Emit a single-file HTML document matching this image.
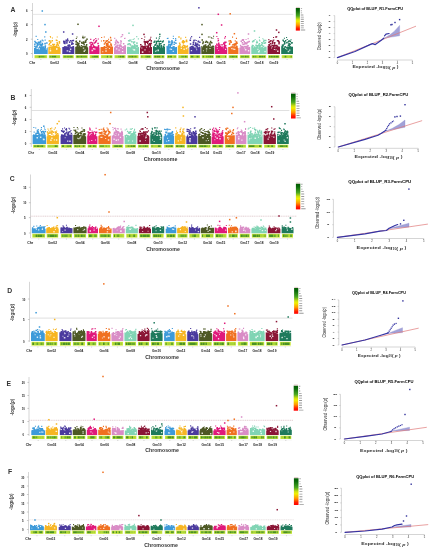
<!DOCTYPE html><html><head><meta charset="utf-8"><style>html,body{margin:0;padding:0;background:#fff;width:432px;height:550px;overflow:hidden}svg{display:block;filter:blur(0.35px)}</style></head><body>
<svg width="432" height="550" viewBox="0 0 432 550" font-family='"Liberation Sans", sans-serif'>
<defs><linearGradient id="leg" x1="0" y1="0" x2="0" y2="1"><stop offset="0" stop-color="#005a00"/><stop offset="0.12" stop-color="#0a6a0a"/><stop offset="0.35" stop-color="#4aa820"/><stop offset="0.5" stop-color="#d0e010"/><stop offset="0.58" stop-color="#f0f000"/><stop offset="0.75" stop-color="#ff9a00"/><stop offset="0.9" stop-color="#ff2000"/><stop offset="1" stop-color="#ff0000"/></linearGradient><linearGradient id="dens" x1="0" y1="0" x2="1" y2="0"><stop offset="0" stop-color="#b0dc30"/><stop offset="0.15" stop-color="#5aa020"/><stop offset="0.5" stop-color="#6aac28"/><stop offset="0.85" stop-color="#4a9420"/><stop offset="1" stop-color="#b8e030"/></linearGradient></defs>
<rect width="432" height="550" fill="#fff"/>
<text x="12.90" y="9.20" font-size="6.8" fill="#333" text-anchor="middle" font-weight="bold" dominant-baseline="central">A</text>
<text x="14.7" y="29.5" font-size="5.8" fill="#333" font-weight="bold" text-anchor="middle" dominant-baseline="central" textLength="14.8" lengthAdjust="spacingAndGlyphs" transform="rotate(-90 14.7 29.5)">-log<tspan font-size="3.2" dy="1">10</tspan><tspan dy="-1">(</tspan><tspan font-style="italic">p</tspan>)</text>
<line x1="32.5" y1="3" x2="32.5" y2="58" stroke="#bbb" stroke-width="0.6"/>
<line x1="30.9" y1="10.5" x2="32.5" y2="10.5" stroke="#999" stroke-width="0.5"/>
<text x="26.70" y="11.20" font-size="2.8" fill="#222" text-anchor="middle" font-weight="bold" dominant-baseline="central">6</text>
<line x1="30.9" y1="24.6" x2="32.5" y2="24.6" stroke="#999" stroke-width="0.5"/>
<text x="26.70" y="25.30" font-size="2.8" fill="#222" text-anchor="middle" font-weight="bold" dominant-baseline="central">4</text>
<line x1="30.9" y1="39.2" x2="32.5" y2="39.2" stroke="#999" stroke-width="0.5"/>
<text x="26.70" y="39.90" font-size="2.8" fill="#222" text-anchor="middle" font-weight="bold" dominant-baseline="central">2</text>
<line x1="30.9" y1="53.5" x2="32.5" y2="53.5" stroke="#999" stroke-width="0.5"/>
<text x="26.70" y="54.20" font-size="2.8" fill="#222" text-anchor="middle" font-weight="bold" dominant-baseline="central">0</text>
<line x1="32.5" y1="14.4" x2="293.2" y2="14.4" stroke="#e0e0e0" stroke-width="0.8" />
<path d="M34.0 54.1V47.9H35.0V47.9H36.0V46.9H37.0V46.8H38.0V47.6H39.0V46.2H40.0V47.1H41.0V47.4H42.0V46.8H43.0V47.2H44.0V47.5H45.0V46.4H46.0V47.9H47.0V47.5H47.7V54.1ZM36.4 44.4h1.5v1.5h-1.5zM34.2 40.7h1.5v1.5h-1.5zM42.0 47.4h1.5v1.5h-1.5zM41.5 42.8h1.5v1.5h-1.5zM38.0 42.0h1.5v1.5h-1.5zM44.3 42.9h1.5v1.5h-1.5zM46.1 42.3h1.5v1.5h-1.5zM37.4 44.0h1.5v1.5h-1.5zM38.8 41.6h1.5v1.5h-1.5zM43.1 46.2h1.5v1.5h-1.5zM38.2 42.3h1.5v1.5h-1.5zM36.8 43.1h1.5v1.5h-1.5zM34.8 47.2h1.5v1.5h-1.5zM44.6 45.3h1.5v1.5h-1.5zM34.1 45.5h1.5v1.5h-1.5zM41.2 46.2h1.5v1.5h-1.5zM36.2 46.0h1.5v1.5h-1.5zM38.1 47.5h1.5v1.5h-1.5zM40.3 43.9h1.5v1.5h-1.5zM39.9 40.4h1.5v1.5h-1.5zM42.7 47.5h1.5v1.5h-1.5zM43.2 47.3h1.5v1.5h-1.5zM41.8 43.4h1.5v1.5h-1.5zM35.6 46.2h1.5v1.5h-1.5zM41.2 44.8h1.5v1.5h-1.5zM39.6 46.7h1.5v1.5h-1.5zM43.0 46.3h1.5v1.5h-1.5zM44.4 42.7h1.5v1.5h-1.5zM41.0 46.9h1.5v1.5h-1.5zM39.9 41.2h1.5v1.5h-1.5zM40.6 47.0h1.5v1.5h-1.5zM41.1 47.4h1.5v1.5h-1.5zM34.1 43.5h1.5v1.5h-1.5zM37.7 41.5h1.5v1.5h-1.5zM35.9 42.2h1.5v1.5h-1.5zM37.0 44.2h1.5v1.5h-1.5zM39.1 44.0h1.5v1.5h-1.5zM39.4 43.3h1.5v1.5h-1.5zM40.1 44.9h1.5v1.5h-1.5zM34.9 41.7h1.5v1.5h-1.5zM35.9 46.9h1.5v1.5h-1.5zM37.2 39.0h1.1v1.1h-1.1zM44.6 39.6h1.1v1.1h-1.1zM41.7 39.6h1.1v1.1h-1.1zM42.5 40.3h1.1v1.1h-1.1zM35.6 35.8h1.1v1.1h-1.1zM44.2 36.3h1.1v1.1h-1.1z" fill="#3d9ad9"/>
<path d="M38.5 48.0h1.0v1.0h-1.0zM45.8 48.3h1.1v1.1h-1.1zM38.7 48.3h1.2v1.2h-1.2zM36.5 47.6h1.5v1.5h-1.5z" fill="#fff" fill-opacity="0.8"/>
<rect x="34.50" y="55.2" width="12.70" height="3.00" fill="#cce838"/>
<path d="M35.3 55.8h1.1v1.8h-1.1zM36.7 55.8h1.8v1.8h-1.8zM45.3 55.8h1.1v1.8h-1.1z" fill="#a8d43a"/>
<path d="M38.6 55.8h1.5v1.8h-1.5z" fill="#4a9226"/>
<path d="M40.1 55.8h1.3v1.8h-1.3zM41.4 55.8h2.6v1.8h-2.6zM44.3 55.8h1.0v1.8h-1.0z" fill="#66aa30"/>
<line x1="40.85" y1="59" x2="40.85" y2="60" stroke="#888" stroke-width="0.4"/>
<path d="M48.3 54.1V46.8H49.3V46.5H50.3V46.9H51.3V46.4H52.3V46.1H53.3V46.5H54.3V47.0H55.3V47.3H56.3V46.0H57.3V46.6H58.3V46.8H59.3V47.9H60.3V48.0H60.6V54.1ZM58.7 41.2h1.5v1.5h-1.5zM49.1 40.0h1.5v1.5h-1.5zM56.3 47.0h1.5v1.5h-1.5zM52.0 43.8h1.5v1.5h-1.5zM50.2 44.9h1.5v1.5h-1.5zM50.0 47.2h1.5v1.5h-1.5zM53.1 47.1h1.5v1.5h-1.5zM58.4 46.4h1.5v1.5h-1.5zM55.8 47.5h1.5v1.5h-1.5zM57.6 44.6h1.5v1.5h-1.5zM53.6 43.8h1.5v1.5h-1.5zM58.6 41.0h1.5v1.5h-1.5zM52.5 46.8h1.5v1.5h-1.5zM57.8 47.4h1.5v1.5h-1.5zM49.0 42.8h1.5v1.5h-1.5zM50.0 41.5h1.5v1.5h-1.5zM48.5 40.3h1.5v1.5h-1.5zM53.0 45.4h1.5v1.5h-1.5zM56.7 46.6h1.5v1.5h-1.5zM55.3 47.3h1.5v1.5h-1.5zM48.6 47.2h1.5v1.5h-1.5zM55.7 39.5h1.5v1.5h-1.5zM51.5 40.1h1.5v1.5h-1.5zM51.7 47.4h1.5v1.5h-1.5zM55.9 44.2h1.5v1.5h-1.5zM56.4 42.1h1.5v1.5h-1.5zM55.4 47.4h1.5v1.5h-1.5zM54.2 45.9h1.5v1.5h-1.5zM52.3 44.0h1.5v1.5h-1.5zM54.4 47.4h1.5v1.5h-1.5zM55.3 45.7h1.5v1.5h-1.5zM48.4 44.0h1.5v1.5h-1.5zM58.7 42.2h1.5v1.5h-1.5zM49.1 40.1h1.5v1.5h-1.5zM49.7 47.4h1.5v1.5h-1.5zM56.9 43.5h1.5v1.5h-1.5zM50.0 36.7h1.1v1.1h-1.1zM51.5 40.5h1.1v1.1h-1.1zM49.8 36.0h1.1v1.1h-1.1zM51.9 37.4h1.1v1.1h-1.1zM56.7 36.5h1.1v1.1h-1.1zM56.6 40.1h1.1v1.1h-1.1z" fill="#f7b522"/>
<path d="M56.1 48.8h1.3v1.3h-1.3zM49.9 48.5h1.0v1.0h-1.0zM49.7 49.9h1.5v1.5h-1.5zM56.1 47.9h1.4v1.4h-1.4z" fill="#fff" fill-opacity="0.8"/>
<rect x="48.80" y="55.2" width="11.30" height="3.00" fill="#cce838"/>
<path d="M49.6 55.8h1.8v1.8h-1.8zM58.7 55.8h0.6v1.8h-0.6z" fill="#66aa30"/>
<path d="M51.7 55.8h2.1v1.8h-2.1zM53.9 55.8h2.5v1.8h-2.5z" fill="#4a9226"/>
<path d="M56.4 55.8h2.3v1.8h-2.3z" fill="#a8d43a"/>
<line x1="54.45" y1="59" x2="54.45" y2="60" stroke="#888" stroke-width="0.4"/>
<text x="54.45" y="63.00" font-size="2.8" fill="#222" text-anchor="middle" font-weight="bold" dominant-baseline="central" textLength="9" lengthAdjust="spacingAndGlyphs">Gm02</text>
<path d="M62.3 54.1V47.0H63.3V47.6H64.3V46.0H65.3V46.8H66.3V47.5H67.3V47.9H68.3V46.0H69.3V47.2H70.3V46.2H71.3V47.1H72.3V46.0H73.3V47.6H74.3V54.1ZM65.5 39.4h1.5v1.5h-1.5zM72.3 43.1h1.5v1.5h-1.5zM62.6 46.9h1.5v1.5h-1.5zM67.2 39.8h1.5v1.5h-1.5zM65.3 46.3h1.5v1.5h-1.5zM71.3 41.9h1.5v1.5h-1.5zM64.7 47.4h1.5v1.5h-1.5zM65.4 46.6h1.5v1.5h-1.5zM67.3 44.7h1.5v1.5h-1.5zM69.2 44.7h1.5v1.5h-1.5zM64.7 47.5h1.5v1.5h-1.5zM66.2 47.2h1.5v1.5h-1.5zM64.2 42.8h1.5v1.5h-1.5zM66.8 46.5h1.5v1.5h-1.5zM63.5 47.5h1.5v1.5h-1.5zM68.4 45.4h1.5v1.5h-1.5zM70.1 47.3h1.5v1.5h-1.5zM63.1 40.6h1.5v1.5h-1.5zM63.5 42.4h1.5v1.5h-1.5zM66.2 40.8h1.5v1.5h-1.5zM71.1 46.9h1.5v1.5h-1.5zM71.0 43.5h1.5v1.5h-1.5zM72.6 46.0h1.5v1.5h-1.5zM64.3 40.9h1.5v1.5h-1.5zM62.3 47.4h1.5v1.5h-1.5zM69.8 47.5h1.5v1.5h-1.5zM71.8 39.9h1.5v1.5h-1.5zM72.6 39.7h1.5v1.5h-1.5zM68.9 47.3h1.5v1.5h-1.5zM68.9 41.5h1.5v1.5h-1.5zM64.1 42.0h1.5v1.5h-1.5zM67.7 47.4h1.5v1.5h-1.5zM66.1 42.2h1.5v1.5h-1.5zM63.8 46.6h1.5v1.5h-1.5zM63.0 41.1h1.5v1.5h-1.5zM68.4 44.3h1.5v1.5h-1.5zM67.0 39.2h1.1v1.1h-1.1zM67.1 38.3h1.1v1.1h-1.1zM69.6 40.5h1.1v1.1h-1.1zM70.0 40.0h1.1v1.1h-1.1zM65.4 39.8h1.1v1.1h-1.1zM71.0 40.6h1.1v1.1h-1.1z" fill="#4a3a9e"/>
<path d="M67.2 50.3h1.1v1.1h-1.1zM68.9 50.7h1.6v1.6h-1.6zM66.6 50.3h1.3v1.3h-1.3zM69.9 48.5h1.4v1.4h-1.4z" fill="#fff" fill-opacity="0.8"/>
<rect x="62.80" y="55.2" width="11.00" height="3.00" fill="#cce838"/>
<path d="M63.6 55.8h1.5v1.8h-1.5zM65.1 55.8h1.3v1.8h-1.3zM66.7 55.8h2.4v1.8h-2.4zM69.2 55.8h1.1v1.8h-1.1zM72.2 55.8h0.8v1.8h-0.8z" fill="#66aa30"/>
<path d="M70.2 55.8h1.7v1.8h-1.7z" fill="#4a9226"/>
<line x1="68.30" y1="59" x2="68.30" y2="60" stroke="#888" stroke-width="0.4"/>
<path d="M75.2 54.1V46.8H76.2V46.3H77.2V46.8H78.2V47.8H79.2V46.9H80.2V46.6H81.2V46.9H82.2V46.1H83.2V46.5H84.2V46.7H85.2V46.2H86.2V46.7H87.2V47.5H88.2V54.1ZM75.3 43.5h1.5v1.5h-1.5zM85.3 39.8h1.5v1.5h-1.5zM81.5 47.3h1.5v1.5h-1.5zM77.7 43.2h1.5v1.5h-1.5zM84.9 41.5h1.5v1.5h-1.5zM81.4 42.6h1.5v1.5h-1.5zM80.6 47.0h1.5v1.5h-1.5zM85.3 45.5h1.5v1.5h-1.5zM83.3 46.1h1.5v1.5h-1.5zM76.5 42.0h1.5v1.5h-1.5zM83.4 44.0h1.5v1.5h-1.5zM80.8 44.9h1.5v1.5h-1.5zM77.2 43.0h1.5v1.5h-1.5zM76.5 44.1h1.5v1.5h-1.5zM83.2 42.1h1.5v1.5h-1.5zM78.6 45.4h1.5v1.5h-1.5zM77.0 47.2h1.5v1.5h-1.5zM80.9 41.8h1.5v1.5h-1.5zM85.9 44.0h1.5v1.5h-1.5zM82.1 46.1h1.5v1.5h-1.5zM75.3 40.9h1.5v1.5h-1.5zM77.9 44.3h1.5v1.5h-1.5zM78.2 42.6h1.5v1.5h-1.5zM76.9 47.0h1.5v1.5h-1.5zM77.7 46.4h1.5v1.5h-1.5zM83.0 42.4h1.5v1.5h-1.5zM75.6 40.4h1.5v1.5h-1.5zM83.5 46.7h1.5v1.5h-1.5zM76.6 44.1h1.5v1.5h-1.5zM76.8 45.5h1.5v1.5h-1.5zM84.1 46.0h1.5v1.5h-1.5zM79.0 40.6h1.5v1.5h-1.5zM84.6 40.6h1.5v1.5h-1.5zM75.3 43.5h1.5v1.5h-1.5zM86.1 46.5h1.5v1.5h-1.5zM80.1 47.1h1.5v1.5h-1.5zM82.9 47.4h1.5v1.5h-1.5zM82.7 41.2h1.5v1.5h-1.5zM84.8 41.4h1.5v1.5h-1.5zM84.4 36.5h1.1v1.1h-1.1zM82.4 35.7h1.1v1.1h-1.1zM83.1 37.5h1.1v1.1h-1.1zM76.4 36.5h1.1v1.1h-1.1zM83.4 37.2h1.1v1.1h-1.1zM75.8 38.0h1.1v1.1h-1.1z" fill="#4d5824"/>
<path d="M84.5 49.4h1.3v1.3h-1.3zM82.8 47.4h1.4v1.4h-1.4zM83.5 50.6h1.5v1.5h-1.5zM83.2 47.4h1.0v1.0h-1.0z" fill="#fff" fill-opacity="0.8"/>
<rect x="75.70" y="55.2" width="12.00" height="3.00" fill="#cce838"/>
<path d="M76.5 55.8h2.3v1.8h-2.3zM80.4 55.8h2.2v1.8h-2.2z" fill="#4a9226"/>
<path d="M79.1 55.8h1.3v1.8h-1.3zM82.6 55.8h1.5v1.8h-1.5zM84.1 55.8h1.0v1.8h-1.0zM85.1 55.8h1.8v1.8h-1.8z" fill="#66aa30"/>
<line x1="81.70" y1="59" x2="81.70" y2="60" stroke="#888" stroke-width="0.4"/>
<text x="81.70" y="63.00" font-size="2.8" fill="#222" text-anchor="middle" font-weight="bold" dominant-baseline="central" textLength="9" lengthAdjust="spacingAndGlyphs">Gm04</text>
<path d="M89.2 54.1V46.5H90.2V46.7H91.2V46.2H92.2V47.2H93.2V46.1H94.2V46.5H95.2V46.8H96.2V47.6H97.2V47.1H98.2V47.4H99.5V54.1ZM89.3 42.2h1.5v1.5h-1.5zM93.4 47.4h1.5v1.5h-1.5zM95.7 39.8h1.5v1.5h-1.5zM95.9 47.3h1.5v1.5h-1.5zM94.9 47.2h1.5v1.5h-1.5zM95.8 46.6h1.5v1.5h-1.5zM91.9 43.5h1.5v1.5h-1.5zM90.1 46.6h1.5v1.5h-1.5zM90.3 44.2h1.5v1.5h-1.5zM92.7 44.7h1.5v1.5h-1.5zM90.6 46.8h1.5v1.5h-1.5zM95.1 40.8h1.5v1.5h-1.5zM97.3 42.8h1.5v1.5h-1.5zM94.5 47.1h1.5v1.5h-1.5zM91.0 46.8h1.5v1.5h-1.5zM91.1 46.4h1.5v1.5h-1.5zM93.0 45.8h1.5v1.5h-1.5zM93.8 42.3h1.5v1.5h-1.5zM94.7 41.6h1.5v1.5h-1.5zM97.7 46.2h1.5v1.5h-1.5zM90.4 41.7h1.5v1.5h-1.5zM97.8 44.9h1.5v1.5h-1.5zM90.3 45.6h1.5v1.5h-1.5zM92.7 47.0h1.5v1.5h-1.5zM91.8 42.3h1.5v1.5h-1.5zM92.5 47.1h1.5v1.5h-1.5zM89.3 45.9h1.5v1.5h-1.5zM96.4 46.6h1.5v1.5h-1.5zM94.0 46.1h1.5v1.5h-1.5zM90.6 43.9h1.5v1.5h-1.5zM93.0 40.2h1.1v1.1h-1.1zM97.8 38.4h1.1v1.1h-1.1zM93.6 39.1h1.1v1.1h-1.1zM90.2 38.8h1.1v1.1h-1.1zM95.2 38.0h1.1v1.1h-1.1z" fill="#e0197b"/>
<path d="M92.9 47.9h1.5v1.5h-1.5zM94.4 48.6h1.1v1.1h-1.1zM91.5 49.7h1.6v1.6h-1.6z" fill="#fff" fill-opacity="0.8"/>
<rect x="89.70" y="55.2" width="9.30" height="3.00" fill="#cce838"/>
<path d="M90.5 55.8h1.3v1.8h-1.3z" fill="#a8d43a"/>
<path d="M91.8 55.8h2.1v1.8h-2.1z" fill="#66aa30"/>
<path d="M93.8 55.8h1.4v1.8h-1.4zM95.2 55.8h2.1v1.8h-2.1zM97.3 55.8h0.9v1.8h-0.9z" fill="#4a9226"/>
<line x1="94.35" y1="59" x2="94.35" y2="60" stroke="#888" stroke-width="0.4"/>
<path d="M100.5 54.1V47.2H101.5V47.8H102.5V47.7H103.5V47.2H104.5V46.7H105.5V46.6H106.5V46.2H107.5V47.8H108.5V46.2H109.5V47.2H110.5V47.2H111.5V47.1H112.5V46.6H113.0V54.1ZM106.5 43.3h1.5v1.5h-1.5zM104.4 47.3h1.5v1.5h-1.5zM110.1 43.3h1.5v1.5h-1.5zM103.7 43.3h1.5v1.5h-1.5zM104.2 47.2h1.5v1.5h-1.5zM107.3 45.7h1.5v1.5h-1.5zM108.2 46.9h1.5v1.5h-1.5zM110.8 46.2h1.5v1.5h-1.5zM110.7 47.2h1.5v1.5h-1.5zM108.8 45.5h1.5v1.5h-1.5zM107.2 45.7h1.5v1.5h-1.5zM107.1 42.6h1.5v1.5h-1.5zM105.4 40.5h1.5v1.5h-1.5zM107.2 44.1h1.5v1.5h-1.5zM104.6 42.0h1.5v1.5h-1.5zM105.7 40.3h1.5v1.5h-1.5zM106.0 43.2h1.5v1.5h-1.5zM104.6 47.4h1.5v1.5h-1.5zM105.8 47.1h1.5v1.5h-1.5zM110.3 39.5h1.5v1.5h-1.5zM105.9 42.7h1.5v1.5h-1.5zM103.0 40.0h1.5v1.5h-1.5zM100.8 46.9h1.5v1.5h-1.5zM107.9 41.3h1.5v1.5h-1.5zM109.0 41.5h1.5v1.5h-1.5zM104.8 47.5h1.5v1.5h-1.5zM110.2 43.7h1.5v1.5h-1.5zM105.8 44.5h1.5v1.5h-1.5zM109.6 46.5h1.5v1.5h-1.5zM102.0 47.0h1.5v1.5h-1.5zM106.6 45.6h1.5v1.5h-1.5zM108.4 45.6h1.5v1.5h-1.5zM106.7 40.1h1.5v1.5h-1.5zM103.6 46.0h1.5v1.5h-1.5zM103.7 46.1h1.5v1.5h-1.5zM111.2 47.5h1.5v1.5h-1.5zM110.6 44.5h1.5v1.5h-1.5zM100.9 40.5h1.1v1.1h-1.1zM109.9 36.8h1.1v1.1h-1.1zM101.1 36.9h1.1v1.1h-1.1zM103.8 36.5h1.1v1.1h-1.1zM110.2 37.3h1.1v1.1h-1.1zM108.0 38.7h1.1v1.1h-1.1z" fill="#f07020"/>
<path d="M105.4 48.1h1.2v1.2h-1.2zM108.9 48.0h1.1v1.1h-1.1zM105.3 50.3h1.5v1.5h-1.5zM102.2 51.2h1.1v1.1h-1.1z" fill="#fff" fill-opacity="0.8"/>
<rect x="101.00" y="55.2" width="11.50" height="3.00" fill="#cce838"/>
<path d="M101.8 55.8h2.0v1.8h-2.0zM104.1 55.8h2.3v1.8h-2.3zM108.2 55.8h2.1v1.8h-2.1z" fill="#a8d43a"/>
<path d="M106.7 55.8h1.4v1.8h-1.4zM110.3 55.8h1.4v1.8h-1.4z" fill="#4a9226"/>
<line x1="106.75" y1="59" x2="106.75" y2="60" stroke="#888" stroke-width="0.4"/>
<text x="106.75" y="63.00" font-size="2.8" fill="#222" text-anchor="middle" font-weight="bold" dominant-baseline="central" textLength="9" lengthAdjust="spacingAndGlyphs">Gm06</text>
<path d="M114.0 54.1V47.6H115.0V46.1H116.0V47.5H117.0V47.1H118.0V47.9H119.0V46.4H120.0V48.0H121.0V47.7H122.0V47.1H123.0V47.0H124.0V47.5H125.0V46.3H126.0V54.1ZM115.5 47.4h1.5v1.5h-1.5zM114.5 46.8h1.5v1.5h-1.5zM120.8 47.5h1.5v1.5h-1.5zM115.7 40.0h1.5v1.5h-1.5zM120.4 40.6h1.5v1.5h-1.5zM115.5 39.5h1.5v1.5h-1.5zM124.3 45.1h1.5v1.5h-1.5zM118.4 44.4h1.5v1.5h-1.5zM115.4 46.1h1.5v1.5h-1.5zM116.8 41.1h1.5v1.5h-1.5zM116.0 45.7h1.5v1.5h-1.5zM119.6 45.2h1.5v1.5h-1.5zM118.0 46.7h1.5v1.5h-1.5zM115.1 42.7h1.5v1.5h-1.5zM116.4 44.9h1.5v1.5h-1.5zM117.7 41.9h1.5v1.5h-1.5zM114.8 41.4h1.5v1.5h-1.5zM120.2 42.3h1.5v1.5h-1.5zM119.2 45.3h1.5v1.5h-1.5zM115.5 47.4h1.5v1.5h-1.5zM114.2 44.1h1.5v1.5h-1.5zM123.3 45.9h1.5v1.5h-1.5zM116.8 41.8h1.5v1.5h-1.5zM120.3 47.5h1.5v1.5h-1.5zM122.9 43.1h1.5v1.5h-1.5zM120.5 45.4h1.5v1.5h-1.5zM116.4 47.3h1.5v1.5h-1.5zM115.8 46.2h1.5v1.5h-1.5zM115.5 46.7h1.5v1.5h-1.5zM120.6 47.3h1.5v1.5h-1.5zM122.0 46.6h1.5v1.5h-1.5zM119.9 44.6h1.5v1.5h-1.5zM120.3 45.6h1.5v1.5h-1.5zM119.6 44.3h1.5v1.5h-1.5zM116.6 44.4h1.5v1.5h-1.5zM116.7 45.2h1.5v1.5h-1.5zM124.5 37.7h1.1v1.1h-1.1zM124.0 37.9h1.1v1.1h-1.1zM114.2 37.8h1.1v1.1h-1.1zM120.4 36.4h1.1v1.1h-1.1zM121.3 36.0h1.1v1.1h-1.1zM119.9 40.2h1.1v1.1h-1.1z" fill="#d98cc6"/>
<path d="M121.9 50.9h1.4v1.4h-1.4zM118.4 49.4h1.4v1.4h-1.4zM122.0 48.1h0.9v0.9h-0.9zM115.9 48.2h1.4v1.4h-1.4z" fill="#fff" fill-opacity="0.8"/>
<rect x="114.50" y="55.2" width="11.00" height="3.00" fill="#cce838"/>
<path d="M115.3 55.8h2.6v1.8h-2.6z" fill="#a8d43a"/>
<path d="M118.2 55.8h1.6v1.8h-1.6zM124.3 55.8h0.4v1.8h-0.4z" fill="#66aa30"/>
<path d="M120.0 55.8h1.4v1.8h-1.4zM121.7 55.8h2.3v1.8h-2.3z" fill="#4a9226"/>
<line x1="120.00" y1="59" x2="120.00" y2="60" stroke="#888" stroke-width="0.4"/>
<path d="M127.0 54.1V46.7H128.0V47.1H129.0V47.1H130.0V47.4H131.0V47.4H132.0V46.8H133.0V47.8H134.0V46.1H135.0V47.9H136.0V48.0H137.0V47.8H138.0V47.1H139.0V54.1ZM129.1 39.4h1.5v1.5h-1.5zM133.5 44.8h1.5v1.5h-1.5zM132.5 46.3h1.5v1.5h-1.5zM127.4 46.8h1.5v1.5h-1.5zM133.8 41.2h1.5v1.5h-1.5zM131.1 40.9h1.5v1.5h-1.5zM129.7 44.1h1.5v1.5h-1.5zM136.2 42.3h1.5v1.5h-1.5zM131.2 45.5h1.5v1.5h-1.5zM129.6 44.2h1.5v1.5h-1.5zM131.4 45.5h1.5v1.5h-1.5zM135.2 45.1h1.5v1.5h-1.5zM137.0 47.2h1.5v1.5h-1.5zM133.3 46.0h1.5v1.5h-1.5zM132.6 47.2h1.5v1.5h-1.5zM136.6 45.5h1.5v1.5h-1.5zM131.6 45.3h1.5v1.5h-1.5zM127.9 46.7h1.5v1.5h-1.5zM134.9 46.9h1.5v1.5h-1.5zM130.4 46.6h1.5v1.5h-1.5zM134.0 43.9h1.5v1.5h-1.5zM136.2 42.8h1.5v1.5h-1.5zM132.9 42.2h1.5v1.5h-1.5zM132.2 46.1h1.5v1.5h-1.5zM127.2 43.7h1.5v1.5h-1.5zM136.6 44.9h1.5v1.5h-1.5zM128.9 42.9h1.5v1.5h-1.5zM132.2 47.4h1.5v1.5h-1.5zM135.7 45.9h1.5v1.5h-1.5zM132.9 41.6h1.5v1.5h-1.5zM132.3 46.7h1.5v1.5h-1.5zM130.8 46.9h1.5v1.5h-1.5zM134.6 46.6h1.5v1.5h-1.5zM131.8 47.1h1.5v1.5h-1.5zM127.8 43.3h1.5v1.5h-1.5zM127.9 39.9h1.5v1.5h-1.5zM130.5 39.5h1.1v1.1h-1.1zM133.7 38.2h1.1v1.1h-1.1zM132.6 39.0h1.1v1.1h-1.1zM137.8 38.3h1.1v1.1h-1.1zM129.4 40.6h1.1v1.1h-1.1zM136.2 36.1h1.1v1.1h-1.1z" fill="#80d4b4"/>
<path d="M133.8 49.4h1.4v1.4h-1.4zM132.5 48.7h0.8v0.8h-0.8zM133.5 49.1h1.6v1.6h-1.6zM133.3 49.1h1.2v1.2h-1.2z" fill="#fff" fill-opacity="0.8"/>
<rect x="127.50" y="55.2" width="11.00" height="3.00" fill="#cce838"/>
<path d="M128.3 55.8h1.4v1.8h-1.4zM129.7 55.8h1.7v1.8h-1.7zM133.6 55.8h1.3v1.8h-1.3z" fill="#66aa30"/>
<path d="M131.4 55.8h2.0v1.8h-2.0zM135.2 55.8h1.4v1.8h-1.4z" fill="#4a9226"/>
<path d="M136.9 55.8h0.8v1.8h-0.8z" fill="#a8d43a"/>
<line x1="133.00" y1="59" x2="133.00" y2="60" stroke="#888" stroke-width="0.4"/>
<text x="133.00" y="63.00" font-size="2.8" fill="#222" text-anchor="middle" font-weight="bold" dominant-baseline="central" textLength="9" lengthAdjust="spacingAndGlyphs">Gm08</text>
<path d="M140.0 54.1V47.9H141.0V47.6H142.0V46.9H143.0V47.6H144.0V46.8H145.0V46.7H146.0V47.6H147.0V46.3H148.0V46.8H149.0V47.2H150.0V46.2H151.0V47.1H152.0V54.1ZM141.4 45.7h1.5v1.5h-1.5zM144.4 45.3h1.5v1.5h-1.5zM142.7 46.1h1.5v1.5h-1.5zM142.6 46.1h1.5v1.5h-1.5zM142.4 47.5h1.5v1.5h-1.5zM148.7 39.4h1.5v1.5h-1.5zM144.3 42.4h1.5v1.5h-1.5zM149.7 44.8h1.5v1.5h-1.5zM149.8 43.8h1.5v1.5h-1.5zM140.4 47.0h1.5v1.5h-1.5zM150.4 42.5h1.5v1.5h-1.5zM148.2 44.0h1.5v1.5h-1.5zM147.0 42.7h1.5v1.5h-1.5zM147.6 40.7h1.5v1.5h-1.5zM140.5 46.1h1.5v1.5h-1.5zM142.6 47.4h1.5v1.5h-1.5zM146.4 40.8h1.5v1.5h-1.5zM146.2 45.5h1.5v1.5h-1.5zM145.6 41.5h1.5v1.5h-1.5zM140.0 44.0h1.5v1.5h-1.5zM143.0 46.1h1.5v1.5h-1.5zM149.0 43.1h1.5v1.5h-1.5zM144.3 41.0h1.5v1.5h-1.5zM141.0 45.7h1.5v1.5h-1.5zM150.5 40.3h1.5v1.5h-1.5zM146.9 45.9h1.5v1.5h-1.5zM145.1 41.3h1.5v1.5h-1.5zM141.4 47.4h1.5v1.5h-1.5zM140.3 46.9h1.5v1.5h-1.5zM147.2 45.4h1.5v1.5h-1.5zM146.7 41.6h1.5v1.5h-1.5zM150.3 47.2h1.5v1.5h-1.5zM144.4 43.6h1.5v1.5h-1.5zM143.6 41.1h1.5v1.5h-1.5zM147.8 45.2h1.5v1.5h-1.5zM141.6 45.6h1.5v1.5h-1.5zM141.3 38.0h1.1v1.1h-1.1zM144.2 36.4h1.1v1.1h-1.1zM143.8 39.3h1.1v1.1h-1.1zM150.6 40.1h1.1v1.1h-1.1zM149.9 38.6h1.1v1.1h-1.1zM150.3 36.7h1.1v1.1h-1.1z" fill="#8a1535"/>
<path d="M148.8 51.4h0.8v0.8h-0.8zM141.8 51.3h1.6v1.6h-1.6zM141.3 47.4h1.1v1.1h-1.1zM144.4 49.2h1.2v1.2h-1.2z" fill="#fff" fill-opacity="0.8"/>
<rect x="140.50" y="55.2" width="11.00" height="3.00" fill="#cce838"/>
<path d="M141.3 55.8h1.3v1.8h-1.3zM145.2 55.8h1.5v1.8h-1.5zM150.5 55.8h0.2v1.8h-0.2z" fill="#66aa30"/>
<path d="M142.9 55.8h2.2v1.8h-2.2z" fill="#a8d43a"/>
<path d="M146.6 55.8h2.0v1.8h-2.0zM148.7 55.8h1.5v1.8h-1.5z" fill="#4a9226"/>
<line x1="146.00" y1="59" x2="146.00" y2="60" stroke="#888" stroke-width="0.4"/>
<path d="M153.0 54.1V46.2H154.0V46.2H155.0V47.1H156.0V47.8H157.0V46.6H158.0V46.5H159.0V46.9H160.0V47.5H161.0V47.2H162.0V47.6H163.0V46.5H164.0V46.7H165.0V54.1ZM160.8 46.6h1.5v1.5h-1.5zM159.0 43.0h1.5v1.5h-1.5zM159.9 40.6h1.5v1.5h-1.5zM156.4 45.8h1.5v1.5h-1.5zM156.1 47.3h1.5v1.5h-1.5zM158.7 45.2h1.5v1.5h-1.5zM155.7 42.7h1.5v1.5h-1.5zM162.1 40.8h1.5v1.5h-1.5zM157.3 46.4h1.5v1.5h-1.5zM158.6 43.1h1.5v1.5h-1.5zM156.0 40.7h1.5v1.5h-1.5zM157.1 40.6h1.5v1.5h-1.5zM153.4 41.5h1.5v1.5h-1.5zM154.1 40.4h1.5v1.5h-1.5zM161.7 41.3h1.5v1.5h-1.5zM163.3 47.4h1.5v1.5h-1.5zM155.6 42.0h1.5v1.5h-1.5zM157.9 45.5h1.5v1.5h-1.5zM160.4 45.8h1.5v1.5h-1.5zM162.7 45.8h1.5v1.5h-1.5zM163.1 46.4h1.5v1.5h-1.5zM160.4 46.2h1.5v1.5h-1.5zM160.6 45.0h1.5v1.5h-1.5zM156.6 44.8h1.5v1.5h-1.5zM157.9 47.3h1.5v1.5h-1.5zM154.2 44.5h1.5v1.5h-1.5zM153.0 47.4h1.5v1.5h-1.5zM160.2 42.9h1.5v1.5h-1.5zM158.5 41.1h1.5v1.5h-1.5zM157.8 45.7h1.5v1.5h-1.5zM156.4 45.5h1.5v1.5h-1.5zM163.4 44.1h1.5v1.5h-1.5zM160.0 47.4h1.5v1.5h-1.5zM158.7 43.9h1.5v1.5h-1.5zM155.4 47.4h1.5v1.5h-1.5zM154.8 44.1h1.5v1.5h-1.5zM158.9 37.7h1.1v1.1h-1.1zM162.9 40.3h1.1v1.1h-1.1zM155.9 37.6h1.1v1.1h-1.1zM158.6 37.4h1.1v1.1h-1.1zM158.1 39.5h1.1v1.1h-1.1zM159.3 35.9h1.1v1.1h-1.1z" fill="#1f7a5c"/>
<path d="M155.6 50.4h1.0v1.0h-1.0zM157.4 49.6h1.6v1.6h-1.6zM155.8 50.3h0.9v0.9h-0.9zM155.1 51.2h0.9v0.9h-0.9z" fill="#fff" fill-opacity="0.8"/>
<rect x="153.50" y="55.2" width="11.00" height="3.00" fill="#cce838"/>
<path d="M154.3 55.8h1.7v1.8h-1.7zM156.3 55.8h2.5v1.8h-2.5zM158.9 55.8h1.6v1.8h-1.6zM162.0 55.8h1.7v1.8h-1.7z" fill="#4a9226"/>
<path d="M160.8 55.8h1.1v1.8h-1.1z" fill="#a8d43a"/>
<line x1="159.00" y1="59" x2="159.00" y2="60" stroke="#888" stroke-width="0.4"/>
<text x="159.00" y="63.00" font-size="2.8" fill="#222" text-anchor="middle" font-weight="bold" dominant-baseline="central" textLength="9" lengthAdjust="spacingAndGlyphs">Gm10</text>
<path d="M166.5 54.1V46.1H167.5V46.4H168.5V46.5H169.5V47.7H170.5V47.2H171.5V47.3H172.5V47.2H173.5V46.7H174.5V47.2H175.5V46.9H176.5V48.0H177.0V54.1ZM175.2 42.4h1.5v1.5h-1.5zM168.1 43.7h1.5v1.5h-1.5zM167.8 46.2h1.5v1.5h-1.5zM171.1 41.3h1.5v1.5h-1.5zM171.1 47.0h1.5v1.5h-1.5zM171.8 41.4h1.5v1.5h-1.5zM171.2 47.4h1.5v1.5h-1.5zM174.9 39.4h1.5v1.5h-1.5zM170.6 43.1h1.5v1.5h-1.5zM175.5 46.9h1.5v1.5h-1.5zM169.5 44.0h1.5v1.5h-1.5zM171.2 42.6h1.5v1.5h-1.5zM173.4 43.4h1.5v1.5h-1.5zM170.7 47.5h1.5v1.5h-1.5zM173.8 41.4h1.5v1.5h-1.5zM167.3 46.6h1.5v1.5h-1.5zM174.4 47.2h1.5v1.5h-1.5zM172.4 46.3h1.5v1.5h-1.5zM171.2 39.9h1.5v1.5h-1.5zM169.1 41.2h1.5v1.5h-1.5zM168.1 41.7h1.5v1.5h-1.5zM167.7 45.2h1.5v1.5h-1.5zM173.2 45.9h1.5v1.5h-1.5zM175.5 47.4h1.5v1.5h-1.5zM167.9 46.0h1.5v1.5h-1.5zM169.7 44.0h1.5v1.5h-1.5zM169.5 46.4h1.5v1.5h-1.5zM168.1 40.4h1.5v1.5h-1.5zM171.8 47.2h1.5v1.5h-1.5zM171.0 44.1h1.5v1.5h-1.5zM169.6 45.0h1.5v1.5h-1.5zM172.8 35.7h1.1v1.1h-1.1zM167.4 37.8h1.1v1.1h-1.1zM172.8 38.0h1.1v1.1h-1.1zM166.8 38.0h1.1v1.1h-1.1zM175.1 38.0h1.1v1.1h-1.1z" fill="#3d9ad9"/>
<path d="M169.6 48.6h1.2v1.2h-1.2zM170.9 48.8h1.2v1.2h-1.2zM172.7 50.8h1.1v1.1h-1.1z" fill="#fff" fill-opacity="0.8"/>
<rect x="167.00" y="55.2" width="9.50" height="3.00" fill="#cce838"/>
<path d="M167.8 55.8h1.4v1.8h-1.4zM169.5 55.8h2.5v1.8h-2.5z" fill="#4a9226"/>
<path d="M172.4 55.8h1.6v1.8h-1.6z" fill="#a8d43a"/>
<path d="M174.3 55.8h1.4v1.8h-1.4z" fill="#66aa30"/>
<line x1="171.75" y1="59" x2="171.75" y2="60" stroke="#888" stroke-width="0.4"/>
<path d="M177.8 54.1V46.0H178.8V46.5H179.8V46.9H180.8V47.0H181.8V46.8H182.8V47.0H183.8V47.6H184.8V47.8H185.8V47.8H186.8V47.7H187.8V47.7H188.6V54.1ZM182.5 41.6h1.5v1.5h-1.5zM179.6 46.9h1.5v1.5h-1.5zM185.8 39.5h1.5v1.5h-1.5zM186.3 46.1h1.5v1.5h-1.5zM184.1 45.0h1.5v1.5h-1.5zM181.7 40.9h1.5v1.5h-1.5zM183.2 41.1h1.5v1.5h-1.5zM179.3 46.1h1.5v1.5h-1.5zM182.6 42.2h1.5v1.5h-1.5zM184.7 46.3h1.5v1.5h-1.5zM178.4 45.1h1.5v1.5h-1.5zM178.9 42.6h1.5v1.5h-1.5zM178.4 47.4h1.5v1.5h-1.5zM179.3 44.1h1.5v1.5h-1.5zM184.1 46.9h1.5v1.5h-1.5zM181.6 45.7h1.5v1.5h-1.5zM182.7 40.1h1.5v1.5h-1.5zM183.1 46.4h1.5v1.5h-1.5zM183.7 46.4h1.5v1.5h-1.5zM186.0 40.8h1.5v1.5h-1.5zM182.3 46.8h1.5v1.5h-1.5zM180.7 47.5h1.5v1.5h-1.5zM186.6 45.3h1.5v1.5h-1.5zM182.3 47.4h1.5v1.5h-1.5zM185.9 46.1h1.5v1.5h-1.5zM183.7 41.3h1.5v1.5h-1.5zM183.3 47.3h1.5v1.5h-1.5zM182.0 47.2h1.5v1.5h-1.5zM179.3 46.3h1.5v1.5h-1.5zM182.7 44.6h1.5v1.5h-1.5zM181.7 41.5h1.5v1.5h-1.5zM178.9 45.2h1.5v1.5h-1.5zM180.3 38.5h1.1v1.1h-1.1zM182.2 40.3h1.1v1.1h-1.1zM180.4 37.4h1.1v1.1h-1.1zM185.5 40.6h1.1v1.1h-1.1zM185.1 36.8h1.1v1.1h-1.1z" fill="#f7b522"/>
<path d="M183.4 48.4h1.5v1.5h-1.5zM185.8 47.7h1.5v1.5h-1.5zM180.7 47.8h1.3v1.3h-1.3z" fill="#fff" fill-opacity="0.8"/>
<rect x="178.30" y="55.2" width="9.80" height="3.00" fill="#cce838"/>
<path d="M179.1 55.8h2.1v1.8h-2.1z" fill="#a8d43a"/>
<path d="M181.2 55.8h2.0v1.8h-2.0zM183.1 55.8h1.6v1.8h-1.6z" fill="#66aa30"/>
<path d="M185.0 55.8h1.6v1.8h-1.6zM186.9 55.8h0.4v1.8h-0.4z" fill="#4a9226"/>
<line x1="183.20" y1="59" x2="183.20" y2="60" stroke="#888" stroke-width="0.4"/>
<text x="183.20" y="63.00" font-size="2.8" fill="#222" text-anchor="middle" font-weight="bold" dominant-baseline="central" textLength="9" lengthAdjust="spacingAndGlyphs">Gm12</text>
<path d="M189.4 54.1V46.7H190.4V47.8H191.4V47.2H192.4V46.1H193.4V46.5H194.4V47.8H195.4V46.4H196.4V47.2H197.4V47.8H198.4V47.9H199.4V47.6H200.6V54.1ZM191.7 46.2h1.5v1.5h-1.5zM192.4 47.3h1.5v1.5h-1.5zM192.1 47.0h1.5v1.5h-1.5zM192.6 41.7h1.5v1.5h-1.5zM197.5 41.1h1.5v1.5h-1.5zM198.4 44.6h1.5v1.5h-1.5zM196.7 46.2h1.5v1.5h-1.5zM190.6 46.0h1.5v1.5h-1.5zM193.0 47.4h1.5v1.5h-1.5zM189.8 43.2h1.5v1.5h-1.5zM193.2 39.8h1.5v1.5h-1.5zM189.5 46.8h1.5v1.5h-1.5zM196.1 45.2h1.5v1.5h-1.5zM198.9 46.6h1.5v1.5h-1.5zM194.9 42.3h1.5v1.5h-1.5zM195.1 43.5h1.5v1.5h-1.5zM197.7 40.6h1.5v1.5h-1.5zM192.5 43.8h1.5v1.5h-1.5zM199.1 41.4h1.5v1.5h-1.5zM191.8 45.7h1.5v1.5h-1.5zM196.7 43.2h1.5v1.5h-1.5zM194.2 44.5h1.5v1.5h-1.5zM196.8 43.2h1.5v1.5h-1.5zM193.4 47.5h1.5v1.5h-1.5zM196.9 43.7h1.5v1.5h-1.5zM192.8 42.0h1.5v1.5h-1.5zM195.3 44.1h1.5v1.5h-1.5zM196.3 46.3h1.5v1.5h-1.5zM193.2 40.0h1.5v1.5h-1.5zM195.6 45.4h1.5v1.5h-1.5zM198.1 47.3h1.5v1.5h-1.5zM189.6 39.4h1.5v1.5h-1.5zM189.5 39.5h1.5v1.5h-1.5zM195.7 40.0h1.1v1.1h-1.1zM194.5 39.5h1.1v1.1h-1.1zM191.1 36.1h1.1v1.1h-1.1zM199.1 36.8h1.1v1.1h-1.1zM190.1 37.6h1.1v1.1h-1.1z" fill="#4a3a9e"/>
<path d="M196.2 49.3h1.0v1.0h-1.0zM195.7 47.4h1.1v1.1h-1.1zM190.8 49.9h1.3v1.3h-1.3z" fill="#fff" fill-opacity="0.8"/>
<rect x="189.90" y="55.2" width="10.20" height="3.00" fill="#cce838"/>
<path d="M190.7 55.8h1.0v1.8h-1.0zM191.7 55.8h1.9v1.8h-1.9zM196.4 55.8h2.0v1.8h-2.0zM198.7 55.8h0.6v1.8h-0.6z" fill="#4a9226"/>
<path d="M193.7 55.8h2.4v1.8h-2.4z" fill="#a8d43a"/>
<line x1="195.00" y1="59" x2="195.00" y2="60" stroke="#888" stroke-width="0.4"/>
<path d="M201.3 54.1V46.0H202.3V47.4H203.3V46.9H204.3V46.3H205.3V46.2H206.3V47.9H207.3V47.0H208.3V46.5H209.3V46.2H210.3V47.5H211.3V47.6H212.3V47.8H213.3V46.0H214.3V54.1ZM207.6 45.0h1.5v1.5h-1.5zM209.3 47.3h1.5v1.5h-1.5zM211.4 47.4h1.5v1.5h-1.5zM209.8 47.4h1.5v1.5h-1.5zM208.3 47.1h1.5v1.5h-1.5zM209.7 47.1h1.5v1.5h-1.5zM203.1 45.3h1.5v1.5h-1.5zM205.0 47.5h1.5v1.5h-1.5zM204.4 44.5h1.5v1.5h-1.5zM203.3 47.2h1.5v1.5h-1.5zM205.2 47.4h1.5v1.5h-1.5zM205.0 44.3h1.5v1.5h-1.5zM209.9 40.7h1.5v1.5h-1.5zM209.3 42.3h1.5v1.5h-1.5zM209.5 44.3h1.5v1.5h-1.5zM202.5 41.3h1.5v1.5h-1.5zM207.9 47.4h1.5v1.5h-1.5zM211.0 41.9h1.5v1.5h-1.5zM211.6 45.7h1.5v1.5h-1.5zM211.4 46.3h1.5v1.5h-1.5zM204.8 41.6h1.5v1.5h-1.5zM210.7 46.7h1.5v1.5h-1.5zM205.6 47.1h1.5v1.5h-1.5zM207.4 45.7h1.5v1.5h-1.5zM209.0 47.4h1.5v1.5h-1.5zM202.1 42.7h1.5v1.5h-1.5zM212.3 45.4h1.5v1.5h-1.5zM205.4 46.0h1.5v1.5h-1.5zM209.9 46.6h1.5v1.5h-1.5zM206.0 41.0h1.5v1.5h-1.5zM207.0 41.7h1.5v1.5h-1.5zM202.8 45.9h1.5v1.5h-1.5zM205.1 47.5h1.5v1.5h-1.5zM203.8 46.0h1.5v1.5h-1.5zM206.1 46.2h1.5v1.5h-1.5zM201.5 39.3h1.5v1.5h-1.5zM203.9 46.9h1.5v1.5h-1.5zM208.6 43.6h1.5v1.5h-1.5zM201.4 47.2h1.5v1.5h-1.5zM212.4 37.7h1.1v1.1h-1.1zM205.7 40.4h1.1v1.1h-1.1zM213.0 35.7h1.1v1.1h-1.1zM210.9 37.3h1.1v1.1h-1.1zM209.3 36.4h1.1v1.1h-1.1zM207.9 36.4h1.1v1.1h-1.1z" fill="#4d5824"/>
<path d="M206.1 50.6h0.8v0.8h-0.8zM202.9 50.3h0.9v0.9h-0.9zM205.9 48.2h1.4v1.4h-1.4zM209.4 47.9h1.2v1.2h-1.2z" fill="#fff" fill-opacity="0.8"/>
<rect x="201.80" y="55.2" width="12.00" height="3.00" fill="#cce838"/>
<path d="M202.6 55.8h1.3v1.8h-1.3zM209.5 55.8h2.1v1.8h-2.1zM211.9 55.8h1.1v1.8h-1.1z" fill="#4a9226"/>
<path d="M204.2 55.8h1.6v1.8h-1.6z" fill="#a8d43a"/>
<path d="M206.1 55.8h1.2v1.8h-1.2zM207.6 55.8h1.9v1.8h-1.9z" fill="#66aa30"/>
<line x1="207.80" y1="59" x2="207.80" y2="60" stroke="#888" stroke-width="0.4"/>
<text x="207.80" y="63.00" font-size="2.8" fill="#222" text-anchor="middle" font-weight="bold" dominant-baseline="central" textLength="9" lengthAdjust="spacingAndGlyphs">Gm14</text>
<path d="M215.0 54.1V46.8H216.0V46.8H217.0V47.8H218.0V47.2H219.0V47.6H220.0V46.5H221.0V47.3H222.0V46.7H223.0V47.2H224.0V47.0H225.0V46.7H226.0V47.9H227.2V54.1ZM217.2 44.6h1.5v1.5h-1.5zM216.3 47.0h1.5v1.5h-1.5zM221.8 46.6h1.5v1.5h-1.5zM217.7 45.9h1.5v1.5h-1.5zM225.1 41.4h1.5v1.5h-1.5zM220.1 47.3h1.5v1.5h-1.5zM218.8 45.5h1.5v1.5h-1.5zM216.1 43.5h1.5v1.5h-1.5zM223.0 43.0h1.5v1.5h-1.5zM223.9 45.2h1.5v1.5h-1.5zM218.1 46.0h1.5v1.5h-1.5zM218.0 42.6h1.5v1.5h-1.5zM224.3 42.0h1.5v1.5h-1.5zM225.0 44.9h1.5v1.5h-1.5zM217.8 45.3h1.5v1.5h-1.5zM220.6 47.1h1.5v1.5h-1.5zM218.4 46.1h1.5v1.5h-1.5zM219.9 46.0h1.5v1.5h-1.5zM215.1 46.2h1.5v1.5h-1.5zM215.2 45.0h1.5v1.5h-1.5zM224.1 47.4h1.5v1.5h-1.5zM217.9 46.1h1.5v1.5h-1.5zM220.9 47.5h1.5v1.5h-1.5zM224.2 41.4h1.5v1.5h-1.5zM218.5 45.7h1.5v1.5h-1.5zM221.3 44.1h1.5v1.5h-1.5zM223.8 43.7h1.5v1.5h-1.5zM222.5 47.4h1.5v1.5h-1.5zM225.6 47.4h1.5v1.5h-1.5zM223.2 42.3h1.5v1.5h-1.5zM218.0 43.2h1.5v1.5h-1.5zM223.4 46.3h1.5v1.5h-1.5zM218.4 46.9h1.5v1.5h-1.5zM219.1 44.3h1.5v1.5h-1.5zM221.9 47.4h1.5v1.5h-1.5zM219.4 47.0h1.5v1.5h-1.5zM224.2 37.6h1.1v1.1h-1.1zM217.5 38.1h1.1v1.1h-1.1zM216.3 35.9h1.1v1.1h-1.1zM224.9 36.1h1.1v1.1h-1.1zM217.5 40.3h1.1v1.1h-1.1zM218.0 39.8h1.1v1.1h-1.1z" fill="#e0197b"/>
<path d="M225.0 48.7h1.2v1.2h-1.2zM222.9 47.4h0.8v0.8h-0.8zM216.8 47.9h0.9v0.9h-0.9zM218.2 50.2h0.9v0.9h-0.9z" fill="#fff" fill-opacity="0.8"/>
<rect x="215.50" y="55.2" width="11.20" height="3.00" fill="#cce838"/>
<path d="M216.3 55.8h1.3v1.8h-1.3zM217.9 55.8h2.3v1.8h-2.3zM224.8 55.8h1.1v1.8h-1.1z" fill="#4a9226"/>
<path d="M220.1 55.8h1.7v1.8h-1.7zM222.2 55.8h2.3v1.8h-2.3z" fill="#a8d43a"/>
<line x1="221.10" y1="59" x2="221.10" y2="60" stroke="#888" stroke-width="0.4"/>
<text x="221.10" y="63.00" font-size="2.8" fill="#222" text-anchor="middle" font-weight="bold" dominant-baseline="central" textLength="9" lengthAdjust="spacingAndGlyphs">Gm15</text>
<path d="M228.2 54.1V47.1H229.2V47.7H230.2V46.6H231.2V47.5H232.2V47.4H233.2V47.8H234.2V47.1H235.2V47.0H236.2V46.6H237.2V47.9H238.4V54.1ZM236.3 42.4h1.5v1.5h-1.5zM235.1 42.8h1.5v1.5h-1.5zM228.5 47.0h1.5v1.5h-1.5zM236.1 46.3h1.5v1.5h-1.5zM236.2 47.1h1.5v1.5h-1.5zM235.8 41.2h1.5v1.5h-1.5zM231.4 45.8h1.5v1.5h-1.5zM232.4 46.8h1.5v1.5h-1.5zM233.3 45.8h1.5v1.5h-1.5zM235.4 47.1h1.5v1.5h-1.5zM229.5 40.1h1.5v1.5h-1.5zM230.1 47.5h1.5v1.5h-1.5zM236.3 47.5h1.5v1.5h-1.5zM235.2 43.9h1.5v1.5h-1.5zM233.6 43.2h1.5v1.5h-1.5zM234.1 47.5h1.5v1.5h-1.5zM234.9 44.0h1.5v1.5h-1.5zM228.8 43.6h1.5v1.5h-1.5zM228.7 47.4h1.5v1.5h-1.5zM231.7 47.4h1.5v1.5h-1.5zM236.2 45.7h1.5v1.5h-1.5zM232.2 43.9h1.5v1.5h-1.5zM233.8 44.3h1.5v1.5h-1.5zM230.4 41.5h1.5v1.5h-1.5zM230.3 46.7h1.5v1.5h-1.5zM231.1 47.5h1.5v1.5h-1.5zM235.4 45.8h1.5v1.5h-1.5zM228.9 42.7h1.5v1.5h-1.5zM228.9 42.5h1.5v1.5h-1.5zM229.4 40.3h1.5v1.5h-1.5zM230.4 40.5h1.1v1.1h-1.1zM232.0 36.6h1.1v1.1h-1.1zM235.9 37.8h1.1v1.1h-1.1zM228.2 40.4h1.1v1.1h-1.1zM234.7 40.3h1.1v1.1h-1.1z" fill="#f07020"/>
<path d="M232.8 48.4h1.4v1.4h-1.4zM231.2 47.9h1.3v1.3h-1.3zM234.0 48.7h1.4v1.4h-1.4z" fill="#fff" fill-opacity="0.8"/>
<rect x="228.70" y="55.2" width="9.20" height="3.00" fill="#cce838"/>
<path d="M229.5 55.8h2.0v1.8h-2.0zM233.8 55.8h1.3v1.8h-1.3z" fill="#66aa30"/>
<path d="M231.5 55.8h2.3v1.8h-2.3zM235.4 55.8h1.7v1.8h-1.7z" fill="#4a9226"/>
<line x1="233.30" y1="59" x2="233.30" y2="60" stroke="#888" stroke-width="0.4"/>
<path d="M239.4 54.1V47.7H240.4V46.3H241.4V46.1H242.4V46.4H243.4V46.3H244.4V47.6H245.4V48.0H246.4V47.2H247.4V47.9H248.4V46.7H249.4V47.0H250.2V54.1ZM239.9 44.8h1.5v1.5h-1.5zM244.3 42.3h1.5v1.5h-1.5zM248.5 40.8h1.5v1.5h-1.5zM246.2 46.5h1.5v1.5h-1.5zM246.4 45.4h1.5v1.5h-1.5zM241.6 42.0h1.5v1.5h-1.5zM247.3 45.0h1.5v1.5h-1.5zM244.6 46.6h1.5v1.5h-1.5zM244.4 43.1h1.5v1.5h-1.5zM248.2 47.2h1.5v1.5h-1.5zM244.3 42.0h1.5v1.5h-1.5zM240.5 40.6h1.5v1.5h-1.5zM241.6 39.4h1.5v1.5h-1.5zM242.5 47.4h1.5v1.5h-1.5zM247.0 47.2h1.5v1.5h-1.5zM246.0 43.1h1.5v1.5h-1.5zM242.3 43.8h1.5v1.5h-1.5zM243.2 47.1h1.5v1.5h-1.5zM244.9 42.8h1.5v1.5h-1.5zM244.5 42.4h1.5v1.5h-1.5zM243.5 41.0h1.5v1.5h-1.5zM246.3 46.7h1.5v1.5h-1.5zM241.6 45.9h1.5v1.5h-1.5zM239.7 47.5h1.5v1.5h-1.5zM248.4 47.5h1.5v1.5h-1.5zM246.3 41.7h1.5v1.5h-1.5zM244.2 45.8h1.5v1.5h-1.5zM243.1 43.6h1.5v1.5h-1.5zM245.7 45.9h1.5v1.5h-1.5zM244.3 47.5h1.5v1.5h-1.5zM247.4 41.3h1.5v1.5h-1.5zM240.4 46.4h1.5v1.5h-1.5zM247.6 38.1h1.1v1.1h-1.1zM245.5 39.0h1.1v1.1h-1.1zM243.1 39.1h1.1v1.1h-1.1zM242.0 39.0h1.1v1.1h-1.1zM242.9 40.0h1.1v1.1h-1.1z" fill="#d98cc6"/>
<path d="M247.9 50.0h1.4v1.4h-1.4zM244.2 47.5h1.1v1.1h-1.1zM244.9 49.1h1.5v1.5h-1.5z" fill="#fff" fill-opacity="0.8"/>
<rect x="239.90" y="55.2" width="9.80" height="3.00" fill="#cce838"/>
<path d="M240.7 55.8h1.6v1.8h-1.6zM242.3 55.8h2.0v1.8h-2.0zM247.0 55.8h1.4v1.8h-1.4z" fill="#66aa30"/>
<path d="M244.7 55.8h2.0v1.8h-2.0zM248.4 55.8h0.5v1.8h-0.5z" fill="#4a9226"/>
<line x1="244.80" y1="59" x2="244.80" y2="60" stroke="#888" stroke-width="0.4"/>
<text x="244.80" y="63.00" font-size="2.8" fill="#222" text-anchor="middle" font-weight="bold" dominant-baseline="central" textLength="9" lengthAdjust="spacingAndGlyphs">Gm17</text>
<path d="M251.3 54.1V46.1H252.3V46.6H253.3V47.9H254.3V46.0H255.3V47.2H256.3V47.1H257.3V47.3H258.3V47.5H259.3V47.2H260.3V47.9H261.3V46.7H262.3V46.6H263.3V47.8H264.3V47.1H265.3V47.4H266.6V54.1ZM261.8 47.2h1.5v1.5h-1.5zM260.8 44.1h1.5v1.5h-1.5zM261.5 47.5h1.5v1.5h-1.5zM254.3 47.2h1.5v1.5h-1.5zM256.7 44.9h1.5v1.5h-1.5zM256.4 46.7h1.5v1.5h-1.5zM256.4 45.5h1.5v1.5h-1.5zM265.0 46.8h1.5v1.5h-1.5zM252.6 40.2h1.5v1.5h-1.5zM252.4 44.9h1.5v1.5h-1.5zM261.4 44.6h1.5v1.5h-1.5zM262.6 45.6h1.5v1.5h-1.5zM261.5 47.5h1.5v1.5h-1.5zM251.9 41.0h1.5v1.5h-1.5zM255.7 46.5h1.5v1.5h-1.5zM258.9 45.5h1.5v1.5h-1.5zM252.1 44.9h1.5v1.5h-1.5zM263.9 47.5h1.5v1.5h-1.5zM256.6 41.4h1.5v1.5h-1.5zM263.9 39.8h1.5v1.5h-1.5zM261.1 42.1h1.5v1.5h-1.5zM255.3 44.6h1.5v1.5h-1.5zM253.1 47.5h1.5v1.5h-1.5zM261.9 42.4h1.5v1.5h-1.5zM264.7 41.9h1.5v1.5h-1.5zM258.1 44.2h1.5v1.5h-1.5zM258.7 46.4h1.5v1.5h-1.5zM251.7 44.7h1.5v1.5h-1.5zM260.3 47.3h1.5v1.5h-1.5zM257.4 44.9h1.5v1.5h-1.5zM253.2 40.0h1.5v1.5h-1.5zM256.7 46.2h1.5v1.5h-1.5zM256.2 41.7h1.5v1.5h-1.5zM259.6 45.2h1.5v1.5h-1.5zM259.5 44.9h1.5v1.5h-1.5zM253.9 47.0h1.5v1.5h-1.5zM252.8 47.4h1.5v1.5h-1.5zM251.5 47.3h1.5v1.5h-1.5zM262.9 45.4h1.5v1.5h-1.5zM255.9 42.0h1.5v1.5h-1.5zM262.9 40.7h1.5v1.5h-1.5zM258.7 43.0h1.5v1.5h-1.5zM259.0 47.0h1.5v1.5h-1.5zM263.8 42.6h1.5v1.5h-1.5zM265.0 39.7h1.5v1.5h-1.5zM262.3 38.2h1.1v1.1h-1.1zM259.4 40.4h1.1v1.1h-1.1zM258.8 36.8h1.1v1.1h-1.1zM256.2 40.5h1.1v1.1h-1.1zM254.6 38.9h1.1v1.1h-1.1zM263.1 39.5h1.1v1.1h-1.1zM258.9 39.6h1.1v1.1h-1.1z" fill="#80d4b4"/>
<path d="M258.0 51.0h1.5v1.5h-1.5zM264.4 50.9h1.3v1.3h-1.3zM257.3 48.7h1.2v1.2h-1.2zM258.1 51.1h1.4v1.4h-1.4zM258.8 50.3h1.2v1.2h-1.2z" fill="#fff" fill-opacity="0.8"/>
<rect x="251.80" y="55.2" width="14.30" height="3.00" fill="#cce838"/>
<path d="M252.6 55.8h1.3v1.8h-1.3zM258.8 55.8h2.4v1.8h-2.4zM261.4 55.8h1.8v1.8h-1.8zM263.5 55.8h1.6v1.8h-1.6z" fill="#4a9226"/>
<path d="M254.2 55.8h2.4v1.8h-2.4z" fill="#66aa30"/>
<path d="M256.9 55.8h1.6v1.8h-1.6z" fill="#a8d43a"/>
<line x1="258.95" y1="59" x2="258.95" y2="60" stroke="#888" stroke-width="0.4"/>
<text x="258.95" y="63.00" font-size="2.8" fill="#222" text-anchor="middle" font-weight="bold" dominant-baseline="central" textLength="9" lengthAdjust="spacingAndGlyphs">Gm18</text>
<path d="M267.6 54.1V46.9H268.6V46.8H269.6V47.1H270.6V47.9H271.6V47.7H272.6V47.5H273.6V46.6H274.6V47.9H275.6V47.1H276.6V46.1H277.6V47.5H278.6V46.6H279.6V47.2H280.0V54.1ZM269.8 46.3h1.5v1.5h-1.5zM268.6 44.2h1.5v1.5h-1.5zM271.9 40.8h1.5v1.5h-1.5zM271.3 44.6h1.5v1.5h-1.5zM268.3 43.9h1.5v1.5h-1.5zM274.9 44.8h1.5v1.5h-1.5zM278.3 46.8h1.5v1.5h-1.5zM271.6 42.4h1.5v1.5h-1.5zM272.5 46.0h1.5v1.5h-1.5zM276.0 47.4h1.5v1.5h-1.5zM269.9 47.4h1.5v1.5h-1.5zM272.6 47.4h1.5v1.5h-1.5zM276.7 45.7h1.5v1.5h-1.5zM270.3 45.9h1.5v1.5h-1.5zM272.1 41.6h1.5v1.5h-1.5zM278.3 43.1h1.5v1.5h-1.5zM273.6 43.2h1.5v1.5h-1.5zM271.9 47.2h1.5v1.5h-1.5zM278.0 46.4h1.5v1.5h-1.5zM278.4 41.5h1.5v1.5h-1.5zM276.8 39.9h1.5v1.5h-1.5zM269.7 43.1h1.5v1.5h-1.5zM272.6 45.1h1.5v1.5h-1.5zM276.1 44.7h1.5v1.5h-1.5zM274.8 47.2h1.5v1.5h-1.5zM273.0 47.2h1.5v1.5h-1.5zM273.6 45.0h1.5v1.5h-1.5zM269.2 45.3h1.5v1.5h-1.5zM269.3 40.8h1.5v1.5h-1.5zM270.2 40.0h1.5v1.5h-1.5zM268.2 41.4h1.5v1.5h-1.5zM275.1 45.3h1.5v1.5h-1.5zM276.0 47.1h1.5v1.5h-1.5zM278.0 40.8h1.5v1.5h-1.5zM276.5 47.5h1.5v1.5h-1.5zM274.0 42.0h1.5v1.5h-1.5zM267.6 45.7h1.5v1.5h-1.5zM277.8 39.9h1.1v1.1h-1.1zM273.0 37.0h1.1v1.1h-1.1zM272.6 39.8h1.1v1.1h-1.1zM268.3 39.1h1.1v1.1h-1.1zM276.2 36.2h1.1v1.1h-1.1zM273.3 39.5h1.1v1.1h-1.1z" fill="#8a1535"/>
<path d="M275.5 49.2h1.0v1.0h-1.0zM271.1 47.7h0.9v0.9h-0.9zM277.0 50.4h1.6v1.6h-1.6zM273.8 48.9h1.2v1.2h-1.2z" fill="#fff" fill-opacity="0.8"/>
<rect x="268.10" y="55.2" width="11.40" height="3.00" fill="#cce838"/>
<path d="M268.9 55.8h1.7v1.8h-1.7zM270.9 55.8h1.9v1.8h-1.9zM273.9 55.8h1.2v1.8h-1.2zM275.4 55.8h1.3v1.8h-1.3zM276.7 55.8h2.0v1.8h-2.0z" fill="#4a9226"/>
<path d="M272.9 55.8h1.1v1.8h-1.1z" fill="#66aa30"/>
<line x1="273.80" y1="59" x2="273.80" y2="60" stroke="#888" stroke-width="0.4"/>
<text x="273.80" y="63.00" font-size="2.8" fill="#222" text-anchor="middle" font-weight="bold" dominant-baseline="central" textLength="9" lengthAdjust="spacingAndGlyphs">Gm19</text>
<path d="M281.2 54.1V46.8H282.2V47.0H283.2V47.8H284.2V46.3H285.2V46.1H286.2V47.1H287.2V46.4H288.2V46.7H289.2V46.5H290.2V47.1H291.2V46.5H292.2V46.8H293.0V54.1ZM281.8 46.0h1.5v1.5h-1.5zM290.2 47.5h1.5v1.5h-1.5zM289.6 40.7h1.5v1.5h-1.5zM281.3 45.9h1.5v1.5h-1.5zM282.4 39.4h1.5v1.5h-1.5zM281.7 44.6h1.5v1.5h-1.5zM288.3 42.9h1.5v1.5h-1.5zM283.9 40.9h1.5v1.5h-1.5zM282.4 45.1h1.5v1.5h-1.5zM287.6 44.7h1.5v1.5h-1.5zM288.4 43.0h1.5v1.5h-1.5zM288.8 40.2h1.5v1.5h-1.5zM289.4 43.6h1.5v1.5h-1.5zM286.1 47.4h1.5v1.5h-1.5zM283.7 43.3h1.5v1.5h-1.5zM287.2 46.7h1.5v1.5h-1.5zM286.1 41.9h1.5v1.5h-1.5zM289.4 46.1h1.5v1.5h-1.5zM287.1 47.3h1.5v1.5h-1.5zM284.6 46.6h1.5v1.5h-1.5zM288.7 45.1h1.5v1.5h-1.5zM284.9 39.9h1.5v1.5h-1.5zM291.0 47.4h1.5v1.5h-1.5zM288.3 40.3h1.5v1.5h-1.5zM291.0 42.3h1.5v1.5h-1.5zM288.2 43.4h1.5v1.5h-1.5zM281.7 46.4h1.5v1.5h-1.5zM291.3 42.0h1.5v1.5h-1.5zM282.4 44.2h1.5v1.5h-1.5zM287.6 47.4h1.5v1.5h-1.5zM285.2 47.5h1.5v1.5h-1.5zM289.4 47.4h1.5v1.5h-1.5zM288.7 46.8h1.5v1.5h-1.5zM284.0 42.4h1.5v1.5h-1.5zM287.6 41.0h1.5v1.5h-1.5zM286.0 36.9h1.1v1.1h-1.1zM282.9 40.6h1.1v1.1h-1.1zM286.7 38.9h1.1v1.1h-1.1zM283.9 37.7h1.1v1.1h-1.1zM290.5 39.2h1.1v1.1h-1.1z" fill="#1f7a5c"/>
<path d="M286.4 48.8h0.9v0.9h-0.9zM287.7 50.7h1.5v1.5h-1.5zM289.1 49.5h1.3v1.3h-1.3zM285.1 47.7h1.2v1.2h-1.2z" fill="#fff" fill-opacity="0.8"/>
<rect x="281.70" y="55.2" width="10.80" height="3.00" fill="#cce838"/>
<path d="M282.5 55.8h2.1v1.8h-2.1zM286.7 55.8h1.6v1.8h-1.6zM288.5 55.8h1.7v1.8h-1.7z" fill="#a8d43a"/>
<path d="M284.6 55.8h1.8v1.8h-1.8zM290.6 55.8h1.1v1.8h-1.1z" fill="#4a9226"/>
<line x1="287.10" y1="59" x2="287.10" y2="60" stroke="#888" stroke-width="0.4"/>
<line x1="32.5" y1="59" x2="293" y2="59" stroke="#ddd" stroke-width="0.4"/>
<text x="32.20" y="63.00" font-size="2.8" fill="#222" text-anchor="middle" font-weight="bold" dominant-baseline="central" textLength="6" lengthAdjust="spacingAndGlyphs">Chr</text>
<text x="163.00" y="67.80" font-size="5.0" fill="#333" text-anchor="middle" font-weight="bold" dominant-baseline="central" textLength="33.6" lengthAdjust="spacingAndGlyphs">Chromosome</text>
<rect x="41.55" y="10.25" width="1.5" height="1.5" fill="#3d9ad9"/>
<rect x="44.25" y="23.85" width="1.5" height="1.5" fill="#3d9ad9"/>
<rect x="45.05" y="31.25" width="1.5" height="1.5" fill="#3d9ad9"/>
<rect x="62.95" y="31.25" width="1.5" height="1.5" fill="#4a3a9e"/>
<rect x="71.85" y="33.25" width="1.5" height="1.5" fill="#4a3a9e"/>
<rect x="77.25" y="23.55" width="1.5" height="1.5" fill="#4d5824"/>
<rect x="82.05" y="36.85" width="1.5" height="1.5" fill="#4d5824"/>
<rect x="86.25" y="38.45" width="1.5" height="1.5" fill="#4d5824"/>
<rect x="98.25" y="25.55" width="1.5" height="1.5" fill="#e0197b"/>
<rect x="121.75" y="34.05" width="1.5" height="1.5" fill="#d98cc6"/>
<rect x="132.25" y="24.65" width="1.5" height="1.5" fill="#80d4b4"/>
<rect x="128.25" y="32.45" width="1.5" height="1.5" fill="#80d4b4"/>
<rect x="143.25" y="33.65" width="1.5" height="1.5" fill="#8a1535"/>
<rect x="159.05" y="33.65" width="1.5" height="1.5" fill="#1f7a5c"/>
<rect x="178.25" y="36.25" width="1.5" height="1.5" fill="#f7b522"/>
<rect x="198.15" y="7.05" width="1.5" height="1.5" fill="#4a3a9e"/>
<rect x="201.25" y="23.85" width="1.5" height="1.5" fill="#4d5824"/>
<rect x="201.25" y="33.65" width="1.5" height="1.5" fill="#4d5824"/>
<rect x="217.55" y="13.55" width="1.5" height="1.5" fill="#e0197b"/>
<rect x="220.85" y="24.25" width="1.5" height="1.5" fill="#e0197b"/>
<rect x="215.95" y="31.95" width="1.5" height="1.5" fill="#e0197b"/>
<rect x="229.45" y="13.05" width="1.5" height="1.5" fill="#f07020"/>
<rect x="233.65" y="32.95" width="1.5" height="1.5" fill="#f07020"/>
<rect x="247.75" y="33.25" width="1.5" height="1.5" fill="#d98cc6"/>
<rect x="253.75" y="30.25" width="1.5" height="1.5" fill="#80d4b4"/>
<rect x="275.75" y="29.25" width="1.5" height="1.5" fill="#8a1535"/>
<rect x="278.05" y="31.65" width="1.5" height="1.5" fill="#8a1535"/>
<rect x="275.25" y="36.25" width="1.5" height="1.5" fill="#8a1535"/>
<rect x="295.8" y="8" width="4.099999999999966" height="22.6" fill="url(#leg)"/>
<path d="M300.80 8.15h1.3v0.9h-1.3zM300.80 10.29h1.0v0.9h-1.0zM300.80 12.43h1.3v0.9h-1.3zM300.80 14.57h2.6v0.9h-2.6zM300.80 16.71h3.0v0.9h-3.0zM300.80 18.85h3.0v0.9h-3.0zM300.80 20.99h3.0v0.9h-3.0zM300.80 23.13h3.0v0.9h-3.0zM300.80 25.27h3.0v0.9h-3.0zM300.80 27.41h3.0v0.9h-3.0zM300.80 29.55h4.4v0.9h-4.4z" fill="#999"/>
<rect x="296.00" y="6.90" width="3.70" height="1" fill="#e0c8c8"/>
<text x="12.85" y="97.50" font-size="6.8" fill="#333" text-anchor="middle" font-weight="bold" dominant-baseline="central">B</text>
<text x="13.9" y="117.6" font-size="5.8" fill="#333" font-weight="bold" text-anchor="middle" dominant-baseline="central" textLength="15.6" lengthAdjust="spacingAndGlyphs" transform="rotate(-90 13.9 117.6)">-log<tspan font-size="3.2" dy="1">10</tspan><tspan dy="-1">(</tspan><tspan font-style="italic">p</tspan>)</text>
<line x1="31.3" y1="89" x2="31.3" y2="147" stroke="#bbb" stroke-width="0.6"/>
<line x1="29.7" y1="95.5" x2="31.3" y2="95.5" stroke="#999" stroke-width="0.5"/>
<text x="25.50" y="96.20" font-size="2.8" fill="#222" text-anchor="middle" font-weight="bold" dominant-baseline="central">8</text>
<line x1="29.7" y1="107.3" x2="31.3" y2="107.3" stroke="#999" stroke-width="0.5"/>
<text x="25.50" y="108.00" font-size="2.8" fill="#222" text-anchor="middle" font-weight="bold" dominant-baseline="central">6</text>
<line x1="29.7" y1="119.5" x2="31.3" y2="119.5" stroke="#999" stroke-width="0.5"/>
<text x="25.50" y="120.20" font-size="2.8" fill="#222" text-anchor="middle" font-weight="bold" dominant-baseline="central">4</text>
<line x1="29.7" y1="131.5" x2="31.3" y2="131.5" stroke="#999" stroke-width="0.5"/>
<text x="25.50" y="132.20" font-size="2.8" fill="#222" text-anchor="middle" font-weight="bold" dominant-baseline="central">2</text>
<line x1="29.7" y1="143.6" x2="31.3" y2="143.6" stroke="#999" stroke-width="0.5"/>
<text x="25.50" y="144.30" font-size="2.8" fill="#222" text-anchor="middle" font-weight="bold" dominant-baseline="central">0</text>
<line x1="31.3" y1="110.5" x2="289.4" y2="110.5" stroke="#d8d8d8" stroke-width="0.8" />
<path d="M32.6 144.1V134.9H33.6V134.9H34.6V135.2H35.6V135.3H36.6V136.3H37.6V136.5H38.6V135.8H39.6V136.3H40.6V135.9H41.6V135.4H42.6V136.2H43.6V134.7H44.6V134.4H45.6V136.5H46.1V144.1ZM38.6 133.4h1.5v1.5h-1.5zM42.6 136.1h1.5v1.5h-1.5zM37.9 132.4h1.5v1.5h-1.5zM43.1 136.1h1.5v1.5h-1.5zM36.4 132.4h1.5v1.5h-1.5zM35.1 134.3h1.5v1.5h-1.5zM36.5 136.1h1.5v1.5h-1.5zM43.1 132.1h1.5v1.5h-1.5zM37.9 132.8h1.5v1.5h-1.5zM41.5 133.2h1.5v1.5h-1.5zM42.2 134.2h1.5v1.5h-1.5zM36.6 135.1h1.5v1.5h-1.5zM41.7 136.1h1.5v1.5h-1.5zM33.1 134.2h1.5v1.5h-1.5zM34.8 135.5h1.5v1.5h-1.5zM39.8 134.5h1.5v1.5h-1.5zM40.9 131.5h1.5v1.5h-1.5zM41.3 134.4h1.5v1.5h-1.5zM43.2 131.7h1.5v1.5h-1.5zM39.3 134.4h1.5v1.5h-1.5zM43.6 132.9h1.5v1.5h-1.5zM44.3 134.8h1.5v1.5h-1.5zM33.7 135.1h1.5v1.5h-1.5zM44.1 135.8h1.5v1.5h-1.5zM37.2 132.5h1.5v1.5h-1.5zM41.9 135.6h1.5v1.5h-1.5zM42.3 136.0h1.5v1.5h-1.5zM37.4 131.1h1.5v1.5h-1.5zM41.4 134.4h1.5v1.5h-1.5zM41.5 134.7h1.5v1.5h-1.5zM35.3 132.7h1.5v1.5h-1.5zM39.6 135.3h1.5v1.5h-1.5zM38.6 135.2h1.5v1.5h-1.5zM41.9 130.7h1.5v1.5h-1.5zM37.7 134.7h1.5v1.5h-1.5zM35.0 135.9h1.5v1.5h-1.5zM41.8 134.3h1.5v1.5h-1.5zM40.6 133.5h1.5v1.5h-1.5zM42.7 130.7h1.5v1.5h-1.5zM44.6 130.8h1.5v1.5h-1.5zM39.9 130.2h1.1v1.1h-1.1zM44.0 127.4h1.1v1.1h-1.1zM36.7 131.1h1.1v1.1h-1.1zM44.5 128.9h1.1v1.1h-1.1zM33.6 131.6h1.1v1.1h-1.1zM37.7 129.0h1.1v1.1h-1.1zM35.2 127.5h1.1v1.1h-1.1zM36.6 129.7h1.1v1.1h-1.1zM33.3 127.0h1.1v1.1h-1.1zM40.7 129.0h1.1v1.1h-1.1zM40.9 131.0h1.1v1.1h-1.1zM37.4 130.0h1.1v1.1h-1.1zM40.9 127.1h1.1v1.1h-1.1z" fill="#3d9ad9"/>
<path d="M39.9 136.4h1.5v1.5h-1.5zM43.5 139.0h1.2v1.2h-1.2zM36.5 137.1h1.5v1.5h-1.5zM42.8 138.6h1.6v1.6h-1.6z" fill="#fff" fill-opacity="0.8"/>
<rect x="33.10" y="144.7" width="12.55" height="3.00" fill="#cce838"/>
<path d="M33.9 145.3h2.5v1.8h-2.5zM39.1 145.3h2.3v1.8h-2.3z" fill="#66aa30"/>
<path d="M36.7 145.3h2.3v1.8h-2.3zM41.3 145.3h2.1v1.8h-2.1z" fill="#4a9226"/>
<path d="M43.5 145.3h1.4v1.8h-1.4z" fill="#a8d43a"/>
<line x1="39.37" y1="149" x2="39.37" y2="150" stroke="#888" stroke-width="0.4"/>
<path d="M46.7 144.1V136.2H47.7V134.9H48.7V135.6H49.7V135.3H50.7V135.7H51.7V136.5H52.7V134.5H53.7V136.1H54.7V134.8H55.7V135.0H56.7V136.4H57.7V134.4H58.9V144.1ZM54.8 132.3h1.5v1.5h-1.5zM46.8 131.3h1.5v1.5h-1.5zM47.2 133.9h1.5v1.5h-1.5zM48.5 136.1h1.5v1.5h-1.5zM49.2 132.5h1.5v1.5h-1.5zM48.9 135.1h1.5v1.5h-1.5zM55.2 136.1h1.5v1.5h-1.5zM47.3 132.9h1.5v1.5h-1.5zM54.5 131.3h1.5v1.5h-1.5zM56.9 133.1h1.5v1.5h-1.5zM54.5 136.1h1.5v1.5h-1.5zM49.8 136.0h1.5v1.5h-1.5zM50.4 131.3h1.5v1.5h-1.5zM55.1 134.7h1.5v1.5h-1.5zM48.0 135.7h1.5v1.5h-1.5zM49.1 132.2h1.5v1.5h-1.5zM51.1 132.8h1.5v1.5h-1.5zM56.3 136.1h1.5v1.5h-1.5zM51.1 133.2h1.5v1.5h-1.5zM49.2 136.1h1.5v1.5h-1.5zM47.8 136.1h1.5v1.5h-1.5zM52.5 131.4h1.5v1.5h-1.5zM51.4 136.0h1.5v1.5h-1.5zM47.4 135.3h1.5v1.5h-1.5zM47.5 132.4h1.5v1.5h-1.5zM54.4 135.3h1.5v1.5h-1.5zM48.8 135.6h1.5v1.5h-1.5zM51.5 130.6h1.5v1.5h-1.5zM54.5 135.5h1.5v1.5h-1.5zM56.2 135.0h1.5v1.5h-1.5zM55.5 131.9h1.5v1.5h-1.5zM55.4 135.5h1.5v1.5h-1.5zM54.9 132.0h1.5v1.5h-1.5zM48.4 136.0h1.5v1.5h-1.5zM55.8 134.0h1.5v1.5h-1.5zM49.0 134.9h1.5v1.5h-1.5zM54.9 127.2h1.1v1.1h-1.1zM51.2 127.6h1.1v1.1h-1.1zM49.2 131.2h1.1v1.1h-1.1zM47.4 128.5h1.1v1.1h-1.1zM54.8 127.4h1.1v1.1h-1.1zM49.9 128.1h1.1v1.1h-1.1zM53.7 128.7h1.1v1.1h-1.1zM52.3 131.2h1.1v1.1h-1.1zM48.2 129.7h1.1v1.1h-1.1zM52.4 131.6h1.1v1.1h-1.1zM50.4 129.6h1.1v1.1h-1.1zM56.1 130.6h1.1v1.1h-1.1z" fill="#f7b522"/>
<path d="M50.2 139.4h1.5v1.5h-1.5zM51.2 137.5h1.4v1.4h-1.4zM53.8 139.3h1.1v1.1h-1.1zM55.9 139.3h1.4v1.4h-1.4z" fill="#fff" fill-opacity="0.8"/>
<rect x="47.24" y="144.7" width="11.16" height="3.00" fill="#cce838"/>
<path d="M48.0 145.3h2.3v1.8h-2.3zM50.3 145.3h1.5v1.8h-1.5zM52.1 145.3h2.2v1.8h-2.2z" fill="#a8d43a"/>
<path d="M54.6 145.3h1.8v1.8h-1.8zM56.5 145.3h1.1v1.8h-1.1z" fill="#4a9226"/>
<line x1="52.82" y1="149" x2="52.82" y2="150" stroke="#888" stroke-width="0.4"/>
<text x="52.82" y="153.00" font-size="2.8" fill="#222" text-anchor="middle" font-weight="bold" dominant-baseline="central" textLength="9" lengthAdjust="spacingAndGlyphs">Gm02</text>
<path d="M60.6 144.1V135.9H61.6V134.6H62.6V136.1H63.6V136.0H64.6V136.3H65.6V136.0H66.6V134.8H67.6V135.5H68.6V135.5H69.6V134.4H70.6V135.7H71.6V134.6H72.5V144.1ZM67.3 133.0h1.5v1.5h-1.5zM63.3 130.5h1.5v1.5h-1.5zM66.0 131.4h1.5v1.5h-1.5zM64.4 133.1h1.5v1.5h-1.5zM65.1 132.6h1.5v1.5h-1.5zM69.2 131.1h1.5v1.5h-1.5zM62.7 131.4h1.5v1.5h-1.5zM60.9 134.4h1.5v1.5h-1.5zM64.9 136.1h1.5v1.5h-1.5zM63.4 135.9h1.5v1.5h-1.5zM68.1 135.3h1.5v1.5h-1.5zM68.3 136.1h1.5v1.5h-1.5zM64.3 134.9h1.5v1.5h-1.5zM70.9 135.0h1.5v1.5h-1.5zM62.6 134.8h1.5v1.5h-1.5zM70.2 134.8h1.5v1.5h-1.5zM62.1 135.2h1.5v1.5h-1.5zM67.8 131.6h1.5v1.5h-1.5zM64.3 136.1h1.5v1.5h-1.5zM67.9 134.3h1.5v1.5h-1.5zM64.0 134.2h1.5v1.5h-1.5zM62.0 130.4h1.5v1.5h-1.5zM69.2 135.5h1.5v1.5h-1.5zM63.9 133.6h1.5v1.5h-1.5zM67.8 132.2h1.5v1.5h-1.5zM66.7 133.5h1.5v1.5h-1.5zM64.9 136.0h1.5v1.5h-1.5zM68.9 135.0h1.5v1.5h-1.5zM61.2 134.2h1.5v1.5h-1.5zM61.8 135.1h1.5v1.5h-1.5zM61.1 130.3h1.5v1.5h-1.5zM70.6 132.8h1.5v1.5h-1.5zM64.1 134.5h1.5v1.5h-1.5zM66.0 136.1h1.5v1.5h-1.5zM67.4 133.2h1.5v1.5h-1.5zM64.0 127.5h1.1v1.1h-1.1zM65.8 127.9h1.1v1.1h-1.1zM60.9 129.9h1.1v1.1h-1.1zM62.0 128.3h1.1v1.1h-1.1zM65.2 129.1h1.1v1.1h-1.1zM66.0 128.4h1.1v1.1h-1.1zM66.1 129.6h1.1v1.1h-1.1zM63.1 130.9h1.1v1.1h-1.1zM68.4 127.7h1.1v1.1h-1.1zM70.4 129.9h1.1v1.1h-1.1zM69.1 128.4h1.1v1.1h-1.1z" fill="#4a3a9e"/>
<path d="M64.7 137.3h0.9v0.9h-0.9zM69.2 140.6h1.5v1.5h-1.5zM67.2 140.7h1.0v1.0h-1.0zM67.0 140.4h1.4v1.4h-1.4z" fill="#fff" fill-opacity="0.8"/>
<rect x="61.09" y="144.7" width="10.87" height="3.00" fill="#cce838"/>
<path d="M61.9 145.3h2.2v1.8h-2.2zM69.3 145.3h1.8v1.8h-1.8z" fill="#4a9226"/>
<path d="M64.1 145.3h2.5v1.8h-2.5z" fill="#a8d43a"/>
<path d="M66.6 145.3h2.4v1.8h-2.4z" fill="#66aa30"/>
<line x1="66.52" y1="149" x2="66.52" y2="150" stroke="#888" stroke-width="0.4"/>
<path d="M73.3 144.1V135.1H74.3V135.0H75.3V136.2H76.3V135.1H77.3V136.0H78.3V136.2H79.3V135.3H80.3V134.8H81.3V135.9H82.3V135.5H83.3V134.7H84.3V135.5H85.3V136.6H86.2V144.1ZM82.0 135.8h1.5v1.5h-1.5zM74.7 130.4h1.5v1.5h-1.5zM76.5 134.9h1.5v1.5h-1.5zM74.9 135.3h1.5v1.5h-1.5zM80.5 131.0h1.5v1.5h-1.5zM78.6 136.0h1.5v1.5h-1.5zM83.3 134.2h1.5v1.5h-1.5zM83.9 133.4h1.5v1.5h-1.5zM84.4 133.3h1.5v1.5h-1.5zM80.0 132.7h1.5v1.5h-1.5zM77.6 134.0h1.5v1.5h-1.5zM83.9 135.9h1.5v1.5h-1.5zM83.4 133.1h1.5v1.5h-1.5zM78.6 135.0h1.5v1.5h-1.5zM76.9 136.1h1.5v1.5h-1.5zM74.7 132.7h1.5v1.5h-1.5zM80.5 132.9h1.5v1.5h-1.5zM81.3 135.2h1.5v1.5h-1.5zM79.4 135.1h1.5v1.5h-1.5zM82.0 135.2h1.5v1.5h-1.5zM79.6 132.0h1.5v1.5h-1.5zM79.3 135.3h1.5v1.5h-1.5zM74.0 134.8h1.5v1.5h-1.5zM84.1 135.4h1.5v1.5h-1.5zM75.4 131.4h1.5v1.5h-1.5zM81.6 130.8h1.5v1.5h-1.5zM75.5 135.9h1.5v1.5h-1.5zM80.2 135.6h1.5v1.5h-1.5zM76.6 133.4h1.5v1.5h-1.5zM83.3 133.5h1.5v1.5h-1.5zM83.4 130.6h1.5v1.5h-1.5zM78.7 135.6h1.5v1.5h-1.5zM78.0 132.4h1.5v1.5h-1.5zM77.1 135.5h1.5v1.5h-1.5zM82.5 133.4h1.5v1.5h-1.5zM75.4 135.0h1.5v1.5h-1.5zM76.3 131.6h1.5v1.5h-1.5zM78.4 136.1h1.5v1.5h-1.5zM73.4 127.0h1.1v1.1h-1.1zM75.2 129.5h1.1v1.1h-1.1zM81.9 131.1h1.1v1.1h-1.1zM81.4 127.4h1.1v1.1h-1.1zM77.4 128.5h1.1v1.1h-1.1zM73.5 129.6h1.1v1.1h-1.1zM83.8 128.9h1.1v1.1h-1.1zM84.1 129.7h1.1v1.1h-1.1zM82.7 129.3h1.1v1.1h-1.1zM75.9 131.5h1.1v1.1h-1.1zM76.8 127.0h1.1v1.1h-1.1zM74.6 130.0h1.1v1.1h-1.1z" fill="#4d5824"/>
<path d="M80.3 136.2h1.0v1.0h-1.0zM77.0 137.8h0.9v0.9h-0.9zM79.4 137.2h1.4v1.4h-1.4zM78.2 138.1h1.2v1.2h-1.2z" fill="#fff" fill-opacity="0.8"/>
<rect x="73.85" y="144.7" width="11.86" height="3.00" fill="#cce838"/>
<path d="M74.6 145.3h1.4v1.8h-1.4zM78.5 145.3h1.7v1.8h-1.7zM82.6 145.3h2.0v1.8h-2.0z" fill="#4a9226"/>
<path d="M76.0 145.3h2.2v1.8h-2.2z" fill="#66aa30"/>
<path d="M80.2 145.3h2.0v1.8h-2.0zM84.6 145.3h0.3v1.8h-0.3z" fill="#a8d43a"/>
<line x1="79.78" y1="149" x2="79.78" y2="150" stroke="#888" stroke-width="0.4"/>
<text x="79.78" y="153.00" font-size="2.8" fill="#222" text-anchor="middle" font-weight="bold" dominant-baseline="central" textLength="9" lengthAdjust="spacingAndGlyphs">Gm04</text>
<path d="M87.2 144.1V135.6H88.2V136.8H89.2V136.5H90.2V134.5H91.2V136.7H92.2V135.8H93.2V136.6H94.2V135.1H95.2V134.4H96.2V136.3H97.4V144.1ZM91.5 135.1h1.5v1.5h-1.5zM88.2 131.9h1.5v1.5h-1.5zM95.8 131.5h1.5v1.5h-1.5zM87.7 133.7h1.5v1.5h-1.5zM87.6 131.2h1.5v1.5h-1.5zM93.6 135.7h1.5v1.5h-1.5zM92.7 134.1h1.5v1.5h-1.5zM94.1 135.0h1.5v1.5h-1.5zM92.5 132.7h1.5v1.5h-1.5zM90.6 136.1h1.5v1.5h-1.5zM91.3 131.9h1.5v1.5h-1.5zM91.4 135.0h1.5v1.5h-1.5zM92.4 135.1h1.5v1.5h-1.5zM91.0 134.1h1.5v1.5h-1.5zM91.8 134.4h1.5v1.5h-1.5zM94.8 136.1h1.5v1.5h-1.5zM88.7 136.1h1.5v1.5h-1.5zM92.0 134.8h1.5v1.5h-1.5zM89.6 131.9h1.5v1.5h-1.5zM92.3 132.8h1.5v1.5h-1.5zM87.4 136.0h1.5v1.5h-1.5zM91.6 136.1h1.5v1.5h-1.5zM88.3 132.8h1.5v1.5h-1.5zM92.7 134.6h1.5v1.5h-1.5zM87.7 134.6h1.5v1.5h-1.5zM89.6 134.4h1.5v1.5h-1.5zM94.9 131.8h1.5v1.5h-1.5zM94.8 133.8h1.5v1.5h-1.5zM91.9 132.0h1.5v1.5h-1.5zM89.0 132.1h1.5v1.5h-1.5zM94.1 131.2h1.1v1.1h-1.1zM89.1 127.5h1.1v1.1h-1.1zM89.8 129.4h1.1v1.1h-1.1zM95.6 127.7h1.1v1.1h-1.1zM91.5 130.4h1.1v1.1h-1.1zM89.3 129.3h1.1v1.1h-1.1zM96.1 131.5h1.1v1.1h-1.1zM92.6 131.6h1.1v1.1h-1.1zM89.5 128.2h1.1v1.1h-1.1zM87.3 131.4h1.1v1.1h-1.1z" fill="#e0197b"/>
<path d="M95.0 139.4h1.0v1.0h-1.0zM89.2 140.8h0.8v0.8h-0.8zM91.2 140.0h1.1v1.1h-1.1z" fill="#fff" fill-opacity="0.8"/>
<rect x="87.69" y="144.7" width="9.19" height="3.00" fill="#cce838"/>
<path d="M88.5 145.3h1.2v1.8h-1.2zM90.0 145.3h1.5v1.8h-1.5zM92.8 145.3h2.0v1.8h-2.0z" fill="#4a9226"/>
<path d="M91.4 145.3h1.0v1.8h-1.0z" fill="#a8d43a"/>
<path d="M94.8 145.3h1.3v1.8h-1.3z" fill="#66aa30"/>
<line x1="92.29" y1="149" x2="92.29" y2="150" stroke="#888" stroke-width="0.4"/>
<path d="M98.4 144.1V135.8H99.4V134.7H100.4V135.1H101.4V135.1H102.4V135.5H103.4V135.0H104.4V136.0H105.4V136.8H106.4V136.4H107.4V135.8H108.4V136.7H109.4V136.1H110.4V135.3H110.7V144.1ZM108.4 131.8h1.5v1.5h-1.5zM100.5 135.8h1.5v1.5h-1.5zM103.4 132.9h1.5v1.5h-1.5zM106.4 135.8h1.5v1.5h-1.5zM99.6 132.0h1.5v1.5h-1.5zM105.5 135.6h1.5v1.5h-1.5zM104.6 133.3h1.5v1.5h-1.5zM103.2 130.9h1.5v1.5h-1.5zM106.0 134.6h1.5v1.5h-1.5zM101.2 131.6h1.5v1.5h-1.5zM108.7 130.9h1.5v1.5h-1.5zM106.8 134.3h1.5v1.5h-1.5zM104.4 133.7h1.5v1.5h-1.5zM105.8 135.3h1.5v1.5h-1.5zM99.5 132.7h1.5v1.5h-1.5zM109.1 131.9h1.5v1.5h-1.5zM99.8 136.1h1.5v1.5h-1.5zM106.6 135.6h1.5v1.5h-1.5zM107.7 130.4h1.5v1.5h-1.5zM101.1 132.5h1.5v1.5h-1.5zM98.6 131.9h1.5v1.5h-1.5zM106.1 135.6h1.5v1.5h-1.5zM106.0 135.2h1.5v1.5h-1.5zM100.8 132.1h1.5v1.5h-1.5zM105.3 131.1h1.5v1.5h-1.5zM101.9 134.8h1.5v1.5h-1.5zM104.6 133.2h1.5v1.5h-1.5zM107.8 133.2h1.5v1.5h-1.5zM104.6 131.4h1.5v1.5h-1.5zM108.7 131.5h1.5v1.5h-1.5zM101.2 135.5h1.5v1.5h-1.5zM101.1 134.3h1.5v1.5h-1.5zM99.8 136.1h1.5v1.5h-1.5zM104.5 136.0h1.5v1.5h-1.5zM105.6 135.6h1.5v1.5h-1.5zM104.9 136.0h1.5v1.5h-1.5zM100.6 136.0h1.5v1.5h-1.5zM104.3 130.6h1.1v1.1h-1.1zM98.7 129.1h1.1v1.1h-1.1zM103.2 127.4h1.1v1.1h-1.1zM102.6 128.4h1.1v1.1h-1.1zM102.8 128.5h1.1v1.1h-1.1zM105.9 130.4h1.1v1.1h-1.1zM106.5 127.4h1.1v1.1h-1.1zM102.6 129.3h1.1v1.1h-1.1zM103.9 130.6h1.1v1.1h-1.1zM100.6 128.8h1.1v1.1h-1.1zM107.5 128.4h1.1v1.1h-1.1zM103.7 129.3h1.1v1.1h-1.1z" fill="#f07020"/>
<path d="M105.1 137.9h1.1v1.1h-1.1zM101.1 136.7h1.4v1.4h-1.4zM100.4 136.7h1.2v1.2h-1.2zM107.8 139.3h1.5v1.5h-1.5z" fill="#fff" fill-opacity="0.8"/>
<rect x="98.87" y="144.7" width="11.36" height="3.00" fill="#cce838"/>
<path d="M99.7 145.3h2.2v1.8h-2.2zM101.9 145.3h2.1v1.8h-2.1zM105.4 145.3h1.4v1.8h-1.4zM108.5 145.3h0.9v1.8h-0.9z" fill="#66aa30"/>
<path d="M104.2 145.3h1.2v1.8h-1.2zM106.8 145.3h1.6v1.8h-1.6z" fill="#a8d43a"/>
<line x1="104.55" y1="149" x2="104.55" y2="150" stroke="#888" stroke-width="0.4"/>
<text x="104.55" y="153.00" font-size="2.8" fill="#222" text-anchor="middle" font-weight="bold" dominant-baseline="central" textLength="9" lengthAdjust="spacingAndGlyphs">Gm06</text>
<path d="M111.7 144.1V135.5H112.7V135.5H113.7V135.4H114.7V135.8H115.7V134.5H116.7V136.4H117.7V135.8H118.7V134.9H119.7V134.8H120.7V135.3H121.7V134.5H122.7V136.5H123.6V144.1ZM112.2 135.5h1.5v1.5h-1.5zM113.3 135.2h1.5v1.5h-1.5zM121.1 130.7h1.5v1.5h-1.5zM119.4 133.7h1.5v1.5h-1.5zM116.4 132.7h1.5v1.5h-1.5zM115.8 131.2h1.5v1.5h-1.5zM120.8 134.7h1.5v1.5h-1.5zM114.7 133.5h1.5v1.5h-1.5zM118.9 133.0h1.5v1.5h-1.5zM114.9 131.6h1.5v1.5h-1.5zM118.9 136.1h1.5v1.5h-1.5zM113.7 131.5h1.5v1.5h-1.5zM117.3 131.1h1.5v1.5h-1.5zM120.5 133.4h1.5v1.5h-1.5zM121.4 135.2h1.5v1.5h-1.5zM116.5 134.0h1.5v1.5h-1.5zM122.0 135.9h1.5v1.5h-1.5zM119.1 135.1h1.5v1.5h-1.5zM118.8 135.8h1.5v1.5h-1.5zM113.5 133.1h1.5v1.5h-1.5zM119.0 133.2h1.5v1.5h-1.5zM115.8 136.0h1.5v1.5h-1.5zM114.1 133.1h1.5v1.5h-1.5zM121.4 136.1h1.5v1.5h-1.5zM115.8 130.5h1.5v1.5h-1.5zM117.1 133.1h1.5v1.5h-1.5zM121.5 131.9h1.5v1.5h-1.5zM120.9 133.1h1.5v1.5h-1.5zM117.1 135.6h1.5v1.5h-1.5zM118.2 131.8h1.5v1.5h-1.5zM113.0 134.8h1.5v1.5h-1.5zM117.4 132.1h1.5v1.5h-1.5zM120.0 133.9h1.5v1.5h-1.5zM120.3 132.3h1.5v1.5h-1.5zM121.6 133.6h1.5v1.5h-1.5zM112.7 129.2h1.1v1.1h-1.1zM115.2 130.1h1.1v1.1h-1.1zM121.2 131.1h1.1v1.1h-1.1zM120.5 128.6h1.1v1.1h-1.1zM115.0 128.6h1.1v1.1h-1.1zM112.3 127.0h1.1v1.1h-1.1zM116.7 128.2h1.1v1.1h-1.1zM115.6 130.1h1.1v1.1h-1.1zM114.6 127.6h1.1v1.1h-1.1zM117.7 128.3h1.1v1.1h-1.1zM113.8 127.9h1.1v1.1h-1.1z" fill="#d98cc6"/>
<path d="M119.9 136.7h1.2v1.2h-1.2zM113.4 138.6h1.4v1.4h-1.4zM117.6 139.2h1.4v1.4h-1.4zM115.6 139.5h1.4v1.4h-1.4z" fill="#fff" fill-opacity="0.8"/>
<rect x="112.22" y="144.7" width="10.87" height="3.00" fill="#cce838"/>
<path d="M113.0 145.3h1.1v1.8h-1.1z" fill="#a8d43a"/>
<path d="M114.2 145.3h1.4v1.8h-1.4zM115.6 145.3h2.6v1.8h-2.6zM118.5 145.3h1.7v1.8h-1.7zM120.2 145.3h1.7v1.8h-1.7zM122.2 145.3h0.0v1.8h-0.0z" fill="#4a9226"/>
<line x1="117.65" y1="149" x2="117.65" y2="150" stroke="#888" stroke-width="0.4"/>
<path d="M124.6 144.1V135.0H125.6V135.4H126.6V135.0H127.6V134.9H128.6V136.4H129.6V135.9H130.6V134.7H131.6V136.5H132.6V134.6H133.6V136.0H134.6V135.8H135.6V134.4H136.4V144.1ZM129.3 131.3h1.5v1.5h-1.5zM129.2 136.0h1.5v1.5h-1.5zM133.3 132.4h1.5v1.5h-1.5zM127.4 136.1h1.5v1.5h-1.5zM128.2 135.4h1.5v1.5h-1.5zM129.9 134.5h1.5v1.5h-1.5zM131.1 136.0h1.5v1.5h-1.5zM130.4 136.0h1.5v1.5h-1.5zM131.4 135.0h1.5v1.5h-1.5zM128.9 132.5h1.5v1.5h-1.5zM131.5 132.9h1.5v1.5h-1.5zM129.2 132.1h1.5v1.5h-1.5zM132.8 132.5h1.5v1.5h-1.5zM130.8 133.2h1.5v1.5h-1.5zM127.6 135.7h1.5v1.5h-1.5zM133.0 131.3h1.5v1.5h-1.5zM130.6 136.1h1.5v1.5h-1.5zM133.0 133.0h1.5v1.5h-1.5zM131.6 134.6h1.5v1.5h-1.5zM132.2 135.1h1.5v1.5h-1.5zM125.8 134.5h1.5v1.5h-1.5zM134.6 134.7h1.5v1.5h-1.5zM134.7 131.4h1.5v1.5h-1.5zM132.3 135.6h1.5v1.5h-1.5zM130.0 135.2h1.5v1.5h-1.5zM127.5 135.7h1.5v1.5h-1.5zM132.6 134.5h1.5v1.5h-1.5zM129.6 136.0h1.5v1.5h-1.5zM128.9 131.7h1.5v1.5h-1.5zM133.7 133.6h1.5v1.5h-1.5zM127.8 132.3h1.5v1.5h-1.5zM134.8 134.3h1.5v1.5h-1.5zM134.1 131.9h1.5v1.5h-1.5zM133.4 135.2h1.5v1.5h-1.5zM125.3 134.9h1.5v1.5h-1.5zM129.8 128.6h1.1v1.1h-1.1zM126.1 128.6h1.1v1.1h-1.1zM131.7 127.9h1.1v1.1h-1.1zM124.7 129.5h1.1v1.1h-1.1zM134.0 128.8h1.1v1.1h-1.1zM131.0 128.7h1.1v1.1h-1.1zM133.7 129.9h1.1v1.1h-1.1zM126.9 130.8h1.1v1.1h-1.1zM130.4 131.1h1.1v1.1h-1.1zM135.0 131.6h1.1v1.1h-1.1zM128.1 131.5h1.1v1.1h-1.1z" fill="#80d4b4"/>
<path d="M126.1 136.3h0.9v0.9h-0.9zM127.8 140.4h1.0v1.0h-1.0zM128.4 140.2h0.9v0.9h-0.9zM132.0 140.4h1.1v1.1h-1.1z" fill="#fff" fill-opacity="0.8"/>
<rect x="125.08" y="144.7" width="10.87" height="3.00" fill="#cce838"/>
<path d="M125.9 145.3h1.4v1.8h-1.4z" fill="#a8d43a"/>
<path d="M127.5 145.3h1.8v1.8h-1.8zM129.6 145.3h1.2v1.8h-1.2z" fill="#66aa30"/>
<path d="M131.1 145.3h1.1v1.8h-1.1zM132.5 145.3h1.2v1.8h-1.2zM133.7 145.3h1.5v1.8h-1.5z" fill="#4a9226"/>
<line x1="130.51" y1="149" x2="130.51" y2="150" stroke="#888" stroke-width="0.4"/>
<text x="130.51" y="153.00" font-size="2.8" fill="#222" text-anchor="middle" font-weight="bold" dominant-baseline="central" textLength="9" lengthAdjust="spacingAndGlyphs">Gm08</text>
<path d="M137.4 144.1V135.7H138.4V135.4H139.4V135.9H140.4V135.8H141.4V135.6H142.4V136.5H143.4V134.7H144.4V135.5H145.4V135.9H146.4V134.7H147.4V136.5H148.4V136.8H149.3V144.1ZM138.9 135.8h1.5v1.5h-1.5zM146.5 131.3h1.5v1.5h-1.5zM147.6 135.7h1.5v1.5h-1.5zM138.0 134.0h1.5v1.5h-1.5zM137.9 133.3h1.5v1.5h-1.5zM144.0 136.1h1.5v1.5h-1.5zM140.8 132.4h1.5v1.5h-1.5zM143.1 132.5h1.5v1.5h-1.5zM144.4 134.6h1.5v1.5h-1.5zM144.0 131.6h1.5v1.5h-1.5zM140.2 134.5h1.5v1.5h-1.5zM138.4 132.7h1.5v1.5h-1.5zM141.7 132.5h1.5v1.5h-1.5zM139.5 136.1h1.5v1.5h-1.5zM145.1 133.4h1.5v1.5h-1.5zM138.6 135.8h1.5v1.5h-1.5zM143.4 133.6h1.5v1.5h-1.5zM140.1 133.9h1.5v1.5h-1.5zM145.1 131.3h1.5v1.5h-1.5zM141.9 134.2h1.5v1.5h-1.5zM143.0 131.3h1.5v1.5h-1.5zM142.3 132.6h1.5v1.5h-1.5zM141.7 135.2h1.5v1.5h-1.5zM143.5 135.3h1.5v1.5h-1.5zM146.7 135.0h1.5v1.5h-1.5zM146.7 135.6h1.5v1.5h-1.5zM139.6 133.0h1.5v1.5h-1.5zM145.7 131.3h1.5v1.5h-1.5zM143.4 135.8h1.5v1.5h-1.5zM146.3 136.0h1.5v1.5h-1.5zM141.7 135.9h1.5v1.5h-1.5zM137.7 135.7h1.5v1.5h-1.5zM147.1 135.6h1.5v1.5h-1.5zM144.9 132.9h1.5v1.5h-1.5zM141.4 135.0h1.5v1.5h-1.5zM139.3 130.3h1.1v1.1h-1.1zM139.9 130.9h1.1v1.1h-1.1zM142.3 128.8h1.1v1.1h-1.1zM146.8 131.2h1.1v1.1h-1.1zM139.7 131.1h1.1v1.1h-1.1zM147.9 130.3h1.1v1.1h-1.1zM142.6 128.2h1.1v1.1h-1.1zM144.8 127.0h1.1v1.1h-1.1zM141.5 128.1h1.1v1.1h-1.1zM140.5 128.8h1.1v1.1h-1.1zM146.5 128.1h1.1v1.1h-1.1z" fill="#8a1535"/>
<path d="M145.3 136.4h1.6v1.6h-1.6zM145.2 137.3h1.1v1.1h-1.1zM139.3 140.2h1.6v1.6h-1.6zM145.2 140.3h0.8v0.8h-0.8z" fill="#fff" fill-opacity="0.8"/>
<rect x="137.93" y="144.7" width="10.87" height="3.00" fill="#cce838"/>
<path d="M138.7 145.3h2.4v1.8h-2.4zM141.4 145.3h1.2v1.8h-1.2zM142.9 145.3h1.5v1.8h-1.5zM146.0 145.3h1.7v1.8h-1.7z" fill="#66aa30"/>
<path d="M144.6 145.3h1.4v1.8h-1.4zM147.7 145.3h0.3v1.8h-0.3z" fill="#4a9226"/>
<line x1="143.37" y1="149" x2="143.37" y2="150" stroke="#888" stroke-width="0.4"/>
<path d="M150.3 144.1V135.4H151.3V136.0H152.3V135.7H153.3V136.3H154.3V134.9H155.3V134.6H156.3V136.4H157.3V136.5H158.3V134.6H159.3V136.5H160.3V136.7H161.3V136.0H162.2V144.1ZM155.3 132.4h1.5v1.5h-1.5zM152.7 135.6h1.5v1.5h-1.5zM153.1 133.5h1.5v1.5h-1.5zM160.6 134.6h1.5v1.5h-1.5zM151.3 130.8h1.5v1.5h-1.5zM157.6 131.4h1.5v1.5h-1.5zM160.6 135.4h1.5v1.5h-1.5zM160.0 133.3h1.5v1.5h-1.5zM150.4 134.7h1.5v1.5h-1.5zM155.4 132.8h1.5v1.5h-1.5zM157.3 135.7h1.5v1.5h-1.5zM158.1 133.0h1.5v1.5h-1.5zM155.3 131.4h1.5v1.5h-1.5zM158.7 130.5h1.5v1.5h-1.5zM155.2 132.3h1.5v1.5h-1.5zM152.1 135.1h1.5v1.5h-1.5zM150.9 131.8h1.5v1.5h-1.5zM156.8 130.5h1.5v1.5h-1.5zM154.9 135.1h1.5v1.5h-1.5zM157.6 133.0h1.5v1.5h-1.5zM159.5 132.4h1.5v1.5h-1.5zM151.5 133.7h1.5v1.5h-1.5zM158.8 130.7h1.5v1.5h-1.5zM150.4 133.1h1.5v1.5h-1.5zM155.9 133.6h1.5v1.5h-1.5zM158.4 135.9h1.5v1.5h-1.5zM155.7 132.7h1.5v1.5h-1.5zM155.5 133.6h1.5v1.5h-1.5zM155.9 130.8h1.5v1.5h-1.5zM152.0 135.1h1.5v1.5h-1.5zM153.3 132.1h1.5v1.5h-1.5zM153.5 135.5h1.5v1.5h-1.5zM156.2 136.0h1.5v1.5h-1.5zM151.8 134.0h1.5v1.5h-1.5zM157.9 135.9h1.5v1.5h-1.5zM156.5 127.3h1.1v1.1h-1.1zM151.7 127.8h1.1v1.1h-1.1zM151.5 131.6h1.1v1.1h-1.1zM154.0 127.3h1.1v1.1h-1.1zM154.7 130.2h1.1v1.1h-1.1zM156.6 127.4h1.1v1.1h-1.1zM154.7 127.4h1.1v1.1h-1.1zM151.9 128.6h1.1v1.1h-1.1zM154.8 127.2h1.1v1.1h-1.1zM155.9 129.7h1.1v1.1h-1.1zM160.7 130.6h1.1v1.1h-1.1z" fill="#1f7a5c"/>
<path d="M159.9 137.1h1.5v1.5h-1.5zM153.6 140.9h1.1v1.1h-1.1zM152.1 139.6h0.9v0.9h-0.9zM159.7 139.0h1.1v1.1h-1.1z" fill="#fff" fill-opacity="0.8"/>
<rect x="150.79" y="144.7" width="10.87" height="3.00" fill="#cce838"/>
<path d="M151.6 145.3h1.0v1.8h-1.0zM158.0 145.3h2.5v1.8h-2.5z" fill="#4a9226"/>
<path d="M152.6 145.3h2.2v1.8h-2.2zM155.1 145.3h1.0v1.8h-1.0zM156.4 145.3h1.6v1.8h-1.6z" fill="#a8d43a"/>
<path d="M160.5 145.3h0.3v1.8h-0.3z" fill="#66aa30"/>
<line x1="156.22" y1="149" x2="156.22" y2="150" stroke="#888" stroke-width="0.4"/>
<text x="156.22" y="153.00" font-size="2.8" fill="#222" text-anchor="middle" font-weight="bold" dominant-baseline="central" textLength="9" lengthAdjust="spacingAndGlyphs">Gm10</text>
<path d="M163.6 144.1V136.2H164.6V134.5H165.6V135.8H166.6V135.2H167.6V135.3H168.6V136.7H169.6V134.4H170.6V135.1H171.6V136.5H172.6V135.9H173.6V136.0H174.0V144.1ZM168.5 136.1h1.5v1.5h-1.5zM164.5 135.4h1.5v1.5h-1.5zM168.9 133.8h1.5v1.5h-1.5zM171.8 135.1h1.5v1.5h-1.5zM165.4 131.9h1.5v1.5h-1.5zM168.2 135.3h1.5v1.5h-1.5zM167.1 134.9h1.5v1.5h-1.5zM167.5 132.7h1.5v1.5h-1.5zM164.6 133.9h1.5v1.5h-1.5zM170.3 135.1h1.5v1.5h-1.5zM168.8 136.0h1.5v1.5h-1.5zM168.4 133.7h1.5v1.5h-1.5zM167.0 136.0h1.5v1.5h-1.5zM166.2 135.7h1.5v1.5h-1.5zM165.0 135.4h1.5v1.5h-1.5zM171.7 134.3h1.5v1.5h-1.5zM168.9 135.3h1.5v1.5h-1.5zM171.7 132.3h1.5v1.5h-1.5zM165.2 131.4h1.5v1.5h-1.5zM171.5 135.8h1.5v1.5h-1.5zM171.6 131.2h1.5v1.5h-1.5zM168.8 134.6h1.5v1.5h-1.5zM167.4 132.5h1.5v1.5h-1.5zM168.8 132.6h1.5v1.5h-1.5zM170.3 133.2h1.5v1.5h-1.5zM169.4 132.9h1.5v1.5h-1.5zM167.1 134.4h1.5v1.5h-1.5zM172.4 134.1h1.5v1.5h-1.5zM169.6 132.4h1.5v1.5h-1.5zM170.0 132.8h1.5v1.5h-1.5zM171.0 132.3h1.5v1.5h-1.5zM164.1 128.8h1.1v1.1h-1.1zM168.3 128.7h1.1v1.1h-1.1zM165.3 129.1h1.1v1.1h-1.1zM166.3 131.4h1.1v1.1h-1.1zM166.9 129.4h1.1v1.1h-1.1zM166.6 128.3h1.1v1.1h-1.1zM169.5 128.9h1.1v1.1h-1.1zM165.6 129.1h1.1v1.1h-1.1zM172.1 130.9h1.1v1.1h-1.1zM167.2 129.2h1.1v1.1h-1.1z" fill="#3d9ad9"/>
<path d="M167.1 137.7h1.0v1.0h-1.0zM168.0 139.9h1.4v1.4h-1.4zM166.3 140.8h0.9v0.9h-0.9z" fill="#fff" fill-opacity="0.8"/>
<rect x="164.14" y="144.7" width="9.38" height="3.00" fill="#cce838"/>
<path d="M164.9 145.3h1.1v1.8h-1.1z" fill="#a8d43a"/>
<path d="M166.1 145.3h1.3v1.8h-1.3zM169.3 145.3h1.2v1.8h-1.2zM170.8 145.3h1.9v1.8h-1.9z" fill="#4a9226"/>
<path d="M167.4 145.3h1.9v1.8h-1.9z" fill="#66aa30"/>
<line x1="168.83" y1="149" x2="168.83" y2="150" stroke="#888" stroke-width="0.4"/>
<path d="M174.8 144.1V136.1H175.8V134.5H176.8V136.0H177.8V135.8H178.8V136.4H179.8V135.0H180.8V136.4H181.8V136.3H182.8V135.2H183.8V134.4H184.8V135.8H185.5V144.1ZM178.6 135.2h1.5v1.5h-1.5zM179.7 135.9h1.5v1.5h-1.5zM180.2 135.4h1.5v1.5h-1.5zM179.7 134.8h1.5v1.5h-1.5zM176.8 136.1h1.5v1.5h-1.5zM177.0 134.4h1.5v1.5h-1.5zM178.7 135.8h1.5v1.5h-1.5zM178.6 134.5h1.5v1.5h-1.5zM177.4 134.7h1.5v1.5h-1.5zM182.9 131.9h1.5v1.5h-1.5zM181.6 134.5h1.5v1.5h-1.5zM181.4 132.6h1.5v1.5h-1.5zM182.0 135.7h1.5v1.5h-1.5zM176.6 131.9h1.5v1.5h-1.5zM176.5 135.9h1.5v1.5h-1.5zM181.9 134.1h1.5v1.5h-1.5zM181.2 133.9h1.5v1.5h-1.5zM182.0 130.5h1.5v1.5h-1.5zM175.4 133.1h1.5v1.5h-1.5zM183.0 136.0h1.5v1.5h-1.5zM179.6 134.9h1.5v1.5h-1.5zM183.1 132.0h1.5v1.5h-1.5zM175.3 134.6h1.5v1.5h-1.5zM181.9 135.3h1.5v1.5h-1.5zM179.5 130.5h1.5v1.5h-1.5zM183.7 136.0h1.5v1.5h-1.5zM177.8 133.9h1.5v1.5h-1.5zM178.4 134.6h1.5v1.5h-1.5zM181.7 132.4h1.5v1.5h-1.5zM177.7 134.8h1.5v1.5h-1.5zM176.0 132.7h1.5v1.5h-1.5zM182.3 135.8h1.5v1.5h-1.5zM180.0 131.5h1.1v1.1h-1.1zM182.5 128.8h1.1v1.1h-1.1zM180.5 127.4h1.1v1.1h-1.1zM179.4 131.4h1.1v1.1h-1.1zM183.0 130.4h1.1v1.1h-1.1zM179.9 128.8h1.1v1.1h-1.1zM175.2 127.3h1.1v1.1h-1.1zM176.0 130.6h1.1v1.1h-1.1zM179.6 128.9h1.1v1.1h-1.1zM183.4 128.3h1.1v1.1h-1.1z" fill="#f7b522"/>
<path d="M180.8 137.3h1.1v1.1h-1.1zM177.7 140.3h1.2v1.2h-1.2zM180.3 139.6h1.2v1.2h-1.2z" fill="#fff" fill-opacity="0.8"/>
<rect x="175.32" y="144.7" width="9.68" height="3.00" fill="#cce838"/>
<path d="M176.1 145.3h2.1v1.8h-2.1zM180.2 145.3h1.9v1.8h-1.9z" fill="#4a9226"/>
<path d="M178.2 145.3h1.7v1.8h-1.7zM182.1 145.3h1.4v1.8h-1.4zM183.5 145.3h0.7v1.8h-0.7z" fill="#66aa30"/>
<line x1="180.16" y1="149" x2="180.16" y2="150" stroke="#888" stroke-width="0.4"/>
<text x="180.16" y="153.00" font-size="2.8" fill="#222" text-anchor="middle" font-weight="bold" dominant-baseline="central" textLength="9" lengthAdjust="spacingAndGlyphs">Gm12</text>
<path d="M186.3 144.1V136.6H187.3V134.5H188.3V136.8H189.3V136.5H190.3V135.7H191.3V134.9H192.3V134.6H193.3V135.5H194.3V136.7H195.3V136.8H196.3V136.3H197.4V144.1ZM190.3 133.5h1.5v1.5h-1.5zM194.9 135.1h1.5v1.5h-1.5zM188.6 131.6h1.5v1.5h-1.5zM195.5 132.4h1.5v1.5h-1.5zM192.6 132.0h1.5v1.5h-1.5zM188.9 133.8h1.5v1.5h-1.5zM194.9 130.5h1.5v1.5h-1.5zM193.9 134.2h1.5v1.5h-1.5zM189.4 136.1h1.5v1.5h-1.5zM186.5 130.4h1.5v1.5h-1.5zM193.1 136.0h1.5v1.5h-1.5zM186.8 135.8h1.5v1.5h-1.5zM191.1 134.5h1.5v1.5h-1.5zM195.1 135.7h1.5v1.5h-1.5zM194.1 132.0h1.5v1.5h-1.5zM193.0 135.7h1.5v1.5h-1.5zM192.6 131.0h1.5v1.5h-1.5zM193.3 135.6h1.5v1.5h-1.5zM191.9 135.0h1.5v1.5h-1.5zM190.7 134.6h1.5v1.5h-1.5zM194.9 135.8h1.5v1.5h-1.5zM188.4 132.6h1.5v1.5h-1.5zM193.2 136.1h1.5v1.5h-1.5zM190.9 132.2h1.5v1.5h-1.5zM194.6 133.8h1.5v1.5h-1.5zM194.9 133.5h1.5v1.5h-1.5zM195.1 130.6h1.5v1.5h-1.5zM192.5 133.0h1.5v1.5h-1.5zM195.7 135.7h1.5v1.5h-1.5zM194.8 133.5h1.5v1.5h-1.5zM189.0 136.1h1.5v1.5h-1.5zM194.2 134.2h1.5v1.5h-1.5zM193.7 132.7h1.5v1.5h-1.5zM190.1 128.2h1.1v1.1h-1.1zM187.9 129.1h1.1v1.1h-1.1zM190.0 131.6h1.1v1.1h-1.1zM189.0 129.6h1.1v1.1h-1.1zM186.9 128.8h1.1v1.1h-1.1zM189.7 130.2h1.1v1.1h-1.1zM193.8 127.6h1.1v1.1h-1.1zM194.5 127.3h1.1v1.1h-1.1zM189.0 131.3h1.1v1.1h-1.1zM186.5 128.8h1.1v1.1h-1.1zM188.0 130.7h1.1v1.1h-1.1z" fill="#4a3a9e"/>
<path d="M189.1 139.8h1.5v1.5h-1.5zM189.3 138.0h1.6v1.6h-1.6zM189.3 140.9h1.4v1.4h-1.4z" fill="#fff" fill-opacity="0.8"/>
<rect x="186.79" y="144.7" width="10.08" height="3.00" fill="#cce838"/>
<path d="M187.6 145.3h2.1v1.8h-2.1z" fill="#66aa30"/>
<path d="M190.0 145.3h1.3v1.8h-1.3zM191.6 145.3h2.2v1.8h-2.2zM194.1 145.3h1.9v1.8h-1.9z" fill="#4a9226"/>
<line x1="191.83" y1="149" x2="191.83" y2="150" stroke="#888" stroke-width="0.4"/>
<path d="M198.1 144.1V136.1H199.1V136.1H200.1V136.0H201.1V134.8H202.1V135.1H203.1V136.7H204.1V136.5H205.1V135.5H206.1V136.5H207.1V134.4H208.1V136.0H209.1V134.9H210.1V136.7H210.9V144.1ZM208.5 131.5h1.5v1.5h-1.5zM204.9 133.9h1.5v1.5h-1.5zM203.4 135.1h1.5v1.5h-1.5zM208.8 133.3h1.5v1.5h-1.5zM207.1 130.9h1.5v1.5h-1.5zM206.4 133.9h1.5v1.5h-1.5zM201.8 131.9h1.5v1.5h-1.5zM207.0 135.0h1.5v1.5h-1.5zM202.2 132.5h1.5v1.5h-1.5zM198.2 134.5h1.5v1.5h-1.5zM207.3 135.6h1.5v1.5h-1.5zM199.0 133.6h1.5v1.5h-1.5zM201.6 136.1h1.5v1.5h-1.5zM206.7 136.0h1.5v1.5h-1.5zM208.2 134.3h1.5v1.5h-1.5zM203.2 136.1h1.5v1.5h-1.5zM201.7 135.7h1.5v1.5h-1.5zM207.7 133.9h1.5v1.5h-1.5zM206.4 136.0h1.5v1.5h-1.5zM209.2 133.6h1.5v1.5h-1.5zM198.2 134.0h1.5v1.5h-1.5zM200.4 131.4h1.5v1.5h-1.5zM205.8 136.0h1.5v1.5h-1.5zM209.4 136.1h1.5v1.5h-1.5zM200.5 135.7h1.5v1.5h-1.5zM208.7 136.1h1.5v1.5h-1.5zM203.7 133.3h1.5v1.5h-1.5zM202.3 134.9h1.5v1.5h-1.5zM207.7 131.9h1.5v1.5h-1.5zM200.9 135.6h1.5v1.5h-1.5zM204.5 134.1h1.5v1.5h-1.5zM208.4 135.1h1.5v1.5h-1.5zM204.5 132.7h1.5v1.5h-1.5zM204.9 132.8h1.5v1.5h-1.5zM207.4 134.5h1.5v1.5h-1.5zM207.7 135.7h1.5v1.5h-1.5zM199.7 136.0h1.5v1.5h-1.5zM207.0 136.1h1.5v1.5h-1.5zM199.7 129.5h1.1v1.1h-1.1zM199.2 130.5h1.1v1.1h-1.1zM202.6 129.9h1.1v1.1h-1.1zM205.8 131.0h1.1v1.1h-1.1zM199.4 129.3h1.1v1.1h-1.1zM207.7 130.3h1.1v1.1h-1.1zM203.8 129.0h1.1v1.1h-1.1zM201.2 128.1h1.1v1.1h-1.1zM205.4 131.0h1.1v1.1h-1.1zM200.4 128.4h1.1v1.1h-1.1zM209.6 128.8h1.1v1.1h-1.1zM204.1 130.7h1.1v1.1h-1.1z" fill="#4d5824"/>
<path d="M207.1 138.0h1.0v1.0h-1.0zM205.7 140.3h1.0v1.0h-1.0zM202.3 137.0h1.4v1.4h-1.4zM207.9 140.0h1.0v1.0h-1.0z" fill="#fff" fill-opacity="0.8"/>
<rect x="198.56" y="144.7" width="11.86" height="3.00" fill="#cce838"/>
<path d="M199.4 145.3h1.5v1.8h-1.5zM201.1 145.3h2.3v1.8h-2.3zM203.7 145.3h2.3v1.8h-2.3zM206.4 145.3h1.1v1.8h-1.1zM209.2 145.3h0.5v1.8h-0.5z" fill="#4a9226"/>
<path d="M207.8 145.3h1.4v1.8h-1.4z" fill="#a8d43a"/>
<line x1="204.49" y1="149" x2="204.49" y2="150" stroke="#888" stroke-width="0.4"/>
<text x="204.49" y="153.00" font-size="2.8" fill="#222" text-anchor="middle" font-weight="bold" dominant-baseline="central" textLength="9" lengthAdjust="spacingAndGlyphs">Gm14</text>
<path d="M211.6 144.1V136.6H212.6V134.7H213.6V136.6H214.6V135.1H215.6V134.8H216.6V136.2H217.6V134.6H218.6V136.4H219.6V136.4H220.6V135.7H221.6V136.8H222.6V136.7H223.7V144.1ZM221.8 131.9h1.5v1.5h-1.5zM217.2 135.8h1.5v1.5h-1.5zM211.8 134.3h1.5v1.5h-1.5zM212.1 132.3h1.5v1.5h-1.5zM217.5 130.7h1.5v1.5h-1.5zM215.2 130.5h1.5v1.5h-1.5zM214.7 136.0h1.5v1.5h-1.5zM213.9 133.0h1.5v1.5h-1.5zM216.9 131.7h1.5v1.5h-1.5zM215.2 134.3h1.5v1.5h-1.5zM217.0 131.3h1.5v1.5h-1.5zM215.1 135.9h1.5v1.5h-1.5zM215.6 130.4h1.5v1.5h-1.5zM218.0 133.8h1.5v1.5h-1.5zM212.5 133.9h1.5v1.5h-1.5zM216.5 132.2h1.5v1.5h-1.5zM218.7 133.3h1.5v1.5h-1.5zM216.5 135.9h1.5v1.5h-1.5zM212.7 132.8h1.5v1.5h-1.5zM221.1 134.7h1.5v1.5h-1.5zM212.7 134.0h1.5v1.5h-1.5zM217.7 130.6h1.5v1.5h-1.5zM221.3 133.9h1.5v1.5h-1.5zM213.1 133.3h1.5v1.5h-1.5zM216.5 131.9h1.5v1.5h-1.5zM221.6 132.9h1.5v1.5h-1.5zM216.1 134.2h1.5v1.5h-1.5zM212.6 136.1h1.5v1.5h-1.5zM220.5 132.7h1.5v1.5h-1.5zM215.7 130.7h1.5v1.5h-1.5zM216.5 131.1h1.5v1.5h-1.5zM219.6 134.5h1.5v1.5h-1.5zM213.0 135.7h1.5v1.5h-1.5zM212.9 134.7h1.5v1.5h-1.5zM221.9 136.1h1.5v1.5h-1.5zM213.5 130.7h1.5v1.5h-1.5zM215.2 127.8h1.1v1.1h-1.1zM215.7 128.8h1.1v1.1h-1.1zM222.2 130.1h1.1v1.1h-1.1zM212.0 130.5h1.1v1.1h-1.1zM218.8 129.0h1.1v1.1h-1.1zM219.2 127.0h1.1v1.1h-1.1zM212.0 128.8h1.1v1.1h-1.1zM221.6 131.3h1.1v1.1h-1.1zM216.5 129.6h1.1v1.1h-1.1zM213.1 127.6h1.1v1.1h-1.1zM213.3 129.8h1.1v1.1h-1.1zM213.8 129.7h1.1v1.1h-1.1z" fill="#e0197b"/>
<path d="M216.4 137.4h1.6v1.6h-1.6zM214.4 139.3h0.9v0.9h-0.9zM214.8 136.2h1.4v1.4h-1.4zM219.3 138.1h1.5v1.5h-1.5z" fill="#fff" fill-opacity="0.8"/>
<rect x="212.11" y="144.7" width="11.07" height="3.00" fill="#cce838"/>
<path d="M212.9 145.3h1.4v1.8h-1.4zM214.3 145.3h2.2v1.8h-2.2zM218.6 145.3h2.5v1.8h-2.5z" fill="#4a9226"/>
<path d="M216.8 145.3h1.5v1.8h-1.5z" fill="#a8d43a"/>
<path d="M221.0 145.3h1.3v1.8h-1.3z" fill="#66aa30"/>
<line x1="217.64" y1="149" x2="217.64" y2="150" stroke="#888" stroke-width="0.4"/>
<text x="217.64" y="153.00" font-size="2.8" fill="#222" text-anchor="middle" font-weight="bold" dominant-baseline="central" textLength="9" lengthAdjust="spacingAndGlyphs">Gm15</text>
<path d="M224.7 144.1V135.4H225.7V136.4H226.7V136.7H227.7V136.4H228.7V135.3H229.7V135.8H230.7V136.0H231.7V135.5H232.7V135.2H233.7V135.2H234.8V144.1ZM229.6 135.9h1.5v1.5h-1.5zM226.0 134.8h1.5v1.5h-1.5zM228.5 131.6h1.5v1.5h-1.5zM226.7 136.0h1.5v1.5h-1.5zM226.1 134.4h1.5v1.5h-1.5zM229.6 135.9h1.5v1.5h-1.5zM232.1 135.6h1.5v1.5h-1.5zM231.8 132.0h1.5v1.5h-1.5zM229.8 130.7h1.5v1.5h-1.5zM227.4 132.4h1.5v1.5h-1.5zM228.8 131.6h1.5v1.5h-1.5zM225.2 135.0h1.5v1.5h-1.5zM229.4 135.6h1.5v1.5h-1.5zM232.4 136.1h1.5v1.5h-1.5zM227.6 131.9h1.5v1.5h-1.5zM228.1 135.2h1.5v1.5h-1.5zM227.6 130.8h1.5v1.5h-1.5zM225.2 132.0h1.5v1.5h-1.5zM226.3 132.8h1.5v1.5h-1.5zM226.5 133.4h1.5v1.5h-1.5zM230.9 133.7h1.5v1.5h-1.5zM229.2 135.7h1.5v1.5h-1.5zM232.7 132.8h1.5v1.5h-1.5zM225.1 132.8h1.5v1.5h-1.5zM229.4 136.0h1.5v1.5h-1.5zM227.7 131.3h1.5v1.5h-1.5zM231.4 135.7h1.5v1.5h-1.5zM228.1 131.8h1.5v1.5h-1.5zM229.8 135.2h1.5v1.5h-1.5zM229.6 135.6h1.5v1.5h-1.5zM232.2 130.5h1.1v1.1h-1.1zM232.9 129.3h1.1v1.1h-1.1zM233.0 129.0h1.1v1.1h-1.1zM232.5 130.2h1.1v1.1h-1.1zM227.3 127.8h1.1v1.1h-1.1zM229.4 129.6h1.1v1.1h-1.1zM226.7 127.5h1.1v1.1h-1.1zM225.9 127.7h1.1v1.1h-1.1zM225.9 129.1h1.1v1.1h-1.1zM225.1 128.3h1.1v1.1h-1.1z" fill="#f07020"/>
<path d="M228.0 138.9h0.9v0.9h-0.9zM228.2 137.4h1.2v1.2h-1.2zM227.0 137.0h1.4v1.4h-1.4z" fill="#fff" fill-opacity="0.8"/>
<rect x="225.16" y="144.7" width="9.09" height="3.00" fill="#cce838"/>
<path d="M226.0 145.3h2.0v1.8h-2.0zM230.3 145.3h1.1v1.8h-1.1z" fill="#66aa30"/>
<path d="M228.0 145.3h2.3v1.8h-2.3zM231.7 145.3h1.8v1.8h-1.8z" fill="#4a9226"/>
<line x1="229.71" y1="149" x2="229.71" y2="150" stroke="#888" stroke-width="0.4"/>
<path d="M235.7 144.1V134.6H236.7V136.4H237.7V134.8H238.7V134.8H239.7V134.9H240.7V135.2H241.7V134.5H242.7V136.6H243.7V134.7H244.7V134.5H245.7V135.0H246.4V144.1ZM237.8 136.1h1.5v1.5h-1.5zM244.7 134.5h1.5v1.5h-1.5zM241.7 134.9h1.5v1.5h-1.5zM237.4 136.0h1.5v1.5h-1.5zM239.2 135.8h1.5v1.5h-1.5zM243.4 136.0h1.5v1.5h-1.5zM241.0 131.1h1.5v1.5h-1.5zM241.8 132.8h1.5v1.5h-1.5zM242.0 135.2h1.5v1.5h-1.5zM244.9 135.5h1.5v1.5h-1.5zM238.2 134.5h1.5v1.5h-1.5zM237.3 135.8h1.5v1.5h-1.5zM238.4 134.0h1.5v1.5h-1.5zM241.1 135.7h1.5v1.5h-1.5zM235.8 132.6h1.5v1.5h-1.5zM241.2 131.5h1.5v1.5h-1.5zM236.8 135.1h1.5v1.5h-1.5zM237.1 136.1h1.5v1.5h-1.5zM238.5 134.3h1.5v1.5h-1.5zM241.8 133.4h1.5v1.5h-1.5zM243.4 132.8h1.5v1.5h-1.5zM236.8 135.1h1.5v1.5h-1.5zM237.6 134.3h1.5v1.5h-1.5zM244.5 132.6h1.5v1.5h-1.5zM236.4 135.6h1.5v1.5h-1.5zM244.3 134.1h1.5v1.5h-1.5zM244.3 131.0h1.5v1.5h-1.5zM240.3 131.2h1.5v1.5h-1.5zM242.8 132.0h1.5v1.5h-1.5zM237.5 134.2h1.5v1.5h-1.5zM238.4 131.7h1.5v1.5h-1.5zM237.7 132.7h1.5v1.5h-1.5zM237.8 131.1h1.1v1.1h-1.1zM240.8 129.5h1.1v1.1h-1.1zM239.7 131.0h1.1v1.1h-1.1zM241.3 130.0h1.1v1.1h-1.1zM240.7 129.4h1.1v1.1h-1.1zM237.3 127.2h1.1v1.1h-1.1zM236.8 128.2h1.1v1.1h-1.1zM245.0 128.1h1.1v1.1h-1.1zM237.2 131.6h1.1v1.1h-1.1zM245.0 128.9h1.1v1.1h-1.1z" fill="#d98cc6"/>
<path d="M238.0 138.0h1.5v1.5h-1.5zM238.2 136.2h1.2v1.2h-1.2zM241.3 139.6h1.2v1.2h-1.2z" fill="#fff" fill-opacity="0.8"/>
<rect x="236.24" y="144.7" width="9.68" height="3.00" fill="#cce838"/>
<path d="M237.0 145.3h2.3v1.8h-2.3zM239.3 145.3h1.6v1.8h-1.6zM244.9 145.3h0.2v1.8h-0.2z" fill="#4a9226"/>
<path d="M241.2 145.3h1.9v1.8h-1.9z" fill="#66aa30"/>
<path d="M243.1 145.3h1.8v1.8h-1.8z" fill="#a8d43a"/>
<line x1="241.08" y1="149" x2="241.08" y2="150" stroke="#888" stroke-width="0.4"/>
<text x="241.08" y="153.00" font-size="2.8" fill="#222" text-anchor="middle" font-weight="bold" dominant-baseline="central" textLength="9" lengthAdjust="spacingAndGlyphs">Gm17</text>
<path d="M247.5 144.1V134.5H248.5V134.8H249.5V136.8H250.5V134.5H251.5V135.2H252.5V134.4H253.5V135.9H254.5V135.2H255.5V136.8H256.5V136.3H257.5V134.5H258.5V135.8H259.5V134.6H260.5V136.6H261.5V134.8H262.6V144.1ZM248.0 135.0h1.5v1.5h-1.5zM249.8 131.6h1.5v1.5h-1.5zM248.6 135.8h1.5v1.5h-1.5zM252.0 135.3h1.5v1.5h-1.5zM255.3 136.0h1.5v1.5h-1.5zM254.4 133.7h1.5v1.5h-1.5zM256.0 133.6h1.5v1.5h-1.5zM257.2 136.1h1.5v1.5h-1.5zM249.0 133.7h1.5v1.5h-1.5zM254.5 136.1h1.5v1.5h-1.5zM260.2 132.3h1.5v1.5h-1.5zM259.6 134.6h1.5v1.5h-1.5zM260.8 131.9h1.5v1.5h-1.5zM248.8 136.0h1.5v1.5h-1.5zM254.9 134.7h1.5v1.5h-1.5zM248.3 135.0h1.5v1.5h-1.5zM257.9 133.3h1.5v1.5h-1.5zM252.1 135.9h1.5v1.5h-1.5zM251.6 133.2h1.5v1.5h-1.5zM253.0 134.5h1.5v1.5h-1.5zM255.4 135.5h1.5v1.5h-1.5zM254.6 131.8h1.5v1.5h-1.5zM251.8 135.3h1.5v1.5h-1.5zM252.9 135.8h1.5v1.5h-1.5zM254.8 135.4h1.5v1.5h-1.5zM257.0 130.6h1.5v1.5h-1.5zM256.3 133.8h1.5v1.5h-1.5zM247.9 134.8h1.5v1.5h-1.5zM257.3 131.6h1.5v1.5h-1.5zM254.3 136.0h1.5v1.5h-1.5zM247.6 132.2h1.5v1.5h-1.5zM253.9 133.5h1.5v1.5h-1.5zM258.2 131.4h1.5v1.5h-1.5zM249.1 135.3h1.5v1.5h-1.5zM256.5 135.5h1.5v1.5h-1.5zM259.1 134.4h1.5v1.5h-1.5zM249.2 135.6h1.5v1.5h-1.5zM258.0 133.9h1.5v1.5h-1.5zM250.1 130.4h1.5v1.5h-1.5zM247.7 135.8h1.5v1.5h-1.5zM260.7 130.4h1.5v1.5h-1.5zM257.6 131.8h1.5v1.5h-1.5zM257.7 131.7h1.5v1.5h-1.5zM250.2 133.0h1.5v1.5h-1.5zM260.8 132.9h1.5v1.5h-1.5zM259.0 129.8h1.1v1.1h-1.1zM259.0 130.3h1.1v1.1h-1.1zM250.0 127.0h1.1v1.1h-1.1zM247.7 128.4h1.1v1.1h-1.1zM256.2 129.5h1.1v1.1h-1.1zM257.3 131.5h1.1v1.1h-1.1zM260.2 131.4h1.1v1.1h-1.1zM259.3 129.7h1.1v1.1h-1.1zM254.9 129.1h1.1v1.1h-1.1zM254.0 128.8h1.1v1.1h-1.1zM261.1 130.5h1.1v1.1h-1.1zM254.1 127.5h1.1v1.1h-1.1zM252.3 127.8h1.1v1.1h-1.1zM254.8 130.2h1.1v1.1h-1.1zM248.5 127.6h1.1v1.1h-1.1z" fill="#80d4b4"/>
<path d="M248.7 139.5h0.9v0.9h-0.9zM254.5 137.4h1.6v1.6h-1.6zM251.0 137.8h0.8v0.8h-0.8zM249.2 138.0h1.2v1.2h-1.2zM258.0 136.7h1.0v1.0h-1.0z" fill="#fff" fill-opacity="0.8"/>
<rect x="248.01" y="144.7" width="14.13" height="3.00" fill="#cce838"/>
<path d="M248.8 145.3h1.9v1.8h-1.9zM250.7 145.3h1.6v1.8h-1.6zM252.3 145.3h1.3v1.8h-1.3zM253.6 145.3h1.1v1.8h-1.1zM258.9 145.3h2.3v1.8h-2.3z" fill="#4a9226"/>
<path d="M254.7 145.3h2.4v1.8h-2.4zM257.1 145.3h1.5v1.8h-1.5z" fill="#a8d43a"/>
<line x1="255.07" y1="149" x2="255.07" y2="150" stroke="#888" stroke-width="0.4"/>
<text x="255.07" y="153.00" font-size="2.8" fill="#222" text-anchor="middle" font-weight="bold" dominant-baseline="central" textLength="9" lengthAdjust="spacingAndGlyphs">Gm18</text>
<path d="M263.6 144.1V134.6H264.6V135.3H265.6V135.7H266.6V135.5H267.6V134.8H268.6V135.1H269.6V136.0H270.6V136.6H271.6V136.6H272.6V134.8H273.6V135.7H274.6V134.4H275.9V144.1ZM268.1 136.0h1.5v1.5h-1.5zM268.3 131.0h1.5v1.5h-1.5zM273.8 132.8h1.5v1.5h-1.5zM270.0 133.4h1.5v1.5h-1.5zM264.9 132.5h1.5v1.5h-1.5zM263.7 131.8h1.5v1.5h-1.5zM267.2 134.6h1.5v1.5h-1.5zM271.8 130.7h1.5v1.5h-1.5zM267.2 136.0h1.5v1.5h-1.5zM271.2 134.3h1.5v1.5h-1.5zM264.8 130.7h1.5v1.5h-1.5zM273.0 135.7h1.5v1.5h-1.5zM267.5 131.9h1.5v1.5h-1.5zM273.0 134.3h1.5v1.5h-1.5zM273.7 133.9h1.5v1.5h-1.5zM270.7 134.5h1.5v1.5h-1.5zM264.0 135.6h1.5v1.5h-1.5zM271.6 135.0h1.5v1.5h-1.5zM270.9 132.3h1.5v1.5h-1.5zM265.7 136.0h1.5v1.5h-1.5zM265.1 132.7h1.5v1.5h-1.5zM270.1 134.9h1.5v1.5h-1.5zM264.7 131.5h1.5v1.5h-1.5zM270.8 130.4h1.5v1.5h-1.5zM270.8 132.0h1.5v1.5h-1.5zM264.0 136.0h1.5v1.5h-1.5zM273.5 135.8h1.5v1.5h-1.5zM268.4 135.4h1.5v1.5h-1.5zM266.4 135.8h1.5v1.5h-1.5zM270.7 135.4h1.5v1.5h-1.5zM266.0 135.5h1.5v1.5h-1.5zM267.9 133.7h1.5v1.5h-1.5zM266.1 134.7h1.5v1.5h-1.5zM273.9 136.0h1.5v1.5h-1.5zM271.6 134.9h1.5v1.5h-1.5zM274.0 135.7h1.5v1.5h-1.5zM274.2 131.3h1.1v1.1h-1.1zM265.7 131.2h1.1v1.1h-1.1zM265.5 129.0h1.1v1.1h-1.1zM271.2 127.4h1.1v1.1h-1.1zM266.8 131.3h1.1v1.1h-1.1zM265.8 128.8h1.1v1.1h-1.1zM267.2 128.1h1.1v1.1h-1.1zM265.8 131.6h1.1v1.1h-1.1zM268.2 131.1h1.1v1.1h-1.1zM274.5 128.2h1.1v1.1h-1.1zM273.5 128.8h1.1v1.1h-1.1zM266.7 129.4h1.1v1.1h-1.1z" fill="#8a1535"/>
<path d="M271.6 136.0h0.8v0.8h-0.8zM273.1 136.4h1.4v1.4h-1.4zM267.5 138.4h1.4v1.4h-1.4zM268.5 136.6h1.2v1.2h-1.2z" fill="#fff" fill-opacity="0.8"/>
<rect x="264.13" y="144.7" width="11.26" height="3.00" fill="#cce838"/>
<path d="M264.9 145.3h2.3v1.8h-2.3zM269.7 145.3h1.2v1.8h-1.2zM273.4 145.3h1.2v1.8h-1.2z" fill="#a8d43a"/>
<path d="M267.5 145.3h1.9v1.8h-1.9zM271.2 145.3h1.9v1.8h-1.9z" fill="#4a9226"/>
<line x1="269.76" y1="149" x2="269.76" y2="150" stroke="#888" stroke-width="0.4"/>
<text x="269.76" y="153.00" font-size="2.8" fill="#222" text-anchor="middle" font-weight="bold" dominant-baseline="central" textLength="9" lengthAdjust="spacingAndGlyphs">Gm19</text>
<path d="M277.1 144.1V135.7H278.1V136.4H279.1V134.6H280.1V135.3H281.1V136.7H282.1V134.5H283.1V134.4H284.1V134.7H285.1V135.0H286.1V136.0H287.1V135.5H288.1V136.1H288.8V144.1ZM282.8 134.2h1.5v1.5h-1.5zM277.1 134.1h1.5v1.5h-1.5zM280.3 132.6h1.5v1.5h-1.5zM285.7 133.4h1.5v1.5h-1.5zM286.9 132.0h1.5v1.5h-1.5zM286.1 136.1h1.5v1.5h-1.5zM284.2 131.6h1.5v1.5h-1.5zM285.8 133.1h1.5v1.5h-1.5zM284.5 133.1h1.5v1.5h-1.5zM285.0 130.8h1.5v1.5h-1.5zM283.5 133.4h1.5v1.5h-1.5zM280.2 135.0h1.5v1.5h-1.5zM279.9 136.0h1.5v1.5h-1.5zM283.9 135.3h1.5v1.5h-1.5zM284.0 131.2h1.5v1.5h-1.5zM284.8 133.2h1.5v1.5h-1.5zM286.1 133.1h1.5v1.5h-1.5zM278.5 136.0h1.5v1.5h-1.5zM277.5 136.0h1.5v1.5h-1.5zM278.3 131.4h1.5v1.5h-1.5zM281.3 132.1h1.5v1.5h-1.5zM282.8 132.5h1.5v1.5h-1.5zM286.1 131.4h1.5v1.5h-1.5zM281.9 135.2h1.5v1.5h-1.5zM284.5 133.5h1.5v1.5h-1.5zM277.3 131.7h1.5v1.5h-1.5zM286.4 135.2h1.5v1.5h-1.5zM286.0 135.5h1.5v1.5h-1.5zM280.3 135.1h1.5v1.5h-1.5zM281.7 135.9h1.5v1.5h-1.5zM279.5 135.1h1.5v1.5h-1.5zM285.7 133.0h1.5v1.5h-1.5zM280.6 133.5h1.5v1.5h-1.5zM287.1 134.4h1.5v1.5h-1.5zM280.9 131.9h1.5v1.5h-1.5zM286.7 131.0h1.1v1.1h-1.1zM283.7 129.1h1.1v1.1h-1.1zM287.2 131.1h1.1v1.1h-1.1zM278.7 127.3h1.1v1.1h-1.1zM279.9 128.2h1.1v1.1h-1.1zM279.0 127.8h1.1v1.1h-1.1zM280.3 131.6h1.1v1.1h-1.1zM286.8 130.4h1.1v1.1h-1.1zM283.2 128.6h1.1v1.1h-1.1zM281.0 129.8h1.1v1.1h-1.1zM284.7 129.9h1.1v1.1h-1.1z" fill="#1f7a5c"/>
<path d="M284.5 140.7h1.3v1.3h-1.3zM283.6 139.5h1.1v1.1h-1.1zM286.7 137.1h1.3v1.3h-1.3zM278.5 140.4h1.2v1.2h-1.2z" fill="#fff" fill-opacity="0.8"/>
<rect x="277.58" y="144.7" width="10.67" height="3.00" fill="#cce838"/>
<path d="M278.4 145.3h1.1v1.8h-1.1zM283.0 145.3h2.6v1.8h-2.6z" fill="#66aa30"/>
<path d="M279.8 145.3h2.0v1.8h-2.0zM281.8 145.3h1.2v1.8h-1.2zM285.6 145.3h1.5v1.8h-1.5zM287.0 145.3h0.4v1.8h-0.4z" fill="#4a9226"/>
<line x1="282.91" y1="149" x2="282.91" y2="150" stroke="#888" stroke-width="0.4"/>
<line x1="31.3" y1="149" x2="288.75" y2="149" stroke="#ddd" stroke-width="0.4"/>
<text x="31.00" y="153.00" font-size="2.8" fill="#222" text-anchor="middle" font-weight="bold" dominant-baseline="central" textLength="6" lengthAdjust="spacingAndGlyphs">Chr</text>
<text x="160.50" y="158.80" font-size="5.0" fill="#333" text-anchor="middle" font-weight="bold" dominant-baseline="central" textLength="33.6" lengthAdjust="spacingAndGlyphs">Chromosome</text>
<rect x="43.05" y="125.45" width="1.5" height="1.5" fill="#3d9ad9"/>
<rect x="56.55" y="122.95" width="1.5" height="1.5" fill="#f7b522"/>
<rect x="58.25" y="120.65" width="1.5" height="1.5" fill="#f7b522"/>
<rect x="109.95" y="111.75" width="1.5" height="1.5" fill="#f07020"/>
<rect x="109.25" y="122.95" width="1.5" height="1.5" fill="#f07020"/>
<rect x="107.25" y="129.25" width="1.5" height="1.5" fill="#f07020"/>
<rect x="146.55" y="111.75" width="1.5" height="1.5" fill="#8a1535"/>
<rect x="147.05" y="116.05" width="1.5" height="1.5" fill="#8a1535"/>
<rect x="182.25" y="106.65" width="1.5" height="1.5" fill="#f7b522"/>
<rect x="182.65" y="115.25" width="1.5" height="1.5" fill="#f7b522"/>
<rect x="194.25" y="116.05" width="1.5" height="1.5" fill="#4a3a9e"/>
<rect x="232.25" y="106.65" width="1.5" height="1.5" fill="#f07020"/>
<rect x="231.05" y="112.75" width="1.5" height="1.5" fill="#f07020"/>
<rect x="237.15" y="92.15" width="1.5" height="1.5" fill="#d98cc6"/>
<rect x="243.85" y="120.95" width="1.5" height="1.5" fill="#d98cc6"/>
<rect x="270.95" y="105.95" width="1.5" height="1.5" fill="#8a1535"/>
<rect x="273.00" y="118.25" width="1.5" height="1.5" fill="#8a1535"/>
<rect x="284.25" y="123.00" width="1.5" height="1.5" fill="#1f7a5c"/>
<rect x="291" y="93.5" width="4.600000000000023" height="25.0" fill="url(#leg)"/>
<path d="M296.50 93.65h1.3v0.9h-1.3zM296.50 96.03h1.0v0.9h-1.0zM296.50 98.41h1.3v0.9h-1.3zM296.50 100.79h2.6v0.9h-2.6zM296.50 103.17h3.0v0.9h-3.0zM296.50 105.55h3.0v0.9h-3.0zM296.50 107.93h3.0v0.9h-3.0zM296.50 110.31h3.0v0.9h-3.0zM296.50 112.69h3.0v0.9h-3.0zM296.50 115.07h3.0v0.9h-3.0zM296.50 117.45h4.4v0.9h-4.4z" fill="#999"/>
<rect x="291.20" y="92.40" width="4.20" height="1" fill="#e0c8c8"/>
<text x="12.20" y="178.80" font-size="6.8" fill="#333" text-anchor="middle" font-weight="bold" dominant-baseline="central">C</text>
<text x="13.3" y="205.1" font-size="5.8" fill="#333" font-weight="bold" text-anchor="middle" dominant-baseline="central" textLength="16.7" lengthAdjust="spacingAndGlyphs" transform="rotate(-90 13.3 205.1)">-log<tspan font-size="3.2" dy="1">10</tspan><tspan dy="-1">(</tspan><tspan font-style="italic">p</tspan>)</text>
<line x1="30.5" y1="174.5" x2="30.5" y2="238" stroke="#bbb" stroke-width="0.6"/>
<line x1="28.9" y1="187.3" x2="30.5" y2="187.3" stroke="#999" stroke-width="0.5"/>
<text x="24.70" y="188.00" font-size="2.8" fill="#222" text-anchor="middle" font-weight="bold" dominant-baseline="central">15</text>
<line x1="28.9" y1="202.7" x2="30.5" y2="202.7" stroke="#999" stroke-width="0.5"/>
<text x="24.70" y="203.40" font-size="2.8" fill="#222" text-anchor="middle" font-weight="bold" dominant-baseline="central">10</text>
<line x1="28.9" y1="217.6" x2="30.5" y2="217.6" stroke="#999" stroke-width="0.5"/>
<text x="24.70" y="218.30" font-size="2.8" fill="#222" text-anchor="middle" font-weight="bold" dominant-baseline="central">5</text>
<line x1="28.9" y1="233" x2="30.5" y2="233" stroke="#999" stroke-width="0.5"/>
<text x="24.70" y="233.70" font-size="2.8" fill="#222" text-anchor="middle" font-weight="bold" dominant-baseline="central">0</text>
<line x1="30.5" y1="216.2" x2="296.7" y2="216.2" stroke="#dcc4c8" stroke-width="0.8" stroke-dasharray="1.2 0.6"/>
<path d="M31.8 233.3V228.6H32.8V228.7H33.8V228.3H34.8V228.7H35.8V228.3H36.8V228.8H37.8V228.2H38.8V228.1H39.8V228.4H40.8V227.8H41.8V228.9H42.8V227.5H43.8V228.3H44.8V228.7H45.6V233.3ZM36.6 228.1h1.5v1.5h-1.5zM31.9 227.3h1.5v1.5h-1.5zM39.7 227.7h1.5v1.5h-1.5zM39.7 226.6h1.5v1.5h-1.5zM37.8 227.8h1.5v1.5h-1.5zM43.4 226.7h1.5v1.5h-1.5zM33.9 228.6h1.5v1.5h-1.5zM43.0 227.6h1.5v1.5h-1.5zM32.1 228.5h1.5v1.5h-1.5zM35.9 228.2h1.5v1.5h-1.5zM35.0 228.4h1.5v1.5h-1.5zM38.7 226.5h1.5v1.5h-1.5zM40.5 226.5h1.5v1.5h-1.5zM31.9 228.4h1.5v1.5h-1.5zM42.8 227.7h1.5v1.5h-1.5zM35.8 228.4h1.5v1.5h-1.5zM42.3 226.2h1.5v1.5h-1.5zM39.8 227.1h1.5v1.5h-1.5zM40.9 227.2h1.5v1.5h-1.5zM37.3 226.9h1.5v1.5h-1.5zM39.7 226.5h1.5v1.5h-1.5zM42.9 228.4h1.5v1.5h-1.5zM38.0 228.2h1.5v1.5h-1.5zM33.2 228.4h1.5v1.5h-1.5zM44.4 226.0h1.1v1.1h-1.1zM33.3 225.8h1.1v1.1h-1.1zM39.8 224.9h1.1v1.1h-1.1zM36.2 225.4h1.1v1.1h-1.1z" fill="#3d9ad9"/>
<path d="M35.8 228.5h1.2v1.2h-1.2zM41.7 228.7h1.4v1.4h-1.4zM38.0 229.3h1.3v1.3h-1.3z" fill="#fff" fill-opacity="0.8"/>
<rect x="32.30" y="233.8" width="12.84" height="3.80" fill="#cce838"/>
<path d="M33.1 234.4h2.1v2.6h-2.1z" fill="#a8d43a"/>
<path d="M35.5 234.4h1.5v2.6h-1.5zM37.3 234.4h2.3v2.6h-2.3zM39.7 234.4h2.6v2.6h-2.6z" fill="#4a9226"/>
<path d="M42.6 234.4h1.1v2.6h-1.1zM43.9 234.4h0.4v2.6h-0.4z" fill="#66aa30"/>
<line x1="38.72" y1="238.5" x2="38.72" y2="239.5" stroke="#888" stroke-width="0.4"/>
<path d="M46.2 233.3V228.2H47.2V228.1H48.2V228.9H49.2V228.0H50.2V228.0H51.2V227.5H52.2V228.3H53.2V228.2H54.2V228.8H55.2V228.3H56.2V228.8H57.2V228.1H58.2V228.7H58.7V233.3ZM54.6 228.5h1.5v1.5h-1.5zM48.0 228.2h1.5v1.5h-1.5zM55.1 228.2h1.5v1.5h-1.5zM56.7 227.3h1.5v1.5h-1.5zM48.5 227.1h1.5v1.5h-1.5zM47.8 227.2h1.5v1.5h-1.5zM52.1 227.7h1.5v1.5h-1.5zM56.3 227.8h1.5v1.5h-1.5zM50.6 228.4h1.5v1.5h-1.5zM53.0 227.2h1.5v1.5h-1.5zM51.5 227.6h1.5v1.5h-1.5zM54.2 227.9h1.5v1.5h-1.5zM47.1 227.6h1.5v1.5h-1.5zM46.9 228.3h1.5v1.5h-1.5zM52.4 228.1h1.5v1.5h-1.5zM55.5 228.4h1.5v1.5h-1.5zM51.7 227.2h1.5v1.5h-1.5zM52.5 228.4h1.5v1.5h-1.5zM55.4 226.5h1.5v1.5h-1.5zM53.0 226.4h1.5v1.5h-1.5zM56.8 228.2h1.5v1.5h-1.5zM46.6 228.6h1.5v1.5h-1.5zM57.0 225.2h1.1v1.1h-1.1zM46.6 225.0h1.1v1.1h-1.1zM56.4 225.1h1.1v1.1h-1.1z" fill="#f7b522"/>
<path d="M54.9 229.0h1.0v1.0h-1.0zM53.3 231.1h1.4v1.4h-1.4z" fill="#fff" fill-opacity="0.8"/>
<rect x="46.75" y="233.8" width="11.43" height="3.80" fill="#cce838"/>
<path d="M47.5 234.4h2.1v2.6h-2.1z" fill="#66aa30"/>
<path d="M49.6 234.4h2.5v2.6h-2.5zM52.1 234.4h2.3v2.6h-2.3zM54.7 234.4h1.2v2.6h-1.2zM56.3 234.4h1.1v2.6h-1.1z" fill="#4a9226"/>
<line x1="52.46" y1="238.5" x2="52.46" y2="239.5" stroke="#888" stroke-width="0.4"/>
<text x="52.46" y="242.50" font-size="2.8" fill="#222" text-anchor="middle" font-weight="bold" dominant-baseline="central" textLength="9" lengthAdjust="spacingAndGlyphs">Gm02</text>
<path d="M60.4 233.3V227.5H61.4V228.8H62.4V228.0H63.4V228.8H64.4V228.0H65.4V228.5H66.4V228.8H67.4V228.8H68.4V228.8H69.4V228.1H70.4V227.9H71.4V228.2H72.5V233.3ZM68.2 227.6h1.5v1.5h-1.5zM64.8 228.7h1.5v1.5h-1.5zM66.2 226.7h1.5v1.5h-1.5zM69.9 228.3h1.5v1.5h-1.5zM66.4 226.7h1.5v1.5h-1.5zM61.5 228.4h1.5v1.5h-1.5zM62.9 227.7h1.5v1.5h-1.5zM61.6 228.7h1.5v1.5h-1.5zM68.4 228.4h1.5v1.5h-1.5zM66.1 227.9h1.5v1.5h-1.5zM67.0 228.3h1.5v1.5h-1.5zM63.4 226.7h1.5v1.5h-1.5zM65.2 228.4h1.5v1.5h-1.5zM63.2 226.8h1.5v1.5h-1.5zM66.0 228.0h1.5v1.5h-1.5zM68.5 228.7h1.5v1.5h-1.5zM68.3 228.2h1.5v1.5h-1.5zM61.2 227.3h1.5v1.5h-1.5zM62.4 228.7h1.5v1.5h-1.5zM64.6 228.6h1.5v1.5h-1.5zM65.3 227.6h1.5v1.5h-1.5zM65.9 224.7h1.1v1.1h-1.1zM62.5 225.3h1.1v1.1h-1.1zM62.9 226.4h1.1v1.1h-1.1z" fill="#4a3a9e"/>
<path d="M62.2 231.2h0.9v0.9h-0.9zM64.5 229.5h1.2v1.2h-1.2z" fill="#fff" fill-opacity="0.8"/>
<rect x="60.90" y="233.8" width="11.13" height="3.80" fill="#cce838"/>
<path d="M61.7 234.4h2.1v2.6h-2.1zM64.1 234.4h1.7v2.6h-1.7zM65.8 234.4h2.0v2.6h-2.0zM69.4 234.4h1.8v2.6h-1.8z" fill="#66aa30"/>
<path d="M67.9 234.4h1.5v2.6h-1.5z" fill="#a8d43a"/>
<line x1="66.46" y1="238.5" x2="66.46" y2="239.5" stroke="#888" stroke-width="0.4"/>
<path d="M73.4 233.3V227.5H74.4V227.6H75.4V228.3H76.4V228.5H77.4V227.5H78.4V228.5H79.4V228.8H80.4V227.6H81.4V227.9H82.4V228.8H83.4V228.0H84.4V228.9H85.4V228.6H86.6V233.3ZM78.6 226.6h1.5v1.5h-1.5zM79.6 227.8h1.5v1.5h-1.5zM75.0 227.3h1.5v1.5h-1.5zM83.0 228.3h1.5v1.5h-1.5zM81.3 227.1h1.5v1.5h-1.5zM76.1 228.7h1.5v1.5h-1.5zM83.8 228.4h1.5v1.5h-1.5zM78.1 227.2h1.5v1.5h-1.5zM82.9 227.6h1.5v1.5h-1.5zM80.0 227.6h1.5v1.5h-1.5zM81.0 227.5h1.5v1.5h-1.5zM85.0 227.2h1.5v1.5h-1.5zM84.2 228.6h1.5v1.5h-1.5zM80.5 227.6h1.5v1.5h-1.5zM84.7 228.1h1.5v1.5h-1.5zM82.9 228.1h1.5v1.5h-1.5zM76.3 227.0h1.5v1.5h-1.5zM84.2 227.6h1.5v1.5h-1.5zM84.7 226.8h1.5v1.5h-1.5zM83.0 228.7h1.5v1.5h-1.5zM77.3 228.7h1.5v1.5h-1.5zM81.8 227.0h1.5v1.5h-1.5zM83.1 226.3h1.5v1.5h-1.5zM77.2 226.8h1.1v1.1h-1.1zM75.0 224.9h1.1v1.1h-1.1zM83.5 226.5h1.1v1.1h-1.1z" fill="#4d5824"/>
<path d="M83.7 228.8h1.5v1.5h-1.5zM82.7 230.1h0.9v0.9h-0.9zM77.2 229.1h1.1v1.1h-1.1z" fill="#fff" fill-opacity="0.8"/>
<rect x="73.93" y="233.8" width="12.14" height="3.80" fill="#cce838"/>
<path d="M74.7 234.4h2.5v2.6h-2.5zM79.3 234.4h1.3v2.6h-1.3zM83.1 234.4h2.2v2.6h-2.2z" fill="#66aa30"/>
<path d="M77.5 234.4h1.4v2.6h-1.4zM80.9 234.4h1.9v2.6h-1.9z" fill="#4a9226"/>
<line x1="80.00" y1="238.5" x2="80.00" y2="239.5" stroke="#888" stroke-width="0.4"/>
<text x="80.00" y="242.50" font-size="2.8" fill="#222" text-anchor="middle" font-weight="bold" dominant-baseline="central" textLength="9" lengthAdjust="spacingAndGlyphs">Gm04</text>
<path d="M87.6 233.3V228.2H88.6V227.8H89.6V227.9H90.6V227.9H91.6V227.5H92.6V228.0H93.6V228.9H94.6V228.8H95.6V228.8H96.6V228.5H97.6V227.5H98.0V233.3ZM91.1 228.3h1.5v1.5h-1.5zM89.1 228.7h1.5v1.5h-1.5zM94.4 228.0h1.5v1.5h-1.5zM92.9 227.1h1.5v1.5h-1.5zM88.2 228.3h1.5v1.5h-1.5zM88.4 227.5h1.5v1.5h-1.5zM91.4 227.6h1.5v1.5h-1.5zM90.2 228.7h1.5v1.5h-1.5zM89.3 227.5h1.5v1.5h-1.5zM90.3 228.5h1.5v1.5h-1.5zM89.5 228.2h1.5v1.5h-1.5zM95.0 226.6h1.5v1.5h-1.5zM90.5 228.0h1.5v1.5h-1.5zM90.3 226.7h1.5v1.5h-1.5zM94.5 227.5h1.5v1.5h-1.5zM89.4 228.1h1.5v1.5h-1.5zM91.0 228.6h1.5v1.5h-1.5zM88.5 226.3h1.5v1.5h-1.5zM91.9 226.1h1.1v1.1h-1.1zM89.3 224.6h1.1v1.1h-1.1zM95.0 226.7h1.1v1.1h-1.1z" fill="#e0197b"/>
<path d="M93.5 229.6h1.2v1.2h-1.2zM89.5 230.2h1.5v1.5h-1.5z" fill="#fff" fill-opacity="0.8"/>
<rect x="88.08" y="233.8" width="9.41" height="3.80" fill="#cce838"/>
<path d="M88.9 234.4h2.3v2.6h-2.3zM91.4 234.4h1.1v2.6h-1.1zM96.1 234.4h0.6v2.6h-0.6z" fill="#4a9226"/>
<path d="M92.6 234.4h1.6v2.6h-1.6z" fill="#a8d43a"/>
<path d="M94.1 234.4h2.0v2.6h-2.0z" fill="#66aa30"/>
<line x1="92.78" y1="238.5" x2="92.78" y2="239.5" stroke="#888" stroke-width="0.4"/>
<path d="M99.0 233.3V228.4H100.0V228.3H101.0V227.5H102.0V228.8H103.0V227.6H104.0V228.1H105.0V228.8H106.0V228.0H107.0V227.9H108.0V227.8H109.0V228.0H110.0V228.4H111.0V228.8H111.6V233.3ZM102.5 227.9h1.5v1.5h-1.5zM110.1 228.5h1.5v1.5h-1.5zM102.1 228.7h1.5v1.5h-1.5zM107.6 228.2h1.5v1.5h-1.5zM103.7 227.4h1.5v1.5h-1.5zM107.4 228.7h1.5v1.5h-1.5zM103.7 228.2h1.5v1.5h-1.5zM99.6 227.7h1.5v1.5h-1.5zM106.2 228.7h1.5v1.5h-1.5zM107.9 228.7h1.5v1.5h-1.5zM100.2 226.7h1.5v1.5h-1.5zM101.1 226.3h1.5v1.5h-1.5zM107.7 226.9h1.5v1.5h-1.5zM109.1 228.6h1.5v1.5h-1.5zM107.1 228.6h1.5v1.5h-1.5zM104.2 228.5h1.5v1.5h-1.5zM106.3 227.2h1.5v1.5h-1.5zM102.1 228.7h1.5v1.5h-1.5zM102.3 228.3h1.5v1.5h-1.5zM103.5 228.2h1.5v1.5h-1.5zM105.2 228.0h1.5v1.5h-1.5zM108.2 227.5h1.5v1.5h-1.5zM108.0 226.0h1.1v1.1h-1.1zM101.6 226.4h1.1v1.1h-1.1zM100.6 224.8h1.1v1.1h-1.1z" fill="#f07020"/>
<path d="M109.3 228.8h1.0v1.0h-1.0zM106.9 228.5h1.6v1.6h-1.6zM106.7 231.2h1.4v1.4h-1.4z" fill="#fff" fill-opacity="0.8"/>
<rect x="99.49" y="233.8" width="11.63" height="3.80" fill="#cce838"/>
<path d="M100.3 234.4h1.0v2.6h-1.0zM102.8 234.4h1.4v2.6h-1.4zM106.2 234.4h1.4v2.6h-1.4z" fill="#66aa30"/>
<path d="M101.3 234.4h1.4v2.6h-1.4zM104.2 234.4h1.7v2.6h-1.7zM107.9 234.4h1.7v2.6h-1.7zM109.9 234.4h0.4v2.6h-0.4z" fill="#4a9226"/>
<line x1="105.31" y1="238.5" x2="105.31" y2="239.5" stroke="#888" stroke-width="0.4"/>
<text x="105.31" y="242.50" font-size="2.8" fill="#222" text-anchor="middle" font-weight="bold" dominant-baseline="central" textLength="9" lengthAdjust="spacingAndGlyphs">Gm06</text>
<path d="M112.6 233.3V228.1H113.6V227.7H114.6V228.5H115.6V228.0H116.6V228.5H117.6V227.9H118.6V228.8H119.6V228.3H120.6V228.4H121.6V227.9H122.6V228.7H123.6V228.5H124.8V233.3ZM121.3 228.7h1.5v1.5h-1.5zM118.5 226.2h1.5v1.5h-1.5zM119.4 226.6h1.5v1.5h-1.5zM116.5 227.2h1.5v1.5h-1.5zM116.5 228.5h1.5v1.5h-1.5zM116.7 227.4h1.5v1.5h-1.5zM118.3 226.9h1.5v1.5h-1.5zM113.7 228.5h1.5v1.5h-1.5zM121.4 227.7h1.5v1.5h-1.5zM123.0 228.7h1.5v1.5h-1.5zM119.4 226.5h1.5v1.5h-1.5zM118.0 226.3h1.5v1.5h-1.5zM118.5 226.8h1.5v1.5h-1.5zM112.8 228.5h1.5v1.5h-1.5zM120.0 228.7h1.5v1.5h-1.5zM117.4 228.6h1.5v1.5h-1.5zM116.9 226.7h1.5v1.5h-1.5zM115.2 228.4h1.5v1.5h-1.5zM121.9 226.8h1.5v1.5h-1.5zM117.6 227.2h1.5v1.5h-1.5zM121.8 227.9h1.5v1.5h-1.5zM120.1 225.4h1.1v1.1h-1.1zM122.7 226.4h1.1v1.1h-1.1zM123.3 226.0h1.1v1.1h-1.1z" fill="#d98cc6"/>
<path d="M116.7 229.7h0.9v0.9h-0.9zM120.1 230.3h1.6v1.6h-1.6z" fill="#fff" fill-opacity="0.8"/>
<rect x="113.13" y="233.8" width="11.13" height="3.80" fill="#cce838"/>
<path d="M113.9 234.4h1.3v2.6h-1.3zM116.5 234.4h1.2v2.6h-1.2z" fill="#4a9226"/>
<path d="M115.2 234.4h1.3v2.6h-1.3zM119.8 234.4h2.3v2.6h-2.3zM122.4 234.4h1.0v2.6h-1.0z" fill="#a8d43a"/>
<path d="M117.8 234.4h1.7v2.6h-1.7z" fill="#66aa30"/>
<line x1="118.70" y1="238.5" x2="118.70" y2="239.5" stroke="#888" stroke-width="0.4"/>
<path d="M125.8 233.3V228.6H126.8V228.7H127.8V228.2H128.8V228.4H129.8V228.0H130.8V228.5H131.8V228.8H132.8V227.7H133.8V228.3H134.8V228.5H135.8V228.4H136.8V227.9H137.9V233.3ZM127.6 227.8h1.5v1.5h-1.5zM129.4 226.7h1.5v1.5h-1.5zM126.5 226.7h1.5v1.5h-1.5zM131.8 227.7h1.5v1.5h-1.5zM128.5 227.0h1.5v1.5h-1.5zM127.7 227.4h1.5v1.5h-1.5zM131.7 228.7h1.5v1.5h-1.5zM126.2 226.8h1.5v1.5h-1.5zM131.0 226.4h1.5v1.5h-1.5zM132.2 228.6h1.5v1.5h-1.5zM132.0 228.2h1.5v1.5h-1.5zM128.7 228.5h1.5v1.5h-1.5zM131.9 226.7h1.5v1.5h-1.5zM126.3 228.5h1.5v1.5h-1.5zM129.5 227.6h1.5v1.5h-1.5zM128.0 228.3h1.5v1.5h-1.5zM127.6 228.5h1.5v1.5h-1.5zM133.3 228.7h1.5v1.5h-1.5zM127.6 228.3h1.5v1.5h-1.5zM134.4 228.6h1.5v1.5h-1.5zM126.9 227.2h1.5v1.5h-1.5zM135.4 224.8h1.1v1.1h-1.1zM128.2 224.9h1.1v1.1h-1.1zM127.4 226.2h1.1v1.1h-1.1z" fill="#80d4b4"/>
<path d="M128.9 228.6h1.0v1.0h-1.0zM129.7 228.6h1.3v1.3h-1.3z" fill="#fff" fill-opacity="0.8"/>
<rect x="126.27" y="233.8" width="11.13" height="3.80" fill="#cce838"/>
<path d="M127.1 234.4h2.0v2.6h-2.0zM130.7 234.4h2.6v2.6h-2.6zM134.9 234.4h1.2v2.6h-1.2zM136.1 234.4h0.5v2.6h-0.5z" fill="#a8d43a"/>
<path d="M129.1 234.4h1.3v2.6h-1.3zM133.3 234.4h1.6v2.6h-1.6z" fill="#4a9226"/>
<line x1="131.83" y1="238.5" x2="131.83" y2="239.5" stroke="#888" stroke-width="0.4"/>
<text x="131.83" y="242.50" font-size="2.8" fill="#222" text-anchor="middle" font-weight="bold" dominant-baseline="central" textLength="9" lengthAdjust="spacingAndGlyphs">Gm08</text>
<path d="M138.9 233.3V228.4H139.9V227.6H140.9V228.3H141.9V228.9H142.9V228.0H143.9V228.8H144.9V228.8H145.9V228.6H146.9V228.8H147.9V228.0H148.9V228.9H149.9V228.9H151.0V233.3ZM139.8 228.6h1.5v1.5h-1.5zM143.8 227.6h1.5v1.5h-1.5zM139.4 226.5h1.5v1.5h-1.5zM143.7 228.4h1.5v1.5h-1.5zM148.3 228.6h1.5v1.5h-1.5zM138.9 228.6h1.5v1.5h-1.5zM148.7 228.7h1.5v1.5h-1.5zM141.2 228.5h1.5v1.5h-1.5zM145.7 228.0h1.5v1.5h-1.5zM145.2 228.6h1.5v1.5h-1.5zM143.5 227.1h1.5v1.5h-1.5zM140.1 228.7h1.5v1.5h-1.5zM143.3 226.3h1.5v1.5h-1.5zM148.9 227.6h1.5v1.5h-1.5zM143.6 227.9h1.5v1.5h-1.5zM148.3 227.9h1.5v1.5h-1.5zM145.6 227.5h1.5v1.5h-1.5zM146.9 227.0h1.5v1.5h-1.5zM143.0 228.7h1.5v1.5h-1.5zM144.7 228.0h1.5v1.5h-1.5zM146.3 228.4h1.5v1.5h-1.5zM149.1 225.0h1.1v1.1h-1.1zM141.2 226.8h1.1v1.1h-1.1zM147.3 226.7h1.1v1.1h-1.1z" fill="#8a1535"/>
<path d="M147.6 230.8h0.9v0.9h-0.9zM142.2 231.0h1.0v1.0h-1.0z" fill="#fff" fill-opacity="0.8"/>
<rect x="139.41" y="233.8" width="11.13" height="3.80" fill="#cce838"/>
<path d="M140.2 234.4h2.1v2.6h-2.1zM142.6 234.4h2.2v2.6h-2.2zM144.8 234.4h1.6v2.6h-1.6zM146.6 234.4h1.9v2.6h-1.9zM148.5 234.4h1.2v2.6h-1.2z" fill="#4a9226"/>
<line x1="144.97" y1="238.5" x2="144.97" y2="239.5" stroke="#888" stroke-width="0.4"/>
<path d="M152.0 233.3V227.5H153.0V228.2H154.0V228.5H155.0V228.3H156.0V227.5H157.0V227.6H158.0V228.8H159.0V227.8H160.0V227.9H161.0V227.8H162.0V228.8H163.0V227.6H164.2V233.3ZM156.6 227.1h1.5v1.5h-1.5zM153.7 228.0h1.5v1.5h-1.5zM152.0 228.3h1.5v1.5h-1.5zM154.9 228.4h1.5v1.5h-1.5zM160.5 228.4h1.5v1.5h-1.5zM157.8 227.4h1.5v1.5h-1.5zM162.2 228.5h1.5v1.5h-1.5zM154.3 228.6h1.5v1.5h-1.5zM158.1 228.1h1.5v1.5h-1.5zM152.3 226.8h1.5v1.5h-1.5zM157.4 226.9h1.5v1.5h-1.5zM156.3 228.5h1.5v1.5h-1.5zM160.5 228.3h1.5v1.5h-1.5zM152.1 227.7h1.5v1.5h-1.5zM158.6 228.2h1.5v1.5h-1.5zM161.4 226.5h1.5v1.5h-1.5zM155.2 228.3h1.5v1.5h-1.5zM159.8 228.2h1.5v1.5h-1.5zM161.1 227.2h1.5v1.5h-1.5zM153.9 226.2h1.5v1.5h-1.5zM157.2 228.5h1.5v1.5h-1.5zM163.0 226.3h1.1v1.1h-1.1zM160.5 226.2h1.1v1.1h-1.1zM155.6 225.2h1.1v1.1h-1.1z" fill="#1f7a5c"/>
<path d="M159.8 229.7h1.3v1.3h-1.3zM155.5 230.2h1.1v1.1h-1.1z" fill="#fff" fill-opacity="0.8"/>
<rect x="152.54" y="233.8" width="11.13" height="3.80" fill="#cce838"/>
<path d="M153.3 234.4h2.0v2.6h-2.0zM155.4 234.4h1.9v2.6h-1.9zM157.6 234.4h1.6v2.6h-1.6zM159.5 234.4h1.9v2.6h-1.9z" fill="#4a9226"/>
<path d="M161.3 234.4h1.5v2.6h-1.5z" fill="#a8d43a"/>
<line x1="158.10" y1="238.5" x2="158.10" y2="239.5" stroke="#888" stroke-width="0.4"/>
<text x="158.10" y="242.50" font-size="2.8" fill="#222" text-anchor="middle" font-weight="bold" dominant-baseline="central" textLength="9" lengthAdjust="spacingAndGlyphs">Gm10</text>
<path d="M165.7 233.3V228.8H166.7V227.5H167.7V228.5H168.7V228.0H169.7V228.7H170.7V228.8H171.7V228.2H172.7V228.9H173.7V228.1H174.7V227.9H175.7V228.5H176.3V233.3ZM174.3 227.9h1.5v1.5h-1.5zM173.7 228.0h1.5v1.5h-1.5zM173.6 227.8h1.5v1.5h-1.5zM171.5 227.1h1.5v1.5h-1.5zM173.7 228.4h1.5v1.5h-1.5zM171.1 228.7h1.5v1.5h-1.5zM167.2 226.9h1.5v1.5h-1.5zM169.5 227.8h1.5v1.5h-1.5zM173.7 228.6h1.5v1.5h-1.5zM173.1 228.2h1.5v1.5h-1.5zM173.9 228.3h1.5v1.5h-1.5zM172.3 228.6h1.5v1.5h-1.5zM166.6 228.6h1.5v1.5h-1.5zM174.7 227.4h1.5v1.5h-1.5zM170.8 227.7h1.5v1.5h-1.5zM167.1 228.7h1.5v1.5h-1.5zM172.9 226.7h1.5v1.5h-1.5zM174.5 228.6h1.5v1.5h-1.5zM169.0 227.4h1.5v1.5h-1.5zM168.5 224.9h1.1v1.1h-1.1zM174.7 225.3h1.1v1.1h-1.1zM166.6 226.6h1.1v1.1h-1.1z" fill="#3d9ad9"/>
<path d="M173.1 228.8h1.2v1.2h-1.2zM171.9 228.6h1.2v1.2h-1.2z" fill="#fff" fill-opacity="0.8"/>
<rect x="166.18" y="233.8" width="9.61" height="3.80" fill="#cce838"/>
<path d="M167.0 234.4h2.6v2.6h-2.6zM174.4 234.4h0.6v2.6h-0.6z" fill="#66aa30"/>
<path d="M169.8 234.4h2.5v2.6h-2.5zM172.7 234.4h1.7v2.6h-1.7z" fill="#4a9226"/>
<line x1="170.99" y1="238.5" x2="170.99" y2="239.5" stroke="#888" stroke-width="0.4"/>
<path d="M177.1 233.3V228.8H178.1V228.5H179.1V228.2H180.1V228.5H181.1V228.1H182.1V227.7H183.1V228.9H184.1V227.8H185.1V228.5H186.1V228.7H187.1V228.6H188.0V233.3ZM177.8 227.8h1.5v1.5h-1.5zM180.4 228.2h1.5v1.5h-1.5zM180.8 227.0h1.5v1.5h-1.5zM182.4 227.8h1.5v1.5h-1.5zM182.7 226.5h1.5v1.5h-1.5zM183.3 228.4h1.5v1.5h-1.5zM184.7 227.6h1.5v1.5h-1.5zM180.1 228.3h1.5v1.5h-1.5zM179.9 228.6h1.5v1.5h-1.5zM180.4 227.2h1.5v1.5h-1.5zM183.2 228.7h1.5v1.5h-1.5zM178.3 228.6h1.5v1.5h-1.5zM181.8 227.1h1.5v1.5h-1.5zM178.1 228.2h1.5v1.5h-1.5zM186.0 228.1h1.5v1.5h-1.5zM183.8 226.3h1.5v1.5h-1.5zM177.2 228.2h1.5v1.5h-1.5zM179.2 227.9h1.5v1.5h-1.5zM186.2 228.7h1.5v1.5h-1.5zM185.2 226.5h1.1v1.1h-1.1zM186.7 226.7h1.1v1.1h-1.1zM181.7 226.1h1.1v1.1h-1.1z" fill="#f7b522"/>
<path d="M184.8 231.0h0.9v0.9h-0.9zM179.8 229.1h1.2v1.2h-1.2z" fill="#fff" fill-opacity="0.8"/>
<rect x="177.60" y="233.8" width="9.91" height="3.80" fill="#cce838"/>
<path d="M178.4 234.4h1.6v2.6h-1.6z" fill="#a8d43a"/>
<path d="M180.3 234.4h2.4v2.6h-2.4zM182.7 234.4h2.0v2.6h-2.0zM184.9 234.4h1.5v2.6h-1.5zM186.5 234.4h0.2v2.6h-0.2z" fill="#66aa30"/>
<line x1="182.56" y1="238.5" x2="182.56" y2="239.5" stroke="#888" stroke-width="0.4"/>
<text x="182.56" y="242.50" font-size="2.8" fill="#222" text-anchor="middle" font-weight="bold" dominant-baseline="central" textLength="9" lengthAdjust="spacingAndGlyphs">Gm12</text>
<path d="M188.8 233.3V228.0H189.8V228.1H190.8V228.4H191.8V228.1H192.8V228.1H193.8V227.9H194.8V228.8H195.8V228.1H196.8V228.1H197.8V228.6H198.8V227.7H199.8V228.1H200.1V233.3ZM198.0 228.6h1.5v1.5h-1.5zM188.9 226.9h1.5v1.5h-1.5zM192.3 228.4h1.5v1.5h-1.5zM195.3 227.9h1.5v1.5h-1.5zM196.3 227.8h1.5v1.5h-1.5zM197.4 228.4h1.5v1.5h-1.5zM192.1 227.1h1.5v1.5h-1.5zM197.8 228.5h1.5v1.5h-1.5zM191.3 228.6h1.5v1.5h-1.5zM198.4 228.5h1.5v1.5h-1.5zM191.3 227.3h1.5v1.5h-1.5zM196.3 227.8h1.5v1.5h-1.5zM190.6 228.0h1.5v1.5h-1.5zM190.0 228.6h1.5v1.5h-1.5zM193.7 228.5h1.5v1.5h-1.5zM196.5 228.3h1.5v1.5h-1.5zM197.0 228.5h1.5v1.5h-1.5zM195.8 228.1h1.5v1.5h-1.5zM194.6 228.2h1.5v1.5h-1.5zM195.7 227.3h1.5v1.5h-1.5zM191.1 226.3h1.1v1.1h-1.1zM197.1 226.3h1.1v1.1h-1.1zM191.1 224.6h1.1v1.1h-1.1z" fill="#4a3a9e"/>
<path d="M197.7 230.9h1.4v1.4h-1.4zM195.0 229.5h0.9v0.9h-0.9z" fill="#fff" fill-opacity="0.8"/>
<rect x="189.32" y="233.8" width="10.32" height="3.80" fill="#cce838"/>
<path d="M190.1 234.4h2.0v2.6h-2.0zM195.9 234.4h2.2v2.6h-2.2z" fill="#a8d43a"/>
<path d="M192.4 234.4h1.3v2.6h-1.3zM194.0 234.4h1.9v2.6h-1.9z" fill="#4a9226"/>
<path d="M198.4 234.4h0.4v2.6h-0.4z" fill="#66aa30"/>
<line x1="194.48" y1="238.5" x2="194.48" y2="239.5" stroke="#888" stroke-width="0.4"/>
<path d="M200.8 233.3V228.3H201.8V227.8H202.8V227.9H203.8V227.8H204.8V228.2H205.8V228.5H206.8V228.5H207.8V227.7H208.8V227.8H209.8V228.3H210.8V227.8H211.8V228.5H212.8V227.7H214.0V233.3ZM211.9 227.8h1.5v1.5h-1.5zM201.6 227.8h1.5v1.5h-1.5zM203.9 228.7h1.5v1.5h-1.5zM210.3 227.8h1.5v1.5h-1.5zM208.2 228.0h1.5v1.5h-1.5zM205.4 227.5h1.5v1.5h-1.5zM203.9 227.4h1.5v1.5h-1.5zM210.7 228.5h1.5v1.5h-1.5zM205.6 228.7h1.5v1.5h-1.5zM209.6 228.1h1.5v1.5h-1.5zM201.8 227.4h1.5v1.5h-1.5zM209.3 228.3h1.5v1.5h-1.5zM208.1 227.2h1.5v1.5h-1.5zM205.0 227.0h1.5v1.5h-1.5zM200.9 228.3h1.5v1.5h-1.5zM205.5 228.5h1.5v1.5h-1.5zM202.1 228.7h1.5v1.5h-1.5zM209.4 228.3h1.5v1.5h-1.5zM203.9 228.2h1.5v1.5h-1.5zM210.5 228.2h1.5v1.5h-1.5zM207.8 226.5h1.5v1.5h-1.5zM212.2 227.7h1.5v1.5h-1.5zM209.8 228.5h1.5v1.5h-1.5zM206.8 224.5h1.1v1.1h-1.1zM208.9 226.0h1.1v1.1h-1.1zM210.8 225.5h1.1v1.1h-1.1z" fill="#4d5824"/>
<path d="M209.1 229.7h1.4v1.4h-1.4zM206.3 228.5h1.4v1.4h-1.4zM207.5 230.8h1.2v1.2h-1.2z" fill="#fff" fill-opacity="0.8"/>
<rect x="201.34" y="233.8" width="12.14" height="3.80" fill="#cce838"/>
<path d="M202.1 234.4h1.1v2.6h-1.1zM205.8 234.4h2.3v2.6h-2.3zM208.1 234.4h2.1v2.6h-2.1zM212.4 234.4h0.3v2.6h-0.3z" fill="#4a9226"/>
<path d="M203.3 234.4h2.2v2.6h-2.2zM210.5 234.4h1.6v2.6h-1.6z" fill="#a8d43a"/>
<line x1="207.41" y1="238.5" x2="207.41" y2="239.5" stroke="#888" stroke-width="0.4"/>
<text x="207.41" y="242.50" font-size="2.8" fill="#222" text-anchor="middle" font-weight="bold" dominant-baseline="central" textLength="9" lengthAdjust="spacingAndGlyphs">Gm14</text>
<path d="M214.7 233.3V227.5H215.7V227.8H216.7V228.7H217.7V228.8H218.7V228.9H219.7V228.5H220.7V228.4H221.7V228.5H222.7V228.8H223.7V228.8H224.7V228.0H225.7V228.5H226.7V227.5H227.0V233.3ZM224.8 228.5h1.5v1.5h-1.5zM216.2 228.5h1.5v1.5h-1.5zM218.5 227.0h1.5v1.5h-1.5zM216.8 228.5h1.5v1.5h-1.5zM223.8 227.8h1.5v1.5h-1.5zM218.0 228.6h1.5v1.5h-1.5zM219.6 227.1h1.5v1.5h-1.5zM222.9 227.6h1.5v1.5h-1.5zM220.6 228.7h1.5v1.5h-1.5zM217.6 228.2h1.5v1.5h-1.5zM215.6 228.7h1.5v1.5h-1.5zM218.6 228.5h1.5v1.5h-1.5zM223.3 226.7h1.5v1.5h-1.5zM217.1 228.7h1.5v1.5h-1.5zM219.6 228.7h1.5v1.5h-1.5zM214.7 228.6h1.5v1.5h-1.5zM220.6 227.8h1.5v1.5h-1.5zM225.2 228.5h1.5v1.5h-1.5zM224.7 227.0h1.5v1.5h-1.5zM217.6 228.7h1.5v1.5h-1.5zM221.5 228.5h1.5v1.5h-1.5zM218.5 228.4h1.5v1.5h-1.5zM217.4 224.7h1.1v1.1h-1.1zM219.3 225.3h1.1v1.1h-1.1zM225.8 224.9h1.1v1.1h-1.1z" fill="#e0197b"/>
<path d="M216.9 229.6h0.9v0.9h-0.9zM225.1 229.5h1.3v1.3h-1.3z" fill="#fff" fill-opacity="0.8"/>
<rect x="215.19" y="233.8" width="11.33" height="3.80" fill="#cce838"/>
<path d="M216.0 234.4h2.4v2.6h-2.4z" fill="#4a9226"/>
<path d="M218.6 234.4h2.4v2.6h-2.4zM221.3 234.4h1.5v2.6h-1.5z" fill="#66aa30"/>
<path d="M223.2 234.4h2.4v2.6h-2.4z" fill="#a8d43a"/>
<line x1="220.85" y1="238.5" x2="220.85" y2="239.5" stroke="#888" stroke-width="0.4"/>
<text x="220.85" y="242.50" font-size="2.8" fill="#222" text-anchor="middle" font-weight="bold" dominant-baseline="central" textLength="9" lengthAdjust="spacingAndGlyphs">Gm15</text>
<path d="M228.0 233.3V227.8H229.0V228.4H230.0V228.7H231.0V228.0H232.0V228.7H233.0V228.1H234.0V227.8H235.0V228.7H236.0V228.7H237.0V228.0H238.0V228.8H238.3V233.3ZM231.6 228.2h1.5v1.5h-1.5zM235.6 228.2h1.5v1.5h-1.5zM231.7 228.2h1.5v1.5h-1.5zM235.7 226.7h1.5v1.5h-1.5zM230.9 228.2h1.5v1.5h-1.5zM234.5 227.2h1.5v1.5h-1.5zM235.9 227.7h1.5v1.5h-1.5zM235.5 228.4h1.5v1.5h-1.5zM233.0 227.5h1.5v1.5h-1.5zM232.1 226.7h1.5v1.5h-1.5zM229.3 227.4h1.5v1.5h-1.5zM229.5 227.4h1.5v1.5h-1.5zM235.7 228.1h1.5v1.5h-1.5zM230.9 227.2h1.5v1.5h-1.5zM233.1 226.7h1.5v1.5h-1.5zM234.2 227.8h1.5v1.5h-1.5zM230.9 228.4h1.5v1.5h-1.5zM234.3 226.5h1.5v1.5h-1.5zM230.0 226.8h1.1v1.1h-1.1zM228.7 224.7h1.1v1.1h-1.1zM230.9 225.2h1.1v1.1h-1.1z" fill="#f07020"/>
<path d="M231.7 231.2h1.2v1.2h-1.2zM235.1 230.6h1.6v1.6h-1.6z" fill="#fff" fill-opacity="0.8"/>
<rect x="228.52" y="233.8" width="9.31" height="3.80" fill="#cce838"/>
<path d="M229.3 234.4h1.5v2.6h-1.5zM235.8 234.4h1.2v2.6h-1.2z" fill="#66aa30"/>
<path d="M230.8 234.4h1.1v2.6h-1.1z" fill="#a8d43a"/>
<path d="M231.9 234.4h2.1v2.6h-2.1zM234.2 234.4h1.3v2.6h-1.3z" fill="#4a9226"/>
<line x1="233.18" y1="238.5" x2="233.18" y2="239.5" stroke="#888" stroke-width="0.4"/>
<path d="M239.3 233.3V228.5H240.3V227.6H241.3V228.9H242.3V228.4H243.3V228.6H244.3V228.2H245.3V228.6H246.3V227.5H247.3V228.6H248.3V228.3H249.3V228.9H250.3V233.3ZM241.5 226.9h1.5v1.5h-1.5zM245.0 228.5h1.5v1.5h-1.5zM239.9 227.0h1.5v1.5h-1.5zM245.3 226.7h1.5v1.5h-1.5zM246.4 228.3h1.5v1.5h-1.5zM246.1 227.6h1.5v1.5h-1.5zM247.6 228.6h1.5v1.5h-1.5zM244.5 228.1h1.5v1.5h-1.5zM239.8 228.1h1.5v1.5h-1.5zM243.2 228.6h1.5v1.5h-1.5zM244.4 227.8h1.5v1.5h-1.5zM245.8 227.9h1.5v1.5h-1.5zM241.4 228.5h1.5v1.5h-1.5zM240.6 226.8h1.5v1.5h-1.5zM247.5 228.3h1.5v1.5h-1.5zM247.7 227.4h1.5v1.5h-1.5zM247.8 227.9h1.5v1.5h-1.5zM242.7 226.5h1.5v1.5h-1.5zM241.8 228.7h1.5v1.5h-1.5zM240.0 225.7h1.1v1.1h-1.1zM240.1 225.2h1.1v1.1h-1.1zM242.1 226.8h1.1v1.1h-1.1z" fill="#d98cc6"/>
<path d="M243.1 229.5h1.4v1.4h-1.4zM245.1 230.6h0.9v0.9h-0.9z" fill="#fff" fill-opacity="0.8"/>
<rect x="239.84" y="233.8" width="9.91" height="3.80" fill="#cce838"/>
<path d="M240.6 234.4h2.2v2.6h-2.2zM245.3 234.4h2.1v2.6h-2.1z" fill="#4a9226"/>
<path d="M242.9 234.4h2.1v2.6h-2.1zM247.4 234.4h1.6v2.6h-1.6z" fill="#66aa30"/>
<line x1="244.80" y1="238.5" x2="244.80" y2="239.5" stroke="#888" stroke-width="0.4"/>
<text x="244.80" y="242.50" font-size="2.8" fill="#222" text-anchor="middle" font-weight="bold" dominant-baseline="central" textLength="9" lengthAdjust="spacingAndGlyphs">Gm17</text>
<path d="M251.4 233.3V228.4H252.4V228.4H253.4V228.1H254.4V228.2H255.4V228.8H256.4V228.5H257.4V228.9H258.4V227.9H259.4V227.9H260.4V228.8H261.4V228.3H262.4V228.7H263.4V228.4H264.4V228.2H265.4V227.5H266.4V228.9H266.8V233.3ZM258.5 228.2h1.5v1.5h-1.5zM259.7 228.6h1.5v1.5h-1.5zM257.6 228.3h1.5v1.5h-1.5zM260.5 226.4h1.5v1.5h-1.5zM262.4 228.0h1.5v1.5h-1.5zM261.7 227.1h1.5v1.5h-1.5zM257.1 228.6h1.5v1.5h-1.5zM265.0 228.4h1.5v1.5h-1.5zM263.6 228.2h1.5v1.5h-1.5zM253.0 228.6h1.5v1.5h-1.5zM253.9 228.6h1.5v1.5h-1.5zM256.7 226.7h1.5v1.5h-1.5zM258.6 227.5h1.5v1.5h-1.5zM264.0 228.4h1.5v1.5h-1.5zM252.7 228.5h1.5v1.5h-1.5zM257.1 226.7h1.5v1.5h-1.5zM254.2 228.7h1.5v1.5h-1.5zM259.7 227.8h1.5v1.5h-1.5zM258.3 227.3h1.5v1.5h-1.5zM255.9 228.5h1.5v1.5h-1.5zM251.9 227.8h1.5v1.5h-1.5zM264.7 227.9h1.5v1.5h-1.5zM256.6 228.5h1.5v1.5h-1.5zM257.2 226.3h1.5v1.5h-1.5zM254.9 226.8h1.5v1.5h-1.5zM264.6 227.4h1.5v1.5h-1.5zM256.0 227.4h1.5v1.5h-1.5zM256.4 225.6h1.1v1.1h-1.1zM263.5 226.5h1.1v1.1h-1.1zM253.6 226.5h1.1v1.1h-1.1zM262.8 225.6h1.1v1.1h-1.1z" fill="#80d4b4"/>
<path d="M259.6 229.1h0.9v0.9h-0.9zM261.8 230.0h1.3v1.3h-1.3zM264.8 230.1h1.0v1.0h-1.0z" fill="#fff" fill-opacity="0.8"/>
<rect x="251.87" y="233.8" width="14.46" height="3.80" fill="#cce838"/>
<path d="M252.7 234.4h1.6v2.6h-1.6zM254.3 234.4h1.9v2.6h-1.9zM256.5 234.4h1.5v2.6h-1.5zM259.1 234.4h1.1v2.6h-1.1zM264.5 234.4h1.0v2.6h-1.0z" fill="#4a9226"/>
<path d="M258.0 234.4h1.1v2.6h-1.1z" fill="#66aa30"/>
<path d="M260.5 234.4h1.6v2.6h-1.6zM262.4 234.4h1.8v2.6h-1.8z" fill="#a8d43a"/>
<line x1="259.10" y1="238.5" x2="259.10" y2="239.5" stroke="#888" stroke-width="0.4"/>
<text x="259.10" y="242.50" font-size="2.8" fill="#222" text-anchor="middle" font-weight="bold" dominant-baseline="central" textLength="9" lengthAdjust="spacingAndGlyphs">Gm18</text>
<path d="M267.8 233.3V228.7H268.8V228.0H269.8V228.0H270.8V228.4H271.8V228.3H272.8V228.5H273.8V227.9H274.8V228.7H275.8V228.9H276.8V228.3H277.8V228.2H278.8V228.0H279.8V228.8H280.4V233.3ZM272.5 227.7h1.5v1.5h-1.5zM268.2 228.7h1.5v1.5h-1.5zM275.6 228.4h1.5v1.5h-1.5zM272.0 227.8h1.5v1.5h-1.5zM275.7 228.4h1.5v1.5h-1.5zM273.1 227.7h1.5v1.5h-1.5zM275.9 228.7h1.5v1.5h-1.5zM274.1 228.7h1.5v1.5h-1.5zM274.4 227.2h1.5v1.5h-1.5zM273.8 228.4h1.5v1.5h-1.5zM269.4 227.6h1.5v1.5h-1.5zM275.4 228.6h1.5v1.5h-1.5zM274.8 228.1h1.5v1.5h-1.5zM268.2 228.1h1.5v1.5h-1.5zM276.4 227.7h1.5v1.5h-1.5zM269.9 228.0h1.5v1.5h-1.5zM278.0 227.6h1.5v1.5h-1.5zM275.8 227.5h1.5v1.5h-1.5zM277.2 228.4h1.5v1.5h-1.5zM277.9 227.6h1.5v1.5h-1.5zM269.1 228.3h1.5v1.5h-1.5zM268.1 227.5h1.5v1.5h-1.5zM273.5 226.2h1.1v1.1h-1.1zM269.0 226.8h1.1v1.1h-1.1zM268.7 225.4h1.1v1.1h-1.1z" fill="#8a1535"/>
<path d="M276.0 228.8h1.1v1.1h-1.1zM275.2 229.9h1.3v1.3h-1.3zM277.9 228.5h0.8v0.8h-0.8z" fill="#fff" fill-opacity="0.8"/>
<rect x="268.34" y="233.8" width="11.53" height="3.80" fill="#cce838"/>
<path d="M269.1 234.4h1.1v2.6h-1.1zM270.2 234.4h1.4v2.6h-1.4zM271.6 234.4h1.6v2.6h-1.6zM277.7 234.4h1.1v2.6h-1.1z" fill="#4a9226"/>
<path d="M273.5 234.4h2.3v2.6h-2.3zM278.8 234.4h0.2v2.6h-0.2z" fill="#66aa30"/>
<path d="M276.1 234.4h1.6v2.6h-1.6z" fill="#a8d43a"/>
<line x1="274.10" y1="238.5" x2="274.10" y2="239.5" stroke="#888" stroke-width="0.4"/>
<text x="274.10" y="242.50" font-size="2.8" fill="#222" text-anchor="middle" font-weight="bold" dominant-baseline="central" textLength="9" lengthAdjust="spacingAndGlyphs">Gm19</text>
<path d="M281.6 233.3V228.6H282.6V227.8H283.6V228.2H284.6V227.6H285.6V228.1H286.6V228.9H287.6V227.7H288.6V228.2H289.6V228.1H290.6V227.9H291.6V228.3H292.6V228.3H293.5V233.3ZM282.2 227.8h1.5v1.5h-1.5zM285.9 228.7h1.5v1.5h-1.5zM287.4 226.7h1.5v1.5h-1.5zM287.1 228.6h1.5v1.5h-1.5zM281.6 228.6h1.5v1.5h-1.5zM285.0 227.0h1.5v1.5h-1.5zM283.8 228.4h1.5v1.5h-1.5zM288.9 228.0h1.5v1.5h-1.5zM289.4 228.7h1.5v1.5h-1.5zM285.1 228.2h1.5v1.5h-1.5zM290.3 228.7h1.5v1.5h-1.5zM282.5 227.6h1.5v1.5h-1.5zM281.7 226.8h1.5v1.5h-1.5zM283.4 226.5h1.5v1.5h-1.5zM288.8 227.8h1.5v1.5h-1.5zM287.4 227.4h1.5v1.5h-1.5zM282.2 228.0h1.5v1.5h-1.5zM284.2 227.9h1.5v1.5h-1.5zM289.0 228.2h1.5v1.5h-1.5zM291.8 227.1h1.5v1.5h-1.5zM287.4 227.3h1.5v1.5h-1.5zM283.8 226.8h1.1v1.1h-1.1zM281.7 225.3h1.1v1.1h-1.1zM285.3 224.7h1.1v1.1h-1.1z" fill="#1f7a5c"/>
<path d="M286.8 229.6h1.2v1.2h-1.2zM291.1 228.5h1.5v1.5h-1.5z" fill="#fff" fill-opacity="0.8"/>
<rect x="282.08" y="233.8" width="10.92" height="3.80" fill="#cce838"/>
<path d="M282.9 234.4h1.8v2.6h-1.8z" fill="#4a9226"/>
<path d="M284.7 234.4h2.2v2.6h-2.2zM287.2 234.4h1.1v2.6h-1.1zM290.0 234.4h2.2v2.6h-2.2z" fill="#66aa30"/>
<path d="M288.3 234.4h1.3v2.6h-1.3z" fill="#a8d43a"/>
<line x1="287.54" y1="238.5" x2="287.54" y2="239.5" stroke="#888" stroke-width="0.4"/>
<line x1="30.5" y1="238.5" x2="293.5" y2="238.5" stroke="#ddd" stroke-width="0.4"/>
<text x="30.20" y="242.50" font-size="2.8" fill="#222" text-anchor="middle" font-weight="bold" dominant-baseline="central" textLength="6" lengthAdjust="spacingAndGlyphs">Chr</text>
<text x="163.00" y="248.90" font-size="5.0" fill="#333" text-anchor="middle" font-weight="bold" dominant-baseline="central" textLength="33.6" lengthAdjust="spacingAndGlyphs">Chromosome</text>
<rect x="104.35" y="173.95" width="1.5" height="1.5" fill="#f07020"/>
<rect x="108.25" y="211.25" width="1.5" height="1.5" fill="#f07020"/>
<rect x="56.55" y="216.95" width="1.5" height="1.5" fill="#f7b522"/>
<rect x="123.45" y="220.75" width="1.5" height="1.5" fill="#d98cc6"/>
<rect x="185.75" y="221.25" width="1.5" height="1.5" fill="#f7b522"/>
<rect x="218.85" y="220.65" width="1.5" height="1.5" fill="#e0197b"/>
<rect x="228.95" y="218.85" width="1.5" height="1.5" fill="#f07020"/>
<rect x="235.65" y="217.05" width="1.5" height="1.5" fill="#f07020"/>
<rect x="278.25" y="215.25" width="1.5" height="1.5" fill="#8a1535"/>
<rect x="289.65" y="217.25" width="1.5" height="1.5" fill="#1f7a5c"/>
<rect x="289.65" y="221.25" width="1.5" height="1.5" fill="#1f7a5c"/>
<rect x="260.25" y="219.25" width="1.5" height="1.5" fill="#80d4b4"/>
<rect x="295.9" y="183.6" width="4.400000000000034" height="25.80000000000001" fill="url(#leg)"/>
<path d="M301.20 183.75h1.3v0.9h-1.3zM301.20 186.21h1.0v0.9h-1.0zM301.20 188.67h1.3v0.9h-1.3zM301.20 191.13h2.6v0.9h-2.6zM301.20 193.59h3.0v0.9h-3.0zM301.20 196.05h3.0v0.9h-3.0zM301.20 198.51h3.0v0.9h-3.0zM301.20 200.97h3.0v0.9h-3.0zM301.20 203.43h3.0v0.9h-3.0zM301.20 205.89h3.0v0.9h-3.0zM301.20 208.35h4.4v0.9h-4.4z" fill="#999"/>
<rect x="296.10" y="182.50" width="4.00" height="1" fill="#e0c8c8"/>
<text x="9.60" y="290.40" font-size="6.8" fill="#333" text-anchor="middle" font-weight="bold" dominant-baseline="central">D</text>
<text x="12.4" y="312.6" font-size="5.8" fill="#333" font-weight="bold" text-anchor="middle" dominant-baseline="central" textLength="17.2" lengthAdjust="spacingAndGlyphs" transform="rotate(-90 12.4 312.6)">-log<tspan font-size="3.2" dy="1">10</tspan><tspan dy="-1">(</tspan><tspan font-style="italic">p</tspan>)</text>
<line x1="29.5" y1="281.8" x2="29.5" y2="341.8" stroke="#bbb" stroke-width="0.6"/>
<line x1="27.9" y1="299" x2="29.5" y2="299" stroke="#999" stroke-width="0.5"/>
<text x="23.70" y="299.70" font-size="2.8" fill="#222" text-anchor="middle" font-weight="bold" dominant-baseline="central">10</text>
<line x1="27.9" y1="319.5" x2="29.5" y2="319.5" stroke="#999" stroke-width="0.5"/>
<text x="23.70" y="320.20" font-size="2.8" fill="#222" text-anchor="middle" font-weight="bold" dominant-baseline="central">5</text>
<line x1="27.9" y1="341" x2="29.5" y2="341" stroke="#999" stroke-width="0.5"/>
<text x="23.70" y="341.70" font-size="2.8" fill="#222" text-anchor="middle" font-weight="bold" dominant-baseline="central">0</text>
<line x1="29.5" y1="318.1" x2="292.5" y2="318.1" stroke="#d8d8d8" stroke-width="0.8" />
<path d="M31.0 341.1V332.4H32.0V333.6H33.0V332.8H34.0V333.3H35.0V333.1H36.0V333.0H37.0V333.1H38.0V334.3H39.0V332.9H40.0V332.7H41.0V333.2H42.0V333.9H43.0V334.4H44.0V333.8H44.8V341.1ZM37.3 333.8h1.5v1.5h-1.5zM40.1 331.9h1.5v1.5h-1.5zM31.5 331.4h1.5v1.5h-1.5zM35.7 332.4h1.5v1.5h-1.5zM36.8 333.8h1.5v1.5h-1.5zM31.1 333.6h1.5v1.5h-1.5zM31.5 331.3h1.5v1.5h-1.5zM40.5 333.0h1.5v1.5h-1.5zM34.2 331.4h1.5v1.5h-1.5zM38.8 333.4h1.5v1.5h-1.5zM42.0 330.4h1.5v1.5h-1.5zM32.0 330.9h1.5v1.5h-1.5zM33.9 333.7h1.5v1.5h-1.5zM39.9 330.3h1.5v1.5h-1.5zM40.3 332.7h1.5v1.5h-1.5zM38.3 333.6h1.5v1.5h-1.5zM37.8 332.4h1.5v1.5h-1.5zM33.9 333.6h1.5v1.5h-1.5zM34.2 333.8h1.5v1.5h-1.5zM35.1 332.4h1.5v1.5h-1.5zM37.1 330.9h1.5v1.5h-1.5zM41.7 331.1h1.5v1.5h-1.5zM43.0 332.9h1.5v1.5h-1.5zM34.9 333.4h1.5v1.5h-1.5zM42.2 333.8h1.5v1.5h-1.5zM31.2 332.6h1.5v1.5h-1.5zM41.2 331.3h1.5v1.5h-1.5zM42.7 333.0h1.5v1.5h-1.5zM33.1 332.7h1.5v1.5h-1.5zM43.2 333.4h1.5v1.5h-1.5zM34.4 333.6h1.5v1.5h-1.5zM31.7 332.4h1.5v1.5h-1.5zM32.8 332.5h1.5v1.5h-1.5zM42.0 332.4h1.5v1.5h-1.5zM39.8 333.0h1.5v1.5h-1.5zM42.2 332.1h1.5v1.5h-1.5zM32.8 333.0h1.5v1.5h-1.5zM39.1 333.4h1.5v1.5h-1.5zM31.1 333.6h1.5v1.5h-1.5zM41.9 332.5h1.5v1.5h-1.5zM41.2 331.8h1.5v1.5h-1.5zM37.9 331.2h1.1v1.1h-1.1zM38.5 329.5h1.1v1.1h-1.1zM36.8 329.0h1.1v1.1h-1.1zM33.4 330.4h1.1v1.1h-1.1zM36.3 330.1h1.1v1.1h-1.1zM35.4 329.8h1.1v1.1h-1.1z" fill="#3d9ad9"/>
<path d="M39.7 337.1h1.4v1.4h-1.4zM34.6 334.2h1.1v1.1h-1.1zM36.7 336.5h1.4v1.4h-1.4zM39.6 335.2h1.4v1.4h-1.4z" fill="#fff" fill-opacity="0.8"/>
<rect x="31.50" y="341.8" width="12.77" height="3.80" fill="#cce838"/>
<path d="M32.3 342.4h1.9v2.6h-1.9zM42.9 342.4h0.5v2.6h-0.5z" fill="#4a9226"/>
<path d="M34.5 342.4h1.9v2.6h-1.9zM38.2 342.4h1.9v2.6h-1.9z" fill="#a8d43a"/>
<path d="M36.4 342.4h1.8v2.6h-1.8zM40.4 342.4h2.2v2.6h-2.2z" fill="#66aa30"/>
<line x1="37.88" y1="346.5" x2="37.88" y2="347.5" stroke="#888" stroke-width="0.4"/>
<path d="M45.4 341.1V334.1H46.4V333.8H47.4V333.7H48.4V333.5H49.4V332.9H50.4V332.8H51.4V334.0H52.4V332.2H53.4V332.9H54.4V333.0H55.4V332.5H56.4V333.5H57.4V332.3H57.7V341.1ZM56.1 333.6h1.5v1.5h-1.5zM46.7 332.5h1.5v1.5h-1.5zM54.1 333.8h1.5v1.5h-1.5zM53.2 333.2h1.5v1.5h-1.5zM54.8 333.8h1.5v1.5h-1.5zM46.4 332.0h1.5v1.5h-1.5zM50.0 330.6h1.5v1.5h-1.5zM51.2 331.8h1.5v1.5h-1.5zM54.3 331.5h1.5v1.5h-1.5zM49.3 332.5h1.5v1.5h-1.5zM45.9 333.6h1.5v1.5h-1.5zM51.0 333.7h1.5v1.5h-1.5zM46.8 333.6h1.5v1.5h-1.5zM47.5 332.6h1.5v1.5h-1.5zM55.7 333.3h1.5v1.5h-1.5zM51.3 332.1h1.5v1.5h-1.5zM53.5 333.8h1.5v1.5h-1.5zM54.4 331.1h1.5v1.5h-1.5zM52.8 333.6h1.5v1.5h-1.5zM48.7 331.0h1.5v1.5h-1.5zM55.9 332.0h1.5v1.5h-1.5zM56.1 332.7h1.5v1.5h-1.5zM45.9 330.7h1.5v1.5h-1.5zM51.7 333.8h1.5v1.5h-1.5zM52.3 333.6h1.5v1.5h-1.5zM54.4 333.1h1.5v1.5h-1.5zM49.3 332.2h1.5v1.5h-1.5zM51.4 333.2h1.5v1.5h-1.5zM48.1 333.4h1.5v1.5h-1.5zM46.0 332.5h1.5v1.5h-1.5zM48.0 332.9h1.5v1.5h-1.5zM48.1 333.2h1.5v1.5h-1.5zM47.7 331.0h1.5v1.5h-1.5zM48.0 333.8h1.5v1.5h-1.5zM46.3 333.7h1.5v1.5h-1.5zM45.5 331.4h1.5v1.5h-1.5zM55.0 333.3h1.5v1.5h-1.5zM55.9 328.4h1.1v1.1h-1.1zM48.5 329.0h1.1v1.1h-1.1zM52.9 328.7h1.1v1.1h-1.1zM47.6 330.6h1.1v1.1h-1.1zM54.9 329.0h1.1v1.1h-1.1zM53.7 330.7h1.1v1.1h-1.1z" fill="#f7b522"/>
<path d="M49.5 335.5h0.9v0.9h-0.9zM50.4 334.3h1.0v1.0h-1.0zM47.7 334.2h1.1v1.1h-1.1zM53.4 336.7h1.2v1.2h-1.2z" fill="#fff" fill-opacity="0.8"/>
<rect x="45.87" y="341.8" width="11.36" height="3.80" fill="#cce838"/>
<path d="M46.7 342.4h2.3v2.6h-2.3zM49.3 342.4h2.0v2.6h-2.0zM51.6 342.4h1.3v2.6h-1.3z" fill="#66aa30"/>
<path d="M52.9 342.4h1.4v2.6h-1.4z" fill="#a8d43a"/>
<path d="M54.5 342.4h1.3v2.6h-1.3zM56.1 342.4h0.3v2.6h-0.3z" fill="#4a9226"/>
<line x1="51.55" y1="346.5" x2="51.55" y2="347.5" stroke="#888" stroke-width="0.4"/>
<text x="51.55" y="350.80" font-size="2.8" fill="#222" text-anchor="middle" font-weight="bold" dominant-baseline="central" textLength="9" lengthAdjust="spacingAndGlyphs">Gm02</text>
<path d="M59.4 341.1V332.3H60.4V334.0H61.4V332.6H62.4V334.2H63.4V333.1H64.4V334.3H65.4V334.2H66.4V333.7H67.4V334.1H68.4V334.4H69.4V333.9H70.4V333.4H71.5V341.1ZM66.3 333.7h1.5v1.5h-1.5zM62.3 331.4h1.5v1.5h-1.5zM67.1 333.5h1.5v1.5h-1.5zM59.8 332.5h1.5v1.5h-1.5zM65.3 333.2h1.5v1.5h-1.5zM65.7 333.7h1.5v1.5h-1.5zM60.6 332.3h1.5v1.5h-1.5zM62.3 332.3h1.5v1.5h-1.5zM60.5 331.3h1.5v1.5h-1.5zM63.4 330.4h1.5v1.5h-1.5zM66.1 333.1h1.5v1.5h-1.5zM61.7 333.2h1.5v1.5h-1.5zM68.8 333.6h1.5v1.5h-1.5zM66.8 333.8h1.5v1.5h-1.5zM68.3 333.7h1.5v1.5h-1.5zM66.7 331.8h1.5v1.5h-1.5zM69.3 332.0h1.5v1.5h-1.5zM69.2 332.0h1.5v1.5h-1.5zM67.2 333.6h1.5v1.5h-1.5zM64.7 331.1h1.5v1.5h-1.5zM60.6 333.8h1.5v1.5h-1.5zM62.5 333.7h1.5v1.5h-1.5zM67.2 333.1h1.5v1.5h-1.5zM65.3 331.6h1.5v1.5h-1.5zM67.4 331.1h1.5v1.5h-1.5zM62.6 332.5h1.5v1.5h-1.5zM62.5 331.8h1.5v1.5h-1.5zM61.6 332.9h1.5v1.5h-1.5zM69.9 333.0h1.5v1.5h-1.5zM67.1 332.2h1.5v1.5h-1.5zM65.0 330.3h1.5v1.5h-1.5zM64.3 331.3h1.5v1.5h-1.5zM69.8 333.4h1.5v1.5h-1.5zM69.3 332.3h1.5v1.5h-1.5zM60.7 332.5h1.5v1.5h-1.5zM62.1 332.2h1.5v1.5h-1.5zM70.0 329.7h1.1v1.1h-1.1zM60.9 331.1h1.1v1.1h-1.1zM62.1 330.3h1.1v1.1h-1.1zM61.0 331.1h1.1v1.1h-1.1zM61.6 329.1h1.1v1.1h-1.1zM70.4 328.5h1.1v1.1h-1.1z" fill="#4a3a9e"/>
<path d="M63.8 336.9h1.6v1.6h-1.6zM62.5 335.8h0.9v0.9h-0.9zM67.2 335.8h1.3v1.3h-1.3zM68.5 334.3h0.9v0.9h-0.9z" fill="#fff" fill-opacity="0.8"/>
<rect x="59.94" y="341.8" width="11.06" height="3.80" fill="#cce838"/>
<path d="M60.7 342.4h1.7v2.6h-1.7z" fill="#66aa30"/>
<path d="M62.7 342.4h2.5v2.6h-2.5zM65.5 342.4h2.0v2.6h-2.0zM67.8 342.4h2.1v2.6h-2.1z" fill="#4a9226"/>
<line x1="65.47" y1="346.5" x2="65.47" y2="347.5" stroke="#888" stroke-width="0.4"/>
<path d="M72.4 341.1V332.8H73.4V332.8H74.4V332.2H75.4V333.5H76.4V333.5H77.4V332.6H78.4V334.4H79.4V332.3H80.4V334.1H81.4V333.2H82.4V333.8H83.4V333.3H84.4V332.9H85.5V341.1ZM77.3 332.1h1.5v1.5h-1.5zM82.8 330.3h1.5v1.5h-1.5zM81.6 333.2h1.5v1.5h-1.5zM81.8 333.1h1.5v1.5h-1.5zM83.7 332.6h1.5v1.5h-1.5zM78.0 330.8h1.5v1.5h-1.5zM72.6 331.3h1.5v1.5h-1.5zM76.7 333.5h1.5v1.5h-1.5zM74.3 330.5h1.5v1.5h-1.5zM77.3 333.7h1.5v1.5h-1.5zM82.2 331.7h1.5v1.5h-1.5zM82.2 331.5h1.5v1.5h-1.5zM76.3 332.9h1.5v1.5h-1.5zM80.6 330.9h1.5v1.5h-1.5zM74.8 333.8h1.5v1.5h-1.5zM80.0 332.1h1.5v1.5h-1.5zM80.7 330.9h1.5v1.5h-1.5zM74.0 333.2h1.5v1.5h-1.5zM76.9 333.6h1.5v1.5h-1.5zM72.5 332.4h1.5v1.5h-1.5zM72.5 333.3h1.5v1.5h-1.5zM81.3 332.2h1.5v1.5h-1.5zM83.1 333.8h1.5v1.5h-1.5zM78.7 332.4h1.5v1.5h-1.5zM78.6 332.0h1.5v1.5h-1.5zM74.5 333.3h1.5v1.5h-1.5zM83.2 332.7h1.5v1.5h-1.5zM83.4 333.4h1.5v1.5h-1.5zM76.1 333.0h1.5v1.5h-1.5zM79.3 332.7h1.5v1.5h-1.5zM75.0 333.2h1.5v1.5h-1.5zM81.4 331.3h1.5v1.5h-1.5zM83.6 331.1h1.5v1.5h-1.5zM82.9 332.3h1.5v1.5h-1.5zM80.7 331.8h1.5v1.5h-1.5zM81.0 333.7h1.5v1.5h-1.5zM74.2 333.6h1.5v1.5h-1.5zM79.1 330.7h1.5v1.5h-1.5zM74.6 332.3h1.5v1.5h-1.5zM82.5 331.3h1.1v1.1h-1.1zM82.9 329.2h1.1v1.1h-1.1zM80.8 329.9h1.1v1.1h-1.1zM76.1 327.8h1.1v1.1h-1.1zM74.6 331.1h1.1v1.1h-1.1zM76.3 328.8h1.1v1.1h-1.1z" fill="#4d5824"/>
<path d="M81.9 335.7h1.2v1.2h-1.2zM74.3 335.5h1.1v1.1h-1.1zM73.8 333.8h1.3v1.3h-1.3zM81.0 336.6h1.3v1.3h-1.3z" fill="#fff" fill-opacity="0.8"/>
<rect x="72.90" y="341.8" width="12.06" height="3.80" fill="#cce838"/>
<path d="M73.7 342.4h1.1v2.6h-1.1zM74.8 342.4h1.9v2.6h-1.9zM77.0 342.4h2.4v2.6h-2.4z" fill="#66aa30"/>
<path d="M79.7 342.4h1.2v2.6h-1.2zM83.0 342.4h1.2v2.6h-1.2z" fill="#a8d43a"/>
<path d="M81.2 342.4h1.8v2.6h-1.8z" fill="#4a9226"/>
<line x1="78.93" y1="346.5" x2="78.93" y2="347.5" stroke="#888" stroke-width="0.4"/>
<text x="78.93" y="350.80" font-size="2.8" fill="#222" text-anchor="middle" font-weight="bold" dominant-baseline="central" textLength="9" lengthAdjust="spacingAndGlyphs">Gm04</text>
<path d="M86.5 341.1V333.8H87.5V332.8H88.5V334.0H89.5V333.6H90.5V332.9H91.5V332.6H92.5V333.9H93.5V333.7H94.5V333.5H95.5V333.3H96.5V333.9H96.8V341.1ZM86.6 332.5h1.5v1.5h-1.5zM95.3 333.5h1.5v1.5h-1.5zM87.3 330.9h1.5v1.5h-1.5zM90.3 333.5h1.5v1.5h-1.5zM86.6 331.6h1.5v1.5h-1.5zM87.6 333.5h1.5v1.5h-1.5zM92.1 332.4h1.5v1.5h-1.5zM91.0 333.1h1.5v1.5h-1.5zM88.3 331.6h1.5v1.5h-1.5zM88.6 333.7h1.5v1.5h-1.5zM88.0 333.8h1.5v1.5h-1.5zM93.8 333.7h1.5v1.5h-1.5zM95.0 331.0h1.5v1.5h-1.5zM87.4 333.0h1.5v1.5h-1.5zM87.9 333.6h1.5v1.5h-1.5zM92.1 333.3h1.5v1.5h-1.5zM91.2 333.1h1.5v1.5h-1.5zM93.8 333.8h1.5v1.5h-1.5zM90.3 332.3h1.5v1.5h-1.5zM94.0 333.2h1.5v1.5h-1.5zM91.0 333.8h1.5v1.5h-1.5zM91.5 333.6h1.5v1.5h-1.5zM93.4 333.6h1.5v1.5h-1.5zM86.7 332.5h1.5v1.5h-1.5zM86.6 331.1h1.5v1.5h-1.5zM95.2 333.7h1.5v1.5h-1.5zM90.7 330.9h1.5v1.5h-1.5zM94.2 332.3h1.5v1.5h-1.5zM93.0 332.5h1.5v1.5h-1.5zM87.5 333.7h1.5v1.5h-1.5zM87.8 333.3h1.5v1.5h-1.5zM92.3 328.2h1.1v1.1h-1.1zM94.6 328.1h1.1v1.1h-1.1zM94.8 331.3h1.1v1.1h-1.1zM91.3 328.6h1.1v1.1h-1.1zM88.4 331.2h1.1v1.1h-1.1z" fill="#e0197b"/>
<path d="M93.4 335.0h1.4v1.4h-1.4zM93.9 338.2h0.9v0.9h-0.9zM91.8 336.7h1.3v1.3h-1.3z" fill="#fff" fill-opacity="0.8"/>
<rect x="86.97" y="341.8" width="9.35" height="3.80" fill="#cce838"/>
<path d="M87.8 342.4h2.2v2.6h-2.2z" fill="#4a9226"/>
<path d="M89.9 342.4h2.1v2.6h-2.1z" fill="#a8d43a"/>
<path d="M92.4 342.4h2.0v2.6h-2.0zM94.7 342.4h0.8v2.6h-0.8z" fill="#66aa30"/>
<line x1="91.64" y1="346.5" x2="91.64" y2="347.5" stroke="#888" stroke-width="0.4"/>
<path d="M97.8 341.1V333.7H98.8V333.4H99.8V333.0H100.8V334.2H101.8V334.1H102.8V333.2H103.8V333.6H104.8V332.9H105.8V333.5H106.8V332.7H107.8V333.3H108.8V332.2H109.8V334.2H110.4V341.1ZM100.5 332.1h1.5v1.5h-1.5zM108.5 331.8h1.5v1.5h-1.5zM100.1 331.3h1.5v1.5h-1.5zM105.0 332.2h1.5v1.5h-1.5zM100.5 333.2h1.5v1.5h-1.5zM105.8 333.6h1.5v1.5h-1.5zM100.5 333.7h1.5v1.5h-1.5zM100.1 332.7h1.5v1.5h-1.5zM105.9 332.2h1.5v1.5h-1.5zM99.3 333.7h1.5v1.5h-1.5zM101.4 333.6h1.5v1.5h-1.5zM107.4 333.0h1.5v1.5h-1.5zM100.1 331.6h1.5v1.5h-1.5zM108.5 332.5h1.5v1.5h-1.5zM107.3 333.8h1.5v1.5h-1.5zM97.8 333.7h1.5v1.5h-1.5zM98.9 332.5h1.5v1.5h-1.5zM103.2 333.5h1.5v1.5h-1.5zM98.7 331.2h1.5v1.5h-1.5zM101.0 333.8h1.5v1.5h-1.5zM98.8 333.2h1.5v1.5h-1.5zM101.3 332.5h1.5v1.5h-1.5zM107.6 333.2h1.5v1.5h-1.5zM105.7 331.1h1.5v1.5h-1.5zM103.8 332.9h1.5v1.5h-1.5zM103.0 332.3h1.5v1.5h-1.5zM100.2 332.5h1.5v1.5h-1.5zM105.4 332.3h1.5v1.5h-1.5zM105.4 331.5h1.5v1.5h-1.5zM104.5 333.8h1.5v1.5h-1.5zM100.4 332.2h1.5v1.5h-1.5zM102.5 333.7h1.5v1.5h-1.5zM98.4 332.0h1.5v1.5h-1.5zM103.4 332.5h1.5v1.5h-1.5zM99.2 333.5h1.5v1.5h-1.5zM101.3 333.7h1.5v1.5h-1.5zM105.2 330.9h1.5v1.5h-1.5zM102.5 330.8h1.1v1.1h-1.1zM108.2 328.5h1.1v1.1h-1.1zM105.8 328.0h1.1v1.1h-1.1zM108.4 328.5h1.1v1.1h-1.1zM106.7 331.0h1.1v1.1h-1.1zM108.7 328.8h1.1v1.1h-1.1z" fill="#f07020"/>
<path d="M101.9 337.6h0.9v0.9h-0.9zM108.0 337.6h1.2v1.2h-1.2zM103.4 336.1h1.3v1.3h-1.3zM107.9 336.7h1.6v1.6h-1.6z" fill="#fff" fill-opacity="0.8"/>
<rect x="98.32" y="341.8" width="11.56" height="3.80" fill="#cce838"/>
<path d="M99.1 342.4h1.5v2.6h-1.5zM107.4 342.4h1.6v2.6h-1.6z" fill="#66aa30"/>
<path d="M100.6 342.4h2.1v2.6h-2.1zM105.0 342.4h2.1v2.6h-2.1z" fill="#a8d43a"/>
<path d="M103.0 342.4h1.7v2.6h-1.7z" fill="#4a9226"/>
<line x1="104.10" y1="346.5" x2="104.10" y2="347.5" stroke="#888" stroke-width="0.4"/>
<text x="104.10" y="350.80" font-size="2.8" fill="#222" text-anchor="middle" font-weight="bold" dominant-baseline="central" textLength="9" lengthAdjust="spacingAndGlyphs">Gm06</text>
<path d="M111.4 341.1V333.2H112.4V333.6H113.4V332.9H114.4V333.2H115.4V333.9H116.4V333.7H117.4V332.2H118.4V334.4H119.4V332.4H120.4V332.4H121.4V332.9H122.4V332.9H123.4V341.1ZM118.9 333.8h1.5v1.5h-1.5zM117.6 331.0h1.5v1.5h-1.5zM114.1 333.0h1.5v1.5h-1.5zM114.5 333.6h1.5v1.5h-1.5zM116.4 332.2h1.5v1.5h-1.5zM116.8 333.0h1.5v1.5h-1.5zM113.0 333.6h1.5v1.5h-1.5zM121.1 333.8h1.5v1.5h-1.5zM117.0 332.5h1.5v1.5h-1.5zM118.8 333.6h1.5v1.5h-1.5zM118.0 331.2h1.5v1.5h-1.5zM115.9 333.8h1.5v1.5h-1.5zM121.2 333.2h1.5v1.5h-1.5zM112.3 332.7h1.5v1.5h-1.5zM113.2 333.3h1.5v1.5h-1.5zM118.5 333.8h1.5v1.5h-1.5zM112.7 332.1h1.5v1.5h-1.5zM114.0 333.7h1.5v1.5h-1.5zM119.2 332.4h1.5v1.5h-1.5zM119.5 333.6h1.5v1.5h-1.5zM113.8 332.9h1.5v1.5h-1.5zM121.6 331.2h1.5v1.5h-1.5zM121.4 332.6h1.5v1.5h-1.5zM121.6 333.7h1.5v1.5h-1.5zM117.2 333.6h1.5v1.5h-1.5zM120.9 330.6h1.5v1.5h-1.5zM120.9 333.8h1.5v1.5h-1.5zM112.2 333.7h1.5v1.5h-1.5zM112.7 332.3h1.5v1.5h-1.5zM117.6 333.2h1.5v1.5h-1.5zM121.5 330.5h1.5v1.5h-1.5zM116.8 331.1h1.5v1.5h-1.5zM121.5 333.1h1.5v1.5h-1.5zM121.8 333.5h1.5v1.5h-1.5zM118.4 332.1h1.5v1.5h-1.5zM115.2 331.5h1.5v1.5h-1.5zM115.5 329.2h1.1v1.1h-1.1zM119.9 330.6h1.1v1.1h-1.1zM119.9 330.5h1.1v1.1h-1.1zM121.8 329.5h1.1v1.1h-1.1zM122.3 328.1h1.1v1.1h-1.1zM111.5 327.8h1.1v1.1h-1.1z" fill="#d98cc6"/>
<path d="M114.2 334.1h1.2v1.2h-1.2zM119.7 336.2h1.3v1.3h-1.3zM116.3 334.9h0.9v0.9h-0.9zM118.7 337.7h1.2v1.2h-1.2z" fill="#fff" fill-opacity="0.8"/>
<rect x="111.89" y="341.8" width="11.06" height="3.80" fill="#cce838"/>
<path d="M112.7 342.4h1.8v2.6h-1.8zM120.3 342.4h1.8v2.6h-1.8z" fill="#a8d43a"/>
<path d="M114.8 342.4h1.4v2.6h-1.4zM117.4 342.4h1.4v2.6h-1.4zM118.8 342.4h1.2v2.6h-1.2z" fill="#4a9226"/>
<path d="M116.2 342.4h1.3v2.6h-1.3z" fill="#66aa30"/>
<line x1="117.42" y1="346.5" x2="117.42" y2="347.5" stroke="#888" stroke-width="0.4"/>
<path d="M124.4 341.1V332.5H125.4V332.4H126.4V333.6H127.4V333.3H128.4V333.9H129.4V333.3H130.4V334.2H131.4V333.7H132.4V333.9H133.4V334.3H134.4V333.4H135.4V332.7H136.5V341.1ZM126.2 332.3h1.5v1.5h-1.5zM134.8 332.4h1.5v1.5h-1.5zM127.3 333.1h1.5v1.5h-1.5zM131.8 331.7h1.5v1.5h-1.5zM131.7 333.4h1.5v1.5h-1.5zM129.5 330.3h1.5v1.5h-1.5zM128.6 330.5h1.5v1.5h-1.5zM134.2 331.3h1.5v1.5h-1.5zM133.3 333.0h1.5v1.5h-1.5zM125.3 333.2h1.5v1.5h-1.5zM134.5 330.6h1.5v1.5h-1.5zM126.0 332.1h1.5v1.5h-1.5zM128.0 331.9h1.5v1.5h-1.5zM126.7 333.8h1.5v1.5h-1.5zM132.8 331.3h1.5v1.5h-1.5zM128.1 333.6h1.5v1.5h-1.5zM126.8 332.6h1.5v1.5h-1.5zM127.5 333.3h1.5v1.5h-1.5zM134.3 332.3h1.5v1.5h-1.5zM126.6 330.8h1.5v1.5h-1.5zM125.3 333.8h1.5v1.5h-1.5zM131.0 332.7h1.5v1.5h-1.5zM134.1 332.7h1.5v1.5h-1.5zM125.5 332.9h1.5v1.5h-1.5zM128.9 333.0h1.5v1.5h-1.5zM131.0 332.6h1.5v1.5h-1.5zM134.7 330.5h1.5v1.5h-1.5zM130.6 331.9h1.5v1.5h-1.5zM129.8 331.7h1.5v1.5h-1.5zM130.2 332.3h1.5v1.5h-1.5zM134.1 332.5h1.5v1.5h-1.5zM133.5 332.6h1.5v1.5h-1.5zM130.4 333.3h1.5v1.5h-1.5zM131.0 331.0h1.5v1.5h-1.5zM129.7 333.8h1.5v1.5h-1.5zM127.3 332.5h1.5v1.5h-1.5zM126.8 331.3h1.1v1.1h-1.1zM125.9 328.9h1.1v1.1h-1.1zM135.3 328.8h1.1v1.1h-1.1zM129.3 330.3h1.1v1.1h-1.1zM130.4 330.8h1.1v1.1h-1.1zM125.0 329.5h1.1v1.1h-1.1z" fill="#80d4b4"/>
<path d="M131.0 338.0h1.2v1.2h-1.2zM128.6 337.6h1.4v1.4h-1.4zM130.0 336.4h1.3v1.3h-1.3zM130.5 334.0h0.9v0.9h-0.9z" fill="#fff" fill-opacity="0.8"/>
<rect x="124.95" y="341.8" width="11.06" height="3.80" fill="#cce838"/>
<path d="M125.7 342.4h1.4v2.6h-1.4zM127.5 342.4h2.4v2.6h-2.4zM130.1 342.4h1.2v2.6h-1.2z" fill="#4a9226"/>
<path d="M131.3 342.4h1.6v2.6h-1.6zM132.9 342.4h2.3v2.6h-2.3z" fill="#66aa30"/>
<line x1="130.48" y1="346.5" x2="130.48" y2="347.5" stroke="#888" stroke-width="0.4"/>
<text x="130.48" y="350.80" font-size="2.8" fill="#222" text-anchor="middle" font-weight="bold" dominant-baseline="central" textLength="9" lengthAdjust="spacingAndGlyphs">Gm08</text>
<path d="M137.5 341.1V334.1H138.5V333.3H139.5V332.5H140.5V334.2H141.5V332.4H142.5V334.2H143.5V333.8H144.5V332.7H145.5V332.5H146.5V332.2H147.5V333.8H148.5V333.3H149.6V341.1ZM145.0 332.2h1.5v1.5h-1.5zM147.1 332.2h1.5v1.5h-1.5zM140.4 332.9h1.5v1.5h-1.5zM147.8 331.4h1.5v1.5h-1.5zM141.2 331.3h1.5v1.5h-1.5zM147.1 331.7h1.5v1.5h-1.5zM138.4 333.8h1.5v1.5h-1.5zM139.9 333.5h1.5v1.5h-1.5zM141.3 331.2h1.5v1.5h-1.5zM141.5 331.3h1.5v1.5h-1.5zM138.7 330.9h1.5v1.5h-1.5zM145.3 331.8h1.5v1.5h-1.5zM143.3 333.5h1.5v1.5h-1.5zM145.5 333.0h1.5v1.5h-1.5zM139.4 332.2h1.5v1.5h-1.5zM140.7 332.5h1.5v1.5h-1.5zM148.0 332.5h1.5v1.5h-1.5zM148.1 330.3h1.5v1.5h-1.5zM147.0 333.8h1.5v1.5h-1.5zM139.3 333.8h1.5v1.5h-1.5zM143.1 333.8h1.5v1.5h-1.5zM138.5 333.2h1.5v1.5h-1.5zM138.7 332.1h1.5v1.5h-1.5zM147.7 330.7h1.5v1.5h-1.5zM141.6 331.0h1.5v1.5h-1.5zM144.0 332.7h1.5v1.5h-1.5zM141.6 333.5h1.5v1.5h-1.5zM147.0 330.6h1.5v1.5h-1.5zM146.8 330.3h1.5v1.5h-1.5zM143.9 330.6h1.5v1.5h-1.5zM143.9 333.7h1.5v1.5h-1.5zM142.6 332.0h1.5v1.5h-1.5zM144.6 330.7h1.5v1.5h-1.5zM144.9 333.4h1.5v1.5h-1.5zM138.7 332.4h1.5v1.5h-1.5zM140.5 331.8h1.5v1.5h-1.5zM144.3 328.6h1.1v1.1h-1.1zM141.6 329.5h1.1v1.1h-1.1zM145.0 330.6h1.1v1.1h-1.1zM147.9 328.8h1.1v1.1h-1.1zM146.8 327.8h1.1v1.1h-1.1zM143.3 330.1h1.1v1.1h-1.1z" fill="#8a1535"/>
<path d="M145.1 334.6h1.3v1.3h-1.3zM146.1 334.1h1.4v1.4h-1.4zM139.9 334.9h1.3v1.3h-1.3zM144.9 335.4h1.1v1.1h-1.1z" fill="#fff" fill-opacity="0.8"/>
<rect x="138.01" y="341.8" width="11.06" height="3.80" fill="#cce838"/>
<path d="M138.8 342.4h1.3v2.6h-1.3zM140.4 342.4h2.3v2.6h-2.3zM145.6 342.4h1.9v2.6h-1.9zM147.8 342.4h0.5v2.6h-0.5z" fill="#4a9226"/>
<path d="M142.7 342.4h1.3v2.6h-1.3zM144.0 342.4h1.2v2.6h-1.2z" fill="#a8d43a"/>
<line x1="143.54" y1="346.5" x2="143.54" y2="347.5" stroke="#888" stroke-width="0.4"/>
<path d="M150.6 341.1V333.1H151.6V332.4H152.6V332.6H153.6V333.7H154.6V333.3H155.6V334.2H156.6V333.3H157.6V332.7H158.6V333.1H159.6V334.2H160.6V332.4H161.6V333.3H162.6V341.1ZM159.9 330.5h1.5v1.5h-1.5zM151.1 333.6h1.5v1.5h-1.5zM159.8 333.6h1.5v1.5h-1.5zM151.2 332.3h1.5v1.5h-1.5zM157.3 333.4h1.5v1.5h-1.5zM158.4 333.1h1.5v1.5h-1.5zM158.5 333.7h1.5v1.5h-1.5zM160.5 333.7h1.5v1.5h-1.5zM159.7 332.7h1.5v1.5h-1.5zM155.8 333.8h1.5v1.5h-1.5zM153.3 333.1h1.5v1.5h-1.5zM152.0 331.9h1.5v1.5h-1.5zM153.8 330.6h1.5v1.5h-1.5zM158.3 331.0h1.5v1.5h-1.5zM153.6 333.1h1.5v1.5h-1.5zM158.9 333.5h1.5v1.5h-1.5zM151.8 331.8h1.5v1.5h-1.5zM155.4 333.5h1.5v1.5h-1.5zM153.7 333.8h1.5v1.5h-1.5zM156.4 332.9h1.5v1.5h-1.5zM158.4 333.2h1.5v1.5h-1.5zM152.8 331.5h1.5v1.5h-1.5zM157.7 333.4h1.5v1.5h-1.5zM160.0 331.0h1.5v1.5h-1.5zM155.0 333.4h1.5v1.5h-1.5zM161.0 331.1h1.5v1.5h-1.5zM160.2 333.8h1.5v1.5h-1.5zM159.5 332.5h1.5v1.5h-1.5zM155.1 330.6h1.5v1.5h-1.5zM160.1 331.5h1.5v1.5h-1.5zM156.4 332.7h1.5v1.5h-1.5zM151.5 330.6h1.5v1.5h-1.5zM154.8 333.8h1.5v1.5h-1.5zM158.1 330.7h1.5v1.5h-1.5zM156.6 330.8h1.5v1.5h-1.5zM151.9 333.8h1.5v1.5h-1.5zM151.1 328.2h1.1v1.1h-1.1zM157.1 328.5h1.1v1.1h-1.1zM159.0 331.1h1.1v1.1h-1.1zM157.3 330.7h1.1v1.1h-1.1zM155.7 329.4h1.1v1.1h-1.1zM155.9 330.5h1.1v1.1h-1.1z" fill="#1f7a5c"/>
<path d="M156.0 336.6h1.5v1.5h-1.5zM152.4 337.7h1.1v1.1h-1.1zM152.5 337.8h0.9v0.9h-0.9zM155.6 334.9h1.4v1.4h-1.4z" fill="#fff" fill-opacity="0.8"/>
<rect x="151.07" y="341.8" width="11.06" height="3.80" fill="#cce838"/>
<path d="M151.9 342.4h2.1v2.6h-2.1zM156.6 342.4h2.5v2.6h-2.5zM160.8 342.4h0.6v2.6h-0.6z" fill="#4a9226"/>
<path d="M154.0 342.4h2.3v2.6h-2.3z" fill="#66aa30"/>
<path d="M159.1 342.4h1.4v2.6h-1.4z" fill="#a8d43a"/>
<line x1="156.60" y1="346.5" x2="156.60" y2="347.5" stroke="#888" stroke-width="0.4"/>
<text x="156.60" y="350.80" font-size="2.8" fill="#222" text-anchor="middle" font-weight="bold" dominant-baseline="central" textLength="9" lengthAdjust="spacingAndGlyphs">Gm10</text>
<path d="M164.1 341.1V333.2H165.1V333.1H166.1V334.1H167.1V333.8H168.1V333.3H169.1V333.7H170.1V333.8H171.1V333.4H172.1V332.5H173.1V333.9H174.1V333.5H174.7V341.1ZM167.8 333.4h1.5v1.5h-1.5zM169.2 331.1h1.5v1.5h-1.5zM169.0 333.3h1.5v1.5h-1.5zM169.6 333.4h1.5v1.5h-1.5zM166.8 333.2h1.5v1.5h-1.5zM171.9 333.8h1.5v1.5h-1.5zM164.3 330.7h1.5v1.5h-1.5zM172.5 332.0h1.5v1.5h-1.5zM172.5 332.4h1.5v1.5h-1.5zM171.3 331.6h1.5v1.5h-1.5zM167.0 333.4h1.5v1.5h-1.5zM171.3 333.7h1.5v1.5h-1.5zM171.9 333.8h1.5v1.5h-1.5zM165.9 333.5h1.5v1.5h-1.5zM166.8 331.6h1.5v1.5h-1.5zM166.5 332.7h1.5v1.5h-1.5zM168.3 330.7h1.5v1.5h-1.5zM164.3 333.0h1.5v1.5h-1.5zM173.0 332.1h1.5v1.5h-1.5zM166.2 331.2h1.5v1.5h-1.5zM168.5 333.6h1.5v1.5h-1.5zM173.2 333.5h1.5v1.5h-1.5zM166.4 332.5h1.5v1.5h-1.5zM169.8 333.0h1.5v1.5h-1.5zM168.3 330.5h1.5v1.5h-1.5zM166.6 331.5h1.5v1.5h-1.5zM171.5 333.6h1.5v1.5h-1.5zM166.1 333.3h1.5v1.5h-1.5zM164.8 331.5h1.5v1.5h-1.5zM171.8 333.3h1.5v1.5h-1.5zM170.5 332.4h1.5v1.5h-1.5zM168.8 328.9h1.1v1.1h-1.1zM171.8 328.0h1.1v1.1h-1.1zM169.9 330.3h1.1v1.1h-1.1zM169.5 330.2h1.1v1.1h-1.1zM167.5 330.1h1.1v1.1h-1.1z" fill="#3d9ad9"/>
<path d="M167.4 335.6h0.9v0.9h-0.9zM165.9 335.9h1.6v1.6h-1.6zM168.3 335.6h1.5v1.5h-1.5z" fill="#fff" fill-opacity="0.8"/>
<rect x="164.64" y="341.8" width="9.55" height="3.80" fill="#cce838"/>
<path d="M165.4 342.4h1.5v2.6h-1.5zM170.7 342.4h2.5v2.6h-2.5z" fill="#66aa30"/>
<path d="M167.3 342.4h2.0v2.6h-2.0zM169.3 342.4h1.2v2.6h-1.2z" fill="#a8d43a"/>
<line x1="169.41" y1="346.5" x2="169.41" y2="347.5" stroke="#888" stroke-width="0.4"/>
<path d="M175.5 341.1V332.8H176.5V333.1H177.5V333.1H178.5V333.1H179.5V333.7H180.5V333.7H181.5V334.4H182.5V332.6H183.5V332.3H184.5V332.5H185.5V334.3H186.3V341.1ZM183.9 333.1h1.5v1.5h-1.5zM181.6 331.0h1.5v1.5h-1.5zM182.8 333.7h1.5v1.5h-1.5zM177.9 333.8h1.5v1.5h-1.5zM177.2 330.8h1.5v1.5h-1.5zM176.1 333.3h1.5v1.5h-1.5zM183.3 332.7h1.5v1.5h-1.5zM180.1 333.2h1.5v1.5h-1.5zM177.3 333.6h1.5v1.5h-1.5zM179.8 333.1h1.5v1.5h-1.5zM176.9 333.0h1.5v1.5h-1.5zM180.5 330.4h1.5v1.5h-1.5zM180.5 333.8h1.5v1.5h-1.5zM181.1 333.7h1.5v1.5h-1.5zM181.5 333.0h1.5v1.5h-1.5zM179.2 333.8h1.5v1.5h-1.5zM177.1 333.6h1.5v1.5h-1.5zM177.9 332.7h1.5v1.5h-1.5zM177.0 331.0h1.5v1.5h-1.5zM178.9 333.4h1.5v1.5h-1.5zM176.0 331.3h1.5v1.5h-1.5zM184.3 331.0h1.5v1.5h-1.5zM177.9 331.0h1.5v1.5h-1.5zM178.2 333.0h1.5v1.5h-1.5zM176.9 333.2h1.5v1.5h-1.5zM177.7 331.1h1.5v1.5h-1.5zM177.2 330.6h1.5v1.5h-1.5zM183.0 330.9h1.5v1.5h-1.5zM181.2 333.6h1.5v1.5h-1.5zM182.5 331.2h1.5v1.5h-1.5zM178.5 333.4h1.5v1.5h-1.5zM182.4 333.3h1.5v1.5h-1.5zM177.6 329.6h1.1v1.1h-1.1zM183.8 330.6h1.1v1.1h-1.1zM177.6 330.7h1.1v1.1h-1.1zM183.6 331.1h1.1v1.1h-1.1zM181.2 329.8h1.1v1.1h-1.1z" fill="#f7b522"/>
<path d="M178.1 335.6h1.2v1.2h-1.2zM179.5 334.1h0.8v0.8h-0.8zM182.8 334.6h1.4v1.4h-1.4z" fill="#fff" fill-opacity="0.8"/>
<rect x="175.99" y="341.8" width="9.85" height="3.80" fill="#cce838"/>
<path d="M176.8 342.4h2.6v2.6h-2.6z" fill="#a8d43a"/>
<path d="M179.4 342.4h1.5v2.6h-1.5zM180.9 342.4h1.1v2.6h-1.1zM182.3 342.4h1.5v2.6h-1.5zM183.8 342.4h1.2v2.6h-1.2z" fill="#4a9226"/>
<line x1="180.92" y1="346.5" x2="180.92" y2="347.5" stroke="#888" stroke-width="0.4"/>
<text x="180.92" y="350.80" font-size="2.8" fill="#222" text-anchor="middle" font-weight="bold" dominant-baseline="central" textLength="9" lengthAdjust="spacingAndGlyphs">Gm12</text>
<path d="M187.2 341.1V333.1H188.2V333.9H189.2V333.5H190.2V332.2H191.2V333.2H192.2V332.4H193.2V334.3H194.2V332.6H195.2V332.6H196.2V333.7H197.2V334.2H198.4V341.1ZM195.3 332.4h1.5v1.5h-1.5zM188.6 332.1h1.5v1.5h-1.5zM193.0 333.7h1.5v1.5h-1.5zM187.5 331.3h1.5v1.5h-1.5zM195.8 331.9h1.5v1.5h-1.5zM191.9 331.8h1.5v1.5h-1.5zM193.9 331.3h1.5v1.5h-1.5zM191.5 333.2h1.5v1.5h-1.5zM188.8 333.7h1.5v1.5h-1.5zM189.7 332.1h1.5v1.5h-1.5zM188.7 333.4h1.5v1.5h-1.5zM196.2 333.6h1.5v1.5h-1.5zM193.1 333.4h1.5v1.5h-1.5zM187.2 331.9h1.5v1.5h-1.5zM196.0 332.2h1.5v1.5h-1.5zM188.0 331.6h1.5v1.5h-1.5zM188.1 331.9h1.5v1.5h-1.5zM196.4 333.7h1.5v1.5h-1.5zM195.5 333.6h1.5v1.5h-1.5zM193.3 331.1h1.5v1.5h-1.5zM193.0 333.8h1.5v1.5h-1.5zM190.8 333.7h1.5v1.5h-1.5zM188.1 330.4h1.5v1.5h-1.5zM191.2 331.5h1.5v1.5h-1.5zM194.6 333.8h1.5v1.5h-1.5zM188.3 333.0h1.5v1.5h-1.5zM193.5 332.7h1.5v1.5h-1.5zM194.1 331.8h1.5v1.5h-1.5zM193.6 333.4h1.5v1.5h-1.5zM193.5 333.3h1.5v1.5h-1.5zM190.2 333.7h1.5v1.5h-1.5zM193.5 331.2h1.5v1.5h-1.5zM194.9 332.9h1.5v1.5h-1.5zM196.2 329.6h1.1v1.1h-1.1zM190.1 327.9h1.1v1.1h-1.1zM195.8 330.5h1.1v1.1h-1.1zM191.3 330.4h1.1v1.1h-1.1zM195.7 331.2h1.1v1.1h-1.1z" fill="#4a3a9e"/>
<path d="M191.3 335.1h1.3v1.3h-1.3zM193.2 337.5h1.1v1.1h-1.1zM193.2 335.8h0.9v0.9h-0.9z" fill="#fff" fill-opacity="0.8"/>
<rect x="187.65" y="341.8" width="10.25" height="3.80" fill="#cce838"/>
<path d="M188.5 342.4h1.1v2.6h-1.1zM189.8 342.4h1.2v2.6h-1.2zM191.0 342.4h1.6v2.6h-1.6zM192.6 342.4h1.2v2.6h-1.2zM193.8 342.4h2.0v2.6h-2.0z" fill="#4a9226"/>
<path d="M196.1 342.4h1.0v2.6h-1.0z" fill="#66aa30"/>
<line x1="192.78" y1="346.5" x2="192.78" y2="347.5" stroke="#888" stroke-width="0.4"/>
<path d="M199.1 341.1V333.1H200.1V332.9H201.1V334.0H202.1V334.0H203.1V332.5H204.1V333.8H205.1V332.5H206.1V333.4H207.1V333.4H208.1V334.3H209.1V332.2H210.1V332.6H211.1V334.2H212.2V341.1ZM205.1 332.1h1.5v1.5h-1.5zM210.2 330.5h1.5v1.5h-1.5zM207.2 333.1h1.5v1.5h-1.5zM206.4 331.6h1.5v1.5h-1.5zM199.6 333.7h1.5v1.5h-1.5zM199.6 333.8h1.5v1.5h-1.5zM206.3 333.6h1.5v1.5h-1.5zM205.7 333.3h1.5v1.5h-1.5zM205.2 333.1h1.5v1.5h-1.5zM200.1 333.8h1.5v1.5h-1.5zM204.4 333.5h1.5v1.5h-1.5zM204.7 331.2h1.5v1.5h-1.5zM203.6 331.9h1.5v1.5h-1.5zM199.2 333.8h1.5v1.5h-1.5zM203.2 332.7h1.5v1.5h-1.5zM208.2 332.0h1.5v1.5h-1.5zM204.3 332.9h1.5v1.5h-1.5zM201.6 333.0h1.5v1.5h-1.5zM203.9 332.0h1.5v1.5h-1.5zM207.4 330.6h1.5v1.5h-1.5zM208.8 331.1h1.5v1.5h-1.5zM208.8 332.1h1.5v1.5h-1.5zM206.7 333.6h1.5v1.5h-1.5zM200.0 330.9h1.5v1.5h-1.5zM202.8 332.0h1.5v1.5h-1.5zM204.7 331.3h1.5v1.5h-1.5zM200.2 332.3h1.5v1.5h-1.5zM208.1 331.5h1.5v1.5h-1.5zM207.7 332.2h1.5v1.5h-1.5zM207.6 331.3h1.5v1.5h-1.5zM204.2 333.8h1.5v1.5h-1.5zM208.2 333.6h1.5v1.5h-1.5zM206.8 333.8h1.5v1.5h-1.5zM203.5 331.9h1.5v1.5h-1.5zM203.3 331.4h1.5v1.5h-1.5zM207.0 331.6h1.5v1.5h-1.5zM203.4 330.9h1.5v1.5h-1.5zM207.5 332.0h1.5v1.5h-1.5zM210.4 333.1h1.5v1.5h-1.5zM204.7 328.4h1.1v1.1h-1.1zM202.9 331.0h1.1v1.1h-1.1zM199.5 330.7h1.1v1.1h-1.1zM203.0 328.4h1.1v1.1h-1.1zM210.5 328.8h1.1v1.1h-1.1zM204.1 328.5h1.1v1.1h-1.1z" fill="#4d5824"/>
<path d="M203.7 335.9h1.4v1.4h-1.4zM204.7 334.2h1.3v1.3h-1.3zM200.3 334.0h1.1v1.1h-1.1zM200.4 335.6h1.2v1.2h-1.2z" fill="#fff" fill-opacity="0.8"/>
<rect x="199.61" y="341.8" width="12.06" height="3.80" fill="#cce838"/>
<path d="M200.4 342.4h1.7v2.6h-1.7zM202.4 342.4h2.3v2.6h-2.3zM205.7 342.4h1.2v2.6h-1.2z" fill="#4a9226"/>
<path d="M204.7 342.4h1.0v2.6h-1.0z" fill="#66aa30"/>
<path d="M207.2 342.4h1.2v2.6h-1.2zM208.4 342.4h1.2v2.6h-1.2zM209.6 342.4h1.3v2.6h-1.3z" fill="#a8d43a"/>
<line x1="205.64" y1="346.5" x2="205.64" y2="347.5" stroke="#888" stroke-width="0.4"/>
<text x="205.64" y="350.80" font-size="2.8" fill="#222" text-anchor="middle" font-weight="bold" dominant-baseline="central" textLength="9" lengthAdjust="spacingAndGlyphs">Gm14</text>
<path d="M212.9 341.1V334.0H213.9V333.4H214.9V333.3H215.9V332.2H216.9V332.2H217.9V333.2H218.9V332.6H219.9V333.0H220.9V332.3H221.9V334.0H222.9V332.8H223.9V332.6H225.1V341.1ZM217.0 332.2h1.5v1.5h-1.5zM215.0 330.4h1.5v1.5h-1.5zM213.8 333.0h1.5v1.5h-1.5zM218.0 332.9h1.5v1.5h-1.5zM216.8 332.5h1.5v1.5h-1.5zM217.3 332.9h1.5v1.5h-1.5zM217.2 333.8h1.5v1.5h-1.5zM221.2 333.6h1.5v1.5h-1.5zM213.1 333.7h1.5v1.5h-1.5zM215.5 333.3h1.5v1.5h-1.5zM214.9 333.3h1.5v1.5h-1.5zM213.6 332.9h1.5v1.5h-1.5zM220.4 331.3h1.5v1.5h-1.5zM217.5 330.5h1.5v1.5h-1.5zM222.4 332.4h1.5v1.5h-1.5zM221.9 331.7h1.5v1.5h-1.5zM217.9 332.5h1.5v1.5h-1.5zM222.4 332.8h1.5v1.5h-1.5zM215.3 333.4h1.5v1.5h-1.5zM216.1 333.8h1.5v1.5h-1.5zM220.6 331.3h1.5v1.5h-1.5zM214.6 332.1h1.5v1.5h-1.5zM219.6 333.3h1.5v1.5h-1.5zM219.2 333.7h1.5v1.5h-1.5zM220.1 333.5h1.5v1.5h-1.5zM220.9 333.6h1.5v1.5h-1.5zM218.9 330.8h1.5v1.5h-1.5zM221.8 332.6h1.5v1.5h-1.5zM222.4 333.7h1.5v1.5h-1.5zM218.4 333.8h1.5v1.5h-1.5zM222.1 332.7h1.5v1.5h-1.5zM222.9 333.6h1.5v1.5h-1.5zM215.7 332.1h1.5v1.5h-1.5zM223.5 330.4h1.5v1.5h-1.5zM213.2 331.7h1.5v1.5h-1.5zM215.0 330.9h1.5v1.5h-1.5zM217.5 329.4h1.1v1.1h-1.1zM216.3 328.2h1.1v1.1h-1.1zM216.3 328.2h1.1v1.1h-1.1zM223.1 328.2h1.1v1.1h-1.1zM214.3 330.8h1.1v1.1h-1.1zM217.8 329.3h1.1v1.1h-1.1z" fill="#e0197b"/>
<path d="M215.6 335.1h1.5v1.5h-1.5zM217.9 338.1h1.3v1.3h-1.3zM219.0 333.7h1.0v1.0h-1.0zM214.4 333.9h1.1v1.1h-1.1z" fill="#fff" fill-opacity="0.8"/>
<rect x="213.37" y="341.8" width="11.26" height="3.80" fill="#cce838"/>
<path d="M214.2 342.4h2.4v2.6h-2.4zM216.9 342.4h1.5v2.6h-1.5zM222.0 342.4h1.8v2.6h-1.8z" fill="#4a9226"/>
<path d="M218.3 342.4h1.2v2.6h-1.2zM219.8 342.4h2.2v2.6h-2.2z" fill="#66aa30"/>
<line x1="219.00" y1="346.5" x2="219.00" y2="347.5" stroke="#888" stroke-width="0.4"/>
<text x="219.00" y="350.80" font-size="2.8" fill="#222" text-anchor="middle" font-weight="bold" dominant-baseline="central" textLength="9" lengthAdjust="spacingAndGlyphs">Gm15</text>
<path d="M226.1 341.1V333.6H227.1V334.1H228.1V334.0H229.1V333.3H230.1V334.3H231.1V333.0H232.1V333.4H233.1V332.4H234.1V332.9H235.1V333.0H236.4V341.1ZM233.2 333.5h1.5v1.5h-1.5zM230.6 330.8h1.5v1.5h-1.5zM227.7 333.0h1.5v1.5h-1.5zM230.7 333.4h1.5v1.5h-1.5zM231.8 333.6h1.5v1.5h-1.5zM234.2 331.1h1.5v1.5h-1.5zM230.0 332.8h1.5v1.5h-1.5zM227.2 331.2h1.5v1.5h-1.5zM228.4 330.8h1.5v1.5h-1.5zM226.6 330.5h1.5v1.5h-1.5zM227.3 332.3h1.5v1.5h-1.5zM229.1 332.3h1.5v1.5h-1.5zM227.8 332.3h1.5v1.5h-1.5zM231.1 331.8h1.5v1.5h-1.5zM229.9 332.8h1.5v1.5h-1.5zM230.7 332.7h1.5v1.5h-1.5zM232.8 333.6h1.5v1.5h-1.5zM226.9 333.5h1.5v1.5h-1.5zM231.6 331.7h1.5v1.5h-1.5zM232.1 331.2h1.5v1.5h-1.5zM234.1 333.0h1.5v1.5h-1.5zM226.5 330.4h1.5v1.5h-1.5zM234.1 332.8h1.5v1.5h-1.5zM227.1 333.3h1.5v1.5h-1.5zM227.2 332.1h1.5v1.5h-1.5zM234.4 330.7h1.5v1.5h-1.5zM231.8 333.5h1.5v1.5h-1.5zM229.2 332.4h1.5v1.5h-1.5zM226.4 333.7h1.5v1.5h-1.5zM230.7 332.8h1.5v1.5h-1.5zM231.6 330.3h1.1v1.1h-1.1zM229.8 331.0h1.1v1.1h-1.1zM234.8 330.3h1.1v1.1h-1.1zM234.3 329.3h1.1v1.1h-1.1zM235.2 328.1h1.1v1.1h-1.1z" fill="#f07020"/>
<path d="M230.2 334.4h1.1v1.1h-1.1zM233.2 336.2h1.2v1.2h-1.2zM232.8 334.6h0.9v0.9h-0.9z" fill="#fff" fill-opacity="0.8"/>
<rect x="226.64" y="341.8" width="9.25" height="3.80" fill="#cce838"/>
<path d="M227.4 342.4h1.5v2.6h-1.5zM234.6 342.4h0.5v2.6h-0.5z" fill="#4a9226"/>
<path d="M229.0 342.4h2.2v2.6h-2.2zM231.2 342.4h1.2v2.6h-1.2zM232.4 342.4h1.9v2.6h-1.9z" fill="#a8d43a"/>
<line x1="231.26" y1="346.5" x2="231.26" y2="347.5" stroke="#888" stroke-width="0.4"/>
<path d="M237.4 341.1V333.5H238.4V332.2H239.4V334.1H240.4V333.7H241.4V332.6H242.4V334.4H243.4V332.8H244.4V333.8H245.4V334.1H246.4V334.3H247.4V334.0H248.2V341.1ZM243.6 333.6h1.5v1.5h-1.5zM243.7 332.4h1.5v1.5h-1.5zM244.3 333.7h1.5v1.5h-1.5zM245.1 333.5h1.5v1.5h-1.5zM240.2 332.8h1.5v1.5h-1.5zM242.0 331.4h1.5v1.5h-1.5zM242.2 333.1h1.5v1.5h-1.5zM244.9 333.8h1.5v1.5h-1.5zM241.7 333.4h1.5v1.5h-1.5zM240.6 333.5h1.5v1.5h-1.5zM237.6 331.5h1.5v1.5h-1.5zM237.4 332.5h1.5v1.5h-1.5zM237.8 333.4h1.5v1.5h-1.5zM240.9 333.6h1.5v1.5h-1.5zM238.4 332.9h1.5v1.5h-1.5zM237.7 333.5h1.5v1.5h-1.5zM244.3 332.9h1.5v1.5h-1.5zM243.5 333.6h1.5v1.5h-1.5zM239.4 332.9h1.5v1.5h-1.5zM237.9 331.9h1.5v1.5h-1.5zM243.8 333.3h1.5v1.5h-1.5zM239.6 333.0h1.5v1.5h-1.5zM242.1 330.5h1.5v1.5h-1.5zM244.8 333.8h1.5v1.5h-1.5zM244.3 332.7h1.5v1.5h-1.5zM245.4 333.5h1.5v1.5h-1.5zM238.2 333.5h1.5v1.5h-1.5zM241.1 331.9h1.5v1.5h-1.5zM242.4 333.6h1.5v1.5h-1.5zM245.3 331.4h1.5v1.5h-1.5zM246.1 332.3h1.5v1.5h-1.5zM239.2 333.2h1.5v1.5h-1.5zM241.6 329.5h1.1v1.1h-1.1zM241.4 330.3h1.1v1.1h-1.1zM243.0 327.8h1.1v1.1h-1.1zM239.2 328.5h1.1v1.1h-1.1zM238.8 328.5h1.1v1.1h-1.1z" fill="#d98cc6"/>
<path d="M243.0 337.8h1.5v1.5h-1.5zM242.9 336.4h1.3v1.3h-1.3zM245.0 334.3h1.3v1.3h-1.3z" fill="#fff" fill-opacity="0.8"/>
<rect x="237.89" y="341.8" width="9.85" height="3.80" fill="#cce838"/>
<path d="M238.7 342.4h2.4v2.6h-2.4z" fill="#a8d43a"/>
<path d="M241.1 342.4h2.3v2.6h-2.3zM246.2 342.4h0.8v2.6h-0.8z" fill="#66aa30"/>
<path d="M243.4 342.4h2.5v2.6h-2.5z" fill="#4a9226"/>
<line x1="242.82" y1="346.5" x2="242.82" y2="347.5" stroke="#888" stroke-width="0.4"/>
<text x="242.82" y="350.80" font-size="2.8" fill="#222" text-anchor="middle" font-weight="bold" dominant-baseline="central" textLength="9" lengthAdjust="spacingAndGlyphs">Gm17</text>
<path d="M249.3 341.1V333.4H250.3V334.2H251.3V333.5H252.3V332.9H253.3V334.0H254.3V334.1H255.3V332.7H256.3V333.0H257.3V333.4H258.3V332.9H259.3V332.9H260.3V333.6H261.3V334.0H262.3V333.3H263.3V333.0H264.3V332.7H264.7V341.1ZM257.8 332.9h1.5v1.5h-1.5zM263.0 331.7h1.5v1.5h-1.5zM252.0 331.9h1.5v1.5h-1.5zM253.6 332.9h1.5v1.5h-1.5zM252.3 333.7h1.5v1.5h-1.5zM262.9 331.8h1.5v1.5h-1.5zM254.8 333.7h1.5v1.5h-1.5zM262.1 332.8h1.5v1.5h-1.5zM257.0 331.8h1.5v1.5h-1.5zM254.7 333.7h1.5v1.5h-1.5zM249.5 333.5h1.5v1.5h-1.5zM258.1 331.8h1.5v1.5h-1.5zM261.8 331.6h1.5v1.5h-1.5zM256.8 333.4h1.5v1.5h-1.5zM261.5 332.2h1.5v1.5h-1.5zM261.1 331.6h1.5v1.5h-1.5zM253.4 333.5h1.5v1.5h-1.5zM259.9 331.6h1.5v1.5h-1.5zM255.4 332.6h1.5v1.5h-1.5zM262.5 332.5h1.5v1.5h-1.5zM261.2 332.7h1.5v1.5h-1.5zM249.7 332.5h1.5v1.5h-1.5zM252.3 333.7h1.5v1.5h-1.5zM252.0 330.8h1.5v1.5h-1.5zM258.2 333.8h1.5v1.5h-1.5zM262.3 333.1h1.5v1.5h-1.5zM259.9 332.6h1.5v1.5h-1.5zM262.2 332.3h1.5v1.5h-1.5zM250.7 333.5h1.5v1.5h-1.5zM250.8 331.1h1.5v1.5h-1.5zM262.8 330.8h1.5v1.5h-1.5zM250.3 332.2h1.5v1.5h-1.5zM259.4 333.1h1.5v1.5h-1.5zM260.7 331.0h1.5v1.5h-1.5zM257.1 331.7h1.5v1.5h-1.5zM249.5 332.1h1.5v1.5h-1.5zM258.7 330.5h1.5v1.5h-1.5zM256.7 332.2h1.5v1.5h-1.5zM254.5 333.7h1.5v1.5h-1.5zM262.8 333.1h1.5v1.5h-1.5zM253.4 333.6h1.5v1.5h-1.5zM252.2 332.7h1.5v1.5h-1.5zM256.5 332.8h1.5v1.5h-1.5zM256.7 333.6h1.5v1.5h-1.5zM262.1 333.4h1.5v1.5h-1.5zM253.9 330.6h1.5v1.5h-1.5zM249.8 330.7h1.1v1.1h-1.1zM249.4 330.2h1.1v1.1h-1.1zM251.5 328.9h1.1v1.1h-1.1zM249.8 331.2h1.1v1.1h-1.1zM259.9 330.8h1.1v1.1h-1.1zM257.9 331.1h1.1v1.1h-1.1zM261.3 327.9h1.1v1.1h-1.1z" fill="#80d4b4"/>
<path d="M255.3 336.6h1.6v1.6h-1.6zM256.9 335.6h1.4v1.4h-1.4zM260.0 336.3h1.0v1.0h-1.0zM259.7 334.0h0.8v0.8h-0.8zM260.2 335.2h0.9v0.9h-0.9z" fill="#fff" fill-opacity="0.8"/>
<rect x="249.85" y="341.8" width="14.37" height="3.80" fill="#cce838"/>
<path d="M250.6 342.4h1.1v2.6h-1.1z" fill="#a8d43a"/>
<path d="M252.0 342.4h1.5v2.6h-1.5zM253.5 342.4h2.5v2.6h-2.5zM257.8 342.4h1.6v2.6h-1.6zM259.7 342.4h2.1v2.6h-2.1z" fill="#4a9226"/>
<path d="M256.0 342.4h1.4v2.6h-1.4zM262.0 342.4h1.3v2.6h-1.3z" fill="#66aa30"/>
<line x1="257.04" y1="346.5" x2="257.04" y2="347.5" stroke="#888" stroke-width="0.4"/>
<text x="257.04" y="350.80" font-size="2.8" fill="#222" text-anchor="middle" font-weight="bold" dominant-baseline="central" textLength="9" lengthAdjust="spacingAndGlyphs">Gm18</text>
<path d="M265.7 341.1V332.2H266.7V333.2H267.7V332.8H268.7V332.4H269.7V334.4H270.7V332.6H271.7V333.7H272.7V333.0H273.7V334.3H274.7V333.5H275.7V332.9H276.7V334.1H277.7V334.1H278.2V341.1ZM266.3 333.0h1.5v1.5h-1.5zM270.6 333.6h1.5v1.5h-1.5zM266.2 333.8h1.5v1.5h-1.5zM273.1 330.3h1.5v1.5h-1.5zM268.8 333.8h1.5v1.5h-1.5zM275.3 330.4h1.5v1.5h-1.5zM273.8 333.6h1.5v1.5h-1.5zM267.4 330.8h1.5v1.5h-1.5zM274.3 333.0h1.5v1.5h-1.5zM273.8 333.8h1.5v1.5h-1.5zM274.9 331.3h1.5v1.5h-1.5zM274.9 333.7h1.5v1.5h-1.5zM268.1 333.0h1.5v1.5h-1.5zM270.4 332.7h1.5v1.5h-1.5zM276.5 331.9h1.5v1.5h-1.5zM272.8 333.6h1.5v1.5h-1.5zM266.9 331.0h1.5v1.5h-1.5zM270.2 332.0h1.5v1.5h-1.5zM269.6 333.6h1.5v1.5h-1.5zM270.3 332.6h1.5v1.5h-1.5zM266.5 333.6h1.5v1.5h-1.5zM272.6 333.7h1.5v1.5h-1.5zM272.4 332.9h1.5v1.5h-1.5zM271.3 333.8h1.5v1.5h-1.5zM268.0 332.5h1.5v1.5h-1.5zM276.0 331.8h1.5v1.5h-1.5zM274.5 333.8h1.5v1.5h-1.5zM272.5 332.1h1.5v1.5h-1.5zM273.5 333.0h1.5v1.5h-1.5zM271.9 331.0h1.5v1.5h-1.5zM268.4 333.6h1.5v1.5h-1.5zM273.0 331.8h1.5v1.5h-1.5zM270.6 333.0h1.5v1.5h-1.5zM267.6 332.6h1.5v1.5h-1.5zM273.5 331.0h1.5v1.5h-1.5zM275.6 330.4h1.5v1.5h-1.5zM269.0 331.5h1.5v1.5h-1.5zM268.6 330.6h1.1v1.1h-1.1zM276.8 328.3h1.1v1.1h-1.1zM265.9 329.6h1.1v1.1h-1.1zM277.0 329.9h1.1v1.1h-1.1zM267.0 329.4h1.1v1.1h-1.1zM276.8 330.6h1.1v1.1h-1.1z" fill="#8a1535"/>
<path d="M271.0 337.3h1.1v1.1h-1.1zM271.6 334.2h1.2v1.2h-1.2zM269.5 335.6h1.5v1.5h-1.5zM272.0 335.7h1.4v1.4h-1.4z" fill="#fff" fill-opacity="0.8"/>
<rect x="266.23" y="341.8" width="11.46" height="3.80" fill="#cce838"/>
<path d="M267.0 342.4h1.3v2.6h-1.3zM268.3 342.4h1.9v2.6h-1.9zM270.5 342.4h2.0v2.6h-2.0z" fill="#4a9226"/>
<path d="M272.8 342.4h2.4v2.6h-2.4z" fill="#a8d43a"/>
<path d="M275.5 342.4h1.4v2.6h-1.4z" fill="#66aa30"/>
<line x1="271.96" y1="346.5" x2="271.96" y2="347.5" stroke="#888" stroke-width="0.4"/>
<text x="271.96" y="350.80" font-size="2.8" fill="#222" text-anchor="middle" font-weight="bold" dominant-baseline="central" textLength="9" lengthAdjust="spacingAndGlyphs">Gm19</text>
<path d="M279.4 341.1V333.9H280.4V333.1H281.4V332.5H282.4V332.7H283.4V334.3H284.4V332.8H285.4V333.3H286.4V333.1H287.4V332.8H288.4V333.6H289.4V332.7H290.4V332.9H291.2V341.1ZM282.0 333.5h1.5v1.5h-1.5zM283.2 332.8h1.5v1.5h-1.5zM287.2 333.6h1.5v1.5h-1.5zM287.9 331.6h1.5v1.5h-1.5zM287.5 333.2h1.5v1.5h-1.5zM285.0 330.7h1.5v1.5h-1.5zM284.0 332.6h1.5v1.5h-1.5zM289.7 333.3h1.5v1.5h-1.5zM286.1 330.7h1.5v1.5h-1.5zM287.0 333.7h1.5v1.5h-1.5zM284.4 330.5h1.5v1.5h-1.5zM287.6 332.3h1.5v1.5h-1.5zM287.9 333.5h1.5v1.5h-1.5zM283.1 333.0h1.5v1.5h-1.5zM281.4 333.5h1.5v1.5h-1.5zM287.7 333.6h1.5v1.5h-1.5zM288.0 333.7h1.5v1.5h-1.5zM283.0 332.7h1.5v1.5h-1.5zM287.4 333.8h1.5v1.5h-1.5zM279.6 333.0h1.5v1.5h-1.5zM286.9 332.4h1.5v1.5h-1.5zM282.1 333.3h1.5v1.5h-1.5zM289.0 333.7h1.5v1.5h-1.5zM287.4 330.5h1.5v1.5h-1.5zM287.5 332.9h1.5v1.5h-1.5zM289.6 333.8h1.5v1.5h-1.5zM284.9 331.7h1.5v1.5h-1.5zM284.1 332.3h1.5v1.5h-1.5zM285.4 330.6h1.5v1.5h-1.5zM287.8 330.8h1.5v1.5h-1.5zM289.6 330.8h1.5v1.5h-1.5zM279.7 332.8h1.5v1.5h-1.5zM281.6 332.3h1.5v1.5h-1.5zM283.1 332.1h1.5v1.5h-1.5zM287.1 332.5h1.5v1.5h-1.5zM282.0 329.4h1.1v1.1h-1.1zM287.7 330.8h1.1v1.1h-1.1zM280.9 331.0h1.1v1.1h-1.1zM282.0 330.8h1.1v1.1h-1.1zM281.0 329.9h1.1v1.1h-1.1z" fill="#1f7a5c"/>
<path d="M284.4 336.2h0.9v0.9h-0.9zM286.3 337.9h1.4v1.4h-1.4zM281.7 336.7h1.2v1.2h-1.2zM281.4 337.0h1.2v1.2h-1.2z" fill="#fff" fill-opacity="0.8"/>
<rect x="279.89" y="341.8" width="10.86" height="3.80" fill="#cce838"/>
<path d="M280.7 342.4h1.9v2.6h-1.9z" fill="#66aa30"/>
<path d="M282.9 342.4h1.3v2.6h-1.3zM284.4 342.4h2.4v2.6h-2.4zM286.8 342.4h2.3v2.6h-2.3zM289.4 342.4h0.5v2.6h-0.5z" fill="#4a9226"/>
<line x1="285.32" y1="346.5" x2="285.32" y2="347.5" stroke="#888" stroke-width="0.4"/>
<line x1="29.5" y1="346.5" x2="291.25" y2="346.5" stroke="#ddd" stroke-width="0.4"/>
<text x="29.20" y="350.80" font-size="2.8" fill="#222" text-anchor="middle" font-weight="bold" dominant-baseline="central" textLength="6" lengthAdjust="spacingAndGlyphs">Chr</text>
<text x="162.00" y="357.00" font-size="5.0" fill="#333" text-anchor="middle" font-weight="bold" dominant-baseline="central" textLength="33.6" lengthAdjust="spacingAndGlyphs">Chromosome</text>
<rect x="35.35" y="311.95" width="1.5" height="1.5" fill="#3d9ad9"/>
<rect x="38.75" y="326.25" width="1.5" height="1.5" fill="#3d9ad9"/>
<rect x="53.95" y="318.75" width="1.5" height="1.5" fill="#f7b522"/>
<rect x="103.05" y="283.15" width="1.5" height="1.5" fill="#f07020"/>
<rect x="153.45" y="322.05" width="1.5" height="1.5" fill="#1f7a5c"/>
<rect x="223.95" y="322.55" width="1.5" height="1.5" fill="#e0197b"/>
<rect x="227.25" y="305.25" width="1.5" height="1.5" fill="#f07020"/>
<rect x="234.05" y="312.95" width="1.5" height="1.5" fill="#f07020"/>
<rect x="275.75" y="320.85" width="1.5" height="1.5" fill="#8a1535"/>
<rect x="287.45" y="316.25" width="1.5" height="1.5" fill="#1f7a5c"/>
<rect x="294.1" y="288" width="4.199999999999989" height="25.80000000000001" fill="url(#leg)"/>
<path d="M299.20 288.15h1.3v0.9h-1.3zM299.20 290.61h1.0v0.9h-1.0zM299.20 293.07h1.3v0.9h-1.3zM299.20 295.53h2.6v0.9h-2.6zM299.20 297.99h3.0v0.9h-3.0zM299.20 300.45h3.0v0.9h-3.0zM299.20 302.91h3.0v0.9h-3.0zM299.20 305.37h3.0v0.9h-3.0zM299.20 307.83h3.0v0.9h-3.0zM299.20 310.29h3.0v0.9h-3.0zM299.20 312.75h4.4v0.9h-4.4z" fill="#999"/>
<rect x="294.30" y="286.90" width="3.80" height="1" fill="#e0c8c8"/>
<text x="8.75" y="383.40" font-size="6.8" fill="#333" text-anchor="middle" font-weight="bold" dominant-baseline="central">E</text>
<text x="12" y="407.1" font-size="5.8" fill="#333" font-weight="bold" text-anchor="middle" dominant-baseline="central" textLength="16.7" lengthAdjust="spacingAndGlyphs" transform="rotate(-90 12 407.1)">-log<tspan font-size="3.2" dy="1">10</tspan><tspan dy="-1">(</tspan><tspan font-style="italic">p</tspan>)</text>
<line x1="29" y1="377" x2="29" y2="436" stroke="#bbb" stroke-width="0.6"/>
<line x1="27.4" y1="382.4" x2="29" y2="382.4" stroke="#999" stroke-width="0.5"/>
<text x="23.20" y="383.10" font-size="2.8" fill="#222" text-anchor="middle" font-weight="bold" dominant-baseline="central">20</text>
<line x1="27.4" y1="395.5" x2="29" y2="395.5" stroke="#999" stroke-width="0.5"/>
<text x="23.20" y="396.20" font-size="2.8" fill="#222" text-anchor="middle" font-weight="bold" dominant-baseline="central">15</text>
<line x1="27.4" y1="408.4" x2="29" y2="408.4" stroke="#999" stroke-width="0.5"/>
<text x="23.20" y="409.10" font-size="2.8" fill="#222" text-anchor="middle" font-weight="bold" dominant-baseline="central">10</text>
<line x1="27.4" y1="421.5" x2="29" y2="421.5" stroke="#999" stroke-width="0.5"/>
<text x="23.20" y="422.20" font-size="2.8" fill="#222" text-anchor="middle" font-weight="bold" dominant-baseline="central">5</text>
<line x1="27.4" y1="434.5" x2="29" y2="434.5" stroke="#999" stroke-width="0.5"/>
<text x="23.20" y="435.20" font-size="2.8" fill="#222" text-anchor="middle" font-weight="bold" dominant-baseline="central">0</text>
<line x1="29" y1="420.3" x2="293.6" y2="420.3" stroke="#dcc4c8" stroke-width="0.8" stroke-dasharray="1.2 0.6"/>
<path d="M31.3 435.0V430.6H32.3V430.4H33.3V429.9H34.3V429.9H35.3V429.9H36.3V430.0H37.3V430.6H38.3V430.4H39.3V430.1H40.3V429.9H41.3V430.5H42.3V429.8H43.3V430.6H44.3V430.6H45.1V435.0ZM31.7 429.9h1.5v1.5h-1.5zM36.3 428.5h1.5v1.5h-1.5zM33.1 427.8h1.5v1.5h-1.5zM42.9 429.9h1.5v1.5h-1.5zM35.3 430.5h1.5v1.5h-1.5zM36.6 430.7h1.5v1.5h-1.5zM42.3 429.6h1.5v1.5h-1.5zM35.5 429.6h1.5v1.5h-1.5zM37.5 430.2h1.5v1.5h-1.5zM39.4 429.9h1.5v1.5h-1.5zM39.2 429.4h1.5v1.5h-1.5zM37.5 428.5h1.5v1.5h-1.5zM37.7 430.0h1.5v1.5h-1.5zM39.5 430.1h1.5v1.5h-1.5zM40.9 429.0h1.5v1.5h-1.5zM35.0 430.2h1.5v1.5h-1.5zM34.1 429.6h1.5v1.5h-1.5zM34.8 429.9h1.5v1.5h-1.5zM33.3 430.7h1.5v1.5h-1.5zM32.2 427.4h1.5v1.5h-1.5zM40.2 428.1h1.5v1.5h-1.5zM43.5 430.6h1.5v1.5h-1.5zM34.3 430.6h1.5v1.5h-1.5zM38.7 427.6h1.5v1.5h-1.5zM39.8 430.2h1.5v1.5h-1.5zM33.5 428.3h1.5v1.5h-1.5zM40.4 428.8h1.5v1.5h-1.5zM31.5 430.4h1.5v1.5h-1.5zM34.6 429.2h1.5v1.5h-1.5zM38.0 428.8h1.5v1.5h-1.5zM41.6 428.1h1.5v1.5h-1.5zM32.9 430.7h1.5v1.5h-1.5zM41.9 429.8h1.5v1.5h-1.5zM37.2 429.6h1.5v1.5h-1.5zM41.8 429.8h1.5v1.5h-1.5zM33.4 430.0h1.5v1.5h-1.5zM33.7 429.8h1.5v1.5h-1.5zM37.7 429.4h1.5v1.5h-1.5zM32.7 428.0h1.5v1.5h-1.5zM36.5 428.5h1.5v1.5h-1.5zM36.7 429.2h1.5v1.5h-1.5zM33.6 427.0h1.1v1.1h-1.1zM37.7 426.1h1.1v1.1h-1.1zM41.2 425.8h1.1v1.1h-1.1zM38.1 425.5h1.1v1.1h-1.1zM34.9 425.7h1.1v1.1h-1.1zM37.4 427.0h1.1v1.1h-1.1z" fill="#3d9ad9"/>
<path d="M39.3 431.8h1.1v1.1h-1.1zM40.9 431.4h1.2v1.2h-1.2zM42.2 431.5h1.2v1.2h-1.2z" fill="#fff" fill-opacity="0.8"/>
<rect x="31.80" y="435.7" width="12.78" height="3.30" fill="#cce838"/>
<path d="M32.6 436.3h1.3v2.1h-1.3zM34.2 436.3h1.3v2.1h-1.3z" fill="#4a9226"/>
<path d="M35.8 436.3h1.8v2.1h-1.8z" fill="#66aa30"/>
<path d="M37.6 436.3h2.2v2.1h-2.2zM40.1 436.3h1.6v2.1h-1.6zM42.0 436.3h1.8v2.1h-1.8z" fill="#a8d43a"/>
<line x1="38.19" y1="440" x2="38.19" y2="441" stroke="#888" stroke-width="0.4"/>
<path d="M45.7 435.0V430.0H46.7V430.4H47.7V429.8H48.7V429.9H49.7V430.1H50.7V430.0H51.7V430.2H52.7V430.1H53.7V430.0H54.7V429.8H55.7V429.7H56.7V430.1H57.7V429.9H58.0V435.0ZM46.1 430.3h1.5v1.5h-1.5zM48.0 430.3h1.5v1.5h-1.5zM54.4 429.7h1.5v1.5h-1.5zM46.4 429.1h1.5v1.5h-1.5zM53.7 429.3h1.5v1.5h-1.5zM51.0 428.5h1.5v1.5h-1.5zM47.7 428.0h1.5v1.5h-1.5zM47.3 428.9h1.5v1.5h-1.5zM46.2 428.1h1.5v1.5h-1.5zM47.6 429.9h1.5v1.5h-1.5zM46.6 428.2h1.5v1.5h-1.5zM49.5 430.7h1.5v1.5h-1.5zM47.3 429.9h1.5v1.5h-1.5zM56.5 428.4h1.5v1.5h-1.5zM55.7 427.7h1.5v1.5h-1.5zM54.9 428.9h1.5v1.5h-1.5zM48.0 428.9h1.5v1.5h-1.5zM51.9 430.3h1.5v1.5h-1.5zM54.6 427.2h1.5v1.5h-1.5zM53.0 428.5h1.5v1.5h-1.5zM55.5 429.8h1.5v1.5h-1.5zM50.9 429.5h1.5v1.5h-1.5zM48.2 430.5h1.5v1.5h-1.5zM55.0 428.4h1.5v1.5h-1.5zM56.4 430.6h1.5v1.5h-1.5zM53.2 430.3h1.5v1.5h-1.5zM52.1 428.7h1.5v1.5h-1.5zM46.6 427.3h1.5v1.5h-1.5zM52.5 430.0h1.5v1.5h-1.5zM46.4 430.6h1.5v1.5h-1.5zM49.1 428.7h1.5v1.5h-1.5zM54.1 427.9h1.5v1.5h-1.5zM47.8 430.3h1.5v1.5h-1.5zM46.4 430.2h1.5v1.5h-1.5zM52.3 430.2h1.5v1.5h-1.5zM48.9 430.7h1.5v1.5h-1.5zM54.1 427.3h1.5v1.5h-1.5zM50.6 427.6h1.1v1.1h-1.1zM52.2 426.4h1.1v1.1h-1.1zM55.9 426.9h1.1v1.1h-1.1zM48.3 425.8h1.1v1.1h-1.1zM46.2 426.7h1.1v1.1h-1.1zM47.6 426.6h1.1v1.1h-1.1z" fill="#f7b522"/>
<path d="M55.5 430.7h1.2v1.2h-1.2zM55.9 430.7h1.3v1.3h-1.3z" fill="#fff" fill-opacity="0.8"/>
<rect x="46.18" y="435.7" width="11.37" height="3.30" fill="#cce838"/>
<path d="M47.0 436.3h2.2v2.1h-2.2zM49.5 436.3h1.8v2.1h-1.8zM51.6 436.3h1.9v2.1h-1.9zM54.9 436.3h1.8v2.1h-1.8z" fill="#66aa30"/>
<path d="M53.5 436.3h1.4v2.1h-1.4z" fill="#4a9226"/>
<line x1="51.86" y1="440" x2="51.86" y2="441" stroke="#888" stroke-width="0.4"/>
<text x="51.86" y="444.60" font-size="2.8" fill="#222" text-anchor="middle" font-weight="bold" dominant-baseline="central" textLength="9" lengthAdjust="spacingAndGlyphs">Gm02</text>
<path d="M59.8 435.0V429.6H60.8V430.7H61.8V430.1H62.8V429.9H63.8V430.4H64.8V430.9H65.8V430.8H66.8V429.8H67.8V430.0H68.8V430.6H69.8V430.3H70.8V430.2H71.8V435.0ZM70.1 430.5h1.5v1.5h-1.5zM60.9 430.5h1.5v1.5h-1.5zM64.3 428.0h1.5v1.5h-1.5zM60.4 427.6h1.5v1.5h-1.5zM62.2 427.7h1.5v1.5h-1.5zM66.6 430.5h1.5v1.5h-1.5zM69.9 430.3h1.5v1.5h-1.5zM65.5 428.2h1.5v1.5h-1.5zM60.2 430.6h1.5v1.5h-1.5zM65.7 430.4h1.5v1.5h-1.5zM65.8 429.1h1.5v1.5h-1.5zM63.1 430.2h1.5v1.5h-1.5zM60.3 430.5h1.5v1.5h-1.5zM60.8 427.8h1.5v1.5h-1.5zM62.0 428.8h1.5v1.5h-1.5zM67.3 430.6h1.5v1.5h-1.5zM69.1 430.7h1.5v1.5h-1.5zM65.4 427.3h1.5v1.5h-1.5zM61.1 429.9h1.5v1.5h-1.5zM67.9 427.9h1.5v1.5h-1.5zM69.1 428.7h1.5v1.5h-1.5zM61.6 427.6h1.5v1.5h-1.5zM64.7 428.4h1.5v1.5h-1.5zM64.6 430.3h1.5v1.5h-1.5zM66.4 430.7h1.5v1.5h-1.5zM65.3 427.6h1.5v1.5h-1.5zM67.8 428.3h1.5v1.5h-1.5zM62.6 430.6h1.5v1.5h-1.5zM67.3 428.6h1.5v1.5h-1.5zM64.0 430.5h1.5v1.5h-1.5zM67.9 430.1h1.5v1.5h-1.5zM68.1 430.6h1.5v1.5h-1.5zM64.5 430.5h1.5v1.5h-1.5zM67.2 430.6h1.5v1.5h-1.5zM65.7 430.1h1.5v1.5h-1.5zM69.5 427.3h1.5v1.5h-1.5zM64.7 425.8h1.1v1.1h-1.1zM60.2 426.4h1.1v1.1h-1.1zM64.1 425.5h1.1v1.1h-1.1zM63.2 426.8h1.1v1.1h-1.1zM68.1 427.2h1.1v1.1h-1.1zM70.6 427.5h1.1v1.1h-1.1z" fill="#4a3a9e"/>
<path d="M69.0 432.5h1.5v1.5h-1.5zM64.0 432.9h1.3v1.3h-1.3z" fill="#fff" fill-opacity="0.8"/>
<rect x="60.26" y="435.7" width="11.07" height="3.30" fill="#cce838"/>
<path d="M61.1 436.3h1.3v2.1h-1.3zM64.2 436.3h2.0v2.1h-2.0z" fill="#66aa30"/>
<path d="M62.4 436.3h1.8v2.1h-1.8z" fill="#a8d43a"/>
<path d="M66.5 436.3h2.3v2.1h-2.3zM69.1 436.3h1.5v2.1h-1.5z" fill="#4a9226"/>
<line x1="65.79" y1="440" x2="65.79" y2="441" stroke="#888" stroke-width="0.4"/>
<path d="M72.7 435.0V429.9H73.7V429.6H74.7V430.0H75.7V430.2H76.7V430.7H77.7V430.8H78.7V430.0H79.7V430.1H80.7V430.6H81.7V430.3H82.7V429.7H83.7V429.7H84.7V429.6H85.8V435.0ZM75.2 430.5h1.5v1.5h-1.5zM79.7 428.2h1.5v1.5h-1.5zM79.5 429.7h1.5v1.5h-1.5zM80.5 430.7h1.5v1.5h-1.5zM77.2 428.1h1.5v1.5h-1.5zM83.2 430.7h1.5v1.5h-1.5zM75.5 430.3h1.5v1.5h-1.5zM81.1 429.7h1.5v1.5h-1.5zM75.0 430.3h1.5v1.5h-1.5zM82.3 428.5h1.5v1.5h-1.5zM79.7 428.0h1.5v1.5h-1.5zM80.3 430.0h1.5v1.5h-1.5zM80.1 430.3h1.5v1.5h-1.5zM82.6 428.1h1.5v1.5h-1.5zM83.0 430.3h1.5v1.5h-1.5zM73.1 430.5h1.5v1.5h-1.5zM84.3 430.6h1.5v1.5h-1.5zM77.1 430.1h1.5v1.5h-1.5zM73.7 429.9h1.5v1.5h-1.5zM82.1 430.0h1.5v1.5h-1.5zM73.3 429.2h1.5v1.5h-1.5zM74.9 430.5h1.5v1.5h-1.5zM82.3 430.3h1.5v1.5h-1.5zM75.1 428.2h1.5v1.5h-1.5zM84.2 430.2h1.5v1.5h-1.5zM77.9 429.0h1.5v1.5h-1.5zM82.7 428.7h1.5v1.5h-1.5zM76.0 430.4h1.5v1.5h-1.5zM73.5 429.2h1.5v1.5h-1.5zM77.2 429.3h1.5v1.5h-1.5zM73.2 430.3h1.5v1.5h-1.5zM82.8 428.5h1.5v1.5h-1.5zM80.9 429.2h1.5v1.5h-1.5zM83.5 429.1h1.5v1.5h-1.5zM83.1 427.9h1.5v1.5h-1.5zM75.4 429.2h1.5v1.5h-1.5zM80.5 427.3h1.5v1.5h-1.5zM75.8 430.6h1.5v1.5h-1.5zM76.3 430.7h1.5v1.5h-1.5zM74.8 427.3h1.1v1.1h-1.1zM80.6 425.7h1.1v1.1h-1.1zM74.5 426.9h1.1v1.1h-1.1zM79.9 427.1h1.1v1.1h-1.1zM76.4 426.1h1.1v1.1h-1.1zM82.3 426.2h1.1v1.1h-1.1z" fill="#4d5824"/>
<path d="M82.4 432.4h1.4v1.4h-1.4zM82.5 430.9h1.1v1.1h-1.1z" fill="#fff" fill-opacity="0.8"/>
<rect x="73.23" y="435.7" width="12.07" height="3.30" fill="#cce838"/>
<path d="M74.0 436.3h1.9v2.1h-1.9zM77.4 436.3h2.4v2.1h-2.4zM82.3 436.3h2.2v2.1h-2.2z" fill="#4a9226"/>
<path d="M76.3 436.3h1.2v2.1h-1.2z" fill="#a8d43a"/>
<path d="M79.8 436.3h2.2v2.1h-2.2z" fill="#66aa30"/>
<line x1="79.27" y1="440" x2="79.27" y2="441" stroke="#888" stroke-width="0.4"/>
<text x="79.27" y="444.60" font-size="2.8" fill="#222" text-anchor="middle" font-weight="bold" dominant-baseline="central" textLength="9" lengthAdjust="spacingAndGlyphs">Gm04</text>
<path d="M86.8 435.0V430.1H87.8V430.3H88.8V429.9H89.8V430.2H90.8V429.8H91.8V430.2H92.8V430.1H93.8V430.8H94.8V430.7H95.8V429.5H96.8V429.7H97.2V435.0ZM93.9 430.0h1.5v1.5h-1.5zM88.2 429.0h1.5v1.5h-1.5zM94.4 427.9h1.5v1.5h-1.5zM90.5 427.3h1.5v1.5h-1.5zM91.8 429.6h1.5v1.5h-1.5zM93.5 428.6h1.5v1.5h-1.5zM93.9 430.6h1.5v1.5h-1.5zM92.1 430.3h1.5v1.5h-1.5zM94.1 428.3h1.5v1.5h-1.5zM91.6 430.4h1.5v1.5h-1.5zM88.3 428.0h1.5v1.5h-1.5zM89.9 429.8h1.5v1.5h-1.5zM87.8 430.5h1.5v1.5h-1.5zM87.8 428.4h1.5v1.5h-1.5zM95.3 429.6h1.5v1.5h-1.5zM90.1 427.6h1.5v1.5h-1.5zM92.6 430.7h1.5v1.5h-1.5zM94.6 428.3h1.5v1.5h-1.5zM87.5 428.1h1.5v1.5h-1.5zM87.9 427.5h1.5v1.5h-1.5zM93.9 429.6h1.5v1.5h-1.5zM87.8 430.4h1.5v1.5h-1.5zM93.1 429.0h1.5v1.5h-1.5zM91.8 429.5h1.5v1.5h-1.5zM88.6 427.3h1.5v1.5h-1.5zM91.5 430.2h1.5v1.5h-1.5zM90.7 430.3h1.5v1.5h-1.5zM87.7 428.0h1.5v1.5h-1.5zM93.8 430.5h1.5v1.5h-1.5zM92.7 429.8h1.5v1.5h-1.5zM87.5 429.4h1.5v1.5h-1.5zM92.8 426.7h1.1v1.1h-1.1zM89.9 425.7h1.1v1.1h-1.1zM89.8 426.0h1.1v1.1h-1.1zM90.0 426.7h1.1v1.1h-1.1zM89.0 426.7h1.1v1.1h-1.1z" fill="#e0197b"/>
<path d="M92.2 432.7h0.9v0.9h-0.9zM90.4 431.3h1.1v1.1h-1.1z" fill="#fff" fill-opacity="0.8"/>
<rect x="87.31" y="435.7" width="9.36" height="3.30" fill="#cce838"/>
<path d="M88.1 436.3h2.1v2.1h-2.1zM94.6 436.3h1.2v2.1h-1.2z" fill="#a8d43a"/>
<path d="M90.2 436.3h2.5v2.1h-2.5zM92.7 436.3h1.9v2.1h-1.9z" fill="#4a9226"/>
<line x1="91.99" y1="440" x2="91.99" y2="441" stroke="#888" stroke-width="0.4"/>
<path d="M98.2 435.0V429.7H99.2V430.3H100.2V430.7H101.2V430.3H102.2V430.6H103.2V430.0H104.2V430.6H105.2V430.4H106.2V430.0H107.2V430.7H108.2V430.8H109.2V430.0H110.2V429.8H110.7V435.0ZM99.1 430.4h1.5v1.5h-1.5zM99.8 430.4h1.5v1.5h-1.5zM102.9 429.9h1.5v1.5h-1.5zM108.5 429.8h1.5v1.5h-1.5zM104.9 430.1h1.5v1.5h-1.5zM107.1 429.0h1.5v1.5h-1.5zM99.4 428.3h1.5v1.5h-1.5zM98.2 429.9h1.5v1.5h-1.5zM108.0 427.6h1.5v1.5h-1.5zM99.1 430.6h1.5v1.5h-1.5zM105.8 429.5h1.5v1.5h-1.5zM102.7 430.5h1.5v1.5h-1.5zM100.2 428.5h1.5v1.5h-1.5zM100.6 429.7h1.5v1.5h-1.5zM101.9 430.7h1.5v1.5h-1.5zM102.8 429.7h1.5v1.5h-1.5zM107.1 428.6h1.5v1.5h-1.5zM106.6 430.4h1.5v1.5h-1.5zM101.4 428.9h1.5v1.5h-1.5zM99.0 427.6h1.5v1.5h-1.5zM98.2 430.0h1.5v1.5h-1.5zM109.2 429.7h1.5v1.5h-1.5zM105.5 430.6h1.5v1.5h-1.5zM103.5 430.7h1.5v1.5h-1.5zM106.3 429.1h1.5v1.5h-1.5zM103.9 429.5h1.5v1.5h-1.5zM101.7 427.7h1.5v1.5h-1.5zM98.3 430.6h1.5v1.5h-1.5zM109.2 427.4h1.5v1.5h-1.5zM100.3 429.6h1.5v1.5h-1.5zM108.9 429.1h1.5v1.5h-1.5zM105.1 429.0h1.5v1.5h-1.5zM104.6 430.7h1.5v1.5h-1.5zM108.5 430.1h1.5v1.5h-1.5zM100.2 430.2h1.5v1.5h-1.5zM104.7 429.6h1.5v1.5h-1.5zM103.6 429.8h1.5v1.5h-1.5zM105.4 425.7h1.1v1.1h-1.1zM102.9 425.8h1.1v1.1h-1.1zM99.6 427.1h1.1v1.1h-1.1zM100.7 427.0h1.1v1.1h-1.1zM105.7 426.6h1.1v1.1h-1.1zM105.8 427.3h1.1v1.1h-1.1z" fill="#f07020"/>
<path d="M107.7 431.4h1.0v1.0h-1.0zM108.7 432.6h1.0v1.0h-1.0z" fill="#fff" fill-opacity="0.8"/>
<rect x="98.67" y="435.7" width="11.57" height="3.30" fill="#cce838"/>
<path d="M99.5 436.3h1.1v2.1h-1.1zM106.9 436.3h2.4v2.1h-2.4z" fill="#4a9226"/>
<path d="M100.9 436.3h1.3v2.1h-1.3zM105.1 436.3h1.8v2.1h-1.8z" fill="#66aa30"/>
<path d="M102.2 436.3h1.2v2.1h-1.2zM103.8 436.3h1.4v2.1h-1.4z" fill="#a8d43a"/>
<line x1="104.46" y1="440" x2="104.46" y2="441" stroke="#888" stroke-width="0.4"/>
<text x="104.46" y="444.60" font-size="2.8" fill="#222" text-anchor="middle" font-weight="bold" dominant-baseline="central" textLength="9" lengthAdjust="spacingAndGlyphs">Gm06</text>
<path d="M111.7 435.0V429.8H112.7V430.6H113.7V430.8H114.7V430.7H115.7V430.3H116.7V429.9H117.7V430.3H118.7V430.7H119.7V430.5H120.7V430.3H121.7V430.7H122.7V429.9H123.8V435.0ZM113.7 429.0h1.5v1.5h-1.5zM113.9 428.1h1.5v1.5h-1.5zM112.0 428.1h1.5v1.5h-1.5zM118.3 429.3h1.5v1.5h-1.5zM117.1 430.3h1.5v1.5h-1.5zM117.9 430.7h1.5v1.5h-1.5zM116.7 430.4h1.5v1.5h-1.5zM116.7 430.0h1.5v1.5h-1.5zM116.4 430.7h1.5v1.5h-1.5zM113.3 427.9h1.5v1.5h-1.5zM122.1 430.3h1.5v1.5h-1.5zM114.5 429.3h1.5v1.5h-1.5zM111.8 429.9h1.5v1.5h-1.5zM120.7 430.3h1.5v1.5h-1.5zM113.5 430.4h1.5v1.5h-1.5zM117.0 429.3h1.5v1.5h-1.5zM117.7 430.0h1.5v1.5h-1.5zM112.0 428.6h1.5v1.5h-1.5zM114.9 428.3h1.5v1.5h-1.5zM113.9 430.7h1.5v1.5h-1.5zM116.8 429.5h1.5v1.5h-1.5zM117.1 427.6h1.5v1.5h-1.5zM112.5 429.9h1.5v1.5h-1.5zM111.8 429.5h1.5v1.5h-1.5zM116.8 429.6h1.5v1.5h-1.5zM118.5 428.4h1.5v1.5h-1.5zM118.5 430.2h1.5v1.5h-1.5zM121.9 430.6h1.5v1.5h-1.5zM118.9 430.3h1.5v1.5h-1.5zM118.8 430.3h1.5v1.5h-1.5zM112.3 430.0h1.5v1.5h-1.5zM116.5 430.6h1.5v1.5h-1.5zM116.9 428.5h1.5v1.5h-1.5zM112.4 428.1h1.5v1.5h-1.5zM112.5 428.2h1.5v1.5h-1.5zM122.1 427.5h1.5v1.5h-1.5zM121.6 427.8h1.1v1.1h-1.1zM122.4 426.8h1.1v1.1h-1.1zM116.8 427.0h1.1v1.1h-1.1zM112.2 426.3h1.1v1.1h-1.1zM115.1 426.4h1.1v1.1h-1.1zM117.3 427.5h1.1v1.1h-1.1z" fill="#d98cc6"/>
<path d="M114.4 432.1h1.1v1.1h-1.1zM115.1 432.6h1.5v1.5h-1.5z" fill="#fff" fill-opacity="0.8"/>
<rect x="112.25" y="435.7" width="11.07" height="3.30" fill="#cce838"/>
<path d="M113.0 436.3h2.0v2.1h-2.0zM116.6 436.3h2.0v2.1h-2.0zM118.6 436.3h2.2v2.1h-2.2z" fill="#4a9226"/>
<path d="M115.4 436.3h1.2v2.1h-1.2zM121.0 436.3h1.5v2.1h-1.5z" fill="#66aa30"/>
<line x1="117.78" y1="440" x2="117.78" y2="441" stroke="#888" stroke-width="0.4"/>
<path d="M124.8 435.0V430.4H125.8V430.5H126.8V430.5H127.8V429.6H128.8V430.0H129.8V429.8H130.8V430.3H131.8V430.5H132.8V429.6H133.8V429.8H134.8V430.8H135.8V429.6H136.9V435.0ZM128.2 430.5h1.5v1.5h-1.5zM126.8 429.2h1.5v1.5h-1.5zM128.4 430.6h1.5v1.5h-1.5zM126.4 428.3h1.5v1.5h-1.5zM134.1 428.1h1.5v1.5h-1.5zM131.5 428.6h1.5v1.5h-1.5zM127.6 428.1h1.5v1.5h-1.5zM130.6 429.2h1.5v1.5h-1.5zM134.9 428.7h1.5v1.5h-1.5zM126.6 429.3h1.5v1.5h-1.5zM129.3 430.6h1.5v1.5h-1.5zM134.9 430.7h1.5v1.5h-1.5zM128.3 430.4h1.5v1.5h-1.5zM133.2 430.1h1.5v1.5h-1.5zM132.3 430.4h1.5v1.5h-1.5zM134.3 427.9h1.5v1.5h-1.5zM132.8 430.2h1.5v1.5h-1.5zM134.0 430.1h1.5v1.5h-1.5zM127.7 429.1h1.5v1.5h-1.5zM134.7 430.1h1.5v1.5h-1.5zM132.3 430.6h1.5v1.5h-1.5zM133.3 428.8h1.5v1.5h-1.5zM134.3 430.7h1.5v1.5h-1.5zM132.4 429.0h1.5v1.5h-1.5zM129.9 430.6h1.5v1.5h-1.5zM128.7 428.5h1.5v1.5h-1.5zM127.6 428.6h1.5v1.5h-1.5zM131.9 430.7h1.5v1.5h-1.5zM129.4 427.2h1.5v1.5h-1.5zM134.7 430.4h1.5v1.5h-1.5zM129.3 427.5h1.5v1.5h-1.5zM129.0 430.1h1.5v1.5h-1.5zM128.2 430.6h1.5v1.5h-1.5zM131.5 430.7h1.5v1.5h-1.5zM129.8 429.5h1.5v1.5h-1.5zM132.9 429.5h1.5v1.5h-1.5zM134.0 427.1h1.1v1.1h-1.1zM128.0 427.9h1.1v1.1h-1.1zM133.4 427.3h1.1v1.1h-1.1zM129.0 425.7h1.1v1.1h-1.1zM130.2 426.8h1.1v1.1h-1.1zM129.2 426.7h1.1v1.1h-1.1z" fill="#80d4b4"/>
<path d="M127.5 432.9h1.4v1.4h-1.4zM134.7 432.0h1.4v1.4h-1.4z" fill="#fff" fill-opacity="0.8"/>
<rect x="125.32" y="435.7" width="11.07" height="3.30" fill="#cce838"/>
<path d="M126.1 436.3h2.5v2.1h-2.5zM131.8 436.3h1.3v2.1h-1.3zM135.5 436.3h0.1v2.1h-0.1z" fill="#4a9226"/>
<path d="M128.9 436.3h1.4v2.1h-1.4zM133.4 436.3h1.8v2.1h-1.8z" fill="#a8d43a"/>
<path d="M130.4 436.3h1.1v2.1h-1.1z" fill="#66aa30"/>
<line x1="130.85" y1="440" x2="130.85" y2="441" stroke="#888" stroke-width="0.4"/>
<text x="130.85" y="444.60" font-size="2.8" fill="#222" text-anchor="middle" font-weight="bold" dominant-baseline="central" textLength="9" lengthAdjust="spacingAndGlyphs">Gm08</text>
<path d="M137.9 435.0V429.6H138.9V430.1H139.9V430.4H140.9V429.9H141.9V429.9H142.9V429.9H143.9V430.2H144.9V430.4H145.9V430.1H146.9V429.6H147.9V429.5H148.9V430.4H150.0V435.0ZM142.2 429.3h1.5v1.5h-1.5zM141.2 428.0h1.5v1.5h-1.5zM143.2 430.4h1.5v1.5h-1.5zM145.3 429.9h1.5v1.5h-1.5zM141.4 427.2h1.5v1.5h-1.5zM143.8 430.7h1.5v1.5h-1.5zM140.7 427.8h1.5v1.5h-1.5zM142.0 427.6h1.5v1.5h-1.5zM147.4 428.7h1.5v1.5h-1.5zM141.2 429.5h1.5v1.5h-1.5zM142.5 427.2h1.5v1.5h-1.5zM144.3 430.4h1.5v1.5h-1.5zM143.4 428.7h1.5v1.5h-1.5zM140.1 429.1h1.5v1.5h-1.5zM146.7 430.4h1.5v1.5h-1.5zM141.0 430.5h1.5v1.5h-1.5zM140.1 429.9h1.5v1.5h-1.5zM144.8 427.6h1.5v1.5h-1.5zM148.4 430.7h1.5v1.5h-1.5zM148.2 428.5h1.5v1.5h-1.5zM142.7 430.5h1.5v1.5h-1.5zM138.5 430.0h1.5v1.5h-1.5zM143.3 430.3h1.5v1.5h-1.5zM144.4 427.9h1.5v1.5h-1.5zM145.1 430.1h1.5v1.5h-1.5zM140.8 427.2h1.5v1.5h-1.5zM139.8 430.2h1.5v1.5h-1.5zM144.6 429.1h1.5v1.5h-1.5zM146.8 429.4h1.5v1.5h-1.5zM138.9 427.9h1.5v1.5h-1.5zM144.3 430.5h1.5v1.5h-1.5zM145.8 428.3h1.5v1.5h-1.5zM142.5 430.5h1.5v1.5h-1.5zM140.0 428.6h1.5v1.5h-1.5zM144.1 428.4h1.5v1.5h-1.5zM138.3 427.4h1.5v1.5h-1.5zM143.6 425.9h1.1v1.1h-1.1zM144.2 425.6h1.1v1.1h-1.1zM140.9 425.7h1.1v1.1h-1.1zM145.3 427.8h1.1v1.1h-1.1zM142.0 427.8h1.1v1.1h-1.1zM140.3 427.9h1.1v1.1h-1.1z" fill="#8a1535"/>
<path d="M145.5 432.2h1.3v1.3h-1.3zM147.8 432.0h0.9v0.9h-0.9z" fill="#fff" fill-opacity="0.8"/>
<rect x="138.39" y="435.7" width="11.07" height="3.30" fill="#cce838"/>
<path d="M139.2 436.3h2.5v2.1h-2.5zM146.0 436.3h1.8v2.1h-1.8z" fill="#4a9226"/>
<path d="M142.0 436.3h1.5v2.1h-1.5z" fill="#66aa30"/>
<path d="M143.6 436.3h2.1v2.1h-2.1zM148.0 436.3h0.6v2.1h-0.6z" fill="#a8d43a"/>
<line x1="143.93" y1="440" x2="143.93" y2="441" stroke="#888" stroke-width="0.4"/>
<path d="M151.0 435.0V429.5H152.0V430.7H153.0V429.8H154.0V430.6H155.0V430.3H156.0V429.9H157.0V430.7H158.0V429.7H159.0V430.5H160.0V430.3H161.0V430.0H162.0V430.8H163.0V435.0ZM158.6 430.1h1.5v1.5h-1.5zM153.1 428.2h1.5v1.5h-1.5zM161.5 429.8h1.5v1.5h-1.5zM160.3 430.4h1.5v1.5h-1.5zM156.7 427.7h1.5v1.5h-1.5zM155.7 429.8h1.5v1.5h-1.5zM156.0 429.5h1.5v1.5h-1.5zM151.5 430.4h1.5v1.5h-1.5zM155.3 427.9h1.5v1.5h-1.5zM153.3 427.6h1.5v1.5h-1.5zM156.4 428.3h1.5v1.5h-1.5zM159.9 430.7h1.5v1.5h-1.5zM155.1 428.9h1.5v1.5h-1.5zM156.0 430.4h1.5v1.5h-1.5zM159.8 429.2h1.5v1.5h-1.5zM161.2 430.5h1.5v1.5h-1.5zM155.6 429.9h1.5v1.5h-1.5zM158.1 429.9h1.5v1.5h-1.5zM157.9 429.4h1.5v1.5h-1.5zM153.7 430.3h1.5v1.5h-1.5zM153.4 428.0h1.5v1.5h-1.5zM154.5 430.7h1.5v1.5h-1.5zM159.0 430.4h1.5v1.5h-1.5zM153.6 430.3h1.5v1.5h-1.5zM158.8 429.4h1.5v1.5h-1.5zM155.6 430.2h1.5v1.5h-1.5zM154.3 430.7h1.5v1.5h-1.5zM155.1 430.7h1.5v1.5h-1.5zM158.0 428.8h1.5v1.5h-1.5zM156.3 430.2h1.5v1.5h-1.5zM161.4 430.2h1.5v1.5h-1.5zM151.1 429.8h1.5v1.5h-1.5zM161.5 430.1h1.5v1.5h-1.5zM156.1 430.1h1.5v1.5h-1.5zM160.8 430.6h1.5v1.5h-1.5zM161.2 429.9h1.5v1.5h-1.5zM152.4 426.1h1.1v1.1h-1.1zM159.0 427.3h1.1v1.1h-1.1zM151.0 427.5h1.1v1.1h-1.1zM155.1 425.3h1.1v1.1h-1.1zM160.1 426.8h1.1v1.1h-1.1zM161.6 425.3h1.1v1.1h-1.1z" fill="#1f7a5c"/>
<path d="M161.0 432.0h1.3v1.3h-1.3zM155.8 430.4h1.3v1.3h-1.3z" fill="#fff" fill-opacity="0.8"/>
<rect x="151.47" y="435.7" width="11.07" height="3.30" fill="#cce838"/>
<path d="M152.3 436.3h2.5v2.1h-2.5zM157.5 436.3h2.2v2.1h-2.2z" fill="#a8d43a"/>
<path d="M155.1 436.3h2.4v2.1h-2.4zM161.3 436.3h0.4v2.1h-0.4z" fill="#66aa30"/>
<path d="M159.8 436.3h1.3v2.1h-1.3z" fill="#4a9226"/>
<line x1="157.00" y1="440" x2="157.00" y2="441" stroke="#888" stroke-width="0.4"/>
<text x="157.00" y="444.60" font-size="2.8" fill="#222" text-anchor="middle" font-weight="bold" dominant-baseline="central" textLength="9" lengthAdjust="spacingAndGlyphs">Gm10</text>
<path d="M164.5 435.0V430.7H165.5V430.0H166.5V430.7H167.5V430.8H168.5V430.9H169.5V430.4H170.5V429.8H171.5V430.1H172.5V430.2H173.5V430.1H174.5V430.5H175.1V435.0ZM169.2 427.5h1.5v1.5h-1.5zM168.7 430.2h1.5v1.5h-1.5zM167.7 429.8h1.5v1.5h-1.5zM165.6 429.1h1.5v1.5h-1.5zM165.2 430.3h1.5v1.5h-1.5zM172.7 428.0h1.5v1.5h-1.5zM167.0 428.8h1.5v1.5h-1.5zM167.8 429.5h1.5v1.5h-1.5zM172.2 430.4h1.5v1.5h-1.5zM171.3 430.2h1.5v1.5h-1.5zM172.6 430.1h1.5v1.5h-1.5zM167.6 430.3h1.5v1.5h-1.5zM172.1 427.4h1.5v1.5h-1.5zM165.0 429.8h1.5v1.5h-1.5zM169.3 428.0h1.5v1.5h-1.5zM171.4 429.3h1.5v1.5h-1.5zM170.9 429.3h1.5v1.5h-1.5zM171.6 430.6h1.5v1.5h-1.5zM167.4 429.2h1.5v1.5h-1.5zM168.8 430.7h1.5v1.5h-1.5zM165.1 427.8h1.5v1.5h-1.5zM170.7 427.7h1.5v1.5h-1.5zM165.8 429.6h1.5v1.5h-1.5zM165.0 430.0h1.5v1.5h-1.5zM171.3 429.0h1.5v1.5h-1.5zM164.9 429.0h1.5v1.5h-1.5zM170.2 429.6h1.5v1.5h-1.5zM169.9 430.3h1.5v1.5h-1.5zM167.5 429.6h1.5v1.5h-1.5zM165.9 429.7h1.5v1.5h-1.5zM172.4 430.1h1.5v1.5h-1.5zM166.0 426.2h1.1v1.1h-1.1zM165.1 426.9h1.1v1.1h-1.1zM169.3 426.4h1.1v1.1h-1.1zM167.7 426.9h1.1v1.1h-1.1zM167.7 425.4h1.1v1.1h-1.1z" fill="#3d9ad9"/>
<path d="M168.0 432.2h1.3v1.3h-1.3zM169.1 432.4h1.1v1.1h-1.1z" fill="#fff" fill-opacity="0.8"/>
<rect x="165.04" y="435.7" width="9.56" height="3.30" fill="#cce838"/>
<path d="M165.8 436.3h1.3v2.1h-1.3z" fill="#a8d43a"/>
<path d="M167.5 436.3h1.6v2.1h-1.6zM169.1 436.3h2.1v2.1h-2.1zM171.5 436.3h1.8v2.1h-1.8zM173.3 436.3h0.5v2.1h-0.5z" fill="#4a9226"/>
<line x1="169.82" y1="440" x2="169.82" y2="441" stroke="#888" stroke-width="0.4"/>
<path d="M175.9 435.0V430.6H176.9V430.7H177.9V430.3H178.9V430.4H179.9V430.5H180.9V430.3H181.9V430.5H182.9V430.0H183.9V430.0H184.9V430.6H185.9V430.7H186.8V435.0ZM178.5 427.3h1.5v1.5h-1.5zM185.0 429.8h1.5v1.5h-1.5zM184.5 430.7h1.5v1.5h-1.5zM178.5 430.3h1.5v1.5h-1.5zM177.4 430.7h1.5v1.5h-1.5zM182.9 430.4h1.5v1.5h-1.5zM177.6 430.1h1.5v1.5h-1.5zM183.8 428.0h1.5v1.5h-1.5zM178.7 428.1h1.5v1.5h-1.5zM176.6 430.6h1.5v1.5h-1.5zM184.9 430.6h1.5v1.5h-1.5zM184.6 429.3h1.5v1.5h-1.5zM176.2 429.5h1.5v1.5h-1.5zM182.8 430.2h1.5v1.5h-1.5zM177.5 430.2h1.5v1.5h-1.5zM176.8 430.1h1.5v1.5h-1.5zM182.0 430.6h1.5v1.5h-1.5zM184.7 430.4h1.5v1.5h-1.5zM177.4 430.2h1.5v1.5h-1.5zM184.4 428.7h1.5v1.5h-1.5zM183.3 430.1h1.5v1.5h-1.5zM176.2 430.1h1.5v1.5h-1.5zM175.9 430.6h1.5v1.5h-1.5zM183.8 428.4h1.5v1.5h-1.5zM182.1 428.6h1.5v1.5h-1.5zM177.4 430.5h1.5v1.5h-1.5zM180.9 430.2h1.5v1.5h-1.5zM180.4 428.6h1.5v1.5h-1.5zM185.0 429.5h1.5v1.5h-1.5zM181.1 430.6h1.5v1.5h-1.5zM180.3 427.2h1.5v1.5h-1.5zM176.7 430.2h1.5v1.5h-1.5zM183.4 426.3h1.1v1.1h-1.1zM179.4 425.4h1.1v1.1h-1.1zM184.7 426.0h1.1v1.1h-1.1zM184.5 426.0h1.1v1.1h-1.1zM184.9 425.7h1.1v1.1h-1.1z" fill="#f7b522"/>
<path d="M181.6 433.0h0.8v0.8h-0.8zM180.9 431.0h1.5v1.5h-1.5z" fill="#fff" fill-opacity="0.8"/>
<rect x="176.41" y="435.7" width="9.86" height="3.30" fill="#cce838"/>
<path d="M177.2 436.3h1.5v2.1h-1.5zM179.0 436.3h1.8v2.1h-1.8zM182.6 436.3h1.1v2.1h-1.1z" fill="#66aa30"/>
<path d="M180.8 436.3h1.6v2.1h-1.6z" fill="#a8d43a"/>
<path d="M183.7 436.3h1.7v2.1h-1.7z" fill="#4a9226"/>
<line x1="181.34" y1="440" x2="181.34" y2="441" stroke="#888" stroke-width="0.4"/>
<text x="181.34" y="444.60" font-size="2.8" fill="#222" text-anchor="middle" font-weight="bold" dominant-baseline="central" textLength="9" lengthAdjust="spacingAndGlyphs">Gm12</text>
<path d="M187.6 435.0V430.6H188.6V430.1H189.6V429.8H190.6V430.8H191.6V429.8H192.6V429.6H193.6V430.3H194.6V430.4H195.6V430.8H196.6V430.4H197.6V429.7H198.8V435.0ZM192.6 428.5h1.5v1.5h-1.5zM190.5 428.0h1.5v1.5h-1.5zM197.2 429.5h1.5v1.5h-1.5zM189.0 429.9h1.5v1.5h-1.5zM195.3 430.7h1.5v1.5h-1.5zM189.3 430.5h1.5v1.5h-1.5zM197.2 430.5h1.5v1.5h-1.5zM187.9 430.5h1.5v1.5h-1.5zM194.1 430.6h1.5v1.5h-1.5zM196.5 427.8h1.5v1.5h-1.5zM192.1 427.6h1.5v1.5h-1.5zM188.3 429.7h1.5v1.5h-1.5zM190.0 430.0h1.5v1.5h-1.5zM188.4 429.4h1.5v1.5h-1.5zM197.1 428.3h1.5v1.5h-1.5zM193.3 429.7h1.5v1.5h-1.5zM196.9 430.0h1.5v1.5h-1.5zM192.3 430.5h1.5v1.5h-1.5zM194.2 430.4h1.5v1.5h-1.5zM194.3 430.7h1.5v1.5h-1.5zM196.9 430.7h1.5v1.5h-1.5zM195.4 430.3h1.5v1.5h-1.5zM192.5 430.4h1.5v1.5h-1.5zM193.8 428.7h1.5v1.5h-1.5zM188.8 429.8h1.5v1.5h-1.5zM192.5 430.5h1.5v1.5h-1.5zM192.1 429.2h1.5v1.5h-1.5zM194.2 428.4h1.5v1.5h-1.5zM193.1 429.3h1.5v1.5h-1.5zM193.3 429.2h1.5v1.5h-1.5zM192.1 430.7h1.5v1.5h-1.5zM194.7 430.0h1.5v1.5h-1.5zM190.5 428.8h1.5v1.5h-1.5zM190.8 426.7h1.1v1.1h-1.1zM197.1 426.2h1.1v1.1h-1.1zM197.5 426.6h1.1v1.1h-1.1zM190.1 425.3h1.1v1.1h-1.1zM192.2 426.4h1.1v1.1h-1.1z" fill="#4a3a9e"/>
<path d="M191.3 431.5h1.5v1.5h-1.5zM192.3 431.0h1.1v1.1h-1.1z" fill="#fff" fill-opacity="0.8"/>
<rect x="188.07" y="435.7" width="10.26" height="3.30" fill="#cce838"/>
<path d="M188.9 436.3h2.5v2.1h-2.5zM193.8 436.3h1.0v2.1h-1.0zM194.8 436.3h2.6v2.1h-2.6z" fill="#4a9226"/>
<path d="M191.6 436.3h1.8v2.1h-1.8zM197.3 436.3h0.2v2.1h-0.2z" fill="#66aa30"/>
<line x1="193.20" y1="440" x2="193.20" y2="441" stroke="#888" stroke-width="0.4"/>
<path d="M199.5 435.0V430.4H200.5V430.8H201.5V429.8H202.5V430.2H203.5V429.6H204.5V430.0H205.5V430.8H206.5V430.7H207.5V429.7H208.5V429.9H209.5V430.2H210.5V430.8H211.5V430.2H212.6V435.0ZM199.9 430.2h1.5v1.5h-1.5zM209.1 428.1h1.5v1.5h-1.5zM202.5 427.8h1.5v1.5h-1.5zM200.1 429.1h1.5v1.5h-1.5zM204.3 428.7h1.5v1.5h-1.5zM210.9 430.6h1.5v1.5h-1.5zM204.3 429.8h1.5v1.5h-1.5zM208.9 427.9h1.5v1.5h-1.5zM207.7 430.7h1.5v1.5h-1.5zM208.0 429.1h1.5v1.5h-1.5zM207.9 430.7h1.5v1.5h-1.5zM203.7 428.2h1.5v1.5h-1.5zM202.2 430.4h1.5v1.5h-1.5zM201.8 430.6h1.5v1.5h-1.5zM210.7 429.7h1.5v1.5h-1.5zM202.9 429.5h1.5v1.5h-1.5zM202.3 428.2h1.5v1.5h-1.5zM208.5 430.7h1.5v1.5h-1.5zM202.4 428.8h1.5v1.5h-1.5zM202.4 427.9h1.5v1.5h-1.5zM208.9 430.4h1.5v1.5h-1.5zM206.6 427.6h1.5v1.5h-1.5zM210.7 430.3h1.5v1.5h-1.5zM203.6 430.1h1.5v1.5h-1.5zM202.0 427.5h1.5v1.5h-1.5zM209.3 429.3h1.5v1.5h-1.5zM200.8 428.6h1.5v1.5h-1.5zM208.4 429.3h1.5v1.5h-1.5zM206.4 430.1h1.5v1.5h-1.5zM204.6 430.3h1.5v1.5h-1.5zM201.5 428.8h1.5v1.5h-1.5zM205.5 428.7h1.5v1.5h-1.5zM210.9 428.2h1.5v1.5h-1.5zM207.3 430.4h1.5v1.5h-1.5zM205.5 427.4h1.5v1.5h-1.5zM204.4 430.6h1.5v1.5h-1.5zM209.7 428.1h1.5v1.5h-1.5zM210.8 430.6h1.5v1.5h-1.5zM207.2 430.0h1.5v1.5h-1.5zM205.8 427.1h1.1v1.1h-1.1zM203.7 426.5h1.1v1.1h-1.1zM209.4 426.9h1.1v1.1h-1.1zM210.3 427.9h1.1v1.1h-1.1zM210.2 426.2h1.1v1.1h-1.1zM203.0 427.1h1.1v1.1h-1.1z" fill="#4d5824"/>
<path d="M210.0 433.0h1.4v1.4h-1.4zM201.5 432.6h1.5v1.5h-1.5z" fill="#fff" fill-opacity="0.8"/>
<rect x="200.04" y="435.7" width="12.07" height="3.30" fill="#cce838"/>
<path d="M200.8 436.3h1.2v2.1h-1.2zM204.2 436.3h2.3v2.1h-2.3zM206.7 436.3h1.6v2.1h-1.6zM208.6 436.3h1.6v2.1h-1.6zM210.2 436.3h1.1v2.1h-1.1z" fill="#4a9226"/>
<path d="M202.0 436.3h2.2v2.1h-2.2z" fill="#66aa30"/>
<line x1="206.07" y1="440" x2="206.07" y2="441" stroke="#888" stroke-width="0.4"/>
<text x="206.07" y="444.60" font-size="2.8" fill="#222" text-anchor="middle" font-weight="bold" dominant-baseline="central" textLength="9" lengthAdjust="spacingAndGlyphs">Gm14</text>
<path d="M213.3 435.0V430.4H214.3V430.1H215.3V430.6H216.3V430.4H217.3V429.8H218.3V430.8H219.3V429.7H220.3V430.4H221.3V430.4H222.3V430.1H223.3V430.8H224.3V430.2H225.6V435.0ZM215.7 430.6h1.5v1.5h-1.5zM216.6 428.9h1.5v1.5h-1.5zM218.9 430.1h1.5v1.5h-1.5zM214.6 430.7h1.5v1.5h-1.5zM223.1 427.4h1.5v1.5h-1.5zM223.6 428.4h1.5v1.5h-1.5zM214.3 430.2h1.5v1.5h-1.5zM222.0 430.0h1.5v1.5h-1.5zM216.3 427.4h1.5v1.5h-1.5zM221.5 427.6h1.5v1.5h-1.5zM217.2 428.8h1.5v1.5h-1.5zM214.2 429.0h1.5v1.5h-1.5zM217.8 428.0h1.5v1.5h-1.5zM219.6 429.9h1.5v1.5h-1.5zM217.4 430.7h1.5v1.5h-1.5zM219.3 430.0h1.5v1.5h-1.5zM221.6 427.8h1.5v1.5h-1.5zM222.5 429.6h1.5v1.5h-1.5zM223.3 430.2h1.5v1.5h-1.5zM221.0 427.8h1.5v1.5h-1.5zM222.4 430.5h1.5v1.5h-1.5zM216.4 429.0h1.5v1.5h-1.5zM214.4 430.6h1.5v1.5h-1.5zM214.8 430.2h1.5v1.5h-1.5zM215.3 430.5h1.5v1.5h-1.5zM221.3 429.3h1.5v1.5h-1.5zM219.0 427.5h1.5v1.5h-1.5zM219.5 430.4h1.5v1.5h-1.5zM217.5 430.3h1.5v1.5h-1.5zM219.2 430.5h1.5v1.5h-1.5zM214.1 430.4h1.5v1.5h-1.5zM220.3 429.9h1.5v1.5h-1.5zM217.6 430.0h1.5v1.5h-1.5zM216.8 428.0h1.5v1.5h-1.5zM220.4 430.7h1.5v1.5h-1.5zM217.9 430.5h1.5v1.5h-1.5zM220.1 425.4h1.1v1.1h-1.1zM224.0 427.6h1.1v1.1h-1.1zM217.0 427.1h1.1v1.1h-1.1zM215.1 425.5h1.1v1.1h-1.1zM216.2 427.3h1.1v1.1h-1.1zM220.9 426.8h1.1v1.1h-1.1z" fill="#e0197b"/>
<path d="M218.0 432.2h1.5v1.5h-1.5zM216.9 431.9h1.1v1.1h-1.1z" fill="#fff" fill-opacity="0.8"/>
<rect x="213.81" y="435.7" width="11.27" height="3.30" fill="#cce838"/>
<path d="M214.6 436.3h2.4v2.1h-2.4zM218.3 436.3h2.4v2.1h-2.4zM222.4 436.3h1.3v2.1h-1.3z" fill="#4a9226"/>
<path d="M217.0 436.3h1.0v2.1h-1.0zM221.1 436.3h1.0v2.1h-1.0z" fill="#66aa30"/>
<path d="M224.0 436.3h0.2v2.1h-0.2z" fill="#a8d43a"/>
<line x1="219.45" y1="440" x2="219.45" y2="441" stroke="#888" stroke-width="0.4"/>
<text x="219.45" y="444.60" font-size="2.8" fill="#222" text-anchor="middle" font-weight="bold" dominant-baseline="central" textLength="9" lengthAdjust="spacingAndGlyphs">Gm15</text>
<path d="M226.6 435.0V429.9H227.6V429.5H228.6V430.3H229.6V430.6H230.6V430.0H231.6V429.8H232.6V430.7H233.6V429.8H234.6V429.9H235.6V430.6H236.8V435.0ZM234.2 429.3h1.5v1.5h-1.5zM232.8 429.4h1.5v1.5h-1.5zM228.9 428.4h1.5v1.5h-1.5zM228.6 429.8h1.5v1.5h-1.5zM233.8 430.7h1.5v1.5h-1.5zM227.2 428.2h1.5v1.5h-1.5zM229.3 429.6h1.5v1.5h-1.5zM234.6 430.4h1.5v1.5h-1.5zM232.0 430.7h1.5v1.5h-1.5zM232.1 428.7h1.5v1.5h-1.5zM234.8 430.1h1.5v1.5h-1.5zM227.1 427.2h1.5v1.5h-1.5zM234.9 428.4h1.5v1.5h-1.5zM233.0 428.0h1.5v1.5h-1.5zM231.4 429.7h1.5v1.5h-1.5zM232.9 429.6h1.5v1.5h-1.5zM231.5 430.6h1.5v1.5h-1.5zM231.2 427.3h1.5v1.5h-1.5zM230.0 430.2h1.5v1.5h-1.5zM227.1 427.9h1.5v1.5h-1.5zM232.0 430.6h1.5v1.5h-1.5zM234.8 429.9h1.5v1.5h-1.5zM232.6 427.8h1.5v1.5h-1.5zM231.8 430.6h1.5v1.5h-1.5zM232.0 429.2h1.5v1.5h-1.5zM227.2 430.7h1.5v1.5h-1.5zM232.8 429.6h1.5v1.5h-1.5zM230.8 427.7h1.5v1.5h-1.5zM230.0 430.7h1.5v1.5h-1.5zM233.1 430.5h1.5v1.5h-1.5zM228.4 426.6h1.1v1.1h-1.1zM233.2 425.6h1.1v1.1h-1.1zM229.7 426.6h1.1v1.1h-1.1zM226.9 425.7h1.1v1.1h-1.1zM235.3 427.9h1.1v1.1h-1.1z" fill="#f07020"/>
<path d="M233.3 431.4h1.2v1.2h-1.2zM229.5 431.9h1.4v1.4h-1.4z" fill="#fff" fill-opacity="0.8"/>
<rect x="227.09" y="435.7" width="9.26" height="3.30" fill="#cce838"/>
<path d="M227.9 436.3h2.1v2.1h-2.1zM234.1 436.3h1.5v2.1h-1.5z" fill="#4a9226"/>
<path d="M229.9 436.3h2.5v2.1h-2.5z" fill="#66aa30"/>
<path d="M232.8 436.3h1.3v2.1h-1.3z" fill="#a8d43a"/>
<line x1="231.72" y1="440" x2="231.72" y2="441" stroke="#888" stroke-width="0.4"/>
<path d="M237.8 435.0V430.1H238.8V430.1H239.8V430.3H240.8V430.8H241.8V429.6H242.8V430.1H243.8V430.8H244.8V430.4H245.8V429.8H246.8V430.6H247.8V430.5H248.7V435.0ZM238.0 427.6h1.5v1.5h-1.5zM242.8 430.1h1.5v1.5h-1.5zM239.1 430.3h1.5v1.5h-1.5zM241.8 430.7h1.5v1.5h-1.5zM247.1 430.3h1.5v1.5h-1.5zM242.1 429.6h1.5v1.5h-1.5zM244.0 427.3h1.5v1.5h-1.5zM240.4 430.6h1.5v1.5h-1.5zM242.5 428.8h1.5v1.5h-1.5zM244.2 427.4h1.5v1.5h-1.5zM246.9 430.0h1.5v1.5h-1.5zM242.2 427.8h1.5v1.5h-1.5zM247.0 429.5h1.5v1.5h-1.5zM243.1 429.6h1.5v1.5h-1.5zM242.9 429.6h1.5v1.5h-1.5zM240.5 430.7h1.5v1.5h-1.5zM245.4 430.7h1.5v1.5h-1.5zM247.0 429.6h1.5v1.5h-1.5zM246.8 428.4h1.5v1.5h-1.5zM241.2 429.9h1.5v1.5h-1.5zM243.6 429.9h1.5v1.5h-1.5zM243.5 430.2h1.5v1.5h-1.5zM238.9 430.5h1.5v1.5h-1.5zM242.0 428.7h1.5v1.5h-1.5zM240.5 429.9h1.5v1.5h-1.5zM244.2 430.4h1.5v1.5h-1.5zM239.7 429.4h1.5v1.5h-1.5zM245.6 429.4h1.5v1.5h-1.5zM246.9 429.9h1.5v1.5h-1.5zM244.8 428.0h1.5v1.5h-1.5zM244.1 430.4h1.5v1.5h-1.5zM245.8 427.5h1.5v1.5h-1.5zM244.2 425.8h1.1v1.1h-1.1zM243.9 426.0h1.1v1.1h-1.1zM245.5 426.0h1.1v1.1h-1.1zM239.2 427.1h1.1v1.1h-1.1zM244.4 426.4h1.1v1.1h-1.1z" fill="#d98cc6"/>
<path d="M240.0 431.1h1.3v1.3h-1.3zM241.3 430.9h1.4v1.4h-1.4z" fill="#fff" fill-opacity="0.8"/>
<rect x="238.35" y="435.7" width="9.86" height="3.30" fill="#cce838"/>
<path d="M239.1 436.3h1.9v2.1h-1.9zM245.0 436.3h1.3v2.1h-1.3z" fill="#66aa30"/>
<path d="M241.1 436.3h1.5v2.1h-1.5zM242.6 436.3h2.2v2.1h-2.2zM246.6 436.3h0.8v2.1h-0.8z" fill="#4a9226"/>
<line x1="243.28" y1="440" x2="243.28" y2="441" stroke="#888" stroke-width="0.4"/>
<text x="243.28" y="444.60" font-size="2.8" fill="#222" text-anchor="middle" font-weight="bold" dominant-baseline="central" textLength="9" lengthAdjust="spacingAndGlyphs">Gm17</text>
<path d="M249.8 435.0V429.9H250.8V430.8H251.8V430.3H252.8V430.1H253.8V429.9H254.8V430.7H255.8V430.5H256.8V430.0H257.8V430.2H258.8V429.6H259.8V430.5H260.8V429.9H261.8V429.9H262.8V430.7H263.8V429.7H264.8V429.9H265.2V435.0ZM263.3 429.9h1.5v1.5h-1.5zM255.6 430.3h1.5v1.5h-1.5zM252.6 430.7h1.5v1.5h-1.5zM262.5 430.4h1.5v1.5h-1.5zM260.9 429.9h1.5v1.5h-1.5zM263.7 429.2h1.5v1.5h-1.5zM251.8 430.5h1.5v1.5h-1.5zM252.5 428.7h1.5v1.5h-1.5zM262.4 429.3h1.5v1.5h-1.5zM253.3 427.9h1.5v1.5h-1.5zM261.0 430.7h1.5v1.5h-1.5zM250.2 430.2h1.5v1.5h-1.5zM257.6 430.4h1.5v1.5h-1.5zM253.6 429.9h1.5v1.5h-1.5zM260.8 429.8h1.5v1.5h-1.5zM254.6 427.7h1.5v1.5h-1.5zM258.8 430.6h1.5v1.5h-1.5zM262.0 428.5h1.5v1.5h-1.5zM258.4 430.5h1.5v1.5h-1.5zM251.7 428.7h1.5v1.5h-1.5zM260.8 429.9h1.5v1.5h-1.5zM260.7 430.5h1.5v1.5h-1.5zM258.5 430.5h1.5v1.5h-1.5zM251.4 427.3h1.5v1.5h-1.5zM254.7 430.3h1.5v1.5h-1.5zM251.1 430.5h1.5v1.5h-1.5zM255.0 428.7h1.5v1.5h-1.5zM258.8 428.7h1.5v1.5h-1.5zM252.1 430.0h1.5v1.5h-1.5zM260.0 429.0h1.5v1.5h-1.5zM263.5 430.5h1.5v1.5h-1.5zM261.7 430.7h1.5v1.5h-1.5zM250.3 430.7h1.5v1.5h-1.5zM250.0 429.2h1.5v1.5h-1.5zM251.2 429.4h1.5v1.5h-1.5zM250.0 428.1h1.5v1.5h-1.5zM255.8 429.8h1.5v1.5h-1.5zM256.7 429.0h1.5v1.5h-1.5zM262.8 429.2h1.5v1.5h-1.5zM262.5 430.3h1.5v1.5h-1.5zM255.2 428.4h1.5v1.5h-1.5zM263.6 430.5h1.5v1.5h-1.5zM252.2 428.9h1.5v1.5h-1.5zM259.6 430.1h1.5v1.5h-1.5zM261.6 430.6h1.5v1.5h-1.5zM257.3 430.3h1.5v1.5h-1.5zM255.6 426.5h1.1v1.1h-1.1zM263.4 425.5h1.1v1.1h-1.1zM253.2 427.1h1.1v1.1h-1.1zM264.0 426.1h1.1v1.1h-1.1zM254.0 425.6h1.1v1.1h-1.1zM252.1 425.4h1.1v1.1h-1.1zM257.5 426.5h1.1v1.1h-1.1z" fill="#80d4b4"/>
<path d="M252.6 430.5h1.4v1.4h-1.4zM260.0 430.5h1.4v1.4h-1.4zM260.5 432.7h1.5v1.5h-1.5z" fill="#fff" fill-opacity="0.8"/>
<rect x="250.32" y="435.7" width="14.39" height="3.30" fill="#cce838"/>
<path d="M251.1 436.3h2.3v2.1h-2.3z" fill="#66aa30"/>
<path d="M253.4 436.3h2.2v2.1h-2.2zM255.8 436.3h1.4v2.1h-1.4zM261.1 436.3h1.3v2.1h-1.3zM262.7 436.3h1.1v2.1h-1.1z" fill="#4a9226"/>
<path d="M257.3 436.3h2.2v2.1h-2.2zM259.5 436.3h1.6v2.1h-1.6z" fill="#a8d43a"/>
<line x1="257.51" y1="440" x2="257.51" y2="441" stroke="#888" stroke-width="0.4"/>
<text x="257.51" y="444.60" font-size="2.8" fill="#222" text-anchor="middle" font-weight="bold" dominant-baseline="central" textLength="9" lengthAdjust="spacingAndGlyphs">Gm18</text>
<path d="M266.2 435.0V430.9H267.2V430.2H268.2V429.7H269.2V429.7H270.2V430.9H271.2V429.7H272.2V429.8H273.2V430.2H274.2V429.9H275.2V429.5H276.2V429.6H277.2V430.0H278.2V430.5H278.7V435.0ZM269.4 430.7h1.5v1.5h-1.5zM269.5 428.6h1.5v1.5h-1.5zM275.6 430.7h1.5v1.5h-1.5zM268.2 430.3h1.5v1.5h-1.5zM274.9 427.7h1.5v1.5h-1.5zM266.4 429.2h1.5v1.5h-1.5zM274.0 430.2h1.5v1.5h-1.5zM268.2 430.6h1.5v1.5h-1.5zM268.0 427.6h1.5v1.5h-1.5zM272.6 428.4h1.5v1.5h-1.5zM276.3 429.2h1.5v1.5h-1.5zM275.1 430.2h1.5v1.5h-1.5zM266.7 428.4h1.5v1.5h-1.5zM274.4 428.9h1.5v1.5h-1.5zM274.1 430.4h1.5v1.5h-1.5zM273.4 430.3h1.5v1.5h-1.5zM274.5 429.4h1.5v1.5h-1.5zM269.4 427.9h1.5v1.5h-1.5zM267.3 429.8h1.5v1.5h-1.5zM269.4 430.7h1.5v1.5h-1.5zM266.3 427.8h1.5v1.5h-1.5zM266.7 429.9h1.5v1.5h-1.5zM273.8 428.2h1.5v1.5h-1.5zM270.9 428.8h1.5v1.5h-1.5zM270.4 429.9h1.5v1.5h-1.5zM270.3 429.2h1.5v1.5h-1.5zM267.5 429.6h1.5v1.5h-1.5zM269.1 428.6h1.5v1.5h-1.5zM270.1 428.1h1.5v1.5h-1.5zM275.2 428.6h1.5v1.5h-1.5zM273.6 430.3h1.5v1.5h-1.5zM268.5 430.4h1.5v1.5h-1.5zM272.1 429.9h1.5v1.5h-1.5zM268.5 427.9h1.5v1.5h-1.5zM266.8 429.6h1.5v1.5h-1.5zM274.5 430.6h1.5v1.5h-1.5zM269.6 430.6h1.5v1.5h-1.5zM277.1 427.0h1.1v1.1h-1.1zM269.6 427.1h1.1v1.1h-1.1zM272.0 427.2h1.1v1.1h-1.1zM270.7 427.1h1.1v1.1h-1.1zM277.1 425.8h1.1v1.1h-1.1zM268.3 427.9h1.1v1.1h-1.1z" fill="#8a1535"/>
<path d="M275.3 430.8h1.4v1.4h-1.4zM269.9 430.9h1.2v1.2h-1.2z" fill="#fff" fill-opacity="0.8"/>
<rect x="266.71" y="435.7" width="11.47" height="3.30" fill="#cce838"/>
<path d="M267.5 436.3h1.3v2.1h-1.3zM272.6 436.3h1.7v2.1h-1.7zM276.1 436.3h1.2v2.1h-1.2z" fill="#4a9226"/>
<path d="M268.8 436.3h1.4v2.1h-1.4zM270.2 436.3h2.1v2.1h-2.1zM274.3 436.3h1.5v2.1h-1.5z" fill="#66aa30"/>
<line x1="272.44" y1="440" x2="272.44" y2="441" stroke="#888" stroke-width="0.4"/>
<text x="272.44" y="444.60" font-size="2.8" fill="#222" text-anchor="middle" font-weight="bold" dominant-baseline="central" textLength="9" lengthAdjust="spacingAndGlyphs">Gm19</text>
<path d="M279.9 435.0V430.5H280.9V430.8H281.9V430.2H282.9V429.9H283.9V430.7H284.9V430.6H285.9V429.8H286.9V430.5H287.9V430.9H288.9V430.0H289.9V430.1H290.9V430.1H291.8V435.0ZM281.2 429.3h1.5v1.5h-1.5zM287.3 430.3h1.5v1.5h-1.5zM288.1 427.8h1.5v1.5h-1.5zM283.1 427.2h1.5v1.5h-1.5zM288.8 430.7h1.5v1.5h-1.5zM284.3 429.8h1.5v1.5h-1.5zM287.7 430.7h1.5v1.5h-1.5zM281.7 430.1h1.5v1.5h-1.5zM283.5 429.8h1.5v1.5h-1.5zM286.8 430.6h1.5v1.5h-1.5zM283.7 429.9h1.5v1.5h-1.5zM289.9 430.5h1.5v1.5h-1.5zM280.9 428.7h1.5v1.5h-1.5zM280.9 429.8h1.5v1.5h-1.5zM281.6 427.9h1.5v1.5h-1.5zM289.0 427.8h1.5v1.5h-1.5zM282.5 430.2h1.5v1.5h-1.5zM287.8 430.6h1.5v1.5h-1.5zM289.1 429.1h1.5v1.5h-1.5zM284.2 430.7h1.5v1.5h-1.5zM281.9 428.1h1.5v1.5h-1.5zM280.0 430.2h1.5v1.5h-1.5zM281.8 430.4h1.5v1.5h-1.5zM284.4 430.2h1.5v1.5h-1.5zM285.8 428.1h1.5v1.5h-1.5zM288.6 428.3h1.5v1.5h-1.5zM280.8 430.6h1.5v1.5h-1.5zM285.8 429.4h1.5v1.5h-1.5zM283.9 429.4h1.5v1.5h-1.5zM284.1 429.2h1.5v1.5h-1.5zM281.4 430.6h1.5v1.5h-1.5zM289.8 428.4h1.5v1.5h-1.5zM288.5 429.8h1.5v1.5h-1.5zM283.8 428.7h1.5v1.5h-1.5zM280.9 429.9h1.5v1.5h-1.5zM289.0 427.6h1.1v1.1h-1.1zM283.4 425.8h1.1v1.1h-1.1zM286.1 425.5h1.1v1.1h-1.1zM280.8 426.4h1.1v1.1h-1.1zM289.8 426.7h1.1v1.1h-1.1z" fill="#1f7a5c"/>
<path d="M281.5 430.4h0.8v0.8h-0.8zM287.7 431.5h1.0v1.0h-1.0z" fill="#fff" fill-opacity="0.8"/>
<rect x="280.38" y="435.7" width="10.87" height="3.30" fill="#cce838"/>
<path d="M281.2 436.3h2.5v2.1h-2.5zM286.1 436.3h2.4v2.1h-2.4z" fill="#a8d43a"/>
<path d="M284.0 436.3h1.8v2.1h-1.8zM288.5 436.3h2.0v2.1h-2.0z" fill="#4a9226"/>
<line x1="285.82" y1="440" x2="285.82" y2="441" stroke="#888" stroke-width="0.4"/>
<line x1="29" y1="440" x2="291.75" y2="440" stroke="#ddd" stroke-width="0.4"/>
<text x="28.70" y="444.60" font-size="2.8" fill="#222" text-anchor="middle" font-weight="bold" dominant-baseline="central" textLength="6" lengthAdjust="spacingAndGlyphs">Chr</text>
<text x="162.00" y="449.50" font-size="5.0" fill="#333" text-anchor="middle" font-weight="bold" dominant-baseline="central" textLength="33.6" lengthAdjust="spacingAndGlyphs">Chromosome</text>
<rect x="48.15" y="418.95" width="1.5" height="1.5" fill="#f7b522"/>
<rect x="55.75" y="423.25" width="1.5" height="1.5" fill="#f7b522"/>
<rect x="93.45" y="418.45" width="1.5" height="1.5" fill="#e0197b"/>
<rect x="102.25" y="375.75" width="1.5" height="1.5" fill="#f07020"/>
<rect x="161.05" y="423.25" width="1.5" height="1.5" fill="#1f7a5c"/>
<rect x="227.25" y="419.75" width="1.5" height="1.5" fill="#f07020"/>
<rect x="233.55" y="418.45" width="1.5" height="1.5" fill="#f07020"/>
<rect x="223.95" y="422.25" width="1.5" height="1.5" fill="#e0197b"/>
<rect x="275.75" y="404.95" width="1.5" height="1.5" fill="#8a1535"/>
<rect x="240.85" y="416.25" width="1.5" height="1.5" fill="#d98cc6"/>
<rect x="293.7" y="385.6" width="4.400000000000034" height="25.099999999999966" fill="url(#leg)"/>
<path d="M299.00 385.75h1.3v0.9h-1.3zM299.00 388.14h1.0v0.9h-1.0zM299.00 390.53h1.3v0.9h-1.3zM299.00 392.92h2.6v0.9h-2.6zM299.00 395.31h3.0v0.9h-3.0zM299.00 397.70h3.0v0.9h-3.0zM299.00 400.09h3.0v0.9h-3.0zM299.00 402.48h3.0v0.9h-3.0zM299.00 404.87h3.0v0.9h-3.0zM299.00 407.26h3.0v0.9h-3.0zM299.00 409.65h4.4v0.9h-4.4z" fill="#999"/>
<rect x="293.90" y="384.50" width="4.00" height="1" fill="#e0c8c8"/>
<text x="10.00" y="471.50" font-size="6.8" fill="#333" text-anchor="middle" font-weight="bold" dominant-baseline="central">F</text>
<text x="11.1" y="501.8" font-size="5.8" fill="#333" font-weight="bold" text-anchor="middle" dominant-baseline="central" textLength="16.4" lengthAdjust="spacingAndGlyphs" transform="rotate(-90 11.1 501.8)">-log<tspan font-size="3.2" dy="1">10</tspan><tspan dy="-1">(</tspan><tspan font-style="italic">p</tspan>)</text>
<line x1="28.5" y1="472" x2="28.5" y2="533.6" stroke="#bbb" stroke-width="0.6"/>
<line x1="26.9" y1="477" x2="28.5" y2="477" stroke="#999" stroke-width="0.5"/>
<text x="22.70" y="477.70" font-size="2.8" fill="#222" text-anchor="middle" font-weight="bold" dominant-baseline="central">30</text>
<line x1="26.9" y1="486" x2="28.5" y2="486" stroke="#999" stroke-width="0.5"/>
<text x="22.70" y="486.70" font-size="2.8" fill="#222" text-anchor="middle" font-weight="bold" dominant-baseline="central">25</text>
<line x1="26.9" y1="494.5" x2="28.5" y2="494.5" stroke="#999" stroke-width="0.5"/>
<text x="22.70" y="495.20" font-size="2.8" fill="#222" text-anchor="middle" font-weight="bold" dominant-baseline="central">20</text>
<line x1="26.9" y1="503" x2="28.5" y2="503" stroke="#999" stroke-width="0.5"/>
<text x="22.70" y="503.70" font-size="2.8" fill="#222" text-anchor="middle" font-weight="bold" dominant-baseline="central">15</text>
<line x1="26.9" y1="512" x2="28.5" y2="512" stroke="#999" stroke-width="0.5"/>
<text x="22.70" y="512.70" font-size="2.8" fill="#222" text-anchor="middle" font-weight="bold" dominant-baseline="central">10</text>
<line x1="26.9" y1="520.5" x2="28.5" y2="520.5" stroke="#999" stroke-width="0.5"/>
<text x="22.70" y="521.20" font-size="2.8" fill="#222" text-anchor="middle" font-weight="bold" dominant-baseline="central">5</text>
<line x1="26.9" y1="529.5" x2="28.5" y2="529.5" stroke="#999" stroke-width="0.5"/>
<text x="22.70" y="530.20" font-size="2.8" fill="#222" text-anchor="middle" font-weight="bold" dominant-baseline="central">0</text>
<line x1="28.5" y1="519.8" x2="293.8" y2="519.8" stroke="#e4dcdc" stroke-width="0.8" stroke-dasharray="1.2 0.6"/>
<path d="M30.0 530.3V527.0H31.0V526.4H32.0V527.0H33.0V527.0H34.0V527.3H35.0V526.5H36.0V526.7H37.0V526.8H38.0V526.7H39.0V527.3H40.0V527.0H41.0V527.2H42.0V526.7H43.0V526.5H43.9V530.3ZM30.6 527.0h1.5v1.5h-1.5zM33.5 525.9h1.5v1.5h-1.5zM41.0 525.2h1.5v1.5h-1.5zM32.8 526.1h1.5v1.5h-1.5zM38.3 526.4h1.5v1.5h-1.5zM35.6 527.2h1.5v1.5h-1.5zM35.8 527.0h1.5v1.5h-1.5zM31.2 525.8h1.5v1.5h-1.5zM32.8 527.1h1.5v1.5h-1.5zM31.4 526.4h1.5v1.5h-1.5zM36.1 526.5h1.5v1.5h-1.5zM35.0 526.6h1.5v1.5h-1.5zM38.3 527.3h1.5v1.5h-1.5zM30.0 525.1h1.5v1.5h-1.5zM31.0 526.6h1.5v1.5h-1.5zM34.4 527.2h1.5v1.5h-1.5zM42.1 526.2h1.5v1.5h-1.5zM37.9 525.9h1.5v1.5h-1.5zM35.7 527.0h1.5v1.5h-1.5zM41.0 527.0h1.5v1.5h-1.5zM32.0 526.3h1.5v1.5h-1.5zM41.1 525.9h1.5v1.5h-1.5zM39.5 527.0h1.5v1.5h-1.5zM34.7 525.4h1.5v1.5h-1.5zM37.6 527.0h1.5v1.5h-1.5zM32.6 527.3h1.5v1.5h-1.5zM38.2 526.8h1.5v1.5h-1.5zM38.3 525.2h1.5v1.5h-1.5zM33.9 527.1h1.5v1.5h-1.5zM33.2 526.9h1.5v1.5h-1.5zM30.2 526.2h1.5v1.5h-1.5zM36.5 527.2h1.5v1.5h-1.5zM31.1 526.8h1.5v1.5h-1.5zM39.9 526.9h1.5v1.5h-1.5zM30.8 525.1h1.5v1.5h-1.5zM31.0 527.1h1.5v1.5h-1.5zM31.7 527.0h1.5v1.5h-1.5zM37.9 527.3h1.5v1.5h-1.5zM38.7 525.6h1.5v1.5h-1.5zM32.1 526.5h1.5v1.5h-1.5zM37.3 527.2h1.5v1.5h-1.5zM30.1 524.6h1.1v1.1h-1.1zM38.3 524.6h1.1v1.1h-1.1zM36.0 524.9h1.1v1.1h-1.1zM34.0 525.0h1.1v1.1h-1.1zM39.8 524.9h1.1v1.1h-1.1zM31.5 525.4h1.1v1.1h-1.1z" fill="#3d9ad9"/>
<path d="M31.4 527.7h0.9v0.9h-0.9zM37.6 527.0h1.4v1.4h-1.4z" fill="#fff" fill-opacity="0.8"/>
<rect x="30.50" y="530.6" width="12.89" height="3.20" fill="#cce838"/>
<path d="M31.3 531.2h1.5v2.0h-1.5zM37.0 531.2h2.2v2.0h-2.2z" fill="#a8d43a"/>
<path d="M33.1 531.2h1.7v2.0h-1.7z" fill="#66aa30"/>
<path d="M34.7 531.2h2.3v2.0h-2.3zM39.2 531.2h2.1v2.0h-2.1zM41.3 531.2h1.1v2.0h-1.1z" fill="#4a9226"/>
<line x1="36.94" y1="535.2" x2="36.94" y2="536.2" stroke="#888" stroke-width="0.4"/>
<path d="M44.5 530.3V527.3H45.5V527.0H46.5V527.0H47.5V527.2H48.5V526.5H49.5V527.3H50.5V526.7H51.5V526.7H52.5V527.2H53.5V526.8H54.5V527.2H55.5V527.3H56.5V526.4H57.0V530.3ZM45.5 525.6h1.5v1.5h-1.5zM48.6 526.6h1.5v1.5h-1.5zM53.7 525.1h1.5v1.5h-1.5zM54.7 526.4h1.5v1.5h-1.5zM53.2 526.5h1.5v1.5h-1.5zM55.1 525.7h1.5v1.5h-1.5zM51.5 527.3h1.5v1.5h-1.5zM52.4 525.2h1.5v1.5h-1.5zM54.3 526.8h1.5v1.5h-1.5zM50.6 526.5h1.5v1.5h-1.5zM54.2 525.6h1.5v1.5h-1.5zM45.5 526.9h1.5v1.5h-1.5zM53.8 527.2h1.5v1.5h-1.5zM51.1 527.1h1.5v1.5h-1.5zM50.9 526.6h1.5v1.5h-1.5zM52.0 525.1h1.5v1.5h-1.5zM50.1 526.9h1.5v1.5h-1.5zM47.4 527.0h1.5v1.5h-1.5zM55.1 525.6h1.5v1.5h-1.5zM54.2 527.3h1.5v1.5h-1.5zM44.9 525.8h1.5v1.5h-1.5zM46.4 526.8h1.5v1.5h-1.5zM46.1 527.1h1.5v1.5h-1.5zM46.6 526.6h1.5v1.5h-1.5zM46.5 527.3h1.5v1.5h-1.5zM51.2 526.2h1.5v1.5h-1.5zM46.8 526.7h1.5v1.5h-1.5zM46.8 525.9h1.5v1.5h-1.5zM53.4 526.6h1.5v1.5h-1.5zM53.8 527.2h1.5v1.5h-1.5zM45.6 527.2h1.5v1.5h-1.5zM48.2 526.1h1.5v1.5h-1.5zM45.3 527.3h1.5v1.5h-1.5zM53.8 526.0h1.5v1.5h-1.5zM48.1 527.2h1.5v1.5h-1.5zM53.3 525.7h1.5v1.5h-1.5zM48.9 527.3h1.5v1.5h-1.5zM53.2 525.1h1.1v1.1h-1.1zM44.9 525.0h1.1v1.1h-1.1zM50.3 524.1h1.1v1.1h-1.1zM53.4 523.8h1.1v1.1h-1.1zM49.9 525.1h1.1v1.1h-1.1zM48.2 525.0h1.1v1.1h-1.1z" fill="#f7b522"/>
<path d="M54.1 527.2h1.2v1.2h-1.2z" fill="#fff" fill-opacity="0.8"/>
<rect x="44.99" y="530.6" width="11.47" height="3.20" fill="#cce838"/>
<path d="M45.8 531.2h1.2v2.0h-1.2z" fill="#66aa30"/>
<path d="M47.0 531.2h2.5v2.0h-2.5zM49.8 531.2h2.0v2.0h-2.0zM51.8 531.2h2.2v2.0h-2.2z" fill="#4a9226"/>
<path d="M54.3 531.2h1.4v2.0h-1.4z" fill="#a8d43a"/>
<line x1="50.73" y1="535.2" x2="50.73" y2="536.2" stroke="#888" stroke-width="0.4"/>
<text x="50.73" y="539.20" font-size="2.8" fill="#222" text-anchor="middle" font-weight="bold" dominant-baseline="central" textLength="9" lengthAdjust="spacingAndGlyphs">Gm02</text>
<path d="M58.7 530.3V527.1H59.7V526.3H60.7V526.9H61.7V527.0H62.7V527.2H63.7V527.1H64.7V526.8H65.7V527.2H66.7V526.4H67.7V526.7H68.7V526.5H69.7V526.9H70.8V530.3ZM67.5 526.7h1.5v1.5h-1.5zM64.7 526.6h1.5v1.5h-1.5zM63.3 525.9h1.5v1.5h-1.5zM65.7 525.9h1.5v1.5h-1.5zM67.8 527.0h1.5v1.5h-1.5zM65.1 525.2h1.5v1.5h-1.5zM69.1 526.0h1.5v1.5h-1.5zM62.1 527.0h1.5v1.5h-1.5zM68.4 527.0h1.5v1.5h-1.5zM69.2 526.3h1.5v1.5h-1.5zM66.5 527.3h1.5v1.5h-1.5zM66.0 526.5h1.5v1.5h-1.5zM60.4 526.7h1.5v1.5h-1.5zM67.8 526.6h1.5v1.5h-1.5zM67.8 525.7h1.5v1.5h-1.5zM64.0 527.2h1.5v1.5h-1.5zM65.9 526.3h1.5v1.5h-1.5zM64.6 525.4h1.5v1.5h-1.5zM59.7 526.7h1.5v1.5h-1.5zM65.1 527.0h1.5v1.5h-1.5zM60.2 525.6h1.5v1.5h-1.5zM61.3 525.8h1.5v1.5h-1.5zM68.0 525.7h1.5v1.5h-1.5zM65.0 527.2h1.5v1.5h-1.5zM68.2 525.2h1.5v1.5h-1.5zM65.0 527.2h1.5v1.5h-1.5zM62.0 527.1h1.5v1.5h-1.5zM66.2 527.3h1.5v1.5h-1.5zM67.1 526.9h1.5v1.5h-1.5zM66.7 527.2h1.5v1.5h-1.5zM67.9 526.2h1.5v1.5h-1.5zM61.4 526.4h1.5v1.5h-1.5zM61.8 525.9h1.5v1.5h-1.5zM63.1 525.9h1.5v1.5h-1.5zM69.3 527.3h1.5v1.5h-1.5zM68.2 527.0h1.5v1.5h-1.5zM62.6 524.2h1.1v1.1h-1.1zM64.4 525.2h1.1v1.1h-1.1zM59.0 524.4h1.1v1.1h-1.1zM60.6 524.5h1.1v1.1h-1.1zM64.4 525.1h1.1v1.1h-1.1zM69.6 524.1h1.1v1.1h-1.1z" fill="#4a3a9e"/>
<path d="M64.8 527.7h1.3v1.3h-1.3z" fill="#fff" fill-opacity="0.8"/>
<rect x="59.18" y="530.6" width="11.16" height="3.20" fill="#cce838"/>
<path d="M60.0 531.2h2.6v2.0h-2.6zM64.3 531.2h2.0v2.0h-2.0zM68.6 531.2h0.9v2.0h-0.9z" fill="#4a9226"/>
<path d="M62.6 531.2h1.4v2.0h-1.4z" fill="#66aa30"/>
<path d="M66.3 531.2h2.4v2.0h-2.4z" fill="#a8d43a"/>
<line x1="64.76" y1="535.2" x2="64.76" y2="536.2" stroke="#888" stroke-width="0.4"/>
<path d="M71.8 530.3V526.5H72.8V526.9H73.8V526.5H74.8V526.8H75.8V526.8H76.8V526.8H77.8V526.9H78.8V526.4H79.8V526.9H80.8V526.5H81.8V526.8H82.8V526.3H83.8V526.6H84.9V530.3ZM82.8 525.4h1.5v1.5h-1.5zM79.5 526.9h1.5v1.5h-1.5zM81.3 525.6h1.5v1.5h-1.5zM76.3 527.1h1.5v1.5h-1.5zM78.3 527.0h1.5v1.5h-1.5zM76.6 526.9h1.5v1.5h-1.5zM81.6 527.0h1.5v1.5h-1.5zM75.8 527.3h1.5v1.5h-1.5zM75.2 526.7h1.5v1.5h-1.5zM81.5 525.1h1.5v1.5h-1.5zM74.5 526.5h1.5v1.5h-1.5zM76.6 526.0h1.5v1.5h-1.5zM74.9 527.1h1.5v1.5h-1.5zM74.9 526.8h1.5v1.5h-1.5zM75.8 526.0h1.5v1.5h-1.5zM81.5 525.8h1.5v1.5h-1.5zM76.2 527.2h1.5v1.5h-1.5zM75.2 527.2h1.5v1.5h-1.5zM73.3 527.1h1.5v1.5h-1.5zM75.6 525.4h1.5v1.5h-1.5zM81.1 527.0h1.5v1.5h-1.5zM78.7 525.8h1.5v1.5h-1.5zM74.5 526.6h1.5v1.5h-1.5zM75.2 527.2h1.5v1.5h-1.5zM75.7 525.8h1.5v1.5h-1.5zM74.7 525.3h1.5v1.5h-1.5zM82.8 526.8h1.5v1.5h-1.5zM80.7 527.3h1.5v1.5h-1.5zM74.4 525.7h1.5v1.5h-1.5zM78.7 527.2h1.5v1.5h-1.5zM79.7 526.2h1.5v1.5h-1.5zM74.4 525.4h1.5v1.5h-1.5zM83.0 526.4h1.5v1.5h-1.5zM80.2 526.9h1.5v1.5h-1.5zM80.2 525.7h1.5v1.5h-1.5zM76.2 525.4h1.5v1.5h-1.5zM79.8 526.6h1.5v1.5h-1.5zM78.8 527.3h1.5v1.5h-1.5zM78.7 525.2h1.5v1.5h-1.5zM74.8 525.1h1.1v1.1h-1.1zM73.0 524.1h1.1v1.1h-1.1zM78.9 524.5h1.1v1.1h-1.1zM82.8 525.1h1.1v1.1h-1.1zM77.3 524.2h1.1v1.1h-1.1zM82.9 523.9h1.1v1.1h-1.1z" fill="#4d5824"/>
<path d="M82.2 527.5h0.9v0.9h-0.9zM73.9 527.3h0.8v0.8h-0.8z" fill="#fff" fill-opacity="0.8"/>
<rect x="72.26" y="530.6" width="12.18" height="3.20" fill="#cce838"/>
<path d="M73.1 531.2h2.5v2.0h-2.5zM75.6 531.2h1.3v2.0h-1.3z" fill="#4a9226"/>
<path d="M76.9 531.2h1.1v2.0h-1.1zM78.0 531.2h2.5v2.0h-2.5zM80.4 531.2h1.2v2.0h-1.2zM81.7 531.2h1.3v2.0h-1.3zM82.9 531.2h0.7v2.0h-0.7z" fill="#66aa30"/>
<line x1="78.34" y1="535.2" x2="78.34" y2="536.2" stroke="#888" stroke-width="0.4"/>
<text x="78.34" y="539.20" font-size="2.8" fill="#222" text-anchor="middle" font-weight="bold" dominant-baseline="central" textLength="9" lengthAdjust="spacingAndGlyphs">Gm04</text>
<path d="M85.9 530.3V526.4H86.9V526.9H87.9V526.7H88.9V526.5H89.9V526.4H90.9V527.3H91.9V526.8H92.9V527.2H93.9V526.8H94.9V526.4H95.9V526.8H96.4V530.3ZM93.7 526.5h1.5v1.5h-1.5zM92.7 525.8h1.5v1.5h-1.5zM91.9 527.3h1.5v1.5h-1.5zM91.7 525.5h1.5v1.5h-1.5zM89.1 526.6h1.5v1.5h-1.5zM89.2 525.5h1.5v1.5h-1.5zM89.2 527.1h1.5v1.5h-1.5zM91.8 526.1h1.5v1.5h-1.5zM94.7 527.3h1.5v1.5h-1.5zM93.2 526.7h1.5v1.5h-1.5zM88.4 527.3h1.5v1.5h-1.5zM94.0 526.8h1.5v1.5h-1.5zM88.0 526.9h1.5v1.5h-1.5zM93.7 527.0h1.5v1.5h-1.5zM87.5 527.2h1.5v1.5h-1.5zM92.3 525.1h1.5v1.5h-1.5zM87.3 527.3h1.5v1.5h-1.5zM87.9 526.3h1.5v1.5h-1.5zM89.9 525.3h1.5v1.5h-1.5zM94.6 525.7h1.5v1.5h-1.5zM86.8 526.5h1.5v1.5h-1.5zM87.5 525.7h1.5v1.5h-1.5zM92.5 525.2h1.5v1.5h-1.5zM92.9 526.7h1.5v1.5h-1.5zM93.4 525.7h1.5v1.5h-1.5zM90.1 526.3h1.5v1.5h-1.5zM86.8 526.8h1.5v1.5h-1.5zM93.4 526.5h1.5v1.5h-1.5zM94.8 525.9h1.5v1.5h-1.5zM93.2 527.3h1.5v1.5h-1.5zM90.0 527.0h1.5v1.5h-1.5zM90.8 523.9h1.1v1.1h-1.1zM88.1 523.9h1.1v1.1h-1.1zM90.4 524.0h1.1v1.1h-1.1zM90.4 523.8h1.1v1.1h-1.1zM87.0 524.3h1.1v1.1h-1.1z" fill="#e0197b"/>
<path d="M93.7 528.6h1.4v1.4h-1.4z" fill="#fff" fill-opacity="0.8"/>
<rect x="86.45" y="530.6" width="9.44" height="3.20" fill="#cce838"/>
<path d="M87.2 531.2h2.4v2.0h-2.4zM89.7 531.2h1.2v2.0h-1.2z" fill="#4a9226"/>
<path d="M90.8 531.2h2.3v2.0h-2.3zM93.5 531.2h1.5v2.0h-1.5z" fill="#a8d43a"/>
<line x1="91.17" y1="535.2" x2="91.17" y2="536.2" stroke="#888" stroke-width="0.4"/>
<path d="M97.4 530.3V526.7H98.4V526.8H99.4V526.8H100.4V526.5H101.4V527.2H102.4V526.9H103.4V527.3H104.4V526.4H105.4V527.1H106.4V526.6H107.4V526.5H108.4V526.8H109.4V527.2H110.1V530.3ZM105.4 525.2h1.5v1.5h-1.5zM102.9 527.3h1.5v1.5h-1.5zM106.8 525.2h1.5v1.5h-1.5zM105.1 527.0h1.5v1.5h-1.5zM98.9 526.5h1.5v1.5h-1.5zM103.6 527.0h1.5v1.5h-1.5zM102.5 526.6h1.5v1.5h-1.5zM104.6 526.8h1.5v1.5h-1.5zM105.3 526.7h1.5v1.5h-1.5zM103.4 526.9h1.5v1.5h-1.5zM99.4 526.5h1.5v1.5h-1.5zM106.8 527.0h1.5v1.5h-1.5zM101.4 526.4h1.5v1.5h-1.5zM108.1 526.6h1.5v1.5h-1.5zM98.3 527.0h1.5v1.5h-1.5zM101.0 526.2h1.5v1.5h-1.5zM99.0 527.1h1.5v1.5h-1.5zM103.2 527.2h1.5v1.5h-1.5zM103.1 527.2h1.5v1.5h-1.5zM105.8 526.9h1.5v1.5h-1.5zM108.2 526.7h1.5v1.5h-1.5zM102.2 526.1h1.5v1.5h-1.5zM102.3 527.3h1.5v1.5h-1.5zM106.3 525.2h1.5v1.5h-1.5zM99.2 526.4h1.5v1.5h-1.5zM99.3 525.6h1.5v1.5h-1.5zM102.5 527.0h1.5v1.5h-1.5zM108.3 526.9h1.5v1.5h-1.5zM105.3 526.4h1.5v1.5h-1.5zM98.6 527.3h1.5v1.5h-1.5zM98.4 525.4h1.5v1.5h-1.5zM103.0 526.8h1.5v1.5h-1.5zM102.5 526.5h1.5v1.5h-1.5zM100.5 525.6h1.5v1.5h-1.5zM101.8 527.0h1.5v1.5h-1.5zM100.5 526.4h1.5v1.5h-1.5zM99.9 527.1h1.5v1.5h-1.5zM105.7 526.1h1.5v1.5h-1.5zM100.3 524.1h1.1v1.1h-1.1zM101.8 525.1h1.1v1.1h-1.1zM103.2 524.0h1.1v1.1h-1.1zM102.4 525.4h1.1v1.1h-1.1zM104.7 524.0h1.1v1.1h-1.1zM103.1 525.1h1.1v1.1h-1.1z" fill="#f07020"/>
<path d="M100.4 528.3h0.8v0.8h-0.8zM103.1 527.8h1.3v1.3h-1.3z" fill="#fff" fill-opacity="0.8"/>
<rect x="97.90" y="530.6" width="11.67" height="3.20" fill="#cce838"/>
<path d="M98.7 531.2h2.6v2.0h-2.6zM101.6 531.2h1.9v2.0h-1.9z" fill="#a8d43a"/>
<path d="M103.5 531.2h2.2v2.0h-2.2z" fill="#66aa30"/>
<path d="M106.0 531.2h1.3v2.0h-1.3zM107.7 531.2h1.1v2.0h-1.1z" fill="#4a9226"/>
<line x1="103.73" y1="535.2" x2="103.73" y2="536.2" stroke="#888" stroke-width="0.4"/>
<text x="103.73" y="539.20" font-size="2.8" fill="#222" text-anchor="middle" font-weight="bold" dominant-baseline="central" textLength="9" lengthAdjust="spacingAndGlyphs">Gm06</text>
<path d="M111.1 530.3V526.9H112.1V527.1H113.1V526.3H114.1V527.2H115.1V526.4H116.1V527.2H117.1V527.0H118.1V526.5H119.1V527.2H120.1V526.7H121.1V526.4H122.1V526.8H123.2V530.3ZM112.1 526.6h1.5v1.5h-1.5zM118.2 525.4h1.5v1.5h-1.5zM117.4 526.2h1.5v1.5h-1.5zM116.1 527.2h1.5v1.5h-1.5zM111.5 525.4h1.5v1.5h-1.5zM120.1 527.3h1.5v1.5h-1.5zM115.8 525.4h1.5v1.5h-1.5zM112.1 526.0h1.5v1.5h-1.5zM113.8 525.9h1.5v1.5h-1.5zM111.5 526.9h1.5v1.5h-1.5zM115.0 527.3h1.5v1.5h-1.5zM113.6 525.9h1.5v1.5h-1.5zM119.7 525.3h1.5v1.5h-1.5zM119.7 525.6h1.5v1.5h-1.5zM116.6 526.6h1.5v1.5h-1.5zM119.5 525.7h1.5v1.5h-1.5zM116.1 525.1h1.5v1.5h-1.5zM121.1 525.7h1.5v1.5h-1.5zM116.2 525.4h1.5v1.5h-1.5zM115.2 527.2h1.5v1.5h-1.5zM114.1 525.6h1.5v1.5h-1.5zM114.0 526.7h1.5v1.5h-1.5zM118.5 526.3h1.5v1.5h-1.5zM115.0 526.7h1.5v1.5h-1.5zM118.7 526.3h1.5v1.5h-1.5zM119.1 527.0h1.5v1.5h-1.5zM116.0 527.3h1.5v1.5h-1.5zM112.2 527.3h1.5v1.5h-1.5zM117.3 525.4h1.5v1.5h-1.5zM119.2 527.0h1.5v1.5h-1.5zM120.0 526.2h1.5v1.5h-1.5zM111.5 526.5h1.5v1.5h-1.5zM119.2 525.4h1.5v1.5h-1.5zM117.3 527.3h1.5v1.5h-1.5zM120.5 527.1h1.5v1.5h-1.5zM111.9 527.1h1.5v1.5h-1.5zM111.9 524.8h1.1v1.1h-1.1zM115.2 525.0h1.1v1.1h-1.1zM122.2 524.0h1.1v1.1h-1.1zM119.1 525.2h1.1v1.1h-1.1zM119.4 524.2h1.1v1.1h-1.1zM121.2 524.1h1.1v1.1h-1.1z" fill="#d98cc6"/>
<path d="M119.5 528.6h1.3v1.3h-1.3z" fill="#fff" fill-opacity="0.8"/>
<rect x="111.58" y="530.6" width="11.16" height="3.20" fill="#cce838"/>
<path d="M112.4 531.2h1.6v2.0h-1.6zM115.8 531.2h1.3v2.0h-1.3zM118.5 531.2h1.8v2.0h-1.8z" fill="#4a9226"/>
<path d="M114.2 531.2h1.3v2.0h-1.3zM117.4 531.2h1.1v2.0h-1.1zM120.5 531.2h1.4v2.0h-1.4z" fill="#a8d43a"/>
<line x1="117.16" y1="535.2" x2="117.16" y2="536.2" stroke="#888" stroke-width="0.4"/>
<path d="M124.3 530.3V526.8H125.3V527.1H126.3V526.5H127.3V527.0H128.3V527.1H129.3V527.1H130.3V526.8H131.3V526.4H132.3V527.1H133.3V526.5H134.3V526.8H135.3V526.7H136.4V530.3ZM128.4 525.2h1.5v1.5h-1.5zM129.8 526.1h1.5v1.5h-1.5zM133.9 525.2h1.5v1.5h-1.5zM130.0 526.9h1.5v1.5h-1.5zM129.3 526.7h1.5v1.5h-1.5zM130.4 525.7h1.5v1.5h-1.5zM132.2 526.3h1.5v1.5h-1.5zM126.8 526.4h1.5v1.5h-1.5zM125.2 525.8h1.5v1.5h-1.5zM128.6 526.8h1.5v1.5h-1.5zM134.5 526.3h1.5v1.5h-1.5zM133.0 525.9h1.5v1.5h-1.5zM127.6 527.3h1.5v1.5h-1.5zM134.3 527.2h1.5v1.5h-1.5zM126.8 525.8h1.5v1.5h-1.5zM129.3 526.1h1.5v1.5h-1.5zM130.1 526.7h1.5v1.5h-1.5zM131.6 525.7h1.5v1.5h-1.5zM133.1 525.2h1.5v1.5h-1.5zM130.4 525.9h1.5v1.5h-1.5zM131.1 527.0h1.5v1.5h-1.5zM132.5 525.1h1.5v1.5h-1.5zM127.8 526.8h1.5v1.5h-1.5zM133.2 525.9h1.5v1.5h-1.5zM130.1 526.8h1.5v1.5h-1.5zM124.5 525.1h1.5v1.5h-1.5zM125.9 527.2h1.5v1.5h-1.5zM126.8 526.8h1.5v1.5h-1.5zM127.8 527.3h1.5v1.5h-1.5zM128.4 526.3h1.5v1.5h-1.5zM131.3 527.3h1.5v1.5h-1.5zM132.3 525.6h1.5v1.5h-1.5zM133.9 527.2h1.5v1.5h-1.5zM129.3 527.3h1.5v1.5h-1.5zM130.0 527.3h1.5v1.5h-1.5zM126.0 527.2h1.5v1.5h-1.5zM128.4 524.8h1.1v1.1h-1.1zM124.5 524.5h1.1v1.1h-1.1zM129.1 523.8h1.1v1.1h-1.1zM132.5 524.9h1.1v1.1h-1.1zM127.8 523.9h1.1v1.1h-1.1zM133.8 523.8h1.1v1.1h-1.1z" fill="#80d4b4"/>
<path d="M130.1 528.6h1.6v1.6h-1.6z" fill="#fff" fill-opacity="0.8"/>
<rect x="124.76" y="530.6" width="11.16" height="3.20" fill="#cce838"/>
<path d="M125.6 531.2h2.4v2.0h-2.4zM127.9 531.2h2.1v2.0h-2.1z" fill="#66aa30"/>
<path d="M130.1 531.2h1.7v2.0h-1.7zM131.7 531.2h1.8v2.0h-1.8zM133.9 531.2h1.2v2.0h-1.2z" fill="#a8d43a"/>
<line x1="130.34" y1="535.2" x2="130.34" y2="536.2" stroke="#888" stroke-width="0.4"/>
<text x="130.34" y="539.20" font-size="2.8" fill="#222" text-anchor="middle" font-weight="bold" dominant-baseline="central" textLength="9" lengthAdjust="spacingAndGlyphs">Gm08</text>
<path d="M137.4 530.3V526.5H138.4V526.6H139.4V527.0H140.4V526.6H141.4V526.5H142.4V526.7H143.4V526.6H144.4V526.9H145.4V526.6H146.4V526.5H147.4V526.9H148.4V526.8H149.6V530.3ZM140.9 526.8h1.5v1.5h-1.5zM140.0 527.2h1.5v1.5h-1.5zM146.2 526.1h1.5v1.5h-1.5zM142.0 526.1h1.5v1.5h-1.5zM145.8 525.6h1.5v1.5h-1.5zM147.7 526.9h1.5v1.5h-1.5zM147.7 527.2h1.5v1.5h-1.5zM144.0 527.0h1.5v1.5h-1.5zM139.8 526.5h1.5v1.5h-1.5zM140.5 527.2h1.5v1.5h-1.5zM142.3 525.2h1.5v1.5h-1.5zM147.6 526.6h1.5v1.5h-1.5zM139.0 526.5h1.5v1.5h-1.5zM145.3 526.9h1.5v1.5h-1.5zM141.6 526.3h1.5v1.5h-1.5zM144.1 526.2h1.5v1.5h-1.5zM142.7 527.2h1.5v1.5h-1.5zM147.2 527.0h1.5v1.5h-1.5zM147.3 525.6h1.5v1.5h-1.5zM145.8 526.2h1.5v1.5h-1.5zM138.3 525.4h1.5v1.5h-1.5zM144.1 527.3h1.5v1.5h-1.5zM146.0 526.1h1.5v1.5h-1.5zM141.4 526.2h1.5v1.5h-1.5zM140.0 525.8h1.5v1.5h-1.5zM147.3 527.3h1.5v1.5h-1.5zM141.9 526.2h1.5v1.5h-1.5zM142.0 525.6h1.5v1.5h-1.5zM138.7 526.2h1.5v1.5h-1.5zM143.9 527.1h1.5v1.5h-1.5zM139.4 527.0h1.5v1.5h-1.5zM142.8 525.6h1.5v1.5h-1.5zM143.2 527.2h1.5v1.5h-1.5zM141.0 527.3h1.5v1.5h-1.5zM147.2 525.9h1.5v1.5h-1.5zM139.5 527.3h1.5v1.5h-1.5zM143.6 525.2h1.1v1.1h-1.1zM140.6 524.2h1.1v1.1h-1.1zM147.9 525.4h1.1v1.1h-1.1zM137.5 525.3h1.1v1.1h-1.1zM142.5 525.4h1.1v1.1h-1.1zM146.8 525.0h1.1v1.1h-1.1z" fill="#8a1535"/>
<path d="M142.5 528.3h1.1v1.1h-1.1z" fill="#fff" fill-opacity="0.8"/>
<rect x="137.93" y="530.6" width="11.16" height="3.20" fill="#cce838"/>
<path d="M138.7 531.2h1.8v2.0h-1.8zM141.6 531.2h2.5v2.0h-2.5zM144.4 531.2h1.8v2.0h-1.8zM146.2 531.2h1.2v2.0h-1.2z" fill="#4a9226"/>
<path d="M140.5 531.2h1.1v2.0h-1.1zM147.8 531.2h0.5v2.0h-0.5z" fill="#66aa30"/>
<line x1="143.51" y1="535.2" x2="143.51" y2="536.2" stroke="#888" stroke-width="0.4"/>
<path d="M150.6 530.3V526.6H151.6V527.1H152.6V527.0H153.6V526.5H154.6V527.0H155.6V526.5H156.6V526.6H157.6V526.7H158.6V526.7H159.6V526.6H160.6V526.7H161.6V526.7H162.8V530.3ZM156.7 526.7h1.5v1.5h-1.5zM154.3 525.1h1.5v1.5h-1.5zM157.5 527.0h1.5v1.5h-1.5zM155.6 527.3h1.5v1.5h-1.5zM154.2 527.2h1.5v1.5h-1.5zM159.8 525.7h1.5v1.5h-1.5zM156.7 526.7h1.5v1.5h-1.5zM153.7 527.2h1.5v1.5h-1.5zM159.2 525.2h1.5v1.5h-1.5zM159.7 526.3h1.5v1.5h-1.5zM160.1 527.0h1.5v1.5h-1.5zM160.5 525.2h1.5v1.5h-1.5zM157.5 526.9h1.5v1.5h-1.5zM155.0 525.1h1.5v1.5h-1.5zM155.0 527.2h1.5v1.5h-1.5zM154.4 526.8h1.5v1.5h-1.5zM157.2 527.2h1.5v1.5h-1.5zM153.7 525.6h1.5v1.5h-1.5zM155.0 527.0h1.5v1.5h-1.5zM151.1 527.3h1.5v1.5h-1.5zM155.7 526.4h1.5v1.5h-1.5zM150.6 527.1h1.5v1.5h-1.5zM153.8 527.3h1.5v1.5h-1.5zM150.7 525.8h1.5v1.5h-1.5zM157.5 527.2h1.5v1.5h-1.5zM161.1 525.9h1.5v1.5h-1.5zM153.5 527.1h1.5v1.5h-1.5zM155.8 526.0h1.5v1.5h-1.5zM151.2 526.0h1.5v1.5h-1.5zM152.3 527.2h1.5v1.5h-1.5zM159.6 526.6h1.5v1.5h-1.5zM153.9 527.3h1.5v1.5h-1.5zM157.6 527.3h1.5v1.5h-1.5zM152.6 527.2h1.5v1.5h-1.5zM152.8 526.3h1.5v1.5h-1.5zM158.4 526.1h1.5v1.5h-1.5zM155.0 524.8h1.1v1.1h-1.1zM159.3 525.1h1.1v1.1h-1.1zM159.1 525.1h1.1v1.1h-1.1zM160.0 524.4h1.1v1.1h-1.1zM161.2 525.3h1.1v1.1h-1.1zM152.9 525.0h1.1v1.1h-1.1z" fill="#1f7a5c"/>
<path d="M153.4 528.7h1.1v1.1h-1.1z" fill="#fff" fill-opacity="0.8"/>
<rect x="151.11" y="530.6" width="11.16" height="3.20" fill="#cce838"/>
<path d="M151.9 531.2h1.2v2.0h-1.2zM153.1 531.2h2.6v2.0h-2.6zM155.7 531.2h1.9v2.0h-1.9z" fill="#4a9226"/>
<path d="M157.9 531.2h2.4v2.0h-2.4zM160.5 531.2h1.0v2.0h-1.0z" fill="#a8d43a"/>
<line x1="156.69" y1="535.2" x2="156.69" y2="536.2" stroke="#888" stroke-width="0.4"/>
<text x="156.69" y="539.20" font-size="2.8" fill="#222" text-anchor="middle" font-weight="bold" dominant-baseline="central" textLength="9" lengthAdjust="spacingAndGlyphs">Gm10</text>
<path d="M164.3 530.3V527.2H165.3V526.6H166.3V526.4H167.3V526.7H168.3V526.6H169.3V527.3H170.3V526.9H171.3V527.1H172.3V527.2H173.3V526.5H174.3V527.1H174.9V530.3ZM169.0 526.5h1.5v1.5h-1.5zM165.9 527.3h1.5v1.5h-1.5zM166.8 526.9h1.5v1.5h-1.5zM164.4 527.3h1.5v1.5h-1.5zM171.0 525.1h1.5v1.5h-1.5zM169.0 527.1h1.5v1.5h-1.5zM172.0 526.8h1.5v1.5h-1.5zM169.2 526.3h1.5v1.5h-1.5zM169.8 526.9h1.5v1.5h-1.5zM171.7 527.0h1.5v1.5h-1.5zM166.4 526.3h1.5v1.5h-1.5zM172.9 525.6h1.5v1.5h-1.5zM166.9 526.8h1.5v1.5h-1.5zM166.9 525.6h1.5v1.5h-1.5zM165.2 527.2h1.5v1.5h-1.5zM169.2 525.4h1.5v1.5h-1.5zM172.4 527.3h1.5v1.5h-1.5zM173.2 526.8h1.5v1.5h-1.5zM172.2 527.2h1.5v1.5h-1.5zM171.2 525.4h1.5v1.5h-1.5zM165.8 526.3h1.5v1.5h-1.5zM171.0 527.1h1.5v1.5h-1.5zM169.9 526.7h1.5v1.5h-1.5zM167.6 525.6h1.5v1.5h-1.5zM168.9 527.3h1.5v1.5h-1.5zM172.0 527.3h1.5v1.5h-1.5zM172.2 527.0h1.5v1.5h-1.5zM164.4 526.4h1.5v1.5h-1.5zM165.9 527.3h1.5v1.5h-1.5zM173.2 526.6h1.5v1.5h-1.5zM166.0 525.6h1.5v1.5h-1.5zM172.9 525.4h1.1v1.1h-1.1zM168.1 525.0h1.1v1.1h-1.1zM164.4 524.5h1.1v1.1h-1.1zM166.3 523.9h1.1v1.1h-1.1zM168.0 525.3h1.1v1.1h-1.1z" fill="#3d9ad9"/>
<path d="M173.0 528.3h1.2v1.2h-1.2z" fill="#fff" fill-opacity="0.8"/>
<rect x="164.79" y="530.6" width="9.64" height="3.20" fill="#cce838"/>
<path d="M165.6 531.2h1.9v2.0h-1.9zM167.5 531.2h1.6v2.0h-1.6zM171.1 531.2h1.7v2.0h-1.7zM172.9 531.2h0.8v2.0h-0.8z" fill="#4a9226"/>
<path d="M169.1 531.2h1.7v2.0h-1.7z" fill="#a8d43a"/>
<line x1="169.61" y1="535.2" x2="169.61" y2="536.2" stroke="#888" stroke-width="0.4"/>
<path d="M175.7 530.3V527.2H176.7V526.5H177.7V526.4H178.7V527.2H179.7V527.1H180.7V527.3H181.7V526.8H182.7V526.9H183.7V526.8H184.7V526.9H185.7V526.4H186.7V530.3ZM182.5 526.4h1.5v1.5h-1.5zM182.9 526.4h1.5v1.5h-1.5zM178.6 527.3h1.5v1.5h-1.5zM184.1 526.1h1.5v1.5h-1.5zM179.2 525.1h1.5v1.5h-1.5zM179.4 527.1h1.5v1.5h-1.5zM184.0 526.7h1.5v1.5h-1.5zM181.5 525.6h1.5v1.5h-1.5zM178.0 526.8h1.5v1.5h-1.5zM179.7 527.2h1.5v1.5h-1.5zM182.3 527.3h1.5v1.5h-1.5zM180.2 525.5h1.5v1.5h-1.5zM181.2 525.2h1.5v1.5h-1.5zM179.0 527.0h1.5v1.5h-1.5zM179.7 525.9h1.5v1.5h-1.5zM185.1 526.7h1.5v1.5h-1.5zM182.5 527.3h1.5v1.5h-1.5zM182.3 527.3h1.5v1.5h-1.5zM180.3 527.2h1.5v1.5h-1.5zM180.1 526.4h1.5v1.5h-1.5zM178.3 526.7h1.5v1.5h-1.5zM181.1 527.0h1.5v1.5h-1.5zM183.8 526.1h1.5v1.5h-1.5zM178.4 525.3h1.5v1.5h-1.5zM183.3 525.7h1.5v1.5h-1.5zM180.7 527.2h1.5v1.5h-1.5zM182.0 526.8h1.5v1.5h-1.5zM180.4 526.8h1.5v1.5h-1.5zM183.5 525.8h1.5v1.5h-1.5zM184.1 525.5h1.5v1.5h-1.5zM181.6 526.3h1.5v1.5h-1.5zM184.5 525.2h1.5v1.5h-1.5zM180.4 524.7h1.1v1.1h-1.1zM184.2 524.5h1.1v1.1h-1.1zM181.4 525.3h1.1v1.1h-1.1zM179.2 524.9h1.1v1.1h-1.1zM175.8 523.9h1.1v1.1h-1.1z" fill="#f7b522"/>
<path d="M183.3 528.4h1.3v1.3h-1.3z" fill="#fff" fill-opacity="0.8"/>
<rect x="176.24" y="530.6" width="9.95" height="3.20" fill="#cce838"/>
<path d="M177.0 531.2h2.1v2.0h-2.1z" fill="#66aa30"/>
<path d="M179.4 531.2h1.8v2.0h-1.8zM184.9 531.2h0.5v2.0h-0.5z" fill="#4a9226"/>
<path d="M181.2 531.2h1.3v2.0h-1.3zM182.8 531.2h1.9v2.0h-1.9z" fill="#a8d43a"/>
<line x1="181.22" y1="535.2" x2="181.22" y2="536.2" stroke="#888" stroke-width="0.4"/>
<text x="181.22" y="539.20" font-size="2.8" fill="#222" text-anchor="middle" font-weight="bold" dominant-baseline="central" textLength="9" lengthAdjust="spacingAndGlyphs">Gm12</text>
<path d="M187.5 530.3V527.1H188.5V527.1H189.5V527.1H190.5V526.9H191.5V526.7H192.5V526.8H193.5V527.3H194.5V527.0H195.5V526.7H196.5V526.4H197.5V526.5H198.5V527.2H198.9V530.3ZM194.4 526.1h1.5v1.5h-1.5zM190.8 526.1h1.5v1.5h-1.5zM192.8 526.4h1.5v1.5h-1.5zM194.2 525.2h1.5v1.5h-1.5zM188.1 526.1h1.5v1.5h-1.5zM193.1 525.0h1.5v1.5h-1.5zM197.0 527.3h1.5v1.5h-1.5zM194.4 527.2h1.5v1.5h-1.5zM193.9 526.0h1.5v1.5h-1.5zM189.4 527.0h1.5v1.5h-1.5zM190.1 526.8h1.5v1.5h-1.5zM193.8 527.2h1.5v1.5h-1.5zM190.7 525.4h1.5v1.5h-1.5zM189.4 527.1h1.5v1.5h-1.5zM195.0 526.5h1.5v1.5h-1.5zM188.3 526.8h1.5v1.5h-1.5zM188.1 525.4h1.5v1.5h-1.5zM196.5 527.2h1.5v1.5h-1.5zM191.8 526.1h1.5v1.5h-1.5zM188.5 526.3h1.5v1.5h-1.5zM187.7 526.9h1.5v1.5h-1.5zM190.1 526.3h1.5v1.5h-1.5zM195.9 527.3h1.5v1.5h-1.5zM188.2 527.1h1.5v1.5h-1.5zM193.6 527.2h1.5v1.5h-1.5zM192.8 527.2h1.5v1.5h-1.5zM197.1 526.8h1.5v1.5h-1.5zM188.6 526.3h1.5v1.5h-1.5zM193.2 527.2h1.5v1.5h-1.5zM194.3 527.3h1.5v1.5h-1.5zM196.4 525.6h1.5v1.5h-1.5zM196.7 526.7h1.5v1.5h-1.5zM196.7 526.9h1.5v1.5h-1.5zM194.9 526.9h1.5v1.5h-1.5zM188.5 525.1h1.1v1.1h-1.1zM192.5 525.0h1.1v1.1h-1.1zM193.6 524.5h1.1v1.1h-1.1zM195.7 524.6h1.1v1.1h-1.1zM192.9 523.9h1.1v1.1h-1.1z" fill="#4a3a9e"/>
<path d="M191.8 527.4h1.3v1.3h-1.3z" fill="#fff" fill-opacity="0.8"/>
<rect x="188.00" y="530.6" width="10.35" height="3.20" fill="#cce838"/>
<path d="M188.8 531.2h1.5v2.0h-1.5zM190.6 531.2h2.5v2.0h-2.5zM193.4 531.2h1.7v2.0h-1.7zM195.1 531.2h1.4v2.0h-1.4z" fill="#4a9226"/>
<path d="M196.7 531.2h0.8v2.0h-0.8z" fill="#66aa30"/>
<line x1="193.18" y1="535.2" x2="193.18" y2="536.2" stroke="#888" stroke-width="0.4"/>
<path d="M199.6 530.3V527.1H200.6V527.2H201.6V527.1H202.6V527.1H203.6V526.7H204.6V527.2H205.6V527.1H206.6V526.8H207.6V527.2H208.6V527.2H209.6V527.2H210.6V526.9H211.6V526.6H212.7V530.3ZM205.2 526.9h1.5v1.5h-1.5zM208.8 526.5h1.5v1.5h-1.5zM203.1 526.5h1.5v1.5h-1.5zM204.5 525.5h1.5v1.5h-1.5zM203.8 527.1h1.5v1.5h-1.5zM201.2 527.0h1.5v1.5h-1.5zM202.9 526.0h1.5v1.5h-1.5zM205.9 527.1h1.5v1.5h-1.5zM208.6 526.4h1.5v1.5h-1.5zM205.7 527.3h1.5v1.5h-1.5zM207.4 526.9h1.5v1.5h-1.5zM207.4 527.2h1.5v1.5h-1.5zM205.9 527.3h1.5v1.5h-1.5zM204.3 527.2h1.5v1.5h-1.5zM211.1 525.8h1.5v1.5h-1.5zM209.9 526.6h1.5v1.5h-1.5zM206.1 526.0h1.5v1.5h-1.5zM207.7 526.9h1.5v1.5h-1.5zM209.3 527.3h1.5v1.5h-1.5zM204.7 526.9h1.5v1.5h-1.5zM202.6 526.8h1.5v1.5h-1.5zM201.0 527.3h1.5v1.5h-1.5zM205.5 525.2h1.5v1.5h-1.5zM201.6 527.2h1.5v1.5h-1.5zM208.0 527.3h1.5v1.5h-1.5zM207.6 525.3h1.5v1.5h-1.5zM203.1 527.2h1.5v1.5h-1.5zM209.1 526.4h1.5v1.5h-1.5zM206.6 526.1h1.5v1.5h-1.5zM206.2 525.5h1.5v1.5h-1.5zM208.5 527.3h1.5v1.5h-1.5zM204.6 525.7h1.5v1.5h-1.5zM200.2 525.3h1.5v1.5h-1.5zM209.9 526.6h1.5v1.5h-1.5zM210.8 526.5h1.5v1.5h-1.5zM208.9 525.2h1.5v1.5h-1.5zM210.0 525.2h1.5v1.5h-1.5zM206.0 525.2h1.5v1.5h-1.5zM202.5 527.1h1.5v1.5h-1.5zM203.6 525.1h1.1v1.1h-1.1zM208.3 524.3h1.1v1.1h-1.1zM206.0 524.1h1.1v1.1h-1.1zM204.5 524.8h1.1v1.1h-1.1zM210.9 525.5h1.1v1.1h-1.1zM205.9 524.6h1.1v1.1h-1.1z" fill="#4d5824"/>
<path d="M208.0 527.9h1.3v1.3h-1.3zM203.3 527.9h1.5v1.5h-1.5z" fill="#fff" fill-opacity="0.8"/>
<rect x="200.06" y="530.6" width="12.18" height="3.20" fill="#cce838"/>
<path d="M200.9 531.2h2.3v2.0h-2.3zM203.5 531.2h1.3v2.0h-1.3zM207.5 531.2h1.7v2.0h-1.7z" fill="#66aa30"/>
<path d="M205.0 531.2h1.4v2.0h-1.4zM206.4 531.2h1.0v2.0h-1.0zM209.1 531.2h2.1v2.0h-2.1z" fill="#4a9226"/>
<path d="M211.3 531.2h0.2v2.0h-0.2z" fill="#a8d43a"/>
<line x1="206.15" y1="535.2" x2="206.15" y2="536.2" stroke="#888" stroke-width="0.4"/>
<text x="206.15" y="539.20" font-size="2.8" fill="#222" text-anchor="middle" font-weight="bold" dominant-baseline="central" textLength="9" lengthAdjust="spacingAndGlyphs">Gm14</text>
<path d="M213.4 530.3V526.9H214.4V527.2H215.4V526.9H216.4V526.9H217.4V526.8H218.4V526.9H219.4V526.4H220.4V527.0H221.4V526.6H222.4V526.7H223.4V527.0H224.4V526.5H225.4V526.8H225.8V530.3ZM213.6 527.3h1.5v1.5h-1.5zM213.9 527.3h1.5v1.5h-1.5zM218.9 526.7h1.5v1.5h-1.5zM219.2 526.7h1.5v1.5h-1.5zM220.5 526.5h1.5v1.5h-1.5zM221.3 525.6h1.5v1.5h-1.5zM213.9 526.1h1.5v1.5h-1.5zM220.0 526.1h1.5v1.5h-1.5zM214.1 525.8h1.5v1.5h-1.5zM221.7 526.8h1.5v1.5h-1.5zM218.1 527.3h1.5v1.5h-1.5zM221.6 526.5h1.5v1.5h-1.5zM220.7 527.2h1.5v1.5h-1.5zM224.0 525.5h1.5v1.5h-1.5zM219.6 525.2h1.5v1.5h-1.5zM218.7 526.4h1.5v1.5h-1.5zM222.9 526.4h1.5v1.5h-1.5zM221.6 527.2h1.5v1.5h-1.5zM215.5 527.0h1.5v1.5h-1.5zM213.8 527.0h1.5v1.5h-1.5zM224.1 526.3h1.5v1.5h-1.5zM223.5 525.6h1.5v1.5h-1.5zM216.6 526.8h1.5v1.5h-1.5zM220.9 527.0h1.5v1.5h-1.5zM214.5 525.9h1.5v1.5h-1.5zM215.3 525.8h1.5v1.5h-1.5zM218.9 527.1h1.5v1.5h-1.5zM224.1 525.4h1.5v1.5h-1.5zM220.7 526.1h1.5v1.5h-1.5zM221.6 525.3h1.5v1.5h-1.5zM219.1 527.2h1.5v1.5h-1.5zM216.8 526.7h1.5v1.5h-1.5zM219.8 526.3h1.5v1.5h-1.5zM213.8 527.3h1.5v1.5h-1.5zM223.9 527.2h1.5v1.5h-1.5zM219.0 527.3h1.5v1.5h-1.5zM222.7 525.5h1.5v1.5h-1.5zM223.0 525.2h1.1v1.1h-1.1zM218.7 524.8h1.1v1.1h-1.1zM219.8 525.5h1.1v1.1h-1.1zM221.1 524.1h1.1v1.1h-1.1zM220.7 524.0h1.1v1.1h-1.1zM217.8 524.3h1.1v1.1h-1.1z" fill="#e0197b"/>
<path d="M216.4 527.0h1.5v1.5h-1.5z" fill="#fff" fill-opacity="0.8"/>
<rect x="213.95" y="530.6" width="11.36" height="3.20" fill="#cce838"/>
<path d="M214.7 531.2h2.0v2.0h-2.0zM217.0 531.2h2.2v2.0h-2.2zM220.5 531.2h1.7v2.0h-1.7zM222.2 531.2h1.6v2.0h-1.6z" fill="#4a9226"/>
<path d="M219.2 531.2h1.3v2.0h-1.3zM223.8 531.2h0.7v2.0h-0.7z" fill="#66aa30"/>
<line x1="219.63" y1="535.2" x2="219.63" y2="536.2" stroke="#888" stroke-width="0.4"/>
<text x="219.63" y="539.20" font-size="2.8" fill="#222" text-anchor="middle" font-weight="bold" dominant-baseline="central" textLength="9" lengthAdjust="spacingAndGlyphs">Gm15</text>
<path d="M226.8 530.3V526.6H227.8V526.5H228.8V527.3H229.8V526.9H230.8V527.0H231.8V526.8H232.8V526.8H233.8V526.7H234.8V527.2H235.8V526.6H236.8V526.4H237.2V530.3ZM230.3 526.9h1.5v1.5h-1.5zM233.8 527.1h1.5v1.5h-1.5zM235.5 527.0h1.5v1.5h-1.5zM233.9 525.7h1.5v1.5h-1.5zM233.8 526.3h1.5v1.5h-1.5zM232.6 525.6h1.5v1.5h-1.5zM231.5 525.6h1.5v1.5h-1.5zM231.2 527.3h1.5v1.5h-1.5zM229.6 527.2h1.5v1.5h-1.5zM229.3 526.2h1.5v1.5h-1.5zM234.1 525.6h1.5v1.5h-1.5zM227.4 525.6h1.5v1.5h-1.5zM230.7 525.7h1.5v1.5h-1.5zM227.3 525.1h1.5v1.5h-1.5zM227.3 526.5h1.5v1.5h-1.5zM230.9 527.0h1.5v1.5h-1.5zM231.7 527.2h1.5v1.5h-1.5zM233.1 527.1h1.5v1.5h-1.5zM234.4 527.1h1.5v1.5h-1.5zM227.8 525.1h1.5v1.5h-1.5zM232.5 525.3h1.5v1.5h-1.5zM231.1 526.8h1.5v1.5h-1.5zM232.6 525.8h1.5v1.5h-1.5zM230.0 526.7h1.5v1.5h-1.5zM232.0 527.3h1.5v1.5h-1.5zM230.9 527.3h1.5v1.5h-1.5zM233.7 526.4h1.5v1.5h-1.5zM227.8 525.1h1.5v1.5h-1.5zM233.7 526.4h1.5v1.5h-1.5zM227.7 526.2h1.5v1.5h-1.5zM227.3 526.2h1.5v1.5h-1.5zM230.4 523.9h1.1v1.1h-1.1zM231.5 523.9h1.1v1.1h-1.1zM228.2 525.0h1.1v1.1h-1.1zM234.7 524.3h1.1v1.1h-1.1zM229.8 524.3h1.1v1.1h-1.1z" fill="#f07020"/>
<path d="M233.0 528.6h0.9v0.9h-0.9z" fill="#fff" fill-opacity="0.8"/>
<rect x="227.32" y="530.6" width="9.34" height="3.20" fill="#cce838"/>
<path d="M228.1 531.2h1.4v2.0h-1.4zM232.0 531.2h1.8v2.0h-1.8z" fill="#66aa30"/>
<path d="M229.6 531.2h2.1v2.0h-2.1zM234.1 531.2h1.8v2.0h-1.8z" fill="#4a9226"/>
<line x1="231.99" y1="535.2" x2="231.99" y2="536.2" stroke="#888" stroke-width="0.4"/>
<path d="M238.2 530.3V527.3H239.2V527.3H240.2V526.6H241.2V526.8H242.2V526.8H243.2V526.4H244.2V526.5H245.2V526.6H246.2V526.3H247.2V527.0H248.2V526.7H249.1V530.3ZM243.2 526.6h1.5v1.5h-1.5zM240.6 527.1h1.5v1.5h-1.5zM247.0 527.0h1.5v1.5h-1.5zM239.8 526.7h1.5v1.5h-1.5zM238.9 525.3h1.5v1.5h-1.5zM238.3 525.0h1.5v1.5h-1.5zM245.0 527.3h1.5v1.5h-1.5zM242.5 525.6h1.5v1.5h-1.5zM244.8 526.8h1.5v1.5h-1.5zM243.6 526.4h1.5v1.5h-1.5zM243.6 527.2h1.5v1.5h-1.5zM243.9 527.2h1.5v1.5h-1.5zM239.6 527.1h1.5v1.5h-1.5zM242.6 526.8h1.5v1.5h-1.5zM244.9 526.5h1.5v1.5h-1.5zM247.4 527.2h1.5v1.5h-1.5zM246.9 525.1h1.5v1.5h-1.5zM238.2 527.3h1.5v1.5h-1.5zM245.5 526.0h1.5v1.5h-1.5zM246.1 525.0h1.5v1.5h-1.5zM246.1 527.1h1.5v1.5h-1.5zM241.3 525.9h1.5v1.5h-1.5zM246.5 525.6h1.5v1.5h-1.5zM245.5 527.0h1.5v1.5h-1.5zM242.4 526.2h1.5v1.5h-1.5zM239.6 526.8h1.5v1.5h-1.5zM246.9 525.6h1.5v1.5h-1.5zM240.8 526.7h1.5v1.5h-1.5zM239.8 526.3h1.5v1.5h-1.5zM245.6 526.9h1.5v1.5h-1.5zM239.9 526.8h1.5v1.5h-1.5zM243.2 526.6h1.5v1.5h-1.5zM241.1 524.2h1.1v1.1h-1.1zM245.2 524.1h1.1v1.1h-1.1zM243.3 524.3h1.1v1.1h-1.1zM245.1 524.3h1.1v1.1h-1.1zM241.0 523.8h1.1v1.1h-1.1z" fill="#d98cc6"/>
<path d="M244.1 528.8h1.4v1.4h-1.4z" fill="#fff" fill-opacity="0.8"/>
<rect x="238.68" y="530.6" width="9.95" height="3.20" fill="#cce838"/>
<path d="M239.5 531.2h2.5v2.0h-2.5zM242.0 531.2h2.6v2.0h-2.6z" fill="#4a9226"/>
<path d="M244.9 531.2h1.9v2.0h-1.9zM246.8 531.2h1.1v2.0h-1.1z" fill="#66aa30"/>
<line x1="243.65" y1="535.2" x2="243.65" y2="536.2" stroke="#888" stroke-width="0.4"/>
<text x="243.65" y="539.20" font-size="2.8" fill="#222" text-anchor="middle" font-weight="bold" dominant-baseline="central" textLength="9" lengthAdjust="spacingAndGlyphs">Gm17</text>
<path d="M250.2 530.3V527.2H251.2V526.9H252.2V526.7H253.2V526.7H254.2V526.8H255.2V526.6H256.2V526.4H257.2V527.2H258.2V527.2H259.2V526.9H260.2V526.5H261.2V526.9H262.2V527.0H263.2V527.0H264.2V526.6H265.2V526.9H265.7V530.3ZM251.9 525.5h1.5v1.5h-1.5zM253.7 525.1h1.5v1.5h-1.5zM259.0 526.8h1.5v1.5h-1.5zM254.6 526.7h1.5v1.5h-1.5zM263.5 526.0h1.5v1.5h-1.5zM260.5 525.7h1.5v1.5h-1.5zM254.3 526.0h1.5v1.5h-1.5zM254.5 527.0h1.5v1.5h-1.5zM254.2 526.6h1.5v1.5h-1.5zM257.8 527.3h1.5v1.5h-1.5zM254.6 526.5h1.5v1.5h-1.5zM257.9 526.3h1.5v1.5h-1.5zM250.5 527.1h1.5v1.5h-1.5zM257.0 525.6h1.5v1.5h-1.5zM254.3 527.3h1.5v1.5h-1.5zM257.7 526.6h1.5v1.5h-1.5zM252.9 525.4h1.5v1.5h-1.5zM257.8 526.5h1.5v1.5h-1.5zM253.0 525.7h1.5v1.5h-1.5zM263.5 526.1h1.5v1.5h-1.5zM263.1 526.0h1.5v1.5h-1.5zM256.5 526.7h1.5v1.5h-1.5zM256.5 526.7h1.5v1.5h-1.5zM260.3 526.2h1.5v1.5h-1.5zM253.8 527.0h1.5v1.5h-1.5zM254.0 527.3h1.5v1.5h-1.5zM254.4 526.2h1.5v1.5h-1.5zM254.9 525.1h1.5v1.5h-1.5zM250.3 526.9h1.5v1.5h-1.5zM259.8 525.9h1.5v1.5h-1.5zM253.0 527.3h1.5v1.5h-1.5zM250.7 526.7h1.5v1.5h-1.5zM258.0 526.2h1.5v1.5h-1.5zM259.6 525.7h1.5v1.5h-1.5zM259.9 527.3h1.5v1.5h-1.5zM260.0 526.9h1.5v1.5h-1.5zM263.5 525.5h1.5v1.5h-1.5zM253.9 525.3h1.5v1.5h-1.5zM256.2 525.5h1.5v1.5h-1.5zM251.9 527.0h1.5v1.5h-1.5zM258.1 527.0h1.5v1.5h-1.5zM256.3 526.0h1.5v1.5h-1.5zM254.5 526.7h1.5v1.5h-1.5zM257.2 526.8h1.5v1.5h-1.5zM257.7 526.1h1.5v1.5h-1.5zM260.9 526.6h1.5v1.5h-1.5zM259.5 525.2h1.1v1.1h-1.1zM255.3 524.0h1.1v1.1h-1.1zM257.5 524.5h1.1v1.1h-1.1zM256.0 525.5h1.1v1.1h-1.1zM256.8 524.5h1.1v1.1h-1.1zM256.3 524.9h1.1v1.1h-1.1zM264.3 525.4h1.1v1.1h-1.1z" fill="#80d4b4"/>
<path d="M255.7 528.3h1.3v1.3h-1.3zM262.1 528.1h1.0v1.0h-1.0z" fill="#fff" fill-opacity="0.8"/>
<rect x="250.74" y="530.6" width="14.51" height="3.20" fill="#cce838"/>
<path d="M251.5 531.2h1.2v2.0h-1.2zM255.9 531.2h2.4v2.0h-2.4zM260.5 531.2h1.0v2.0h-1.0zM263.1 531.2h1.3v2.0h-1.3z" fill="#66aa30"/>
<path d="M252.7 531.2h2.1v2.0h-2.1zM254.8 531.2h1.1v2.0h-1.1z" fill="#a8d43a"/>
<path d="M258.3 531.2h1.9v2.0h-1.9zM261.5 531.2h1.3v2.0h-1.3z" fill="#4a9226"/>
<line x1="257.99" y1="535.2" x2="257.99" y2="536.2" stroke="#888" stroke-width="0.4"/>
<text x="257.99" y="539.20" font-size="2.8" fill="#222" text-anchor="middle" font-weight="bold" dominant-baseline="central" textLength="9" lengthAdjust="spacingAndGlyphs">Gm18</text>
<path d="M266.8 530.3V526.5H267.8V526.7H268.8V527.2H269.8V526.8H270.8V527.1H271.8V526.6H272.8V526.5H273.8V527.0H274.8V527.2H275.8V526.6H276.8V527.0H277.8V526.9H278.8V526.8H279.3V530.3ZM270.8 525.1h1.5v1.5h-1.5zM272.4 527.1h1.5v1.5h-1.5zM276.1 527.2h1.5v1.5h-1.5zM273.3 526.6h1.5v1.5h-1.5zM273.8 526.8h1.5v1.5h-1.5zM273.2 527.3h1.5v1.5h-1.5zM272.3 526.8h1.5v1.5h-1.5zM273.3 527.3h1.5v1.5h-1.5zM277.2 526.1h1.5v1.5h-1.5zM271.6 527.1h1.5v1.5h-1.5zM272.8 525.9h1.5v1.5h-1.5zM271.0 526.2h1.5v1.5h-1.5zM269.5 527.3h1.5v1.5h-1.5zM268.1 525.8h1.5v1.5h-1.5zM277.6 525.1h1.5v1.5h-1.5zM274.6 527.0h1.5v1.5h-1.5zM274.2 526.9h1.5v1.5h-1.5zM274.1 527.3h1.5v1.5h-1.5zM270.2 525.0h1.5v1.5h-1.5zM268.6 526.9h1.5v1.5h-1.5zM268.7 526.3h1.5v1.5h-1.5zM272.5 525.3h1.5v1.5h-1.5zM267.4 526.6h1.5v1.5h-1.5zM273.3 525.6h1.5v1.5h-1.5zM266.8 527.3h1.5v1.5h-1.5zM275.9 526.9h1.5v1.5h-1.5zM276.4 526.1h1.5v1.5h-1.5zM269.2 527.1h1.5v1.5h-1.5zM270.5 525.1h1.5v1.5h-1.5zM275.0 526.3h1.5v1.5h-1.5zM267.9 527.0h1.5v1.5h-1.5zM270.0 527.1h1.5v1.5h-1.5zM273.2 527.3h1.5v1.5h-1.5zM273.9 527.2h1.5v1.5h-1.5zM273.9 525.8h1.5v1.5h-1.5zM270.9 526.0h1.5v1.5h-1.5zM275.6 526.7h1.5v1.5h-1.5zM275.3 525.4h1.1v1.1h-1.1zM272.6 524.8h1.1v1.1h-1.1zM274.6 525.3h1.1v1.1h-1.1zM277.3 523.9h1.1v1.1h-1.1zM274.5 525.4h1.1v1.1h-1.1zM272.3 524.7h1.1v1.1h-1.1z" fill="#8a1535"/>
<path d="M277.3 528.6h0.9v0.9h-0.9zM274.1 528.1h1.0v1.0h-1.0z" fill="#fff" fill-opacity="0.8"/>
<rect x="267.26" y="530.6" width="11.57" height="3.20" fill="#cce838"/>
<path d="M268.1 531.2h1.3v2.0h-1.3zM272.7 531.2h1.9v2.0h-1.9zM274.5 531.2h1.9v2.0h-1.9z" fill="#4a9226"/>
<path d="M269.6 531.2h2.0v2.0h-2.0zM271.6 531.2h1.0v2.0h-1.0zM276.8 531.2h1.3v2.0h-1.3z" fill="#66aa30"/>
<line x1="273.04" y1="535.2" x2="273.04" y2="536.2" stroke="#888" stroke-width="0.4"/>
<text x="273.04" y="539.20" font-size="2.8" fill="#222" text-anchor="middle" font-weight="bold" dominant-baseline="central" textLength="9" lengthAdjust="spacingAndGlyphs">Gm19</text>
<path d="M280.5 530.3V527.3H281.5V526.4H282.5V526.9H283.5V526.4H284.5V526.5H285.5V526.9H286.5V527.0H287.5V527.1H288.5V526.5H289.5V526.4H290.5V527.1H291.5V526.7H292.5V530.3ZM286.3 525.7h1.5v1.5h-1.5zM284.0 525.8h1.5v1.5h-1.5zM285.6 527.2h1.5v1.5h-1.5zM288.1 526.9h1.5v1.5h-1.5zM288.2 525.7h1.5v1.5h-1.5zM285.6 527.2h1.5v1.5h-1.5zM287.4 526.2h1.5v1.5h-1.5zM281.0 525.6h1.5v1.5h-1.5zM287.8 526.9h1.5v1.5h-1.5zM285.0 526.7h1.5v1.5h-1.5zM287.3 526.5h1.5v1.5h-1.5zM280.7 525.5h1.5v1.5h-1.5zM289.3 526.7h1.5v1.5h-1.5zM288.4 525.9h1.5v1.5h-1.5zM284.1 527.3h1.5v1.5h-1.5zM282.4 527.0h1.5v1.5h-1.5zM284.3 526.0h1.5v1.5h-1.5zM290.9 527.2h1.5v1.5h-1.5zM287.3 526.5h1.5v1.5h-1.5zM289.2 527.2h1.5v1.5h-1.5zM286.8 526.3h1.5v1.5h-1.5zM285.2 525.4h1.5v1.5h-1.5zM290.2 526.9h1.5v1.5h-1.5zM289.4 526.5h1.5v1.5h-1.5zM289.9 527.0h1.5v1.5h-1.5zM280.8 526.8h1.5v1.5h-1.5zM285.2 527.3h1.5v1.5h-1.5zM290.5 525.1h1.5v1.5h-1.5zM289.8 527.3h1.5v1.5h-1.5zM285.2 525.7h1.5v1.5h-1.5zM288.8 526.2h1.5v1.5h-1.5zM286.8 525.5h1.5v1.5h-1.5zM289.5 527.3h1.5v1.5h-1.5zM280.7 525.7h1.5v1.5h-1.5zM284.2 526.8h1.5v1.5h-1.5zM288.9 523.9h1.1v1.1h-1.1zM282.3 524.4h1.1v1.1h-1.1zM287.6 525.3h1.1v1.1h-1.1zM284.4 525.2h1.1v1.1h-1.1zM285.3 523.9h1.1v1.1h-1.1z" fill="#1f7a5c"/>
<path d="M284.0 528.9h1.2v1.2h-1.2z" fill="#fff" fill-opacity="0.8"/>
<rect x="281.04" y="530.6" width="10.96" height="3.20" fill="#cce838"/>
<path d="M281.8 531.2h1.1v2.0h-1.1z" fill="#a8d43a"/>
<path d="M283.3 531.2h2.1v2.0h-2.1zM285.3 531.2h2.5v2.0h-2.5z" fill="#4a9226"/>
<path d="M287.8 531.2h2.3v2.0h-2.3zM290.4 531.2h0.8v2.0h-0.8z" fill="#66aa30"/>
<line x1="286.52" y1="535.2" x2="286.52" y2="536.2" stroke="#888" stroke-width="0.4"/>
<line x1="28.5" y1="535.2" x2="292.5" y2="535.2" stroke="#ddd" stroke-width="0.4"/>
<text x="28.20" y="539.20" font-size="2.8" fill="#222" text-anchor="middle" font-weight="bold" dominant-baseline="central" textLength="6" lengthAdjust="spacingAndGlyphs">Chr</text>
<text x="161.00" y="544.60" font-size="5.0" fill="#333" text-anchor="middle" font-weight="bold" dominant-baseline="central" textLength="33.6" lengthAdjust="spacingAndGlyphs">Chromosome</text>
<rect x="34.25" y="519.25" width="1.5" height="1.5" fill="#3d9ad9"/>
<rect x="47.95" y="522.85" width="1.5" height="1.5" fill="#f7b522"/>
<rect x="53.75" y="522.85" width="1.5" height="1.5" fill="#f7b522"/>
<rect x="102.25" y="471.55" width="1.5" height="1.5" fill="#f07020"/>
<rect x="138.15" y="514.85" width="1.5" height="1.5" fill="#8a1535"/>
<rect x="276.50" y="508.95" width="1.5" height="1.5" fill="#8a1535"/>
<rect x="160.25" y="519.25" width="1.5" height="1.5" fill="#1f7a5c"/>
<rect x="293.9" y="478.2" width="4.600000000000023" height="26.80000000000001" fill="url(#leg)"/>
<path d="M299.40 478.35h1.3v0.9h-1.3zM299.40 480.91h1.0v0.9h-1.0zM299.40 483.47h1.3v0.9h-1.3zM299.40 486.03h2.6v0.9h-2.6zM299.40 488.59h3.0v0.9h-3.0zM299.40 491.15h3.0v0.9h-3.0zM299.40 493.71h3.0v0.9h-3.0zM299.40 496.27h3.0v0.9h-3.0zM299.40 498.83h3.0v0.9h-3.0zM299.40 501.39h3.0v0.9h-3.0zM299.40 503.95h4.4v0.9h-4.4z" fill="#999"/>
<rect x="294.10" y="477.10" width="4.20" height="1" fill="#e0c8c8"/>
<text x="375.20" y="9.20" font-size="3.6" fill="#000" text-anchor="middle" font-weight="bold" dominant-baseline="central" textLength="56" lengthAdjust="spacingAndGlyphs">QQplot of BLUP_R1.FarmCPU</text>
<text x="319.5" y="36.3" font-size="5.6" fill="#222" text-anchor="middle" dominant-baseline="central" textLength="28" lengthAdjust="spacingAndGlyphs" transform="rotate(-90 319.5 36.3)">Observed -log<tspan font-size="3" dy="1">10</tspan><tspan dy="-1">(</tspan><tspan font-style="italic">p</tspan>)</text>
<text x="375.4" y="66.7" font-size="4.1" fill="#333" font-weight="bold" text-anchor="middle" dominant-baseline="central" textLength="46" lengthAdjust="spacingAndGlyphs">Expected  -log<tspan font-size="2.6" dy="0.8">10</tspan><tspan dy="-0.8">( </tspan><tspan font-style="italic">p</tspan> )</text>
<line x1="334.7" y1="57.6" x2="334.7" y2="15.60" stroke="#aaa" stroke-width="0.5"/>
<line x1="333.5" y1="57.60" x2="334.7" y2="57.60" stroke="#999" stroke-width="0.4"/>
<text x="329.50" y="57.60" font-size="2.4" fill="#222" text-anchor="middle" font-weight="bold" dominant-baseline="central" textLength="2.0" lengthAdjust="spacingAndGlyphs">0</text>
<line x1="333.5" y1="51.60" x2="334.7" y2="51.60" stroke="#999" stroke-width="0.4"/>
<text x="329.50" y="51.60" font-size="2.4" fill="#222" text-anchor="middle" font-weight="bold" dominant-baseline="central" textLength="2.0" lengthAdjust="spacingAndGlyphs">1</text>
<line x1="333.5" y1="45.60" x2="334.7" y2="45.60" stroke="#999" stroke-width="0.4"/>
<text x="329.50" y="45.60" font-size="2.4" fill="#222" text-anchor="middle" font-weight="bold" dominant-baseline="central" textLength="2.0" lengthAdjust="spacingAndGlyphs">2</text>
<line x1="333.5" y1="39.60" x2="334.7" y2="39.60" stroke="#999" stroke-width="0.4"/>
<text x="329.50" y="39.60" font-size="2.4" fill="#222" text-anchor="middle" font-weight="bold" dominant-baseline="central" textLength="2.0" lengthAdjust="spacingAndGlyphs">3</text>
<line x1="333.5" y1="33.60" x2="334.7" y2="33.60" stroke="#999" stroke-width="0.4"/>
<text x="329.50" y="33.60" font-size="2.4" fill="#222" text-anchor="middle" font-weight="bold" dominant-baseline="central" textLength="2.0" lengthAdjust="spacingAndGlyphs">4</text>
<line x1="333.5" y1="27.60" x2="334.7" y2="27.60" stroke="#999" stroke-width="0.4"/>
<text x="329.50" y="27.60" font-size="2.4" fill="#222" text-anchor="middle" font-weight="bold" dominant-baseline="central" textLength="2.0" lengthAdjust="spacingAndGlyphs">5</text>
<line x1="333.5" y1="21.60" x2="334.7" y2="21.60" stroke="#999" stroke-width="0.4"/>
<text x="329.50" y="21.60" font-size="2.4" fill="#222" text-anchor="middle" font-weight="bold" dominant-baseline="central" textLength="2.0" lengthAdjust="spacingAndGlyphs">6</text>
<line x1="333.5" y1="15.60" x2="334.7" y2="15.60" stroke="#999" stroke-width="0.4"/>
<text x="329.50" y="15.60" font-size="2.4" fill="#222" text-anchor="middle" font-weight="bold" dominant-baseline="central" textLength="2.0" lengthAdjust="spacingAndGlyphs">7</text>
<line x1="337.4" y1="60" x2="412.40" y2="60" stroke="#aaa" stroke-width="0.5"/>
<line x1="337.40" y1="60" x2="337.40" y2="61.2" stroke="#999" stroke-width="0.4"/>
<text x="337.40" y="63.20" font-size="2.6" fill="#333" text-anchor="middle" font-weight="normal" dominant-baseline="central">0</text>
<line x1="352.40" y1="60" x2="352.40" y2="61.2" stroke="#999" stroke-width="0.4"/>
<text x="352.40" y="63.20" font-size="2.6" fill="#333" text-anchor="middle" font-weight="normal" dominant-baseline="central">1</text>
<line x1="367.40" y1="60" x2="367.40" y2="61.2" stroke="#999" stroke-width="0.4"/>
<text x="367.40" y="63.20" font-size="2.6" fill="#333" text-anchor="middle" font-weight="normal" dominant-baseline="central">2</text>
<line x1="382.40" y1="60" x2="382.40" y2="61.2" stroke="#999" stroke-width="0.4"/>
<text x="382.40" y="63.20" font-size="2.6" fill="#333" text-anchor="middle" font-weight="normal" dominant-baseline="central">3</text>
<line x1="397.40" y1="60" x2="397.40" y2="61.2" stroke="#999" stroke-width="0.4"/>
<text x="397.40" y="63.20" font-size="2.6" fill="#333" text-anchor="middle" font-weight="normal" dominant-baseline="central">4</text>
<line x1="412.40" y1="60" x2="412.40" y2="61.2" stroke="#999" stroke-width="0.4"/>
<text x="412.40" y="63.20" font-size="2.6" fill="#333" text-anchor="middle" font-weight="normal" dominant-baseline="central">5</text>
<polygon points="384.5,38.1 390,34.7 394.4,31.2 399.6,25.4 399.6,35.8" fill="#7a7ac8" fill-opacity="0.7" stroke="#8080c8" stroke-width="0.3"/>
<line x1="337.4" y1="57.6" x2="416.00" y2="26.16" stroke="#e07878" stroke-width="0.7"/>
<polyline points="337.4,57.6 355,51.5 370,44.6 372.4,43.6 375.3,44.6 378.1,42.6 381.6,39.9 384,38.1" fill="none" stroke="#3434a4" stroke-width="1.2" stroke-linejoin="round" stroke-linecap="round"/>
<polyline points="384.5,35.8 386,34.2 389.1,33.5" fill="none" stroke="#3434a4" stroke-width="1.2" stroke-linejoin="round" stroke-linecap="round"/>
<rect x="390.2" y="24.1" width="1.4" height="1.4" fill="#30309a"/>
<rect x="391.3" y="23.8" width="1.4" height="1.4" fill="#30309a"/>
<rect x="394.3" y="21.8" width="1.4" height="1.4" fill="#30309a"/>
<rect x="398.90000000000003" y="18.900000000000002" width="1.4" height="1.4" fill="#30309a"/>
<text x="378.40" y="95.40" font-size="3.6" fill="#000" text-anchor="middle" font-weight="bold" dominant-baseline="central" textLength="60" lengthAdjust="spacingAndGlyphs">QQplot of BLUP_R2.FarmCPU</text>
<text x="318.7" y="124.2" font-size="5.6" fill="#222" text-anchor="middle" dominant-baseline="central" textLength="31" lengthAdjust="spacingAndGlyphs" transform="rotate(-90 318.7 124.2)">Observed -log<tspan font-size="3" dy="1">10</tspan><tspan dy="-1">(</tspan><tspan font-style="italic">p</tspan>)</text>
<text x="378.6" y="156.9" font-size="4.1" fill="#333" font-weight="bold" text-anchor="middle" dominant-baseline="central" textLength="48" lengthAdjust="spacingAndGlyphs">Expected  -log<tspan font-size="2.6" dy="0.8">10</tspan><tspan dy="-0.8">( </tspan><tspan font-style="italic">p</tspan> )</text>
<line x1="334.9" y1="147" x2="334.9" y2="106.76" stroke="#aaa" stroke-width="0.5"/>
<line x1="333.7" y1="147.00" x2="334.9" y2="147.00" stroke="#999" stroke-width="0.4"/>
<text x="329.70" y="147.00" font-size="2.4" fill="#222" text-anchor="middle" font-weight="bold" dominant-baseline="central" textLength="2.0" lengthAdjust="spacingAndGlyphs">0</text>
<line x1="333.7" y1="136.94" x2="334.9" y2="136.94" stroke="#999" stroke-width="0.4"/>
<text x="329.70" y="136.94" font-size="2.4" fill="#222" text-anchor="middle" font-weight="bold" dominant-baseline="central" textLength="2.0" lengthAdjust="spacingAndGlyphs">2</text>
<line x1="333.7" y1="126.88" x2="334.9" y2="126.88" stroke="#999" stroke-width="0.4"/>
<text x="329.70" y="126.88" font-size="2.4" fill="#222" text-anchor="middle" font-weight="bold" dominant-baseline="central" textLength="2.0" lengthAdjust="spacingAndGlyphs">4</text>
<line x1="333.7" y1="116.82" x2="334.9" y2="116.82" stroke="#999" stroke-width="0.4"/>
<text x="329.70" y="116.82" font-size="2.4" fill="#222" text-anchor="middle" font-weight="bold" dominant-baseline="central" textLength="2.0" lengthAdjust="spacingAndGlyphs">6</text>
<line x1="333.7" y1="106.76" x2="334.9" y2="106.76" stroke="#999" stroke-width="0.4"/>
<text x="329.70" y="106.76" font-size="2.4" fill="#222" text-anchor="middle" font-weight="bold" dominant-baseline="central" textLength="2.0" lengthAdjust="spacingAndGlyphs">8</text>
<line x1="338.3" y1="148.3" x2="418.30" y2="148.3" stroke="#aaa" stroke-width="0.5"/>
<line x1="338.30" y1="148.3" x2="338.30" y2="149.5" stroke="#999" stroke-width="0.4"/>
<text x="338.30" y="151.50" font-size="2.6" fill="#333" text-anchor="middle" font-weight="normal" dominant-baseline="central">0</text>
<line x1="354.30" y1="148.3" x2="354.30" y2="149.5" stroke="#999" stroke-width="0.4"/>
<text x="354.30" y="151.50" font-size="2.6" fill="#333" text-anchor="middle" font-weight="normal" dominant-baseline="central">1</text>
<line x1="370.30" y1="148.3" x2="370.30" y2="149.5" stroke="#999" stroke-width="0.4"/>
<text x="370.30" y="151.50" font-size="2.6" fill="#333" text-anchor="middle" font-weight="normal" dominant-baseline="central">2</text>
<line x1="386.30" y1="148.3" x2="386.30" y2="149.5" stroke="#999" stroke-width="0.4"/>
<text x="386.30" y="151.50" font-size="2.6" fill="#333" text-anchor="middle" font-weight="normal" dominant-baseline="central">3</text>
<line x1="402.30" y1="148.3" x2="402.30" y2="149.5" stroke="#999" stroke-width="0.4"/>
<text x="402.30" y="151.50" font-size="2.6" fill="#333" text-anchor="middle" font-weight="normal" dominant-baseline="central">4</text>
<line x1="418.30" y1="148.3" x2="418.30" y2="149.5" stroke="#999" stroke-width="0.4"/>
<text x="418.30" y="151.50" font-size="2.6" fill="#333" text-anchor="middle" font-weight="normal" dominant-baseline="central">5</text>
<polygon points="385.6,131 392,128.5 399,124.5 405,120 405,127.2" fill="#7a7ac8" fill-opacity="0.7" stroke="#8080c8" stroke-width="0.3"/>
<line x1="338.3" y1="147" x2="422.14" y2="120.64" stroke="#e07878" stroke-width="0.7"/>
<polyline points="338.3,147 365,139.4 378,135.3 381,133.6 385.6,130.6" fill="none" stroke="#3434a4" stroke-width="1.2" stroke-linejoin="round" stroke-linecap="round"/>
<polyline points="385.6,130.6 387.5,127 389.5,124 392,122 393.9,120.8" fill="none" stroke="#3434a4" stroke-width="1.3" stroke-dasharray="1.2 0.6"/>
<rect x="394.2" y="116.2" width="1.4" height="1.4" fill="#30309a"/>
<rect x="396.3" y="115.8" width="1.4" height="1.4" fill="#30309a"/>
<rect x="399.7" y="115.39999999999999" width="1.4" height="1.4" fill="#30309a"/>
<rect x="404.3" y="104.0" width="1.4" height="1.4" fill="#30309a"/>
<text x="379.80" y="181.60" font-size="3.6" fill="#000" text-anchor="middle" font-weight="bold" dominant-baseline="central" textLength="63" lengthAdjust="spacingAndGlyphs">QQplot of BLUP_R3.FarmCPU</text>
<text x="316.9" y="212.9" font-size="5.6" fill="#222" text-anchor="middle" dominant-baseline="central" textLength="31.6" lengthAdjust="spacingAndGlyphs" transform="rotate(-90 316.9 212.9)">Observed -log<tspan font-size="3" dy="1">10</tspan><tspan dy="-1">(</tspan><tspan font-style="italic">p</tspan>)</text>
<text x="381.5" y="247.7" font-size="4.1" fill="#333" font-weight="bold" text-anchor="middle" dominant-baseline="central" textLength="49.8" lengthAdjust="spacingAndGlyphs">Expected  -log<tspan font-size="2.6" dy="0.8">10</tspan><tspan dy="-0.8">( </tspan><tspan font-style="italic">p</tspan> )</text>
<line x1="333.4" y1="237.4" x2="333.4" y2="199.30" stroke="#aaa" stroke-width="0.5"/>
<line x1="332.2" y1="237.40" x2="333.4" y2="237.40" stroke="#999" stroke-width="0.4"/>
<text x="328.20" y="237.40" font-size="2.4" fill="#222" text-anchor="middle" font-weight="bold" dominant-baseline="central" textLength="2.0" lengthAdjust="spacingAndGlyphs">0</text>
<line x1="332.2" y1="224.70" x2="333.4" y2="224.70" stroke="#999" stroke-width="0.4"/>
<text x="328.20" y="224.70" font-size="2.4" fill="#222" text-anchor="middle" font-weight="bold" dominant-baseline="central" textLength="2.0" lengthAdjust="spacingAndGlyphs">5</text>
<line x1="332.2" y1="212.00" x2="333.4" y2="212.00" stroke="#999" stroke-width="0.4"/>
<text x="328.20" y="212.00" font-size="2.4" fill="#222" text-anchor="middle" font-weight="bold" dominant-baseline="central" textLength="4.0" lengthAdjust="spacingAndGlyphs">10</text>
<line x1="332.2" y1="199.30" x2="333.4" y2="199.30" stroke="#999" stroke-width="0.4"/>
<text x="328.20" y="199.30" font-size="2.4" fill="#222" text-anchor="middle" font-weight="bold" dominant-baseline="central" textLength="4.0" lengthAdjust="spacingAndGlyphs">15</text>
<line x1="337.4" y1="238.5" x2="423.75" y2="238.5" stroke="#aaa" stroke-width="0.5"/>
<line x1="337.40" y1="238.5" x2="337.40" y2="239.7" stroke="#999" stroke-width="0.4"/>
<text x="337.40" y="241.70" font-size="2.6" fill="#333" text-anchor="middle" font-weight="normal" dominant-baseline="central">0</text>
<line x1="354.67" y1="238.5" x2="354.67" y2="239.7" stroke="#999" stroke-width="0.4"/>
<text x="354.67" y="241.70" font-size="2.6" fill="#333" text-anchor="middle" font-weight="normal" dominant-baseline="central">1</text>
<line x1="371.94" y1="238.5" x2="371.94" y2="239.7" stroke="#999" stroke-width="0.4"/>
<text x="371.94" y="241.70" font-size="2.6" fill="#333" text-anchor="middle" font-weight="normal" dominant-baseline="central">2</text>
<line x1="389.21" y1="238.5" x2="389.21" y2="239.7" stroke="#999" stroke-width="0.4"/>
<text x="389.21" y="241.70" font-size="2.6" fill="#333" text-anchor="middle" font-weight="normal" dominant-baseline="central">3</text>
<line x1="406.48" y1="238.5" x2="406.48" y2="239.7" stroke="#999" stroke-width="0.4"/>
<text x="406.48" y="241.70" font-size="2.6" fill="#333" text-anchor="middle" font-weight="normal" dominant-baseline="central">4</text>
<line x1="423.75" y1="238.5" x2="423.75" y2="239.7" stroke="#999" stroke-width="0.4"/>
<text x="423.75" y="241.70" font-size="2.6" fill="#333" text-anchor="middle" font-weight="normal" dominant-baseline="central">5</text>
<polygon points="389.1,228.6 409,223.2 409,227" fill="#7a7ac8" fill-opacity="0.7" stroke="#8080c8" stroke-width="0.3"/>
<line x1="337.4" y1="237.4" x2="427.89" y2="224.09" stroke="#e07878" stroke-width="0.7"/>
<polyline points="337.4,237.4 365,233.9 380,231.2 386.4,230.5 389.1,228.2 391.8,227 395,225.5 397.7,224.5" fill="none" stroke="#3434a4" stroke-width="1.2" stroke-linejoin="round" stroke-linecap="round"/>
<rect x="399.8" y="223.20000000000002" width="1.4" height="1.4" fill="#30309a"/>
<rect x="403.1" y="219.60000000000002" width="1.4" height="1.4" fill="#30309a"/>
<rect x="408.2" y="188.4" width="1.4" height="1.4" fill="#30309a"/>
<text x="378.90" y="293.00" font-size="3.6" fill="#000" text-anchor="middle" font-weight="bold" dominant-baseline="central" textLength="54" lengthAdjust="spacingAndGlyphs">QQplot of BLUP_R4.FarmCPU</text>
<text x="324.5" y="322.3" font-size="5.6" fill="#222" text-anchor="middle" dominant-baseline="central" textLength="30.5" lengthAdjust="spacingAndGlyphs" transform="rotate(-90 324.5 322.3)">Observed -log<tspan font-size="3" dy="1">10</tspan><tspan dy="-1">(</tspan><tspan font-style="italic">p</tspan>)</text>
<text x="379.2" y="355" font-size="4.1" fill="#333" font-weight="bold" text-anchor="middle" dominant-baseline="central" textLength="42.8" lengthAdjust="spacingAndGlyphs">Expected  -log<tspan font-size="2.6" dy="0.8">10</tspan><tspan dy="-0.8">( </tspan><tspan font-style="italic">p</tspan> )</text>
<line x1="338.8" y1="345" x2="338.8" y2="299.92" stroke="#aaa" stroke-width="0.5"/>
<line x1="337.6" y1="345.00" x2="338.8" y2="345.00" stroke="#999" stroke-width="0.4"/>
<text x="333.60" y="345.00" font-size="2.4" fill="#222" text-anchor="middle" font-weight="bold" dominant-baseline="central" textLength="2.0" lengthAdjust="spacingAndGlyphs">0</text>
<line x1="337.6" y1="338.56" x2="338.8" y2="338.56" stroke="#999" stroke-width="0.4"/>
<text x="333.60" y="338.56" font-size="2.4" fill="#222" text-anchor="middle" font-weight="bold" dominant-baseline="central" textLength="2.0" lengthAdjust="spacingAndGlyphs">2</text>
<line x1="337.6" y1="332.12" x2="338.8" y2="332.12" stroke="#999" stroke-width="0.4"/>
<text x="333.60" y="332.12" font-size="2.4" fill="#222" text-anchor="middle" font-weight="bold" dominant-baseline="central" textLength="2.0" lengthAdjust="spacingAndGlyphs">4</text>
<line x1="337.6" y1="325.68" x2="338.8" y2="325.68" stroke="#999" stroke-width="0.4"/>
<text x="333.60" y="325.68" font-size="2.4" fill="#222" text-anchor="middle" font-weight="bold" dominant-baseline="central" textLength="2.0" lengthAdjust="spacingAndGlyphs">6</text>
<line x1="337.6" y1="319.24" x2="338.8" y2="319.24" stroke="#999" stroke-width="0.4"/>
<text x="333.60" y="319.24" font-size="2.4" fill="#222" text-anchor="middle" font-weight="bold" dominant-baseline="central" textLength="2.0" lengthAdjust="spacingAndGlyphs">8</text>
<line x1="337.6" y1="312.80" x2="338.8" y2="312.80" stroke="#999" stroke-width="0.4"/>
<text x="333.60" y="312.80" font-size="2.4" fill="#222" text-anchor="middle" font-weight="bold" dominant-baseline="central" textLength="4.0" lengthAdjust="spacingAndGlyphs">10</text>
<line x1="337.6" y1="306.36" x2="338.8" y2="306.36" stroke="#999" stroke-width="0.4"/>
<text x="333.60" y="306.36" font-size="2.4" fill="#222" text-anchor="middle" font-weight="bold" dominant-baseline="central" textLength="4.0" lengthAdjust="spacingAndGlyphs">12</text>
<line x1="337.6" y1="299.92" x2="338.8" y2="299.92" stroke="#999" stroke-width="0.4"/>
<text x="333.60" y="299.92" font-size="2.4" fill="#222" text-anchor="middle" font-weight="bold" dominant-baseline="central" textLength="4.0" lengthAdjust="spacingAndGlyphs">14</text>
<line x1="342" y1="347" x2="415.20" y2="347" stroke="#aaa" stroke-width="0.5"/>
<line x1="342.00" y1="347" x2="342.00" y2="348.2" stroke="#999" stroke-width="0.4"/>
<text x="342.00" y="350.20" font-size="2.6" fill="#333" text-anchor="middle" font-weight="normal" dominant-baseline="central">0</text>
<line x1="356.64" y1="347" x2="356.64" y2="348.2" stroke="#999" stroke-width="0.4"/>
<text x="356.64" y="350.20" font-size="2.6" fill="#333" text-anchor="middle" font-weight="normal" dominant-baseline="central">1</text>
<line x1="371.28" y1="347" x2="371.28" y2="348.2" stroke="#999" stroke-width="0.4"/>
<text x="371.28" y="350.20" font-size="2.6" fill="#333" text-anchor="middle" font-weight="normal" dominant-baseline="central">2</text>
<line x1="385.92" y1="347" x2="385.92" y2="348.2" stroke="#999" stroke-width="0.4"/>
<text x="385.92" y="350.20" font-size="2.6" fill="#333" text-anchor="middle" font-weight="normal" dominant-baseline="central">3</text>
<line x1="400.56" y1="347" x2="400.56" y2="348.2" stroke="#999" stroke-width="0.4"/>
<text x="400.56" y="350.20" font-size="2.6" fill="#333" text-anchor="middle" font-weight="normal" dominant-baseline="central">4</text>
<line x1="415.20" y1="347" x2="415.20" y2="348.2" stroke="#999" stroke-width="0.4"/>
<text x="415.20" y="350.20" font-size="2.6" fill="#333" text-anchor="middle" font-weight="normal" dominant-baseline="central">5</text>
<polygon points="387.8,333.4 402.5,327.7 402.5,332.6" fill="#7a7ac8" fill-opacity="0.7" stroke="#8080c8" stroke-width="0.3"/>
<line x1="342" y1="345" x2="418.71" y2="328.13" stroke="#e07878" stroke-width="0.7"/>
<polyline points="342,345 365,340 380,335.5 387.8,333.2" fill="none" stroke="#3434a4" stroke-width="1.2" stroke-linejoin="round" stroke-linecap="round"/>
<polyline points="387.8,333.2 390,330 392.3,326.5 393.5,324.5 396.8,323.2" fill="none" stroke="#3434a4" stroke-width="1.3" stroke-dasharray="1.2 0.6"/>
<rect x="397.7" y="317.6" width="1.4" height="1.4" fill="#30309a"/>
<rect x="402.2" y="300.2" width="1.4" height="1.4" fill="#30309a"/>
<text x="383.90" y="382.40" font-size="3.6" fill="#000" text-anchor="middle" font-weight="bold" dominant-baseline="central" textLength="59" lengthAdjust="spacingAndGlyphs">QQplot of BLUP_R5.FarmCPU</text>
<text x="324.9" y="414.1" font-size="5.6" fill="#222" text-anchor="middle" dominant-baseline="central" textLength="33" lengthAdjust="spacingAndGlyphs" transform="rotate(-90 324.9 414.1)">Observed -log<tspan font-size="3" dy="1">10</tspan><tspan dy="-1">(</tspan><tspan font-style="italic">p</tspan>)</text>
<text x="383.8" y="450.2" font-size="4.1" fill="#333" font-weight="bold" text-anchor="middle" dominant-baseline="central" textLength="47.5" lengthAdjust="spacingAndGlyphs">Expected  -log<tspan font-size="2.6" dy="0.8">10</tspan><tspan dy="-0.8">( </tspan><tspan font-style="italic">p</tspan> )</text>
<line x1="340.4" y1="439" x2="340.4" y2="394.30" stroke="#aaa" stroke-width="0.5"/>
<line x1="339.2" y1="439.00" x2="340.4" y2="439.00" stroke="#999" stroke-width="0.4"/>
<text x="335.20" y="439.00" font-size="2.4" fill="#222" text-anchor="middle" font-weight="bold" dominant-baseline="central" textLength="2.0" lengthAdjust="spacingAndGlyphs">0</text>
<line x1="339.2" y1="427.82" x2="340.4" y2="427.82" stroke="#999" stroke-width="0.4"/>
<text x="335.20" y="427.82" font-size="2.4" fill="#222" text-anchor="middle" font-weight="bold" dominant-baseline="central" textLength="2.0" lengthAdjust="spacingAndGlyphs">5</text>
<line x1="339.2" y1="416.65" x2="340.4" y2="416.65" stroke="#999" stroke-width="0.4"/>
<text x="335.20" y="416.65" font-size="2.4" fill="#222" text-anchor="middle" font-weight="bold" dominant-baseline="central" textLength="4.0" lengthAdjust="spacingAndGlyphs">10</text>
<line x1="339.2" y1="405.48" x2="340.4" y2="405.48" stroke="#999" stroke-width="0.4"/>
<text x="335.20" y="405.48" font-size="2.4" fill="#222" text-anchor="middle" font-weight="bold" dominant-baseline="central" textLength="4.0" lengthAdjust="spacingAndGlyphs">15</text>
<line x1="339.2" y1="394.30" x2="340.4" y2="394.30" stroke="#999" stroke-width="0.4"/>
<text x="335.20" y="394.30" font-size="2.4" fill="#222" text-anchor="middle" font-weight="bold" dominant-baseline="central" textLength="4.0" lengthAdjust="spacingAndGlyphs">20</text>
<line x1="344.4" y1="440.5" x2="423.00" y2="440.5" stroke="#aaa" stroke-width="0.5"/>
<line x1="344.40" y1="440.5" x2="344.40" y2="441.7" stroke="#999" stroke-width="0.4"/>
<text x="344.40" y="443.70" font-size="2.6" fill="#333" text-anchor="middle" font-weight="normal" dominant-baseline="central">0</text>
<line x1="360.12" y1="440.5" x2="360.12" y2="441.7" stroke="#999" stroke-width="0.4"/>
<text x="360.12" y="443.70" font-size="2.6" fill="#333" text-anchor="middle" font-weight="normal" dominant-baseline="central">1</text>
<line x1="375.84" y1="440.5" x2="375.84" y2="441.7" stroke="#999" stroke-width="0.4"/>
<text x="375.84" y="443.70" font-size="2.6" fill="#333" text-anchor="middle" font-weight="normal" dominant-baseline="central">2</text>
<line x1="391.56" y1="440.5" x2="391.56" y2="441.7" stroke="#999" stroke-width="0.4"/>
<text x="391.56" y="443.70" font-size="2.6" fill="#333" text-anchor="middle" font-weight="normal" dominant-baseline="central">3</text>
<line x1="407.28" y1="440.5" x2="407.28" y2="441.7" stroke="#999" stroke-width="0.4"/>
<text x="407.28" y="443.70" font-size="2.6" fill="#333" text-anchor="middle" font-weight="normal" dominant-baseline="central">4</text>
<line x1="423.00" y1="440.5" x2="423.00" y2="441.7" stroke="#999" stroke-width="0.4"/>
<text x="423.00" y="443.70" font-size="2.6" fill="#333" text-anchor="middle" font-weight="normal" dominant-baseline="central">5</text>
<polygon points="392,431 409.5,427.2 409.5,430.5" fill="#7a7ac8" fill-opacity="0.7" stroke="#8080c8" stroke-width="0.3"/>
<line x1="344.4" y1="439" x2="426.77" y2="427.29" stroke="#e07878" stroke-width="0.7"/>
<polyline points="344.4,439 365,436.4 382,434 391,431.5" fill="none" stroke="#3434a4" stroke-width="1.2" stroke-linejoin="round" stroke-linecap="round"/>
<polyline points="391,431.5 392.5,430 393.5,429 397,427 400.5,425.5 402.5,424.5" fill="none" stroke="#3434a4" stroke-width="1.3" stroke-dasharray="1.2 0.6"/>
<rect x="404.3" y="413.8" width="1.4" height="1.4" fill="#30309a"/>
<rect x="409.1" y="388.8" width="1.4" height="1.4" fill="#30309a"/>
<text x="385.20" y="476.50" font-size="3.6" fill="#000" text-anchor="middle" font-weight="bold" dominant-baseline="central" textLength="58" lengthAdjust="spacingAndGlyphs">QQplot of BLUP_R6.FarmCPU</text>
<text x="326.7" y="508.1" font-size="5.6" fill="#222" text-anchor="middle" dominant-baseline="central" textLength="33" lengthAdjust="spacingAndGlyphs" transform="rotate(-90 326.7 508.1)">Observed -log<tspan font-size="3" dy="1">10</tspan><tspan dy="-1">(</tspan><tspan font-style="italic">p</tspan>)</text>
<text x="385" y="543.7" font-size="4.1" fill="#333" font-weight="bold" text-anchor="middle" dominant-baseline="central" textLength="47.5" lengthAdjust="spacingAndGlyphs">Expected  -log<tspan font-size="2.6" dy="0.8">10</tspan><tspan dy="-0.8">( </tspan><tspan font-style="italic">p</tspan> )</text>
<line x1="341.4" y1="532.3" x2="341.4" y2="488.20" stroke="#aaa" stroke-width="0.5"/>
<line x1="340.2" y1="532.30" x2="341.4" y2="532.30" stroke="#999" stroke-width="0.4"/>
<text x="336.20" y="532.30" font-size="2.4" fill="#222" text-anchor="middle" font-weight="bold" dominant-baseline="central" textLength="2.0" lengthAdjust="spacingAndGlyphs">0</text>
<line x1="340.2" y1="524.95" x2="341.4" y2="524.95" stroke="#999" stroke-width="0.4"/>
<text x="336.20" y="524.95" font-size="2.4" fill="#222" text-anchor="middle" font-weight="bold" dominant-baseline="central" textLength="2.0" lengthAdjust="spacingAndGlyphs">5</text>
<line x1="340.2" y1="517.60" x2="341.4" y2="517.60" stroke="#999" stroke-width="0.4"/>
<text x="336.20" y="517.60" font-size="2.4" fill="#222" text-anchor="middle" font-weight="bold" dominant-baseline="central" textLength="4.0" lengthAdjust="spacingAndGlyphs">10</text>
<line x1="340.2" y1="510.25" x2="341.4" y2="510.25" stroke="#999" stroke-width="0.4"/>
<text x="336.20" y="510.25" font-size="2.4" fill="#222" text-anchor="middle" font-weight="bold" dominant-baseline="central" textLength="4.0" lengthAdjust="spacingAndGlyphs">15</text>
<line x1="340.2" y1="502.90" x2="341.4" y2="502.90" stroke="#999" stroke-width="0.4"/>
<text x="336.20" y="502.90" font-size="2.4" fill="#222" text-anchor="middle" font-weight="bold" dominant-baseline="central" textLength="4.0" lengthAdjust="spacingAndGlyphs">20</text>
<line x1="340.2" y1="495.55" x2="341.4" y2="495.55" stroke="#999" stroke-width="0.4"/>
<text x="336.20" y="495.55" font-size="2.4" fill="#222" text-anchor="middle" font-weight="bold" dominant-baseline="central" textLength="4.0" lengthAdjust="spacingAndGlyphs">25</text>
<line x1="340.2" y1="488.20" x2="341.4" y2="488.20" stroke="#999" stroke-width="0.4"/>
<text x="336.20" y="488.20" font-size="2.4" fill="#222" text-anchor="middle" font-weight="bold" dominant-baseline="central" textLength="4.0" lengthAdjust="spacingAndGlyphs">30</text>
<line x1="345" y1="534.5" x2="424.40" y2="534.5" stroke="#aaa" stroke-width="0.5"/>
<line x1="345.00" y1="534.5" x2="345.00" y2="535.7" stroke="#999" stroke-width="0.4"/>
<text x="345.00" y="537.70" font-size="2.6" fill="#333" text-anchor="middle" font-weight="normal" dominant-baseline="central">0</text>
<line x1="360.88" y1="534.5" x2="360.88" y2="535.7" stroke="#999" stroke-width="0.4"/>
<text x="360.88" y="537.70" font-size="2.6" fill="#333" text-anchor="middle" font-weight="normal" dominant-baseline="central">1</text>
<line x1="376.76" y1="534.5" x2="376.76" y2="535.7" stroke="#999" stroke-width="0.4"/>
<text x="376.76" y="537.70" font-size="2.6" fill="#333" text-anchor="middle" font-weight="normal" dominant-baseline="central">2</text>
<line x1="392.64" y1="534.5" x2="392.64" y2="535.7" stroke="#999" stroke-width="0.4"/>
<text x="392.64" y="537.70" font-size="2.6" fill="#333" text-anchor="middle" font-weight="normal" dominant-baseline="central">3</text>
<line x1="408.52" y1="534.5" x2="408.52" y2="535.7" stroke="#999" stroke-width="0.4"/>
<text x="408.52" y="537.70" font-size="2.6" fill="#333" text-anchor="middle" font-weight="normal" dominant-baseline="central">4</text>
<line x1="424.40" y1="534.5" x2="424.40" y2="535.7" stroke="#999" stroke-width="0.4"/>
<text x="424.40" y="537.70" font-size="2.6" fill="#333" text-anchor="middle" font-weight="normal" dominant-baseline="central">5</text>
<polygon points="392,527.2 411,524.5 411,527" fill="#7a7ac8" fill-opacity="0.7" stroke="#8080c8" stroke-width="0.3"/>
<line x1="345" y1="532.3" x2="428.21" y2="524.60" stroke="#e07878" stroke-width="0.7"/>
<polyline points="345,532.3 365,531 382,529.2 392,527 394.5,525.5 397,524.8 402,524.2" fill="none" stroke="#3434a4" stroke-width="1.2" stroke-linejoin="round" stroke-linecap="round"/>
<rect x="402.8" y="520.3" width="1.4" height="1.4" fill="#30309a"/>
<rect x="405.8" y="515.3" width="1.4" height="1.4" fill="#30309a"/>
<rect x="410.5" y="483.5" width="1.4" height="1.4" fill="#30309a"/>
</svg></body></html>
